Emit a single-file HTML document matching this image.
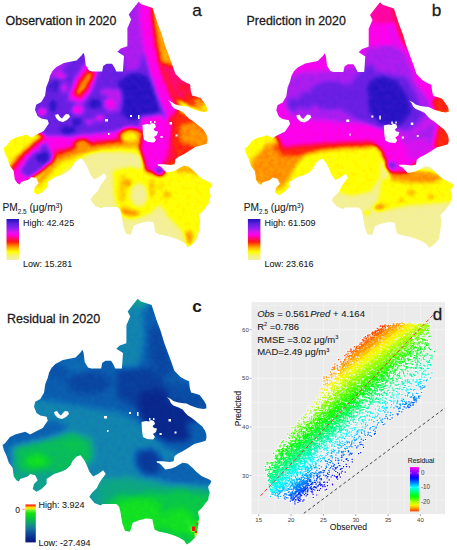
<!DOCTYPE html><html><head><meta charset="utf-8"><style>
html,body{margin:0;padding:0;background:#fff;width:457px;height:550px;overflow:hidden}
svg{display:block}
text{font-family:"Liberation Sans",sans-serif;fill:#1a1a1a;stroke:#1a1a1a;stroke-width:0.08px}
text.t{stroke-width:0.28px}
</style></head><body>
<svg width="457" height="550" viewBox="0 0 457 550">
<defs>
<clipPath id="ol"><path d="M138.7,1.8 L141.3,4.3 L152.6,8 L155.1,15.6 L157.6,23.2 L161.4,33.2 L165.2,45.8 L169,55.9 L172.7,66 L175.2,73.5 L181.5,80 L186.9,83 L190.1,84.3 L190.8,90.9 L192.1,95.5 L196.7,96.8 L200.6,98.1 L203.3,101.4 L205.9,105.3 L207.2,107.9 L207.5,111.2 L204.6,111.9 L199.3,111.2 L195.4,109.9 L191.4,108.6 L187.5,106.6 L182.3,106 L178.3,105.3 L174.4,104 L171.8,102 L168,100 L170.4,102.7 L171.8,106 L174.4,108.6 L179.6,110.6 L183.6,112.5 L186.2,115.8 L188.8,118.4 L192.1,120.4 L195.4,123 L199.3,126.3 L203.3,129.6 L205.9,133.5 L207.2,136.8 L207.5,140.4 L206.6,143.7 L201.7,145.3 L195.2,147 L190.2,150.2 L183.7,154.3 L178.7,156.8 L175.5,159.3 L174.6,164.2 L170.5,165 L164,164.2 L157.4,164.2 L158.2,165.8 L160.7,166.6 L164,169.9 L166.4,172.4 L172.2,171.6 L176.3,169.9 L180.4,167.5 L183.7,165.8 L188.6,166.6 L193.5,170.7 L197.6,174.9 L202.5,179 L205.8,180.6 L209.9,182.2 L212.4,183.9 L211.6,186.3 L209.1,189.6 L209.9,192.9 L210.8,195.4 L209.9,198.6 L209.1,203 L207.9,204.6 L202.8,211 L199,214.8 L200.2,221.1 L199,230 L197.7,237.7 L195.1,241.5 L191.3,245.3 L187.8,247.4 L185,243.5 L180,240.5 L174.5,238.2 L167.2,236 L159.5,234.5 L155.5,232.5 L153.2,222 L146.8,221.5 L139.2,223.5 L133.7,225.8 L131,234.8 L126,233.8 L123.5,227 L122.4,221 L121.4,214.8 L120.1,209.7 L117.5,207.1 L111.2,207.1 L103.5,207.1 L101.7,208.5 L95.4,206 L90.3,199.7 L92.8,195.9 L97.9,190.9 L100.4,185.8 L102.9,182.1 L106.7,177 L104.2,173.3 L99.1,177 L94.1,179.6 L90.3,174.5 L87.8,168.2 L85.3,163.2 L81.5,158.2 L77.7,159.4 L74,163.2 L71.5,168.2 L67.7,172 L62.7,174.5 L55.1,177 L47.6,182.1 L47.6,187.1 L42.5,192.1 L37.5,194.7 L33.7,192.1 L35,187.1 L38.7,183.3 L36.2,178.3 L31.2,177 L28.7,179.6 L21.1,182 L19.9,184.6 L17.4,183.3 L14.8,179.6 L13.6,170.7 L9.8,165.7 L7.3,158.2 L4.8,153.1 L3.5,148.1 L6,146.2 L11,139.9 L16.1,137.4 L26.2,134.8 L31.2,137.4 L36.2,134.8 L43.8,131 L46.3,127.3 L48.8,123.5 L47.6,119.7 L41.3,118.5 L37.5,116 L35,109.7 L36.2,104.7 L41.3,102.1 L45,95.8 L46.3,87 L48.8,80.7 L50,75.7 L52.6,70.7 L56.4,66.9 L63.9,63.1 L76.5,60.6 L81.5,55.6 L83.5,52.8 L84.6,56.1 L85.7,64.9 L89,70.4 L92.3,71.4 L102.1,71.4 L103.2,66 L106.5,63.8 L112,63.8 L114.2,67 L116.3,71.4 L122.9,71.4 L124,56.1 L117.4,51.8 L120.7,48.5 L127.3,46.3 L127.4,43.3 L127.4,28.2 L131.2,19.4 L128.7,14.4 L133.7,8Z"/></clipPath>
<filter id="cmab" x="-5%" y="-5%" width="110%" height="110%" color-interpolation-filters="sRGB">
<feGaussianBlur stdDeviation="2.2" result="bl"/>
<feTurbulence type="fractalNoise" baseFrequency="0.22" numOctaves="2" seed="3" result="nz"/>
<feColorMatrix in="nz" type="matrix" values="1 0 0 0 0  1 0 0 0 0  1 0 0 0 0  0 0 0 0 1" result="ng"/>
<feComposite in="bl" in2="ng" operator="arithmetic" k1="0" k2="1" k3="0.05" k4="-0.025" result="sum"/>
<feComposite in="sum" in2="bl" operator="in"/>
<feComponentTransfer><feFuncR type="table" tableValues="0.953 0.956 0.959 0.962 0.965 0.974 0.982 0.991 1.000 1.000 1.000 1.000 1.000 1.000 1.000 1.000 1.000 1.000 1.000 1.000 1.000 1.000 1.000 1.000 1.000 0.987 0.919 0.852 0.784 0.716 0.647 0.578 0.527 0.480 0.433 0.386 0.335 0.282 0.230 0.178 0.125"/><feFuncG type="table" tableValues="0.937 0.940 0.943 0.946 0.949 0.962 0.975 0.987 1.000 0.923 0.845 0.768 0.690 0.592 0.494 0.393 0.281 0.169 0.094 0.075 0.055 0.037 0.027 0.018 0.008 0.006 0.035 0.065 0.094 0.104 0.114 0.124 0.125 0.125 0.125 0.125 0.115 0.102 0.089 0.076 0.063"/><feFuncB type="table" tableValues="0.651 0.608 0.565 0.522 0.478 0.359 0.239 0.120 0.000 0.000 0.000 0.000 0.000 0.000 0.000 0.004 0.027 0.049 0.110 0.227 0.345 0.464 0.590 0.715 0.841 0.941 0.941 0.941 0.941 0.941 0.941 0.941 0.929 0.913 0.897 0.882 0.858 0.831 0.805 0.779 0.753"/><feFuncA type="linear" slope="1" intercept="0"/></feComponentTransfer>
</filter>
<filter id="cmc" x="-5%" y="-5%" width="110%" height="110%" color-interpolation-filters="sRGB">
<feGaussianBlur stdDeviation="3.2" result="bl"/>
<feTurbulence type="fractalNoise" baseFrequency="0.22" numOctaves="2" seed="3" result="nz"/>
<feColorMatrix in="nz" type="matrix" values="1 0 0 0 0  1 0 0 0 0  1 0 0 0 0  0 0 0 0 1" result="ng"/>
<feComposite in="bl" in2="ng" operator="arithmetic" k1="0" k2="1" k3="0.05" k4="-0.025" result="sum"/>
<feComposite in="sum" in2="bl" operator="in"/>
<feComponentTransfer><feFuncR type="table" tableValues="0.031 0.034 0.036 0.039 0.039 0.039 0.039 0.039 0.039 0.039 0.040 0.043 0.045 0.049 0.056 0.063 0.071 0.068 0.066 0.063 0.057 0.050 0.042 0.038 0.035 0.033 0.035 0.045 0.055 0.075 0.138 0.201 0.264 0.350 0.533 0.716 0.876 1.000 1.000 1.000 1.000"/><feFuncG type="table" tableValues="0.102 0.122 0.141 0.161 0.182 0.204 0.226 0.251 0.278 0.305 0.333 0.363 0.392 0.422 0.454 0.486 0.518 0.547 0.576 0.606 0.631 0.656 0.680 0.708 0.737 0.767 0.796 0.825 0.855 0.885 0.915 0.945 0.976 1.000 1.000 1.000 1.000 0.938 0.626 0.314 0.000"/><feFuncB type="table" tableValues="0.502 0.522 0.541 0.561 0.576 0.591 0.606 0.622 0.639 0.656 0.672 0.684 0.696 0.705 0.700 0.695 0.690 0.661 0.631 0.602 0.557 0.508 0.459 0.410 0.361 0.312 0.263 0.214 0.165 0.129 0.144 0.160 0.176 0.183 0.157 0.131 0.063 0.000 0.000 0.000 0.000"/><feFuncA type="linear" slope="1" intercept="0"/></feComponentTransfer>
</filter>
</defs>
<g transform="translate(0,0)"><g clip-path="url(#ol)"><g filter="url(#cmab)">
<rect x="-10" y="-10" width="240" height="280" fill="#080808"/>
<polygon points="50,160 60,150 80,145 100,143 125,141 145,145 148,156 125,153 100,152 85,156 70,165 58,175 50,178" fill="#333333"/>
<polygon points="15,190 30,178 45,168 58,160 62,172 50,185 40,198 28,200" fill="#333333"/>
<polygon points="148,165 165,160 185,163 200,168 215,185 210,210 200,232 190,250 180,230 168,218 160,205 150,195" fill="#333333"/>
<polygon points="112,170 130,166 150,170 160,185 160,205 150,215 130,221 118,215 113,195" fill="#333333"/>
<ellipse cx="139" cy="195" rx="8" ry="11" fill="#080808"/>
<polygon points="120,176 124,174 126,190 123,204 119,200" fill="#474747"/>
<polygon points="122,207 130,210 140,212 137,216 126,215 121,212" fill="#5c5c5c"/>
<polygon points="150,179 155,182 154,195 150,199 148,190" fill="#474747"/>
<ellipse cx="167" cy="195" rx="3" ry="3" fill="#545454"/>
<ellipse cx="128" cy="183" rx="2.5" ry="2.5" fill="#6e6e6e"/>
<ellipse cx="161" cy="186" rx="2" ry="2" fill="#545454"/>
<ellipse cx="189" cy="238" rx="4" ry="8" fill="#545454"/>
<ellipse cx="131" cy="136" rx="11" ry="7" fill="#333333"/>
<ellipse cx="120" cy="140" rx="5" ry="3" fill="#545454"/>
<polygon points="-5,150 5,136 20,127 35,124 52,122 45,135 30,150 18,165 8,178 -5,178" fill="#333333"/>
<polygon points="6,172 16,158 30,145 45,133 56,130 45,144 30,160 18,176" fill="#6e6e6e"/>
<polygon points="8,186 12,172 24,156 38,143 53,132 72,128 68,141 54,154 42,166 32,177 20,190" fill="#9e9e9e"/>
<polygon points="26,197 36,183 50,169 64,158 85,152 82,162 64,172 52,185 40,198" fill="#333333"/>
<polygon points="30,186 40,176 52,164 62,157 58,165 48,176 38,186" fill="#545454"/>
<polygon points="20,172 28,158 42,145 56,134 78,128 80,136 70,146 56,158 42,170 30,178" fill="#dbdbdb"/>
<ellipse cx="40" cy="152" rx="3" ry="3" fill="#9e9e9e"/>
<ellipse cx="58" cy="140" rx="3" ry="2.5" fill="#9e9e9e"/>
<ellipse cx="43" cy="157" rx="7" ry="6" fill="#fafafa"/>
<ellipse cx="68" cy="136" rx="8" ry="4" fill="#fafafa"/>
<polygon points="30,68 40,55 60,50 90,48 118,50 124,30 122,-5 147,-5 150,30 155,60 165,90 175,118 165,130 150,134 120,133 95,135 75,138 55,140 28,128 25,100" fill="#dbdbdb"/>
<polygon points="50,158 75,150 100,146 125,143 140,144 140,148 120,147 100,150 80,155 60,162" fill="#545454"/>
<polygon points="50,152 75,145 100,141 125,138 138,139 138,143 120,143 95,146 75,150 56,157" fill="#6e6e6e"/>
<polygon points="45,136 80,135 100,133 120,131 138,133 138,139 120,139 95,142 75,146 58,151 48,150" fill="#9e9e9e"/>
<ellipse cx="82" cy="145" rx="8" ry="6" fill="#545454"/>
<polygon points="120,-5 145,-5 146,30 144,55 138,70 125,72 118,40" fill="#bdbdbd"/>
<polygon points="30,65 55,55 70,58 60,75 48,82 36,85" fill="#bdbdbd"/>
<polygon points="118,82 132,72 148,76 157,92 160,112 150,121 130,120 117,110" fill="#fafafa"/>
<ellipse cx="53" cy="106" rx="4" ry="6" fill="#fafafa"/>
<ellipse cx="55" cy="86" rx="8" ry="7" fill="#ededed"/>
<ellipse cx="68" cy="131" rx="8" ry="5" fill="#fafafa"/>
<ellipse cx="95" cy="104" rx="7" ry="5" fill="#fafafa"/>
<ellipse cx="77" cy="122" rx="5" ry="4" fill="#fafafa"/>
<ellipse cx="61" cy="76" rx="5" ry="3" fill="#9e9e9e"/>
<ellipse cx="78" cy="110" rx="6" ry="5" fill="#9e9e9e"/>
<ellipse cx="118" cy="100" rx="4" ry="12" fill="#adadad"/>
<ellipse cx="108" cy="92" rx="8" ry="3" fill="#adadad"/>
<ellipse cx="64" cy="88" rx="4" ry="5" fill="#adadad"/>
<ellipse cx="90" cy="122" rx="5" ry="3" fill="#b2b2b2"/>
<ellipse cx="112" cy="104" rx="9" ry="9" fill="#bdbdbd"/>
<ellipse cx="110" cy="104" rx="5" ry="5" fill="#9e9e9e"/>
<ellipse cx="100" cy="118" rx="5" ry="3" fill="#9e9e9e"/>
<ellipse cx="42" cy="112" rx="5" ry="4" fill="#9e9e9e"/>
<polygon points="86,62 100,66 92,90 82,104 68,100 74,80" fill="#a8a8a8"/>
<polygon points="86,63 99,68 91,92 81,103 68,98 75,80" fill="#9e9e9e"/>
<polygon points="87,70 95,73 88,88 80,98 73,94 79,81" fill="#6e6e6e"/>
<polygon points="89,72 93,74 86,87 79,95 76,92 81,82" fill="#545454"/>
<polygon points="148,-5 165,-5 175,30 185,55 195,75 180,80 168,72 158,55 150,25" fill="#4f4f4f"/>
<polygon points="160,62 180,68 200,85 212,100 200,108 185,104 172,95 162,80" fill="#858585"/>
<polygon points="147,-5 152,-5 154,20 158,45 163,68 173,92 183,108 175,115 165,95 156,72 150,48 147,20" fill="#6e6e6e"/>
<polygon points="139,-5 150,-5 152,20 155,44 160,68 169,92 180,116 170,124 158,100 150,75 144,50 140,25" fill="#9e9e9e"/>
<ellipse cx="184" cy="88" rx="7" ry="5" fill="#787878"/>
<polygon points="184,94 196,94 205,104 198,110 186,106" fill="#6e6e6e"/>
<polygon points="194,98 204,98 212,108 205,116 196,110" fill="#545454"/>
<ellipse cx="205" cy="108" rx="4" ry="3" fill="#333333"/>
<polygon points="165,122 178,110 195,116 212,130 212,152 190,160 170,152" fill="#6e6e6e"/>
<polygon points="180,125 196,122 212,135 210,150 190,152 180,140" fill="#545454"/>
<polygon points="158,138 180,142 200,148 188,162 168,168 156,162" fill="#6e6e6e"/>
<polygon points="160,140 172,144 175,158 165,164 158,158" fill="#808080"/>
<polygon points="176,168 186,164 198,167 206,173 196,175 186,172 177,174" fill="#4c4c4c"/>
<polygon points="140,117 160,114 172,124 170,145 165,160 160,176 145,170 140,150" fill="#9e9e9e"/>
<ellipse cx="160" cy="171" rx="5" ry="4" fill="#dbdbdb"/>
<ellipse cx="131" cy="135" rx="13" ry="8" fill="#6e6e6e"/>
<ellipse cx="131" cy="136" rx="11" ry="7" fill="#545454"/>
<ellipse cx="130" cy="137" rx="8" ry="5" fill="#333333"/>
</g></g>
<path d="M142.5,125 L147,124 L150,124.5 L152,123 L155,124 L156,127 L153.5,129 L155,131 L158,131.5 L157,135 L154,137 L156,140 L154,142.5 L148,142 L144,140 L143,134 Z" fill="#fff"/>
<path d="M55,115 L58,114 L60,117 L62,118.5 L64,116 L66,114 L69,114.5 L70,117 L67,120 L63,122 L59,121 L56,118 Z" fill="#fff"/>
<rect x="130" y="115" width="2" height="2" fill="#fff"/><rect x="138" y="115" width="1.5" height="4" fill="#fff"/>
<rect x="169.5" y="122" width="2.5" height="2.5" fill="#fff"/><rect x="175.5" y="134.5" width="2" height="2" fill="#fff"/>
<rect x="160.5" y="136" width="2.2" height="2" fill="#fff"/><rect x="150" y="121" width="1.5" height="2.5" fill="#fff"/><rect x="154" y="121" width="1.5" height="2" fill="#fff"/>
<rect x="105" y="119" width="3" height="2.5" fill="#fff"/><rect x="108" y="133" width="1.5" height="2" fill="#fff"/>
</g>
<g transform="translate(241.3,0.5)"><g clip-path="url(#ol)"><g filter="url(#cmab)">
<rect x="-10" y="-10" width="240" height="280" fill="#080808"/>
<polygon points="85,150 110,146 140,150 140,175 130,192 110,196 95,192 85,180" fill="#333333"/>
<polygon points="140,178 160,176 185,176 205,176 215,185 212,202 190,204 165,206 148,210 135,205" fill="#333333"/>
<polygon points="145,168 165,168 190,170 205,176 190,183 165,182 150,180" fill="#545454"/>
<ellipse cx="138" cy="207" rx="7" ry="4" fill="#545454"/>
<ellipse cx="126" cy="212" rx="3" ry="2.5" fill="#545454"/>
<ellipse cx="170" cy="192" rx="3" ry="3" fill="#545454"/>
<ellipse cx="190" cy="196" rx="3" ry="2" fill="#545454"/>
<ellipse cx="160" cy="200" rx="2" ry="2" fill="#545454"/>
<polygon points="-5,140 20,130 50,136 95,136 140,133 145,160 120,160 95,165 70,180 50,195 35,200 20,192 -5,175" fill="#333333"/>
<polygon points="8,152 25,143 50,140 70,140 90,138 85,146 65,152 55,165 48,178 40,188 28,190 12,180" fill="#545454"/>
<polygon points="80,140 110,136 135,134 130,143 110,146 90,148" fill="#4c4c4c"/>
<polygon points="-5,140 10,133 25,133 28,140 18,152 8,162 -5,162" fill="#333333"/>
<polygon points="32,146 60,140 100,138 140,136 148,142 125,147 100,148 80,150 60,155 42,156" fill="#6e6e6e"/>
<polygon points="28,128 55,117 90,115 130,113 165,110 200,120 212,135 200,150 180,160 165,172 148,172 140,150 130,141 100,142 70,144 42,147" fill="#9e9e9e"/>
<polygon points="190,128 202,124 215,135 212,152 195,152" fill="#6e6e6e"/>
<polygon points="186,90 200,94 215,106 205,116 190,110" fill="#6e6e6e"/>
<ellipse cx="150" cy="165" rx="6" ry="3" fill="#dbdbdb"/>
<polygon points="158,112 182,112 196,124 194,138 186,150 172,154 160,140" fill="#bdbdbd"/>
<polygon points="165,140 185,138 190,150 175,160 165,155" fill="#adadad"/>
<polygon points="20,60 60,42 100,42 120,35 124,40 150,40 165,55 175,80 190,100 196,118 180,128 165,138 150,130 130,124 100,124 70,122 30,122 20,100" fill="#a3a3a3"/>
<polygon points="42,80 60,72 95,70 118,64 124,52 150,48 165,60 175,82 188,100 192,116 180,126 165,136 150,128 130,122 100,122 70,118 50,116 44,100" fill="#bdbdbd"/>
<ellipse cx="52" cy="104" rx="7" ry="6" fill="#dbdbdb"/>
<ellipse cx="90" cy="95" rx="22" ry="14" fill="#dbdbdb"/>
<ellipse cx="65" cy="100" rx="8" ry="8" fill="#dbdbdb"/>
<polygon points="110,82 125,66 145,60 162,72 175,95 182,115 168,128 140,128 118,120 102,110 98,95" fill="#dbdbdb"/>
<polygon points="126,84 140,75 155,80 166,95 170,112 160,124 140,124 128,112" fill="#fafafa"/>
<ellipse cx="135" cy="84" rx="7" ry="6" fill="#fafafa"/>
<polygon points="120,-5 170,-5 172,30 176,55 160,60 140,58 122,50 118,30" fill="#9e9e9e"/>
<polygon points="140,-5 165,-5 170,35 172,55 160,55 148,35" fill="#a8a8a8"/>
<polygon points="122,48 150,44 168,56 178,75 160,76 135,72" fill="#bdbdbd"/>
<polygon points="125,-5 165,-5 162,18 148,24 132,22 124,12" fill="#8f8f8f"/>
<polygon points="150,6 165,2 172,30 176,50 166,52 157,35" fill="#7a7a7a"/>
<polygon points="170,40 185,70 200,95 190,100 175,80 165,55" fill="#9e9e9e"/>
</g></g>
<path d="M142.5,125 L147,124 L150,124.5 L152,123 L155,124 L156,127 L153.5,129 L155,131 L158,131.5 L157,135 L154,137 L156,140 L154,142.5 L148,142 L144,140 L143,134 Z" fill="#fff"/>
<path d="M55,115 L58,114 L60,117 L62,118.5 L64,116 L66,114 L69,114.5 L70,117 L67,120 L63,122 L59,121 L56,118 Z" fill="#fff"/>
<rect x="130" y="115" width="2" height="2" fill="#fff"/><rect x="138" y="115" width="1.5" height="4" fill="#fff"/>
<rect x="169.5" y="122" width="2.5" height="2.5" fill="#fff"/><rect x="175.5" y="134.5" width="2" height="2" fill="#fff"/>
<rect x="160.5" y="136" width="2.2" height="2" fill="#fff"/><rect x="150" y="121" width="1.5" height="2.5" fill="#fff"/><rect x="154" y="121" width="1.5" height="2" fill="#fff"/>
<rect x="105" y="119" width="3" height="2.5" fill="#fff"/><rect x="108" y="133" width="1.5" height="2" fill="#fff"/>
</g>
<g transform="translate(-1,297)"><g clip-path="url(#ol)"><g filter="url(#cmc)">
<rect x="-10" y="-10" width="240" height="280" fill="#666666"/>
<polygon points="30,55 60,48 118,48 122,20 125,-5 170,-5 175,60 195,85 215,100 215,160 190,160 165,150 140,125 120,115 90,110 60,105 30,100" fill="#474747"/>
<polygon points="115,-5 143,5 146,40 140,72 118,72" fill="#666666"/>
<ellipse cx="75" cy="68" rx="18" ry="8" fill="#525252"/>
<ellipse cx="142" cy="3" rx="9" ry="8" fill="#808080"/>
<polygon points="150,30 162,30 175,75 160,82 150,60" fill="#333333"/>
<ellipse cx="90" cy="86" rx="22" ry="11" fill="#333333"/>
<ellipse cx="60" cy="75" rx="10" ry="8" fill="#3d3d3d"/>
<polygon points="118,72 150,70 170,90 170,113 140,113 118,100" fill="#2b2b2b"/>
<polygon points="140,95 165,92 190,110 205,125 200,143 170,145 150,135 140,115" fill="#121212"/>
<polygon points="165,85 190,88 215,100 210,112 190,110 170,105" fill="#383838"/>
<polygon points="188,124 205,124 215,140 210,155 192,152" fill="#474747"/>
<polygon points="-5,128 15,126 18,140 14,170 -5,170" fill="#545454"/>
<polygon points="5,130 30,125 60,124 70,132 50,140 30,146 10,150" fill="#4a4a4a"/>
<polygon points="14,150 30,146 50,142 72,135 92,142 95,160 80,175 50,178 30,180 15,172" fill="#999999"/>
<ellipse cx="38" cy="164" rx="12" ry="7" fill="#b8b8b8"/>
<ellipse cx="17" cy="181" rx="5" ry="4" fill="#a8a8a8"/>
<polygon points="30,176 50,174 60,180 55,196 40,198 30,190" fill="#808080"/>
<ellipse cx="75" cy="150" rx="10" ry="8" fill="#9e9e9e"/>
<polygon points="137,154 155,152 165,165 160,178 145,178 137,168" fill="#262626"/>
<polygon points="159,165 185,163 215,180 215,190 185,188 162,185" fill="#4c4c4c"/>
<polygon points="85,184 118,184 118,212 100,212 85,200" fill="#7a7a7a"/>
<polygon points="100,182 130,180 160,186 190,188 215,190 215,202 180,202 150,204 120,208 100,208" fill="#858585"/>
<polygon points="108,204 122,196 138,198 150,194 168,196 180,192 195,196 215,198 215,255 108,255" fill="#a3a3a3"/>
<polygon points="118,206 140,200 160,205 165,225 157,236 120,236" fill="#b8b8b8"/>
<ellipse cx="180" cy="224" rx="16" ry="13" fill="#b8b8b8"/>
<ellipse cx="194" cy="232" rx="4" ry="7" fill="#cccccc"/>
</g><g transform="translate(1,-297)">
<rect x="191.5" y="529" width="3" height="3" fill="#d8f020" opacity="0.8"/>
<rect x="194.6" y="533" width="2.6" height="3.7" fill="#f0f020"/>
<rect x="197.6" y="520.6" width="2" height="1.4" fill="#f0f020"/>
<rect x="192" y="526.5" width="3.3" height="4.5" fill="#ff1010"/>
<rect x="195.3" y="531" width="2" height="2" fill="#ff1010"/>
<rect x="196.5" y="523.4" width="1.6" height="1.6" fill="#ff3010"/>
<rect x="194" y="538.6" width="1.3" height="1.4" fill="#ff9020"/>
</g></g>
<path d="M142.5,125 L147,124 L150,124.5 L152,123 L155,124 L156,127 L153.5,129 L155,131 L158,131.5 L157,135 L154,137 L156,140 L154,142.5 L148,142 L144,140 L143,134 Z" fill="#fff"/>
<path d="M55,115 L58,114 L60,117 L62,118.5 L64,116 L66,114 L69,114.5 L70,117 L67,120 L63,122 L59,121 L56,118 Z" fill="#fff"/>
<rect x="130" y="115" width="2" height="2" fill="#fff"/><rect x="138" y="115" width="1.5" height="4" fill="#fff"/>
<rect x="169.5" y="122" width="2.5" height="2.5" fill="#fff"/><rect x="175.5" y="134.5" width="2" height="2" fill="#fff"/>
<rect x="160.5" y="136" width="2.2" height="2" fill="#fff"/><rect x="150" y="121" width="1.5" height="2.5" fill="#fff"/><rect x="154" y="121" width="1.5" height="2" fill="#fff"/>
<rect x="105" y="119" width="3" height="2.5" fill="#fff"/><rect x="108" y="133" width="1.5" height="2" fill="#fff"/>
</g>
<g transform="translate(0,0)">
<linearGradient id="lg0" x1="0" y1="1" x2="0" y2="0"><stop offset="0.0" stop-color="#f3efa6"/><stop offset="0.1" stop-color="#f6f27a"/><stop offset="0.2" stop-color="#ffff00"/><stop offset="0.3" stop-color="#ffb000"/><stop offset="0.37" stop-color="#ff6a00"/><stop offset="0.44" stop-color="#ff1a10"/><stop offset="0.52" stop-color="#ff0a70"/><stop offset="0.62" stop-color="#ff00f0"/><stop offset="0.7" stop-color="#c818f0"/><stop offset="0.78" stop-color="#9020f0"/><stop offset="0.88" stop-color="#6020e0"/><stop offset="1.0" stop-color="#2010c0"/></linearGradient>
<rect x="6.5" y="219" width="12.5" height="41" fill="url(#lg0)"/>
<text x="2.4" y="211.4" font-size="10.2">PM<tspan font-size="6.4" dy="2.2">2.5</tspan><tspan dy="-2.2"> (μg/m</tspan><tspan font-size="6.4" dy="-3.5">3</tspan><tspan dy="3.5">)</tspan></text>
<text x="23.1" y="226" font-size="9">High: 42.425</text>
<text x="23.1" y="266.6" font-size="9">Low: 15.281</text>
</g>
<g transform="translate(241.4,0)">
<linearGradient id="lg241" x1="0" y1="1" x2="0" y2="0"><stop offset="0.0" stop-color="#f3efa6"/><stop offset="0.1" stop-color="#f6f27a"/><stop offset="0.2" stop-color="#ffff00"/><stop offset="0.3" stop-color="#ffb000"/><stop offset="0.37" stop-color="#ff6a00"/><stop offset="0.44" stop-color="#ff1a10"/><stop offset="0.52" stop-color="#ff0a70"/><stop offset="0.62" stop-color="#ff00f0"/><stop offset="0.7" stop-color="#c818f0"/><stop offset="0.78" stop-color="#9020f0"/><stop offset="0.88" stop-color="#6020e0"/><stop offset="1.0" stop-color="#2010c0"/></linearGradient>
<rect x="6.5" y="219" width="12.5" height="41" fill="url(#lg241)"/>
<text x="2.4" y="211.4" font-size="10.2">PM<tspan font-size="6.4" dy="2.2">2.5</tspan><tspan dy="-2.2"> (μg/m</tspan><tspan font-size="6.4" dy="-3.5">3</tspan><tspan dy="3.5">)</tspan></text>
<text x="23.1" y="226" font-size="9">High: 61.509</text>
<text x="23.1" y="266.6" font-size="9">Low: 23.616</text>
</g>
<linearGradient id="lgc" x1="0" y1="1" x2="0" y2="0"><stop offset="0" stop-color="#0a1478"/><stop offset="0.12" stop-color="#0c2e90"/><stop offset="0.25" stop-color="#104e9c"/><stop offset="0.38" stop-color="#147898"/><stop offset="0.5" stop-color="#109c78"/><stop offset="0.62" stop-color="#08c040"/><stop offset="0.76" stop-color="#10e010"/><stop offset="0.84" stop-color="#60f030"/><stop offset="0.88" stop-color="#d0f020"/><stop offset="0.92" stop-color="#ffe000"/><stop offset="0.95" stop-color="#ff8000"/><stop offset="1" stop-color="#ff0000"/></linearGradient>
<rect x="25.4" y="504.5" width="10.4" height="37.9" fill="url(#lgc)"/>
<line x1="22.2" y1="509.3" x2="24.8" y2="509.3" stroke="#ff5050" stroke-width="0.7"/>
<text x="15.2" y="512.6" font-size="8.6">0</text>
<text x="38.5" y="507.6" font-size="9">High: 3.924</text>
<text x="38.5" y="545.8" font-size="9">Low: -27.494</text>
<text x="5.5" y="25.4" font-size="12.4" class="t">Observation in 2020</text>
<text x="192.2" y="16.3" font-size="17.2" class="t">a</text>
<text x="246.6" y="25.0" font-size="12.4" class="t">Prediction in 2020</text>
<text x="431.8" y="16" font-size="17.2" class="t">b</text>
<text x="7.0" y="322.6" font-size="12.5" class="t">Residual in 2020</text>
<text x="192.3" y="312" font-size="17.2" font-weight="bold">c</text>
<rect x="251.5" y="302.2" width="193.5" height="211.9" fill="#ebebeb"/>
<line x1="258.7" y1="302.2" x2="258.7" y2="514.1" stroke="#fff" stroke-width="0.8" opacity="0.55"/>
<line x1="274.9" y1="302.2" x2="274.9" y2="514.1" stroke="#fff" stroke-width="0.5" opacity="0.55"/>
<line x1="291.1" y1="302.2" x2="291.1" y2="514.1" stroke="#fff" stroke-width="0.8" opacity="0.55"/>
<line x1="307.2" y1="302.2" x2="307.2" y2="514.1" stroke="#fff" stroke-width="0.5" opacity="0.55"/>
<line x1="323.4" y1="302.2" x2="323.4" y2="514.1" stroke="#fff" stroke-width="0.8" opacity="0.55"/>
<line x1="339.6" y1="302.2" x2="339.6" y2="514.1" stroke="#fff" stroke-width="0.5" opacity="0.55"/>
<line x1="355.8" y1="302.2" x2="355.8" y2="514.1" stroke="#fff" stroke-width="0.8" opacity="0.55"/>
<line x1="371.9" y1="302.2" x2="371.9" y2="514.1" stroke="#fff" stroke-width="0.5" opacity="0.55"/>
<line x1="388.1" y1="302.2" x2="388.1" y2="514.1" stroke="#fff" stroke-width="0.8" opacity="0.55"/>
<line x1="404.3" y1="302.2" x2="404.3" y2="514.1" stroke="#fff" stroke-width="0.5" opacity="0.55"/>
<line x1="420.4" y1="302.2" x2="420.4" y2="514.1" stroke="#fff" stroke-width="0.8" opacity="0.55"/>
<line x1="436.6" y1="302.2" x2="436.6" y2="514.1" stroke="#fff" stroke-width="0.5" opacity="0.55"/>
<line x1="251.5" y1="499.8" x2="445" y2="499.8" stroke="#fff" stroke-width="0.5" opacity="0.55"/>
<line x1="251.5" y1="475.5" x2="445" y2="475.5" stroke="#fff" stroke-width="0.8" opacity="0.55"/>
<line x1="251.5" y1="451.2" x2="445" y2="451.2" stroke="#fff" stroke-width="0.5" opacity="0.55"/>
<line x1="251.5" y1="426.9" x2="445" y2="426.9" stroke="#fff" stroke-width="0.8" opacity="0.55"/>
<line x1="251.5" y1="402.6" x2="445" y2="402.6" stroke="#fff" stroke-width="0.5" opacity="0.55"/>
<line x1="251.5" y1="378.3" x2="445" y2="378.3" stroke="#fff" stroke-width="0.8" opacity="0.55"/>
<line x1="251.5" y1="354.0" x2="445" y2="354.0" stroke="#fff" stroke-width="0.5" opacity="0.55"/>
<line x1="251.5" y1="329.7" x2="445" y2="329.7" stroke="#fff" stroke-width="0.8" opacity="0.55"/>
<line x1="251.5" y1="305.4" x2="445" y2="305.4" stroke="#fff" stroke-width="0.5" opacity="0.55"/>
<filter id="halo" x="0" y="0" width="100%" height="100%" color-interpolation-filters="sRGB"><feMorphology in="SourceAlpha" operator="dilate" radius="0.9" result="d"/><feFlood flood-color="#ffffff" flood-opacity="0.55"/><feComposite in2="d" operator="in" result="w"/><feMerge><feMergeNode in="w"/><feMergeNode in="SourceGraphic"/></feMerge></filter>
<g filter="url(#halo)"><path d="M328.4 435.6h1.2v1.2h-1.2zM392.2 389.4h1.2v1.2h-1.2zM325.8 441.0h1.2v1.2h-1.2zM348.6 421.8h1.2v1.2h-1.2zM376.3 401.2h1.2v1.2h-1.2zM297.7 461.3h1.2v1.2h-1.2zM317.0 447.6h1.2v1.2h-1.2zM306.8 455.1h1.2v1.2h-1.2zM313.4 449.5h1.2v1.2h-1.2zM339.7 430.4h1.2v1.2h-1.2zM315.3 447.7h1.2v1.2h-1.2zM322.5 440.8h1.2v1.2h-1.2zM397.0 388.3h1.2v1.2h-1.2zM291.2 465.8h1.2v1.2h-1.2zM407.3 380.7h1.2v1.2h-1.2zM305.2 454.3h1.2v1.2h-1.2zM292.0 466.9h1.2v1.2h-1.2zM365.8 407.8h1.2v1.2h-1.2zM385.8 393.0h1.2v1.2h-1.2zM404.5 379.5h1.2v1.2h-1.2zM292.7 462.3h1.2v1.2h-1.2zM365.1 410.3h1.2v1.2h-1.2zM308.5 454.0h1.2v1.2h-1.2zM279.3 474.0h1.2v1.2h-1.2zM302.7 458.9h1.2v1.2h-1.2zM275.9 478.6h1.2v1.2h-1.2zM297.1 458.9h1.2v1.2h-1.2zM269.6 481.7h1.2v1.2h-1.2zM398.0 383.7h1.2v1.2h-1.2zM386.5 394.0h1.2v1.2h-1.2zM413.0 373.6h1.2v1.2h-1.2zM281.6 474.3h1.2v1.2h-1.2zM339.3 428.9h1.2v1.2h-1.2zM316.5 445.0h1.2v1.2h-1.2zM305.6 454.5h1.2v1.2h-1.2zM283.0 472.3h1.2v1.2h-1.2zM377.4 400.9h1.2v1.2h-1.2zM328.7 437.8h1.2v1.2h-1.2zM335.5 431.4h1.2v1.2h-1.2zM309.5 451.1h1.2v1.2h-1.2zM341.1 426.3h1.2v1.2h-1.2zM270.2 481.5h1.2v1.2h-1.2zM319.0 442.4h1.2v1.2h-1.2zM328.5 435.4h1.2v1.2h-1.2zM306.3 452.7h1.2v1.2h-1.2zM300.1 460.6h1.2v1.2h-1.2zM414.7 371.0h1.2v1.2h-1.2zM291.6 464.7h1.2v1.2h-1.2zM315.4 445.6h1.2v1.2h-1.2zM300.0 459.5h1.2v1.2h-1.2zM274.4 476.8h1.2v1.2h-1.2zM426.9 365.4h1.2v1.2h-1.2zM292.5 462.2h1.2v1.2h-1.2zM343.3 426.4h1.2v1.2h-1.2zM296.4 463.9h1.2v1.2h-1.2zM281.5 470.6h1.2v1.2h-1.2zM417.3 372.2h1.2v1.2h-1.2zM279.3 475.8h1.2v1.2h-1.2zM339.6 429.7h1.2v1.2h-1.2zM419.7 366.9h1.2v1.2h-1.2zM393.3 389.3h1.2v1.2h-1.2zM427.8 361.8h1.2v1.2h-1.2zM272.4 482.1h1.2v1.2h-1.2zM273.5 477.0h1.2v1.2h-1.2zM278.8 473.8h1.2v1.2h-1.2zM305.9 452.7h1.2v1.2h-1.2zM405.1 380.8h1.2v1.2h-1.2zM290.4 467.4h1.2v1.2h-1.2zM335.7 433.4h1.2v1.2h-1.2zM279.3 476.1h1.2v1.2h-1.2zM297.7 460.4h1.2v1.2h-1.2zM278.9 474.8h1.2v1.2h-1.2zM290.5 465.3h1.2v1.2h-1.2zM311.0 448.5h1.2v1.2h-1.2zM340.1 428.2h1.2v1.2h-1.2zM399.4 386.4h1.2v1.2h-1.2zM272.1 482.1h1.2v1.2h-1.2zM423.2 364.6h1.2v1.2h-1.2zM279.7 473.1h1.2v1.2h-1.2zM318.8 443.0h1.2v1.2h-1.2zM287.8 469.0h1.2v1.2h-1.2zM306.1 453.2h1.2v1.2h-1.2zM300.4 461.0h1.2v1.2h-1.2zM279.3 475.0h1.2v1.2h-1.2zM289.7 466.0h1.2v1.2h-1.2zM426.9 362.0h1.2v1.2h-1.2zM283.1 472.1h1.2v1.2h-1.2zM328.0 435.8h1.2v1.2h-1.2zM296.3 460.4h1.2v1.2h-1.2zM291.5 467.7h1.2v1.2h-1.2zM272.8 477.4h1.2v1.2h-1.2zM337.1 431.9h1.2v1.2h-1.2zM274.2 478.7h1.2v1.2h-1.2zM352.8 420.2h1.2v1.2h-1.2zM326.2 438.6h1.2v1.2h-1.2zM313.7 446.8h1.2v1.2h-1.2zM315.0 447.7h1.2v1.2h-1.2zM281.6 475.0h1.2v1.2h-1.2zM424.3 365.3h1.2v1.2h-1.2zM279.2 476.5h1.2v1.2h-1.2zM421.0 367.3h1.2v1.2h-1.2zM302.4 455.6h1.2v1.2h-1.2zM286.5 467.4h1.2v1.2h-1.2zM273.5 480.9h1.2v1.2h-1.2zM307.6 455.0h1.2v1.2h-1.2zM283.0 473.9h1.2v1.2h-1.2zM282.6 471.2h1.2v1.2h-1.2zM411.5 375.6h1.2v1.2h-1.2zM273.1 477.4h1.2v1.2h-1.2zM276.7 474.7h1.2v1.2h-1.2zM275.0 476.5h1.2v1.2h-1.2zM302.5 455.7h1.2v1.2h-1.2zM427.6 360.8h1.2v1.2h-1.2zM308.4 450.7h1.2v1.2h-1.2zM274.6 479.8h1.2v1.2h-1.2zM279.3 476.5h1.2v1.2h-1.2zM285.3 470.7h1.2v1.2h-1.2zM372.4 403.6h1.2v1.2h-1.2zM313.9 447.6h1.2v1.2h-1.2zM427.6 361.6h1.2v1.2h-1.2zM328.0 437.7h1.2v1.2h-1.2zM285.2 469.1h1.2v1.2h-1.2zM299.5 461.7h1.2v1.2h-1.2zM420.1 367.8h1.2v1.2h-1.2zM305.1 457.0h1.2v1.2h-1.2zM399.4 386.4h1.2v1.2h-1.2zM359.3 412.9h1.2v1.2h-1.2zM287.5 470.4h1.2v1.2h-1.2zM341.2 427.7h1.2v1.2h-1.2zM276.9 477.4h1.2v1.2h-1.2zM318.9 446.5h1.2v1.2h-1.2zM332.9 434.5h1.2v1.2h-1.2zM391.7 392.3h1.2v1.2h-1.2zM275.2 479.8h1.2v1.2h-1.2zM348.7 422.7h1.2v1.2h-1.2zM427.8 364.0h1.2v1.2h-1.2zM293.8 463.7h1.2v1.2h-1.2zM303.5 457.9h1.2v1.2h-1.2zM316.6 444.2h1.2v1.2h-1.2zM283.3 470.3h1.2v1.2h-1.2zM397.0 384.5h1.2v1.2h-1.2zM343.2 424.3h1.2v1.2h-1.2zM309.6 451.6h1.2v1.2h-1.2zM294.3 461.7h1.2v1.2h-1.2zM332.2 435.6h1.2v1.2h-1.2zM326.1 440.8h1.2v1.2h-1.2zM314.8 446.7h1.2v1.2h-1.2zM330.7 435.5h1.2v1.2h-1.2zM294.1 464.3h1.2v1.2h-1.2zM367.6 407.2h1.2v1.2h-1.2zM307.5 455.3h1.2v1.2h-1.2zM299.3 460.9h1.2v1.2h-1.2zM279.6 476.7h1.2v1.2h-1.2zM296.7 459.5h1.2v1.2h-1.2zM368.0 406.2h1.2v1.2h-1.2zM281.5 472.7h1.2v1.2h-1.2zM352.4 418.5h1.2v1.2h-1.2zM288.6 467.4h1.2v1.2h-1.2zM276.2 475.1h1.2v1.2h-1.2zM324.1 440.3h1.2v1.2h-1.2zM373.8 401.6h1.2v1.2h-1.2zM291.5 465.5h1.2v1.2h-1.2zM386.5 392.8h1.2v1.2h-1.2zM280.2 471.7h1.2v1.2h-1.2zM299.1 461.7h1.2v1.2h-1.2zM389.1 392.0h1.2v1.2h-1.2zM421.3 368.6h1.2v1.2h-1.2zM294.3 461.7h1.2v1.2h-1.2zM284.5 469.3h1.2v1.2h-1.2zM402.1 381.4h1.2v1.2h-1.2zM285.1 471.4h1.2v1.2h-1.2zM271.0 479.8h1.2v1.2h-1.2zM382.0 396.7h1.2v1.2h-1.2zM428.9 361.8h1.2v1.2h-1.2zM276.7 477.6h1.2v1.2h-1.2zM289.2 464.8h1.2v1.2h-1.2zM285.1 468.9h1.2v1.2h-1.2zM326.9 438.1h1.2v1.2h-1.2zM280.6 474.2h1.2v1.2h-1.2zM291.0 466.0h1.2v1.2h-1.2zM297.3 463.0h1.2v1.2h-1.2zM275.8 475.1h1.2v1.2h-1.2zM301.8 458.0h1.2v1.2h-1.2zM290.4 465.3h1.2v1.2h-1.2zM287.4 466.7h1.2v1.2h-1.2zM292.7 463.6h1.2v1.2h-1.2zM270.3 481.7h1.2v1.2h-1.2zM313.6 447.5h1.2v1.2h-1.2zM282.0 471.0h1.2v1.2h-1.2zM304.7 457.9h1.2v1.2h-1.2zM315.9 446.5h1.2v1.2h-1.2zM298.7 458.1h1.2v1.2h-1.2zM422.9 368.0h1.2v1.2h-1.2zM283.2 469.4h1.2v1.2h-1.2zM270.5 481.6h1.2v1.2h-1.2zM332.3 432.8h1.2v1.2h-1.2zM338.0 431.0h1.2v1.2h-1.2zM306.9 452.4h1.2v1.2h-1.2zM293.4 465.2h1.2v1.2h-1.2zM314.4 449.5h1.2v1.2h-1.2zM412.9 373.8h1.2v1.2h-1.2zM308.6 452.7h1.2v1.2h-1.2zM316.2 447.5h1.2v1.2h-1.2zM410.8 374.2h1.2v1.2h-1.2zM326.8 437.3h1.2v1.2h-1.2zM343.9 426.2h1.2v1.2h-1.2zM292.9 465.0h1.2v1.2h-1.2zM290.8 467.6h1.2v1.2h-1.2zM278.6 477.2h1.2v1.2h-1.2zM360.0 416.2h1.2v1.2h-1.2zM365.4 410.7h1.2v1.2h-1.2zM270.9 480.8h1.2v1.2h-1.2zM279.0 474.6h1.2v1.2h-1.2zM291.0 463.4h1.2v1.2h-1.2zM279.4 473.6h1.2v1.2h-1.2zM402.7 383.0h1.2v1.2h-1.2zM309.9 453.7h1.2v1.2h-1.2zM314.5 449.7h1.2v1.2h-1.2zM291.8 465.1h1.2v1.2h-1.2zM301.6 457.2h1.2v1.2h-1.2zM297.4 460.7h1.2v1.2h-1.2zM301.9 457.0h1.2v1.2h-1.2zM270.4 482.3h1.2v1.2h-1.2zM269.4 481.6h1.2v1.2h-1.2zM430.1 363.7h1.2v1.2h-1.2zM338.2 431.4h1.2v1.2h-1.2zM410.9 375.8h1.2v1.2h-1.2zM326.7 439.4h1.2v1.2h-1.2zM301.3 457.7h1.2v1.2h-1.2zM308.8 452.1h1.2v1.2h-1.2zM293.3 466.1h1.2v1.2h-1.2zM345.2 423.4h1.2v1.2h-1.2zM282.4 474.7h1.2v1.2h-1.2zM299.6 461.1h1.2v1.2h-1.2zM279.8 476.3h1.2v1.2h-1.2zM377.9 398.7h1.2v1.2h-1.2zM285.3 468.6h1.2v1.2h-1.2zM326.7 436.6h1.2v1.2h-1.2zM321.1 443.1h1.2v1.2h-1.2zM289.2 466.6h1.2v1.2h-1.2zM385.5 392.9h1.2v1.2h-1.2zM311.9 448.2h1.2v1.2h-1.2zM321.8 443.2h1.2v1.2h-1.2zM275.2 479.6h1.2v1.2h-1.2zM282.2 471.6h1.2v1.2h-1.2zM353.5 418.6h1.2v1.2h-1.2zM273.5 480.3h1.2v1.2h-1.2zM318.1 446.5h1.2v1.2h-1.2zM413.8 374.5h1.2v1.2h-1.2zM298.8 459.1h1.2v1.2h-1.2zM307.8 454.4h1.2v1.2h-1.2zM293.6 465.6h1.2v1.2h-1.2zM347.2 425.4h1.2v1.2h-1.2zM293.4 463.4h1.2v1.2h-1.2zM414.4 374.7h1.2v1.2h-1.2zM286.1 468.6h1.2v1.2h-1.2zM338.6 429.0h1.2v1.2h-1.2zM276.4 477.1h1.2v1.2h-1.2zM307.4 455.3h1.2v1.2h-1.2zM343.1 427.6h1.2v1.2h-1.2zM410.4 374.9h1.2v1.2h-1.2zM277.2 475.0h1.2v1.2h-1.2zM310.5 452.1h1.2v1.2h-1.2zM328.2 438.1h1.2v1.2h-1.2zM406.8 379.6h1.2v1.2h-1.2zM313.8 448.2h1.2v1.2h-1.2zM352.2 420.3h1.2v1.2h-1.2zM285.3 470.6h1.2v1.2h-1.2zM415.6 371.0h1.2v1.2h-1.2zM299.0 459.4h1.2v1.2h-1.2zM348.1 420.8h1.2v1.2h-1.2zM271.9 480.7h1.2v1.2h-1.2zM323.8 441.7h1.2v1.2h-1.2zM327.2 437.5h1.2v1.2h-1.2zM361.7 412.2h1.2v1.2h-1.2zM331.8 434.4h1.2v1.2h-1.2zM322.2 440.8h1.2v1.2h-1.2zM431.4 358.4h1.2v1.2h-1.2zM273.8 478.7h1.2v1.2h-1.2zM330.5 435.6h1.2v1.2h-1.2zM402.2 384.1h1.2v1.2h-1.2zM276.7 476.9h1.2v1.2h-1.2zM288.4 469.1h1.2v1.2h-1.2zM350.0 419.4h1.2v1.2h-1.2zM419.3 369.9h1.2v1.2h-1.2zM325.4 437.9h1.2v1.2h-1.2zM287.7 470.1h1.2v1.2h-1.2zM401.3 382.5h1.2v1.2h-1.2zM311.5 448.7h1.2v1.2h-1.2zM289.5 465.9h1.2v1.2h-1.2zM310.8 449.7h1.2v1.2h-1.2zM331.6 434.8h1.2v1.2h-1.2zM331.4 433.7h1.2v1.2h-1.2zM274.0 478.3h1.2v1.2h-1.2zM304.3 453.5h1.2v1.2h-1.2zM285.8 469.4h1.2v1.2h-1.2zM332.9 432.2h1.2v1.2h-1.2zM308.2 452.3h1.2v1.2h-1.2zM272.6 479.3h1.2v1.2h-1.2zM293.8 464.1h1.2v1.2h-1.2zM339.6 428.7h1.2v1.2h-1.2zM301.2 459.9h1.2v1.2h-1.2zM309.8 452.4h1.2v1.2h-1.2zM340.7 430.2h1.2v1.2h-1.2zM381.7 399.6h1.2v1.2h-1.2zM286.5 468.4h1.2v1.2h-1.2zM273.1 479.8h1.2v1.2h-1.2zM358.9 413.3h1.2v1.2h-1.2zM270.1 480.1h1.2v1.2h-1.2zM287.5 470.4h1.2v1.2h-1.2zM393.1 390.3h1.2v1.2h-1.2zM309.5 454.1h1.2v1.2h-1.2zM323.4 439.4h1.2v1.2h-1.2zM377.7 402.2h1.2v1.2h-1.2zM285.4 467.7h1.2v1.2h-1.2zM345.3 423.9h1.2v1.2h-1.2zM334.7 430.6h1.2v1.2h-1.2zM320.0 445.5h1.2v1.2h-1.2zM296.0 463.1h1.2v1.2h-1.2zM334.6 434.2h1.2v1.2h-1.2zM320.7 441.3h1.2v1.2h-1.2zM366.1 407.4h1.2v1.2h-1.2zM306.9 454.9h1.2v1.2h-1.2zM271.6 478.4h1.2v1.2h-1.2zM293.5 463.2h1.2v1.2h-1.2zM310.0 449.2h1.2v1.2h-1.2zM403.6 382.6h1.2v1.2h-1.2zM307.3 451.6h1.2v1.2h-1.2zM344.1 427.1h1.2v1.2h-1.2zM423.5 365.4h1.2v1.2h-1.2zM420.7 368.0h1.2v1.2h-1.2zM304.7 456.3h1.2v1.2h-1.2zM310.1 450.6h1.2v1.2h-1.2zM310.2 452.8h1.2v1.2h-1.2zM289.8 469.0h1.2v1.2h-1.2zM275.7 476.9h1.2v1.2h-1.2zM279.8 474.6h1.2v1.2h-1.2zM271.8 478.7h1.2v1.2h-1.2zM277.7 476.6h1.2v1.2h-1.2zM275.2 479.8h1.2v1.2h-1.2zM338.6 427.7h1.2v1.2h-1.2zM329.1 439.5h1.2v1.2h-1.2zM317.5 445.3h1.2v1.2h-1.2zM380.3 398.4h1.2v1.2h-1.2zM303.3 454.2h1.2v1.2h-1.2zM279.9 474.8h1.2v1.2h-1.2zM316.4 448.9h1.2v1.2h-1.2zM379.9 398.2h1.2v1.2h-1.2zM407.3 378.9h1.2v1.2h-1.2zM327.8 437.1h1.2v1.2h-1.2zM276.0 476.6h1.2v1.2h-1.2zM274.1 479.8h1.2v1.2h-1.2zM374.5 401.2h1.2v1.2h-1.2zM334.4 433.5h1.2v1.2h-1.2zM282.4 473.1h1.2v1.2h-1.2zM346.5 424.9h1.2v1.2h-1.2zM273.7 481.0h1.2v1.2h-1.2zM288.3 467.3h1.2v1.2h-1.2zM314.4 447.7h1.2v1.2h-1.2zM303.1 455.3h1.2v1.2h-1.2zM379.2 401.6h1.2v1.2h-1.2zM271.3 480.8h1.2v1.2h-1.2zM341.9 429.5h1.2v1.2h-1.2zM315.3 446.9h1.2v1.2h-1.2zM350.5 419.6h1.2v1.2h-1.2zM322.4 442.1h1.2v1.2h-1.2zM324.6 440.2h1.2v1.2h-1.2zM379.2 400.2h1.2v1.2h-1.2zM345.8 425.3h1.2v1.2h-1.2zM386.0 394.8h1.2v1.2h-1.2zM327.1 438.9h1.2v1.2h-1.2zM287.1 468.7h1.2v1.2h-1.2zM291.9 464.7h1.2v1.2h-1.2zM273.1 478.8h1.2v1.2h-1.2zM306.9 453.4h1.2v1.2h-1.2zM290.2 465.0h1.2v1.2h-1.2zM318.5 443.0h1.2v1.2h-1.2zM328.2 438.6h1.2v1.2h-1.2zM367.2 408.1h1.2v1.2h-1.2zM274.0 480.6h1.2v1.2h-1.2zM320.7 443.5h1.2v1.2h-1.2zM283.4 471.7h1.2v1.2h-1.2zM353.8 418.8h1.2v1.2h-1.2zM278.8 473.4h1.2v1.2h-1.2zM341.4 429.0h1.2v1.2h-1.2zM283.3 470.0h1.2v1.2h-1.2zM268.5 484.3h1.2v1.2h-1.2zM300.4 457.9h1.2v1.2h-1.2zM297.1 459.8h1.2v1.2h-1.2zM306.3 454.6h1.2v1.2h-1.2zM307.9 453.3h1.2v1.2h-1.2zM298.8 458.7h1.2v1.2h-1.2zM327.1 438.1h1.2v1.2h-1.2zM327.4 439.4h1.2v1.2h-1.2zM300.3 459.5h1.2v1.2h-1.2zM339.0 429.9h1.2v1.2h-1.2zM297.7 458.7h1.2v1.2h-1.2zM274.6 480.4h1.2v1.2h-1.2zM304.2 455.1h1.2v1.2h-1.2zM413.7 374.8h1.2v1.2h-1.2zM274.3 477.2h1.2v1.2h-1.2zM299.0 457.5h1.2v1.2h-1.2zM297.7 460.9h1.2v1.2h-1.2zM273.3 477.4h1.2v1.2h-1.2zM275.3 475.6h1.2v1.2h-1.2zM270.2 481.7h1.2v1.2h-1.2zM325.3 438.5h1.2v1.2h-1.2zM356.0 415.0h1.2v1.2h-1.2zM362.3 412.3h1.2v1.2h-1.2zM275.9 477.0h1.2v1.2h-1.2zM311.2 448.3h1.2v1.2h-1.2zM401.2 381.0h1.2v1.2h-1.2zM291.3 465.7h1.2v1.2h-1.2zM285.1 471.2h1.2v1.2h-1.2zM289.3 467.5h1.2v1.2h-1.2zM295.6 460.7h1.2v1.2h-1.2zM289.2 466.3h1.2v1.2h-1.2zM300.3 458.1h1.2v1.2h-1.2zM283.9 468.9h1.2v1.2h-1.2zM333.1 432.8h1.2v1.2h-1.2zM297.2 459.6h1.2v1.2h-1.2zM273.2 476.9h1.2v1.2h-1.2zM384.7 397.4h1.2v1.2h-1.2zM304.8 456.1h1.2v1.2h-1.2zM273.8 476.7h1.2v1.2h-1.2zM286.5 468.0h1.2v1.2h-1.2zM293.3 463.2h1.2v1.2h-1.2zM367.2 406.4h1.2v1.2h-1.2zM298.4 458.4h1.2v1.2h-1.2zM272.0 480.0h1.2v1.2h-1.2zM287.3 469.9h1.2v1.2h-1.2zM304.4 457.4h1.2v1.2h-1.2zM318.8 443.5h1.2v1.2h-1.2zM280.0 471.9h1.2v1.2h-1.2zM395.2 387.9h1.2v1.2h-1.2zM296.0 461.0h1.2v1.2h-1.2zM295.8 464.0h1.2v1.2h-1.2zM294.8 462.4h1.2v1.2h-1.2zM298.5 458.2h1.2v1.2h-1.2zM320.9 445.2h1.2v1.2h-1.2zM276.8 477.2h1.2v1.2h-1.2zM268.5 483.7h1.2v1.2h-1.2zM355.2 416.2h1.2v1.2h-1.2zM311.5 448.3h1.2v1.2h-1.2zM318.4 444.2h1.2v1.2h-1.2zM330.3 438.1h1.2v1.2h-1.2zM354.2 416.4h1.2v1.2h-1.2zM280.7 472.4h1.2v1.2h-1.2zM317.9 446.1h1.2v1.2h-1.2zM378.9 401.5h1.2v1.2h-1.2zM273.3 477.7h1.2v1.2h-1.2zM291.2 464.8h1.2v1.2h-1.2zM289.5 466.2h1.2v1.2h-1.2zM318.8 442.5h1.2v1.2h-1.2zM273.2 477.0h1.2v1.2h-1.2zM323.1 443.6h1.2v1.2h-1.2zM271.3 482.8h1.2v1.2h-1.2zM411.1 375.9h1.2v1.2h-1.2zM292.1 466.6h1.2v1.2h-1.2zM347.5 425.2h1.2v1.2h-1.2zM290.9 466.8h1.2v1.2h-1.2zM281.7 473.9h1.2v1.2h-1.2zM313.7 449.5h1.2v1.2h-1.2zM396.6 387.9h1.2v1.2h-1.2z" fill="#00ffb2"/>
<path d="M316.3 412.4h1.2v1.2h-1.2zM371.8 370.1h1.2v1.2h-1.2zM361.2 379.9h1.2v1.2h-1.2zM358.8 380.1h1.2v1.2h-1.2zM422.6 331.3h1.2v1.2h-1.2zM407.5 342.6h1.2v1.2h-1.2zM353.2 386.3h1.2v1.2h-1.2zM376.5 368.8h1.2v1.2h-1.2zM360.2 378.4h1.2v1.2h-1.2zM360.2 378.2h1.2v1.2h-1.2zM379.1 363.4h1.2v1.2h-1.2zM412.5 340.9h1.2v1.2h-1.2zM395.9 353.6h1.2v1.2h-1.2zM397.1 353.2h1.2v1.2h-1.2zM354.2 383.3h1.2v1.2h-1.2zM400.8 349.3h1.2v1.2h-1.2zM365.1 375.9h1.2v1.2h-1.2zM371.1 373.2h1.2v1.2h-1.2zM334.9 398.2h1.2v1.2h-1.2zM393.0 354.0h1.2v1.2h-1.2zM393.7 354.4h1.2v1.2h-1.2zM335.6 399.6h1.2v1.2h-1.2zM351.9 387.1h1.2v1.2h-1.2zM381.2 362.4h1.2v1.2h-1.2zM347.0 387.4h1.2v1.2h-1.2zM379.9 365.0h1.2v1.2h-1.2zM371.6 370.9h1.2v1.2h-1.2zM377.1 364.7h1.2v1.2h-1.2zM379.1 367.8h1.2v1.2h-1.2zM365.9 376.5h1.2v1.2h-1.2zM350.0 387.9h1.2v1.2h-1.2zM290.8 433.4h1.2v1.2h-1.2zM345.3 389.6h1.2v1.2h-1.2zM362.1 376.2h1.2v1.2h-1.2zM342.6 391.8h1.2v1.2h-1.2zM303.5 421.2h1.2v1.2h-1.2zM404.3 345.0h1.2v1.2h-1.2zM352.6 387.6h1.2v1.2h-1.2zM329.8 403.3h1.2v1.2h-1.2zM352.2 388.2h1.2v1.2h-1.2zM374.7 367.9h1.2v1.2h-1.2zM404.4 345.2h1.2v1.2h-1.2zM404.5 347.9h1.2v1.2h-1.2zM338.3 397.9h1.2v1.2h-1.2zM416.7 336.4h1.2v1.2h-1.2zM316.3 415.1h1.2v1.2h-1.2zM374.2 371.0h1.2v1.2h-1.2zM370.4 371.7h1.2v1.2h-1.2zM384.7 363.2h1.2v1.2h-1.2zM297.4 427.1h1.2v1.2h-1.2zM294.1 429.8h1.2v1.2h-1.2zM386.1 358.2h1.2v1.2h-1.2zM362.0 380.1h1.2v1.2h-1.2zM385.6 360.0h1.2v1.2h-1.2zM339.5 397.1h1.2v1.2h-1.2zM398.8 352.6h1.2v1.2h-1.2zM370.2 373.0h1.2v1.2h-1.2zM367.5 373.0h1.2v1.2h-1.2zM292.6 432.9h1.2v1.2h-1.2zM361.1 380.7h1.2v1.2h-1.2zM398.0 349.7h1.2v1.2h-1.2zM346.9 391.0h1.2v1.2h-1.2zM353.0 385.8h1.2v1.2h-1.2zM347.0 391.3h1.2v1.2h-1.2zM379.6 365.6h1.2v1.2h-1.2zM373.4 368.9h1.2v1.2h-1.2zM402.8 347.2h1.2v1.2h-1.2zM374.0 368.5h1.2v1.2h-1.2zM376.2 368.6h1.2v1.2h-1.2zM409.9 340.6h1.2v1.2h-1.2zM344.1 393.5h1.2v1.2h-1.2zM348.6 390.7h1.2v1.2h-1.2zM394.7 356.1h1.2v1.2h-1.2zM375.0 369.8h1.2v1.2h-1.2zM325.4 405.2h1.2v1.2h-1.2zM348.3 386.6h1.2v1.2h-1.2zM380.3 363.1h1.2v1.2h-1.2zM416.4 337.7h1.2v1.2h-1.2zM396.7 352.8h1.2v1.2h-1.2zM365.6 376.3h1.2v1.2h-1.2zM333.0 401.1h1.2v1.2h-1.2zM410.0 343.0h1.2v1.2h-1.2zM378.2 365.1h1.2v1.2h-1.2zM405.6 347.6h1.2v1.2h-1.2zM391.4 356.8h1.2v1.2h-1.2zM282.7 439.9h1.2v1.2h-1.2zM402.1 348.3h1.2v1.2h-1.2zM403.7 348.4h1.2v1.2h-1.2zM377.3 366.8h1.2v1.2h-1.2zM366.6 373.3h1.2v1.2h-1.2zM300.9 423.5h1.2v1.2h-1.2zM349.0 387.7h1.2v1.2h-1.2zM422.0 332.1h1.2v1.2h-1.2zM320.6 410.4h1.2v1.2h-1.2zM394.2 356.0h1.2v1.2h-1.2zM383.3 360.4h1.2v1.2h-1.2zM346.1 391.5h1.2v1.2h-1.2zM394.6 355.3h1.2v1.2h-1.2zM426.9 329.1h1.2v1.2h-1.2zM340.6 395.7h1.2v1.2h-1.2zM391.6 355.1h1.2v1.2h-1.2zM329.7 405.0h1.2v1.2h-1.2zM376.9 365.9h1.2v1.2h-1.2zM428.0 330.1h1.2v1.2h-1.2zM287.1 433.3h1.2v1.2h-1.2zM405.7 346.1h1.2v1.2h-1.2zM354.7 384.5h1.2v1.2h-1.2zM368.8 371.1h1.2v1.2h-1.2zM416.6 339.7h1.2v1.2h-1.2zM363.8 376.5h1.2v1.2h-1.2zM356.6 382.7h1.2v1.2h-1.2zM377.6 365.2h1.2v1.2h-1.2zM375.8 366.7h1.2v1.2h-1.2zM388.7 359.7h1.2v1.2h-1.2zM365.3 374.6h1.2v1.2h-1.2zM397.2 353.5h1.2v1.2h-1.2zM313.1 414.5h1.2v1.2h-1.2zM297.3 426.6h1.2v1.2h-1.2zM372.2 369.9h1.2v1.2h-1.2zM400.9 351.0h1.2v1.2h-1.2zM317.8 412.5h1.2v1.2h-1.2zM393.3 354.9h1.2v1.2h-1.2zM398.3 350.8h1.2v1.2h-1.2zM366.4 375.7h1.2v1.2h-1.2zM325.1 406.6h1.2v1.2h-1.2zM326.4 403.8h1.2v1.2h-1.2zM375.0 368.2h1.2v1.2h-1.2zM409.7 341.5h1.2v1.2h-1.2zM361.1 381.3h1.2v1.2h-1.2zM298.3 425.7h1.2v1.2h-1.2zM397.7 352.8h1.2v1.2h-1.2zM400.2 350.0h1.2v1.2h-1.2zM371.4 372.6h1.2v1.2h-1.2zM343.5 390.7h1.2v1.2h-1.2zM405.5 345.8h1.2v1.2h-1.2zM360.6 381.3h1.2v1.2h-1.2zM361.0 381.6h1.2v1.2h-1.2zM352.8 385.0h1.2v1.2h-1.2zM358.8 382.4h1.2v1.2h-1.2zM315.2 412.2h1.2v1.2h-1.2zM321.9 406.3h1.2v1.2h-1.2zM297.3 424.7h1.2v1.2h-1.2zM303.6 422.1h1.2v1.2h-1.2zM391.2 358.0h1.2v1.2h-1.2zM373.1 368.1h1.2v1.2h-1.2zM342.4 391.9h1.2v1.2h-1.2zM361.0 377.5h1.2v1.2h-1.2zM349.7 386.3h1.2v1.2h-1.2zM383.9 361.6h1.2v1.2h-1.2zM319.7 410.1h1.2v1.2h-1.2zM417.2 339.3h1.2v1.2h-1.2zM412.9 338.9h1.2v1.2h-1.2zM316.4 411.7h1.2v1.2h-1.2zM418.6 336.4h1.2v1.2h-1.2zM332.0 402.1h1.2v1.2h-1.2zM363.7 375.1h1.2v1.2h-1.2zM365.5 377.6h1.2v1.2h-1.2zM365.7 375.4h1.2v1.2h-1.2zM357.7 380.3h1.2v1.2h-1.2zM378.7 364.9h1.2v1.2h-1.2zM390.0 359.8h1.2v1.2h-1.2zM324.9 404.5h1.2v1.2h-1.2zM329.3 402.4h1.2v1.2h-1.2zM303.5 421.3h1.2v1.2h-1.2zM345.1 393.0h1.2v1.2h-1.2zM341.5 392.7h1.2v1.2h-1.2zM394.8 353.8h1.2v1.2h-1.2zM360.1 378.1h1.2v1.2h-1.2zM336.8 395.4h1.2v1.2h-1.2zM371.5 372.2h1.2v1.2h-1.2zM383.4 363.6h1.2v1.2h-1.2zM374.6 371.4h1.2v1.2h-1.2zM365.9 376.9h1.2v1.2h-1.2zM380.0 366.2h1.2v1.2h-1.2zM369.0 371.4h1.2v1.2h-1.2zM368.5 373.1h1.2v1.2h-1.2zM368.7 373.0h1.2v1.2h-1.2zM311.0 417.5h1.2v1.2h-1.2zM290.9 433.1h1.2v1.2h-1.2zM353.2 384.7h1.2v1.2h-1.2zM392.2 354.7h1.2v1.2h-1.2zM355.3 384.0h1.2v1.2h-1.2zM361.8 381.0h1.2v1.2h-1.2zM355.0 382.6h1.2v1.2h-1.2zM350.7 386.6h1.2v1.2h-1.2zM389.8 357.2h1.2v1.2h-1.2zM381.5 365.8h1.2v1.2h-1.2zM391.3 358.4h1.2v1.2h-1.2zM353.2 384.4h1.2v1.2h-1.2zM371.8 372.9h1.2v1.2h-1.2zM328.3 405.0h1.2v1.2h-1.2zM348.1 388.1h1.2v1.2h-1.2zM299.4 424.4h1.2v1.2h-1.2zM408.0 342.1h1.2v1.2h-1.2zM311.1 416.1h1.2v1.2h-1.2zM363.8 378.8h1.2v1.2h-1.2zM362.6 375.8h1.2v1.2h-1.2zM404.1 344.7h1.2v1.2h-1.2zM319.2 412.3h1.2v1.2h-1.2zM335.7 396.7h1.2v1.2h-1.2zM327.5 402.5h1.2v1.2h-1.2zM417.8 336.9h1.2v1.2h-1.2zM329.2 404.9h1.2v1.2h-1.2zM308.1 421.1h1.2v1.2h-1.2zM386.1 361.5h1.2v1.2h-1.2zM346.2 389.9h1.2v1.2h-1.2zM374.3 371.5h1.2v1.2h-1.2zM293.9 431.5h1.2v1.2h-1.2zM376.6 369.5h1.2v1.2h-1.2zM365.5 376.5h1.2v1.2h-1.2zM423.7 329.9h1.2v1.2h-1.2zM351.9 384.4h1.2v1.2h-1.2zM392.0 355.6h1.2v1.2h-1.2zM374.0 370.8h1.2v1.2h-1.2zM324.5 408.5h1.2v1.2h-1.2zM320.4 408.0h1.2v1.2h-1.2zM403.8 349.2h1.2v1.2h-1.2zM389.8 356.3h1.2v1.2h-1.2zM349.0 388.2h1.2v1.2h-1.2zM331.9 402.5h1.2v1.2h-1.2zM291.6 431.7h1.2v1.2h-1.2zM406.5 344.8h1.2v1.2h-1.2zM366.5 375.9h1.2v1.2h-1.2zM337.3 397.4h1.2v1.2h-1.2zM411.5 339.8h1.2v1.2h-1.2zM332.6 399.2h1.2v1.2h-1.2zM349.0 390.1h1.2v1.2h-1.2zM358.0 380.5h1.2v1.2h-1.2zM397.1 351.2h1.2v1.2h-1.2zM385.5 362.4h1.2v1.2h-1.2zM380.2 364.8h1.2v1.2h-1.2zM334.2 397.9h1.2v1.2h-1.2zM337.0 395.3h1.2v1.2h-1.2zM354.7 382.3h1.2v1.2h-1.2zM398.0 353.3h1.2v1.2h-1.2zM392.6 354.6h1.2v1.2h-1.2zM408.5 345.8h1.2v1.2h-1.2zM402.8 345.5h1.2v1.2h-1.2zM405.9 345.3h1.2v1.2h-1.2zM353.7 385.7h1.2v1.2h-1.2zM380.6 363.3h1.2v1.2h-1.2zM339.3 394.2h1.2v1.2h-1.2zM361.1 379.8h1.2v1.2h-1.2zM322.5 407.7h1.2v1.2h-1.2zM351.7 387.6h1.2v1.2h-1.2zM350.2 388.3h1.2v1.2h-1.2zM377.9 366.1h1.2v1.2h-1.2zM347.3 391.8h1.2v1.2h-1.2zM399.4 352.6h1.2v1.2h-1.2zM339.1 393.4h1.2v1.2h-1.2zM324.6 405.4h1.2v1.2h-1.2zM383.0 360.5h1.2v1.2h-1.2zM359.3 378.5h1.2v1.2h-1.2zM406.8 342.9h1.2v1.2h-1.2zM422.5 333.1h1.2v1.2h-1.2zM354.5 385.9h1.2v1.2h-1.2zM417.7 338.2h1.2v1.2h-1.2zM371.1 372.7h1.2v1.2h-1.2zM318.6 412.1h1.2v1.2h-1.2zM343.2 390.3h1.2v1.2h-1.2zM402.6 345.6h1.2v1.2h-1.2zM347.4 387.2h1.2v1.2h-1.2zM342.4 393.8h1.2v1.2h-1.2zM369.2 372.8h1.2v1.2h-1.2zM383.0 362.9h1.2v1.2h-1.2zM321.4 410.0h1.2v1.2h-1.2zM406.1 344.9h1.2v1.2h-1.2zM299.3 425.5h1.2v1.2h-1.2zM369.8 374.8h1.2v1.2h-1.2zM405.5 346.2h1.2v1.2h-1.2zM357.9 381.7h1.2v1.2h-1.2zM360.6 381.6h1.2v1.2h-1.2zM369.5 371.3h1.2v1.2h-1.2zM411.6 342.8h1.2v1.2h-1.2zM320.4 412.0h1.2v1.2h-1.2zM362.9 376.9h1.2v1.2h-1.2zM330.0 402.8h1.2v1.2h-1.2zM358.7 379.2h1.2v1.2h-1.2zM341.0 395.9h1.2v1.2h-1.2zM376.2 369.9h1.2v1.2h-1.2zM372.3 371.8h1.2v1.2h-1.2zM404.3 347.7h1.2v1.2h-1.2zM426.7 329.9h1.2v1.2h-1.2zM365.3 375.0h1.2v1.2h-1.2zM306.8 420.8h1.2v1.2h-1.2zM349.4 385.8h1.2v1.2h-1.2zM377.6 368.4h1.2v1.2h-1.2zM395.0 353.4h1.2v1.2h-1.2zM395.6 354.2h1.2v1.2h-1.2zM345.5 390.6h1.2v1.2h-1.2zM378.8 367.5h1.2v1.2h-1.2zM400.1 348.6h1.2v1.2h-1.2zM343.4 391.5h1.2v1.2h-1.2zM392.8 355.7h1.2v1.2h-1.2zM412.1 342.4h1.2v1.2h-1.2zM344.1 393.2h1.2v1.2h-1.2zM399.2 350.0h1.2v1.2h-1.2zM378.5 368.0h1.2v1.2h-1.2zM330.6 403.4h1.2v1.2h-1.2zM381.9 365.9h1.2v1.2h-1.2zM361.2 378.0h1.2v1.2h-1.2zM352.7 383.1h1.2v1.2h-1.2zM389.3 358.0h1.2v1.2h-1.2zM341.3 394.4h1.2v1.2h-1.2zM371.4 370.4h1.2v1.2h-1.2zM388.9 360.4h1.2v1.2h-1.2zM391.9 353.6h1.2v1.2h-1.2zM359.8 379.2h1.2v1.2h-1.2zM331.7 401.4h1.2v1.2h-1.2zM365.9 375.8h1.2v1.2h-1.2zM399.1 350.6h1.2v1.2h-1.2zM304.4 423.5h1.2v1.2h-1.2zM389.7 359.4h1.2v1.2h-1.2zM395.6 354.7h1.2v1.2h-1.2zM378.1 365.8h1.2v1.2h-1.2zM380.9 362.2h1.2v1.2h-1.2zM313.1 417.4h1.2v1.2h-1.2zM409.7 341.6h1.2v1.2h-1.2zM367.6 373.9h1.2v1.2h-1.2zM400.5 348.3h1.2v1.2h-1.2zM375.6 368.5h1.2v1.2h-1.2zM419.0 336.4h1.2v1.2h-1.2zM376.8 366.5h1.2v1.2h-1.2zM413.6 342.1h1.2v1.2h-1.2zM348.2 388.4h1.2v1.2h-1.2zM377.5 367.7h1.2v1.2h-1.2zM294.9 428.8h1.2v1.2h-1.2zM354.0 382.5h1.2v1.2h-1.2zM396.9 354.1h1.2v1.2h-1.2zM405.0 345.8h1.2v1.2h-1.2zM354.5 386.5h1.2v1.2h-1.2zM387.5 361.2h1.2v1.2h-1.2zM388.4 357.7h1.2v1.2h-1.2zM382.2 363.7h1.2v1.2h-1.2zM389.6 359.0h1.2v1.2h-1.2zM381.6 362.1h1.2v1.2h-1.2zM351.3 384.5h1.2v1.2h-1.2zM361.1 376.9h1.2v1.2h-1.2zM321.7 406.4h1.2v1.2h-1.2zM377.4 368.5h1.2v1.2h-1.2zM398.5 349.7h1.2v1.2h-1.2zM405.0 348.3h1.2v1.2h-1.2zM395.2 355.8h1.2v1.2h-1.2zM416.0 337.5h1.2v1.2h-1.2zM420.8 333.7h1.2v1.2h-1.2zM379.6 365.4h1.2v1.2h-1.2zM381.2 365.0h1.2v1.2h-1.2zM383.4 361.0h1.2v1.2h-1.2zM396.0 354.9h1.2v1.2h-1.2zM395.3 355.7h1.2v1.2h-1.2zM309.1 417.6h1.2v1.2h-1.2zM391.5 356.8h1.2v1.2h-1.2zM315.3 415.6h1.2v1.2h-1.2zM300.5 426.6h1.2v1.2h-1.2zM395.8 354.1h1.2v1.2h-1.2zM386.5 359.0h1.2v1.2h-1.2zM341.4 395.7h1.2v1.2h-1.2zM364.1 378.1h1.2v1.2h-1.2zM350.9 386.9h1.2v1.2h-1.2zM382.5 362.0h1.2v1.2h-1.2zM374.7 367.4h1.2v1.2h-1.2zM315.6 412.3h1.2v1.2h-1.2zM334.3 399.5h1.2v1.2h-1.2zM303.1 420.8h1.2v1.2h-1.2zM371.2 370.7h1.2v1.2h-1.2zM347.8 388.7h1.2v1.2h-1.2zM351.2 387.3h1.2v1.2h-1.2zM406.9 343.8h1.2v1.2h-1.2zM410.5 344.4h1.2v1.2h-1.2zM324.9 405.5h1.2v1.2h-1.2zM392.8 353.0h1.2v1.2h-1.2zM376.2 369.5h1.2v1.2h-1.2zM414.8 338.1h1.2v1.2h-1.2zM415.4 338.9h1.2v1.2h-1.2zM393.8 353.5h1.2v1.2h-1.2zM383.8 362.7h1.2v1.2h-1.2zM321.8 409.8h1.2v1.2h-1.2zM348.3 389.9h1.2v1.2h-1.2zM359.9 379.0h1.2v1.2h-1.2zM387.2 359.7h1.2v1.2h-1.2zM314.9 414.1h1.2v1.2h-1.2zM375.8 370.1h1.2v1.2h-1.2zM388.1 359.7h1.2v1.2h-1.2zM403.5 348.0h1.2v1.2h-1.2zM398.3 350.6h1.2v1.2h-1.2zM347.5 387.8h1.2v1.2h-1.2zM326.4 404.1h1.2v1.2h-1.2zM366.4 377.6h1.2v1.2h-1.2zM379.8 365.9h1.2v1.2h-1.2zM398.7 349.5h1.2v1.2h-1.2zM364.7 375.7h1.2v1.2h-1.2zM400.5 347.3h1.2v1.2h-1.2zM374.8 369.9h1.2v1.2h-1.2zM392.0 353.9h1.2v1.2h-1.2zM396.2 352.1h1.2v1.2h-1.2zM388.6 358.4h1.2v1.2h-1.2zM351.1 386.3h1.2v1.2h-1.2zM395.9 354.7h1.2v1.2h-1.2zM352.9 385.0h1.2v1.2h-1.2zM365.4 377.0h1.2v1.2h-1.2zM352.4 383.6h1.2v1.2h-1.2zM341.6 394.9h1.2v1.2h-1.2zM392.3 356.0h1.2v1.2h-1.2zM336.5 399.0h1.2v1.2h-1.2zM351.4 384.5h1.2v1.2h-1.2zM379.7 363.4h1.2v1.2h-1.2zM380.2 364.7h1.2v1.2h-1.2zM353.5 383.1h1.2v1.2h-1.2zM358.0 379.9h1.2v1.2h-1.2zM382.5 365.2h1.2v1.2h-1.2zM340.8 393.0h1.2v1.2h-1.2zM358.0 380.6h1.2v1.2h-1.2zM378.5 365.2h1.2v1.2h-1.2zM348.3 388.3h1.2v1.2h-1.2zM316.0 413.2h1.2v1.2h-1.2zM373.3 371.0h1.2v1.2h-1.2zM397.3 351.8h1.2v1.2h-1.2zM388.9 356.5h1.2v1.2h-1.2zM325.1 405.4h1.2v1.2h-1.2zM421.7 331.7h1.2v1.2h-1.2zM364.8 374.7h1.2v1.2h-1.2zM374.4 367.7h1.2v1.2h-1.2zM382.9 363.2h1.2v1.2h-1.2zM345.7 392.0h1.2v1.2h-1.2zM350.7 387.4h1.2v1.2h-1.2zM380.9 365.2h1.2v1.2h-1.2zM362.1 376.9h1.2v1.2h-1.2zM330.4 402.1h1.2v1.2h-1.2zM377.8 367.6h1.2v1.2h-1.2zM410.8 339.6h1.2v1.2h-1.2zM409.8 340.8h1.2v1.2h-1.2zM358.8 381.1h1.2v1.2h-1.2zM295.3 430.2h1.2v1.2h-1.2zM315.9 413.4h1.2v1.2h-1.2zM341.4 394.1h1.2v1.2h-1.2zM375.7 367.1h1.2v1.2h-1.2zM358.2 380.7h1.2v1.2h-1.2zM330.1 404.4h1.2v1.2h-1.2zM383.4 361.8h1.2v1.2h-1.2zM400.0 348.5h1.2v1.2h-1.2zM386.7 359.0h1.2v1.2h-1.2zM351.7 388.0h1.2v1.2h-1.2zM398.9 349.3h1.2v1.2h-1.2zM385.3 358.5h1.2v1.2h-1.2zM368.7 373.3h1.2v1.2h-1.2zM392.7 356.2h1.2v1.2h-1.2zM373.0 372.6h1.2v1.2h-1.2zM355.1 382.1h1.2v1.2h-1.2zM378.1 367.1h1.2v1.2h-1.2zM362.7 375.7h1.2v1.2h-1.2zM382.8 364.2h1.2v1.2h-1.2zM417.8 338.4h1.2v1.2h-1.2zM383.0 363.9h1.2v1.2h-1.2zM373.4 368.4h1.2v1.2h-1.2zM340.3 395.3h1.2v1.2h-1.2zM334.6 400.2h1.2v1.2h-1.2zM361.3 380.8h1.2v1.2h-1.2zM418.3 334.4h1.2v1.2h-1.2zM335.5 397.7h1.2v1.2h-1.2zM377.1 369.5h1.2v1.2h-1.2zM331.8 403.5h1.2v1.2h-1.2zM361.3 380.0h1.2v1.2h-1.2zM413.7 341.9h1.2v1.2h-1.2zM342.3 395.2h1.2v1.2h-1.2zM351.4 388.9h1.2v1.2h-1.2zM387.3 360.0h1.2v1.2h-1.2zM364.0 374.9h1.2v1.2h-1.2zM396.7 350.5h1.2v1.2h-1.2zM423.7 333.8h1.2v1.2h-1.2zM398.6 349.9h1.2v1.2h-1.2zM379.9 367.1h1.2v1.2h-1.2zM380.1 366.6h1.2v1.2h-1.2zM326.3 405.3h1.2v1.2h-1.2zM340.3 395.2h1.2v1.2h-1.2zM406.3 344.2h1.2v1.2h-1.2zM308.9 419.4h1.2v1.2h-1.2zM313.5 414.8h1.2v1.2h-1.2zM427.0 329.5h1.2v1.2h-1.2zM396.1 352.3h1.2v1.2h-1.2zM418.1 335.2h1.2v1.2h-1.2zM417.1 338.3h1.2v1.2h-1.2zM362.1 379.9h1.2v1.2h-1.2zM403.9 348.2h1.2v1.2h-1.2zM404.9 344.7h1.2v1.2h-1.2zM381.2 361.8h1.2v1.2h-1.2zM372.7 371.6h1.2v1.2h-1.2zM394.2 355.7h1.2v1.2h-1.2zM339.4 397.5h1.2v1.2h-1.2zM339.1 394.7h1.2v1.2h-1.2zM357.7 383.1h1.2v1.2h-1.2zM394.4 355.8h1.2v1.2h-1.2zM417.3 338.2h1.2v1.2h-1.2zM385.8 362.9h1.2v1.2h-1.2zM340.4 394.1h1.2v1.2h-1.2zM404.1 345.7h1.2v1.2h-1.2zM342.0 394.2h1.2v1.2h-1.2zM345.7 392.4h1.2v1.2h-1.2zM353.9 384.2h1.2v1.2h-1.2zM415.2 337.6h1.2v1.2h-1.2zM339.6 397.5h1.2v1.2h-1.2zM377.8 368.4h1.2v1.2h-1.2zM371.7 370.0h1.2v1.2h-1.2zM410.3 340.1h1.2v1.2h-1.2zM361.6 379.9h1.2v1.2h-1.2zM386.7 360.0h1.2v1.2h-1.2zM321.1 407.4h1.2v1.2h-1.2zM353.9 384.0h1.2v1.2h-1.2zM316.9 412.6h1.2v1.2h-1.2zM314.2 413.2h1.2v1.2h-1.2zM371.7 371.5h1.2v1.2h-1.2zM346.9 389.1h1.2v1.2h-1.2zM374.9 370.2h1.2v1.2h-1.2zM338.3 395.6h1.2v1.2h-1.2zM393.3 353.0h1.2v1.2h-1.2zM360.8 380.0h1.2v1.2h-1.2zM367.3 376.0h1.2v1.2h-1.2zM428.5 327.5h1.2v1.2h-1.2zM403.6 346.0h1.2v1.2h-1.2zM322.7 407.5h1.2v1.2h-1.2zM410.0 344.7h1.2v1.2h-1.2zM352.9 384.6h1.2v1.2h-1.2zM405.8 343.9h1.2v1.2h-1.2zM357.9 380.2h1.2v1.2h-1.2zM369.3 370.5h1.2v1.2h-1.2zM398.6 348.9h1.2v1.2h-1.2zM378.4 365.4h1.2v1.2h-1.2zM381.8 364.4h1.2v1.2h-1.2zM427.2 328.5h1.2v1.2h-1.2zM426.4 332.0h1.2v1.2h-1.2zM333.8 401.7h1.2v1.2h-1.2zM313.6 416.3h1.2v1.2h-1.2zM364.8 374.2h1.2v1.2h-1.2zM322.9 408.6h1.2v1.2h-1.2zM371.7 371.8h1.2v1.2h-1.2zM368.8 373.9h1.2v1.2h-1.2zM366.5 377.5h1.2v1.2h-1.2zM345.8 392.7h1.2v1.2h-1.2zM324.3 407.0h1.2v1.2h-1.2zM336.4 397.5h1.2v1.2h-1.2zM415.8 336.9h1.2v1.2h-1.2zM315.4 412.4h1.2v1.2h-1.2zM377.3 366.1h1.2v1.2h-1.2zM416.8 336.2h1.2v1.2h-1.2zM365.6 376.9h1.2v1.2h-1.2zM320.9 409.9h1.2v1.2h-1.2zM369.1 373.9h1.2v1.2h-1.2zM400.5 348.5h1.2v1.2h-1.2zM384.8 359.6h1.2v1.2h-1.2zM357.5 381.1h1.2v1.2h-1.2zM379.4 364.5h1.2v1.2h-1.2zM375.1 366.2h1.2v1.2h-1.2zM388.5 359.7h1.2v1.2h-1.2zM324.4 406.0h1.2v1.2h-1.2zM348.0 389.2h1.2v1.2h-1.2zM361.3 376.6h1.2v1.2h-1.2zM346.1 391.5h1.2v1.2h-1.2zM412.0 339.1h1.2v1.2h-1.2zM360.8 378.3h1.2v1.2h-1.2zM324.1 405.0h1.2v1.2h-1.2zM367.8 372.9h1.2v1.2h-1.2zM385.1 359.2h1.2v1.2h-1.2zM408.6 345.6h1.2v1.2h-1.2zM310.7 419.3h1.2v1.2h-1.2zM332.2 402.9h1.2v1.2h-1.2zM339.8 396.4h1.2v1.2h-1.2zM355.6 383.8h1.2v1.2h-1.2zM424.8 329.1h1.2v1.2h-1.2zM371.1 371.9h1.2v1.2h-1.2zM425.9 330.0h1.2v1.2h-1.2zM373.6 371.3h1.2v1.2h-1.2zM388.2 358.7h1.2v1.2h-1.2zM402.2 347.4h1.2v1.2h-1.2zM344.4 389.4h1.2v1.2h-1.2zM404.7 347.3h1.2v1.2h-1.2zM360.6 378.3h1.2v1.2h-1.2zM343.8 394.5h1.2v1.2h-1.2zM367.4 373.8h1.2v1.2h-1.2zM289.2 434.8h1.2v1.2h-1.2zM352.1 387.7h1.2v1.2h-1.2zM327.6 405.6h1.2v1.2h-1.2zM379.1 363.4h1.2v1.2h-1.2zM350.4 384.8h1.2v1.2h-1.2zM344.6 392.5h1.2v1.2h-1.2zM332.5 402.9h1.2v1.2h-1.2zM294.4 427.0h1.2v1.2h-1.2zM408.1 343.5h1.2v1.2h-1.2zM404.6 344.1h1.2v1.2h-1.2zM385.6 360.7h1.2v1.2h-1.2zM418.3 334.9h1.2v1.2h-1.2zM293.0 432.4h1.2v1.2h-1.2zM333.9 401.4h1.2v1.2h-1.2zM346.9 391.8h1.2v1.2h-1.2zM402.2 347.1h1.2v1.2h-1.2zM365.7 377.4h1.2v1.2h-1.2zM389.8 358.0h1.2v1.2h-1.2zM335.2 396.3h1.2v1.2h-1.2zM370.6 372.8h1.2v1.2h-1.2zM369.7 371.5h1.2v1.2h-1.2zM300.4 426.1h1.2v1.2h-1.2zM389.6 356.0h1.2v1.2h-1.2zM388.5 357.1h1.2v1.2h-1.2zM397.5 349.8h1.2v1.2h-1.2zM377.1 369.5h1.2v1.2h-1.2zM340.7 395.2h1.2v1.2h-1.2zM348.8 388.3h1.2v1.2h-1.2zM419.7 333.8h1.2v1.2h-1.2zM418.6 334.7h1.2v1.2h-1.2zM345.7 388.7h1.2v1.2h-1.2zM300.4 426.5h1.2v1.2h-1.2zM351.7 384.2h1.2v1.2h-1.2zM354.6 385.4h1.2v1.2h-1.2zM328.9 404.7h1.2v1.2h-1.2zM370.4 371.2h1.2v1.2h-1.2zM318.7 409.7h1.2v1.2h-1.2zM324.2 407.7h1.2v1.2h-1.2zM303.2 422.4h1.2v1.2h-1.2zM353.6 387.0h1.2v1.2h-1.2zM380.3 363.8h1.2v1.2h-1.2zM350.3 386.9h1.2v1.2h-1.2zM305.6 422.3h1.2v1.2h-1.2zM376.5 369.3h1.2v1.2h-1.2z" fill="#6aff00"/>
<path d="M389.5 331.8h1.2v1.2h-1.2zM374.6 344.1h1.2v1.2h-1.2zM375.0 345.7h1.2v1.2h-1.2zM381.8 338.7h1.2v1.2h-1.2zM398.9 327.2h1.2v1.2h-1.2zM379.5 341.1h1.2v1.2h-1.2zM341.0 372.3h1.2v1.2h-1.2zM342.3 368.6h1.2v1.2h-1.2zM326.9 380.0h1.2v1.2h-1.2zM363.1 352.5h1.2v1.2h-1.2zM379.6 339.3h1.2v1.2h-1.2zM384.4 339.6h1.2v1.2h-1.2zM370.2 345.9h1.2v1.2h-1.2zM390.2 332.2h1.2v1.2h-1.2zM366.8 352.0h1.2v1.2h-1.2zM350.9 363.7h1.2v1.2h-1.2zM383.7 338.7h1.2v1.2h-1.2zM368.4 349.0h1.2v1.2h-1.2zM400.6 326.2h1.2v1.2h-1.2zM404.2 324.4h1.2v1.2h-1.2zM385.2 335.3h1.2v1.2h-1.2zM371.1 349.4h1.2v1.2h-1.2zM403.9 324.1h1.2v1.2h-1.2zM368.6 347.5h1.2v1.2h-1.2zM341.8 368.8h1.2v1.2h-1.2zM358.0 355.0h1.2v1.2h-1.2zM395.5 327.5h1.2v1.2h-1.2zM326.9 382.7h1.2v1.2h-1.2zM354.7 358.0h1.2v1.2h-1.2zM353.7 359.5h1.2v1.2h-1.2zM340.0 370.8h1.2v1.2h-1.2zM395.4 327.1h1.2v1.2h-1.2zM382.9 339.4h1.2v1.2h-1.2zM360.2 357.8h1.2v1.2h-1.2zM371.7 348.3h1.2v1.2h-1.2zM391.6 333.5h1.2v1.2h-1.2zM340.4 372.6h1.2v1.2h-1.2zM349.2 364.7h1.2v1.2h-1.2zM357.0 357.9h1.2v1.2h-1.2zM373.6 343.5h1.2v1.2h-1.2zM380.3 340.5h1.2v1.2h-1.2zM339.8 372.6h1.2v1.2h-1.2zM401.3 322.3h1.2v1.2h-1.2zM390.8 332.0h1.2v1.2h-1.2zM347.4 365.7h1.2v1.2h-1.2zM340.5 369.7h1.2v1.2h-1.2zM397.4 326.2h1.2v1.2h-1.2zM353.6 362.5h1.2v1.2h-1.2zM341.6 367.4h1.2v1.2h-1.2zM379.8 338.9h1.2v1.2h-1.2zM379.2 340.1h1.2v1.2h-1.2zM385.6 337.0h1.2v1.2h-1.2zM388.6 332.5h1.2v1.2h-1.2zM361.6 355.7h1.2v1.2h-1.2zM345.4 368.3h1.2v1.2h-1.2zM399.1 328.2h1.2v1.2h-1.2zM387.9 336.3h1.2v1.2h-1.2zM326.7 382.4h1.2v1.2h-1.2zM365.5 349.8h1.2v1.2h-1.2zM389.6 333.0h1.2v1.2h-1.2zM365.0 353.5h1.2v1.2h-1.2zM386.9 337.5h1.2v1.2h-1.2zM370.9 345.4h1.2v1.2h-1.2zM358.8 356.1h1.2v1.2h-1.2zM361.6 356.3h1.2v1.2h-1.2zM364.4 353.7h1.2v1.2h-1.2zM342.6 368.0h1.2v1.2h-1.2zM354.5 358.4h1.2v1.2h-1.2zM359.6 355.6h1.2v1.2h-1.2zM375.6 342.3h1.2v1.2h-1.2zM345.6 367.7h1.2v1.2h-1.2zM380.1 340.3h1.2v1.2h-1.2zM365.9 351.0h1.2v1.2h-1.2zM391.9 333.6h1.2v1.2h-1.2zM394.0 331.4h1.2v1.2h-1.2zM371.4 346.3h1.2v1.2h-1.2zM395.7 327.8h1.2v1.2h-1.2zM360.8 354.4h1.2v1.2h-1.2zM398.4 324.5h1.2v1.2h-1.2zM393.8 332.7h1.2v1.2h-1.2zM394.4 328.4h1.2v1.2h-1.2zM334.2 372.6h1.2v1.2h-1.2zM363.1 355.3h1.2v1.2h-1.2zM397.9 326.4h1.2v1.2h-1.2zM382.5 337.6h1.2v1.2h-1.2zM334.5 374.2h1.2v1.2h-1.2zM399.8 325.0h1.2v1.2h-1.2zM401.9 325.6h1.2v1.2h-1.2zM361.9 353.7h1.2v1.2h-1.2zM349.1 363.4h1.2v1.2h-1.2zM402.2 325.6h1.2v1.2h-1.2zM389.1 335.2h1.2v1.2h-1.2zM355.5 357.4h1.2v1.2h-1.2zM363.1 353.6h1.2v1.2h-1.2zM355.4 359.3h1.2v1.2h-1.2zM361.9 354.0h1.2v1.2h-1.2zM400.8 325.9h1.2v1.2h-1.2zM388.5 334.7h1.2v1.2h-1.2zM354.4 362.0h1.2v1.2h-1.2zM395.0 331.2h1.2v1.2h-1.2zM391.6 331.3h1.2v1.2h-1.2zM352.2 360.3h1.2v1.2h-1.2zM348.0 366.4h1.2v1.2h-1.2zM353.5 361.4h1.2v1.2h-1.2zM358.0 359.5h1.2v1.2h-1.2zM374.1 343.1h1.2v1.2h-1.2zM391.7 333.4h1.2v1.2h-1.2zM361.5 352.5h1.2v1.2h-1.2zM362.1 352.3h1.2v1.2h-1.2zM379.9 342.6h1.2v1.2h-1.2zM391.4 333.8h1.2v1.2h-1.2zM404.2 324.7h1.2v1.2h-1.2zM372.1 346.3h1.2v1.2h-1.2zM343.1 367.8h1.2v1.2h-1.2zM360.3 353.9h1.2v1.2h-1.2zM365.9 353.0h1.2v1.2h-1.2zM360.9 353.0h1.2v1.2h-1.2zM324.8 383.7h1.2v1.2h-1.2zM355.6 360.9h1.2v1.2h-1.2zM377.0 343.4h1.2v1.2h-1.2zM399.1 328.1h1.2v1.2h-1.2zM347.7 364.0h1.2v1.2h-1.2zM362.5 354.9h1.2v1.2h-1.2zM343.6 370.0h1.2v1.2h-1.2zM379.7 339.6h1.2v1.2h-1.2zM353.5 359.9h1.2v1.2h-1.2zM391.9 331.7h1.2v1.2h-1.2zM327.0 379.2h1.2v1.2h-1.2zM382.9 337.2h1.2v1.2h-1.2zM363.0 351.8h1.2v1.2h-1.2zM384.9 335.3h1.2v1.2h-1.2zM343.4 368.1h1.2v1.2h-1.2zM396.2 328.9h1.2v1.2h-1.2zM323.2 384.1h1.2v1.2h-1.2zM384.3 337.5h1.2v1.2h-1.2zM388.8 333.9h1.2v1.2h-1.2zM344.4 365.5h1.2v1.2h-1.2zM395.5 331.4h1.2v1.2h-1.2zM391.6 333.9h1.2v1.2h-1.2zM395.6 330.1h1.2v1.2h-1.2zM384.4 339.0h1.2v1.2h-1.2zM368.6 347.7h1.2v1.2h-1.2zM395.7 331.0h1.2v1.2h-1.2zM400.4 326.4h1.2v1.2h-1.2zM384.8 335.4h1.2v1.2h-1.2zM339.4 373.3h1.2v1.2h-1.2zM366.0 352.3h1.2v1.2h-1.2zM384.9 338.6h1.2v1.2h-1.2zM359.7 356.6h1.2v1.2h-1.2zM386.2 335.0h1.2v1.2h-1.2zM347.3 367.5h1.2v1.2h-1.2zM376.6 344.8h1.2v1.2h-1.2zM353.8 359.6h1.2v1.2h-1.2zM345.0 366.5h1.2v1.2h-1.2zM368.6 349.4h1.2v1.2h-1.2zM388.4 333.8h1.2v1.2h-1.2zM340.5 368.2h1.2v1.2h-1.2zM374.2 346.9h1.2v1.2h-1.2zM370.1 348.6h1.2v1.2h-1.2zM360.6 353.6h1.2v1.2h-1.2zM350.3 361.7h1.2v1.2h-1.2zM355.8 359.8h1.2v1.2h-1.2zM352.2 359.8h1.2v1.2h-1.2zM378.4 341.6h1.2v1.2h-1.2zM352.6 363.6h1.2v1.2h-1.2zM385.8 338.3h1.2v1.2h-1.2zM393.8 331.0h1.2v1.2h-1.2zM377.2 342.3h1.2v1.2h-1.2zM379.4 338.8h1.2v1.2h-1.2zM393.9 330.3h1.2v1.2h-1.2zM342.4 369.3h1.2v1.2h-1.2zM379.9 339.6h1.2v1.2h-1.2zM377.1 344.1h1.2v1.2h-1.2zM387.5 335.7h1.2v1.2h-1.2zM400.5 324.9h1.2v1.2h-1.2zM365.8 351.3h1.2v1.2h-1.2zM360.6 356.7h1.2v1.2h-1.2zM354.2 359.0h1.2v1.2h-1.2zM400.7 325.5h1.2v1.2h-1.2zM401.0 325.9h1.2v1.2h-1.2zM401.8 326.5h1.2v1.2h-1.2zM332.2 375.6h1.2v1.2h-1.2zM388.1 333.4h1.2v1.2h-1.2zM357.2 355.7h1.2v1.2h-1.2zM398.9 327.0h1.2v1.2h-1.2zM386.0 334.2h1.2v1.2h-1.2zM377.5 340.7h1.2v1.2h-1.2zM384.2 338.9h1.2v1.2h-1.2zM345.9 368.6h1.2v1.2h-1.2zM372.7 345.2h1.2v1.2h-1.2zM340.2 370.3h1.2v1.2h-1.2zM325.2 382.7h1.2v1.2h-1.2zM368.6 350.0h1.2v1.2h-1.2zM347.4 364.8h1.2v1.2h-1.2zM389.8 331.0h1.2v1.2h-1.2zM396.7 328.8h1.2v1.2h-1.2zM378.1 343.2h1.2v1.2h-1.2zM398.3 328.4h1.2v1.2h-1.2zM376.7 341.1h1.2v1.2h-1.2zM380.8 341.9h1.2v1.2h-1.2zM397.3 325.4h1.2v1.2h-1.2zM363.4 352.0h1.2v1.2h-1.2zM360.7 354.5h1.2v1.2h-1.2zM399.0 327.5h1.2v1.2h-1.2zM385.4 336.6h1.2v1.2h-1.2zM370.7 349.3h1.2v1.2h-1.2zM381.9 338.7h1.2v1.2h-1.2zM366.7 349.0h1.2v1.2h-1.2zM394.2 329.2h1.2v1.2h-1.2zM369.1 347.0h1.2v1.2h-1.2zM389.5 335.2h1.2v1.2h-1.2zM348.6 364.7h1.2v1.2h-1.2zM383.4 335.7h1.2v1.2h-1.2zM370.3 346.4h1.2v1.2h-1.2zM389.7 335.4h1.2v1.2h-1.2zM373.8 343.1h1.2v1.2h-1.2zM352.6 360.8h1.2v1.2h-1.2zM385.9 338.5h1.2v1.2h-1.2zM367.2 349.8h1.2v1.2h-1.2zM353.5 358.7h1.2v1.2h-1.2zM391.6 333.0h1.2v1.2h-1.2zM387.6 333.0h1.2v1.2h-1.2zM359.5 354.6h1.2v1.2h-1.2zM367.2 348.5h1.2v1.2h-1.2zM378.7 341.6h1.2v1.2h-1.2zM374.4 342.8h1.2v1.2h-1.2zM338.0 373.1h1.2v1.2h-1.2zM385.6 338.6h1.2v1.2h-1.2zM391.2 330.2h1.2v1.2h-1.2zM364.0 352.5h1.2v1.2h-1.2zM388.1 336.9h1.2v1.2h-1.2zM324.5 380.2h1.2v1.2h-1.2zM363.7 354.0h1.2v1.2h-1.2zM373.5 347.6h1.2v1.2h-1.2zM357.0 357.2h1.2v1.2h-1.2zM388.8 332.5h1.2v1.2h-1.2zM368.3 347.4h1.2v1.2h-1.2zM375.4 345.6h1.2v1.2h-1.2zM385.4 338.6h1.2v1.2h-1.2zM397.3 325.2h1.2v1.2h-1.2zM400.9 326.2h1.2v1.2h-1.2zM367.8 351.1h1.2v1.2h-1.2zM342.0 371.2h1.2v1.2h-1.2zM401.3 325.0h1.2v1.2h-1.2zM395.2 329.2h1.2v1.2h-1.2zM343.0 370.5h1.2v1.2h-1.2zM382.4 341.1h1.2v1.2h-1.2zM348.8 363.4h1.2v1.2h-1.2zM375.7 343.7h1.2v1.2h-1.2zM366.4 348.6h1.2v1.2h-1.2zM374.6 345.8h1.2v1.2h-1.2zM344.5 369.6h1.2v1.2h-1.2zM354.0 358.7h1.2v1.2h-1.2zM386.5 338.1h1.2v1.2h-1.2zM376.0 342.8h1.2v1.2h-1.2zM339.0 369.8h1.2v1.2h-1.2zM397.2 328.7h1.2v1.2h-1.2zM363.9 350.9h1.2v1.2h-1.2zM357.7 358.6h1.2v1.2h-1.2zM350.7 363.6h1.2v1.2h-1.2zM389.1 333.0h1.2v1.2h-1.2zM379.5 341.8h1.2v1.2h-1.2zM399.9 326.2h1.2v1.2h-1.2zM368.6 349.8h1.2v1.2h-1.2zM371.4 345.5h1.2v1.2h-1.2zM371.4 348.7h1.2v1.2h-1.2zM358.7 358.7h1.2v1.2h-1.2zM377.6 344.2h1.2v1.2h-1.2zM331.0 377.1h1.2v1.2h-1.2zM393.0 330.2h1.2v1.2h-1.2zM381.1 338.6h1.2v1.2h-1.2zM362.9 354.5h1.2v1.2h-1.2zM382.2 337.4h1.2v1.2h-1.2zM362.2 351.9h1.2v1.2h-1.2zM350.6 363.6h1.2v1.2h-1.2zM394.1 332.4h1.2v1.2h-1.2zM341.1 367.6h1.2v1.2h-1.2zM356.0 357.8h1.2v1.2h-1.2zM370.0 350.2h1.2v1.2h-1.2zM395.4 326.8h1.2v1.2h-1.2zM401.2 325.6h1.2v1.2h-1.2zM372.5 345.8h1.2v1.2h-1.2zM360.0 354.5h1.2v1.2h-1.2zM389.5 331.6h1.2v1.2h-1.2zM330.7 375.6h1.2v1.2h-1.2zM376.1 345.0h1.2v1.2h-1.2zM388.7 334.1h1.2v1.2h-1.2zM339.8 370.1h1.2v1.2h-1.2zM367.4 350.7h1.2v1.2h-1.2zM396.5 329.9h1.2v1.2h-1.2zM366.2 349.2h1.2v1.2h-1.2zM350.5 364.6h1.2v1.2h-1.2zM367.2 351.1h1.2v1.2h-1.2zM363.7 355.1h1.2v1.2h-1.2zM384.5 339.1h1.2v1.2h-1.2zM342.8 368.6h1.2v1.2h-1.2zM367.3 349.3h1.2v1.2h-1.2zM351.9 360.3h1.2v1.2h-1.2zM358.1 355.2h1.2v1.2h-1.2zM354.6 357.6h1.2v1.2h-1.2zM395.8 329.8h1.2v1.2h-1.2zM346.1 367.4h1.2v1.2h-1.2zM349.5 364.1h1.2v1.2h-1.2zM384.0 335.6h1.2v1.2h-1.2zM340.1 371.7h1.2v1.2h-1.2zM393.0 329.0h1.2v1.2h-1.2zM394.6 330.3h1.2v1.2h-1.2zM364.8 351.8h1.2v1.2h-1.2zM335.5 373.1h1.2v1.2h-1.2zM355.0 358.7h1.2v1.2h-1.2zM386.1 335.5h1.2v1.2h-1.2zM393.5 328.8h1.2v1.2h-1.2zM398.1 326.1h1.2v1.2h-1.2zM344.0 369.9h1.2v1.2h-1.2zM391.7 329.7h1.2v1.2h-1.2zM368.2 351.5h1.2v1.2h-1.2zM362.7 351.7h1.2v1.2h-1.2zM395.7 328.8h1.2v1.2h-1.2zM401.7 322.7h1.2v1.2h-1.2zM390.1 332.0h1.2v1.2h-1.2zM351.5 360.6h1.2v1.2h-1.2zM394.4 328.0h1.2v1.2h-1.2zM394.5 327.7h1.2v1.2h-1.2zM361.1 356.1h1.2v1.2h-1.2zM387.4 334.7h1.2v1.2h-1.2zM347.8 362.6h1.2v1.2h-1.2zM347.4 363.1h1.2v1.2h-1.2zM347.8 366.6h1.2v1.2h-1.2zM361.9 353.1h1.2v1.2h-1.2zM387.6 334.1h1.2v1.2h-1.2zM364.3 353.0h1.2v1.2h-1.2zM339.6 370.0h1.2v1.2h-1.2zM350.3 361.0h1.2v1.2h-1.2zM382.2 337.2h1.2v1.2h-1.2zM394.8 327.8h1.2v1.2h-1.2zM370.0 350.5h1.2v1.2h-1.2zM371.7 345.2h1.2v1.2h-1.2zM394.5 332.2h1.2v1.2h-1.2zM377.0 341.7h1.2v1.2h-1.2zM345.5 365.4h1.2v1.2h-1.2zM353.4 360.5h1.2v1.2h-1.2zM402.7 324.6h1.2v1.2h-1.2zM376.9 340.6h1.2v1.2h-1.2zM383.8 335.7h1.2v1.2h-1.2zM399.5 328.1h1.2v1.2h-1.2zM380.7 337.9h1.2v1.2h-1.2zM385.2 335.3h1.2v1.2h-1.2zM340.3 372.6h1.2v1.2h-1.2zM342.0 367.1h1.2v1.2h-1.2zM371.5 345.8h1.2v1.2h-1.2zM395.3 330.9h1.2v1.2h-1.2zM382.7 340.3h1.2v1.2h-1.2zM354.8 358.6h1.2v1.2h-1.2zM348.0 363.5h1.2v1.2h-1.2zM403.2 322.9h1.2v1.2h-1.2zM340.2 371.7h1.2v1.2h-1.2zM369.8 346.2h1.2v1.2h-1.2zM392.1 330.4h1.2v1.2h-1.2zM343.5 369.6h1.2v1.2h-1.2zM389.8 334.9h1.2v1.2h-1.2zM368.9 351.4h1.2v1.2h-1.2zM363.9 352.4h1.2v1.2h-1.2zM346.1 364.2h1.2v1.2h-1.2zM365.8 352.0h1.2v1.2h-1.2zM394.7 329.5h1.2v1.2h-1.2zM347.0 366.4h1.2v1.2h-1.2zM395.3 326.9h1.2v1.2h-1.2zM400.9 327.2h1.2v1.2h-1.2zM348.1 363.8h1.2v1.2h-1.2zM395.9 330.0h1.2v1.2h-1.2zM378.5 343.4h1.2v1.2h-1.2zM395.7 326.7h1.2v1.2h-1.2zM383.2 339.3h1.2v1.2h-1.2zM367.6 349.7h1.2v1.2h-1.2zM393.7 330.0h1.2v1.2h-1.2zM346.2 367.4h1.2v1.2h-1.2zM329.3 380.0h1.2v1.2h-1.2zM393.2 331.5h1.2v1.2h-1.2zM356.8 360.1h1.2v1.2h-1.2zM367.2 349.5h1.2v1.2h-1.2zM385.1 336.2h1.2v1.2h-1.2zM359.7 358.1h1.2v1.2h-1.2zM393.0 333.3h1.2v1.2h-1.2zM376.9 345.2h1.2v1.2h-1.2zM358.9 355.0h1.2v1.2h-1.2zM340.3 369.0h1.2v1.2h-1.2zM390.6 330.4h1.2v1.2h-1.2zM388.9 333.7h1.2v1.2h-1.2zM368.8 350.5h1.2v1.2h-1.2zM393.3 329.6h1.2v1.2h-1.2zM388.8 335.7h1.2v1.2h-1.2zM386.8 333.2h1.2v1.2h-1.2zM343.8 367.9h1.2v1.2h-1.2zM382.8 339.8h1.2v1.2h-1.2zM369.6 347.5h1.2v1.2h-1.2zM363.1 355.2h1.2v1.2h-1.2zM389.5 332.5h1.2v1.2h-1.2zM386.1 333.9h1.2v1.2h-1.2zM373.5 343.8h1.2v1.2h-1.2zM387.9 332.7h1.2v1.2h-1.2zM357.8 358.1h1.2v1.2h-1.2zM393.0 332.1h1.2v1.2h-1.2zM375.1 344.3h1.2v1.2h-1.2zM351.1 363.2h1.2v1.2h-1.2zM387.1 335.8h1.2v1.2h-1.2zM393.4 332.4h1.2v1.2h-1.2zM390.4 333.8h1.2v1.2h-1.2zM347.0 365.5h1.2v1.2h-1.2zM390.2 335.2h1.2v1.2h-1.2zM363.0 354.3h1.2v1.2h-1.2zM377.9 342.8h1.2v1.2h-1.2zM387.9 336.0h1.2v1.2h-1.2zM362.3 352.2h1.2v1.2h-1.2zM386.6 337.3h1.2v1.2h-1.2zM390.1 331.3h1.2v1.2h-1.2zM354.7 357.5h1.2v1.2h-1.2zM345.5 368.2h1.2v1.2h-1.2zM372.6 344.8h1.2v1.2h-1.2zM335.1 376.3h1.2v1.2h-1.2zM350.1 361.4h1.2v1.2h-1.2zM359.0 358.4h1.2v1.2h-1.2zM340.3 368.3h1.2v1.2h-1.2zM394.1 331.3h1.2v1.2h-1.2zM378.7 344.1h1.2v1.2h-1.2zM341.0 369.1h1.2v1.2h-1.2zM359.2 356.3h1.2v1.2h-1.2zM325.8 379.0h1.2v1.2h-1.2z" fill="#ffc300"/>
<path d="M321.6 424.6h1.2v1.2h-1.2zM323.3 419.7h1.2v1.2h-1.2zM348.4 402.4h1.2v1.2h-1.2zM361.2 393.3h1.2v1.2h-1.2zM295.1 445.4h1.2v1.2h-1.2zM402.9 364.4h1.2v1.2h-1.2zM404.4 358.8h1.2v1.2h-1.2zM359.9 394.0h1.2v1.2h-1.2zM305.7 436.4h1.2v1.2h-1.2zM323.5 419.8h1.2v1.2h-1.2zM356.8 397.1h1.2v1.2h-1.2zM320.4 422.3h1.2v1.2h-1.2zM281.0 454.1h1.2v1.2h-1.2zM366.8 389.8h1.2v1.2h-1.2zM371.3 385.5h1.2v1.2h-1.2zM320.8 423.1h1.2v1.2h-1.2zM306.1 436.8h1.2v1.2h-1.2zM371.5 383.5h1.2v1.2h-1.2zM370.4 384.4h1.2v1.2h-1.2zM323.3 420.3h1.2v1.2h-1.2zM349.0 402.7h1.2v1.2h-1.2zM304.7 434.8h1.2v1.2h-1.2zM362.2 394.3h1.2v1.2h-1.2zM290.9 445.6h1.2v1.2h-1.2zM350.0 400.5h1.2v1.2h-1.2zM297.2 443.3h1.2v1.2h-1.2zM316.7 428.0h1.2v1.2h-1.2zM349.7 401.2h1.2v1.2h-1.2zM303.5 438.1h1.2v1.2h-1.2zM351.6 401.7h1.2v1.2h-1.2zM342.9 405.7h1.2v1.2h-1.2zM426.0 344.7h1.2v1.2h-1.2zM342.8 406.1h1.2v1.2h-1.2zM285.3 449.5h1.2v1.2h-1.2zM352.8 399.6h1.2v1.2h-1.2zM365.1 390.5h1.2v1.2h-1.2zM348.4 405.3h1.2v1.2h-1.2zM420.0 348.4h1.2v1.2h-1.2zM340.7 409.5h1.2v1.2h-1.2zM352.7 401.4h1.2v1.2h-1.2zM382.0 377.4h1.2v1.2h-1.2zM271.1 462.0h1.2v1.2h-1.2zM395.5 369.7h1.2v1.2h-1.2zM321.9 421.5h1.2v1.2h-1.2zM365.5 388.3h1.2v1.2h-1.2zM333.0 415.0h1.2v1.2h-1.2zM336.2 414.1h1.2v1.2h-1.2zM342.9 405.6h1.2v1.2h-1.2zM385.9 373.3h1.2v1.2h-1.2zM330.9 415.7h1.2v1.2h-1.2zM340.9 410.4h1.2v1.2h-1.2zM336.3 414.5h1.2v1.2h-1.2zM282.0 454.6h1.2v1.2h-1.2zM353.2 398.1h1.2v1.2h-1.2zM327.3 417.7h1.2v1.2h-1.2zM407.7 360.1h1.2v1.2h-1.2zM292.0 447.6h1.2v1.2h-1.2zM357.1 396.2h1.2v1.2h-1.2zM298.6 442.1h1.2v1.2h-1.2zM291.1 447.6h1.2v1.2h-1.2zM358.8 393.6h1.2v1.2h-1.2zM279.9 452.6h1.2v1.2h-1.2zM300.8 441.3h1.2v1.2h-1.2zM383.7 376.4h1.2v1.2h-1.2zM281.6 455.3h1.2v1.2h-1.2zM344.6 407.8h1.2v1.2h-1.2zM307.3 433.4h1.2v1.2h-1.2zM289.3 448.4h1.2v1.2h-1.2zM318.4 427.2h1.2v1.2h-1.2zM420.1 347.1h1.2v1.2h-1.2zM321.8 423.4h1.2v1.2h-1.2zM362.2 393.2h1.2v1.2h-1.2zM427.6 343.2h1.2v1.2h-1.2zM338.8 410.8h1.2v1.2h-1.2zM339.7 407.5h1.2v1.2h-1.2zM382.3 379.5h1.2v1.2h-1.2zM372.0 385.3h1.2v1.2h-1.2zM386.6 375.7h1.2v1.2h-1.2zM306.7 435.3h1.2v1.2h-1.2zM364.0 392.9h1.2v1.2h-1.2zM313.4 429.4h1.2v1.2h-1.2zM337.0 413.3h1.2v1.2h-1.2zM297.4 441.1h1.2v1.2h-1.2zM327.8 418.0h1.2v1.2h-1.2zM353.2 397.9h1.2v1.2h-1.2zM380.7 379.6h1.2v1.2h-1.2zM361.0 392.7h1.2v1.2h-1.2zM329.4 415.5h1.2v1.2h-1.2zM394.6 370.2h1.2v1.2h-1.2zM348.7 402.6h1.2v1.2h-1.2zM360.1 392.6h1.2v1.2h-1.2zM343.8 405.0h1.2v1.2h-1.2zM368.5 387.9h1.2v1.2h-1.2zM345.1 407.3h1.2v1.2h-1.2zM397.4 365.5h1.2v1.2h-1.2zM356.8 397.7h1.2v1.2h-1.2zM328.0 418.4h1.2v1.2h-1.2zM330.7 419.0h1.2v1.2h-1.2zM289.2 448.3h1.2v1.2h-1.2zM415.8 354.5h1.2v1.2h-1.2zM334.3 414.4h1.2v1.2h-1.2zM358.1 398.3h1.2v1.2h-1.2zM380.4 381.5h1.2v1.2h-1.2zM352.0 401.3h1.2v1.2h-1.2zM317.7 427.4h1.2v1.2h-1.2zM403.2 361.5h1.2v1.2h-1.2zM303.7 438.4h1.2v1.2h-1.2zM407.8 359.0h1.2v1.2h-1.2zM397.5 367.3h1.2v1.2h-1.2zM375.5 384.6h1.2v1.2h-1.2zM416.5 353.6h1.2v1.2h-1.2zM420.3 348.3h1.2v1.2h-1.2zM328.5 418.8h1.2v1.2h-1.2zM298.2 442.4h1.2v1.2h-1.2zM374.8 383.2h1.2v1.2h-1.2zM317.7 426.4h1.2v1.2h-1.2zM361.3 392.0h1.2v1.2h-1.2zM335.9 411.4h1.2v1.2h-1.2zM329.9 417.4h1.2v1.2h-1.2zM318.5 424.4h1.2v1.2h-1.2zM409.7 359.1h1.2v1.2h-1.2zM288.1 447.8h1.2v1.2h-1.2zM381.0 377.9h1.2v1.2h-1.2zM363.1 392.5h1.2v1.2h-1.2zM334.7 413.0h1.2v1.2h-1.2zM376.6 384.2h1.2v1.2h-1.2zM340.3 408.3h1.2v1.2h-1.2zM333.3 413.3h1.2v1.2h-1.2zM276.4 456.3h1.2v1.2h-1.2zM426.9 344.8h1.2v1.2h-1.2zM289.1 446.6h1.2v1.2h-1.2zM299.3 442.1h1.2v1.2h-1.2zM343.2 404.9h1.2v1.2h-1.2zM354.6 400.1h1.2v1.2h-1.2zM345.1 407.1h1.2v1.2h-1.2zM282.5 452.6h1.2v1.2h-1.2zM280.1 452.4h1.2v1.2h-1.2zM306.5 434.1h1.2v1.2h-1.2zM353.8 399.9h1.2v1.2h-1.2zM357.1 396.7h1.2v1.2h-1.2zM373.6 385.6h1.2v1.2h-1.2zM325.4 421.6h1.2v1.2h-1.2zM382.3 376.0h1.2v1.2h-1.2zM351.1 402.8h1.2v1.2h-1.2zM337.7 409.0h1.2v1.2h-1.2zM285.8 449.7h1.2v1.2h-1.2zM407.0 358.3h1.2v1.2h-1.2zM274.7 457.9h1.2v1.2h-1.2zM331.1 415.8h1.2v1.2h-1.2zM365.5 389.0h1.2v1.2h-1.2zM417.6 350.1h1.2v1.2h-1.2zM349.8 402.2h1.2v1.2h-1.2zM348.7 405.0h1.2v1.2h-1.2zM342.9 406.2h1.2v1.2h-1.2zM425.9 343.8h1.2v1.2h-1.2zM362.7 394.9h1.2v1.2h-1.2zM372.6 383.7h1.2v1.2h-1.2zM322.3 423.9h1.2v1.2h-1.2zM338.1 409.5h1.2v1.2h-1.2zM377.3 379.7h1.2v1.2h-1.2zM373.4 386.2h1.2v1.2h-1.2zM340.2 408.7h1.2v1.2h-1.2zM348.4 402.5h1.2v1.2h-1.2zM383.2 376.3h1.2v1.2h-1.2zM351.4 402.7h1.2v1.2h-1.2zM378.8 379.1h1.2v1.2h-1.2zM412.1 353.4h1.2v1.2h-1.2zM303.9 436.0h1.2v1.2h-1.2zM325.2 421.3h1.2v1.2h-1.2zM366.4 391.2h1.2v1.2h-1.2zM315.1 428.4h1.2v1.2h-1.2zM303.4 437.1h1.2v1.2h-1.2zM342.7 409.4h1.2v1.2h-1.2zM305.0 433.8h1.2v1.2h-1.2zM350.7 399.7h1.2v1.2h-1.2zM376.8 380.4h1.2v1.2h-1.2zM308.5 432.8h1.2v1.2h-1.2zM361.5 394.4h1.2v1.2h-1.2zM303.0 435.8h1.2v1.2h-1.2zM308.8 434.9h1.2v1.2h-1.2zM276.1 457.5h1.2v1.2h-1.2zM367.9 387.8h1.2v1.2h-1.2zM363.4 394.1h1.2v1.2h-1.2zM293.9 445.8h1.2v1.2h-1.2zM304.9 436.3h1.2v1.2h-1.2zM382.7 378.7h1.2v1.2h-1.2zM314.8 426.8h1.2v1.2h-1.2zM427.2 344.7h1.2v1.2h-1.2zM354.4 399.6h1.2v1.2h-1.2zM334.2 415.2h1.2v1.2h-1.2zM307.0 435.7h1.2v1.2h-1.2zM350.3 402.7h1.2v1.2h-1.2zM280.2 456.4h1.2v1.2h-1.2zM277.4 455.3h1.2v1.2h-1.2zM353.2 397.8h1.2v1.2h-1.2zM399.6 362.4h1.2v1.2h-1.2zM326.7 421.0h1.2v1.2h-1.2zM269.7 462.5h1.2v1.2h-1.2zM404.3 359.3h1.2v1.2h-1.2zM267.6 462.3h1.2v1.2h-1.2zM322.3 423.0h1.2v1.2h-1.2zM330.4 416.6h1.2v1.2h-1.2zM298.7 442.3h1.2v1.2h-1.2zM305.8 437.1h1.2v1.2h-1.2zM321.4 424.9h1.2v1.2h-1.2zM305.4 434.0h1.2v1.2h-1.2zM286.0 449.3h1.2v1.2h-1.2zM349.3 400.4h1.2v1.2h-1.2zM336.2 410.2h1.2v1.2h-1.2zM409.0 358.9h1.2v1.2h-1.2zM313.0 428.0h1.2v1.2h-1.2zM352.7 400.2h1.2v1.2h-1.2zM327.0 420.2h1.2v1.2h-1.2zM317.9 426.6h1.2v1.2h-1.2zM354.3 401.1h1.2v1.2h-1.2zM337.3 409.6h1.2v1.2h-1.2zM324.1 422.0h1.2v1.2h-1.2zM328.8 418.3h1.2v1.2h-1.2zM326.8 421.6h1.2v1.2h-1.2zM305.0 435.0h1.2v1.2h-1.2zM397.6 365.5h1.2v1.2h-1.2zM331.4 416.1h1.2v1.2h-1.2zM317.0 425.6h1.2v1.2h-1.2zM300.0 442.0h1.2v1.2h-1.2zM302.8 437.5h1.2v1.2h-1.2zM383.2 375.1h1.2v1.2h-1.2zM350.9 399.2h1.2v1.2h-1.2zM324.5 419.6h1.2v1.2h-1.2zM332.5 415.8h1.2v1.2h-1.2zM333.1 416.8h1.2v1.2h-1.2zM394.7 368.7h1.2v1.2h-1.2zM320.3 425.3h1.2v1.2h-1.2zM311.7 430.1h1.2v1.2h-1.2zM327.4 421.3h1.2v1.2h-1.2zM290.7 448.8h1.2v1.2h-1.2zM352.1 402.3h1.2v1.2h-1.2zM298.9 442.0h1.2v1.2h-1.2zM294.7 441.8h1.2v1.2h-1.2zM368.6 388.4h1.2v1.2h-1.2zM334.9 413.1h1.2v1.2h-1.2zM293.1 444.3h1.2v1.2h-1.2zM319.1 423.6h1.2v1.2h-1.2zM345.3 404.3h1.2v1.2h-1.2zM345.7 405.8h1.2v1.2h-1.2zM419.7 349.1h1.2v1.2h-1.2zM386.9 374.5h1.2v1.2h-1.2zM347.4 402.6h1.2v1.2h-1.2zM317.3 425.3h1.2v1.2h-1.2zM304.5 438.2h1.2v1.2h-1.2zM353.5 400.0h1.2v1.2h-1.2zM401.9 360.9h1.2v1.2h-1.2zM330.3 417.2h1.2v1.2h-1.2zM383.9 378.2h1.2v1.2h-1.2zM310.3 433.2h1.2v1.2h-1.2zM331.8 413.7h1.2v1.2h-1.2zM311.0 433.6h1.2v1.2h-1.2zM354.7 398.6h1.2v1.2h-1.2zM407.5 357.5h1.2v1.2h-1.2zM380.8 376.7h1.2v1.2h-1.2zM337.9 409.5h1.2v1.2h-1.2zM326.5 421.6h1.2v1.2h-1.2zM368.9 386.2h1.2v1.2h-1.2zM292.9 443.0h1.2v1.2h-1.2zM332.2 414.1h1.2v1.2h-1.2zM347.0 403.0h1.2v1.2h-1.2zM352.2 402.1h1.2v1.2h-1.2zM393.3 371.2h1.2v1.2h-1.2zM275.8 458.3h1.2v1.2h-1.2zM313.4 429.8h1.2v1.2h-1.2zM279.0 453.4h1.2v1.2h-1.2zM351.6 398.6h1.2v1.2h-1.2zM377.1 379.8h1.2v1.2h-1.2zM304.3 435.3h1.2v1.2h-1.2zM321.7 421.7h1.2v1.2h-1.2zM274.9 456.2h1.2v1.2h-1.2zM343.3 406.9h1.2v1.2h-1.2zM372.8 386.2h1.2v1.2h-1.2zM368.8 387.1h1.2v1.2h-1.2zM316.5 425.6h1.2v1.2h-1.2zM388.9 374.5h1.2v1.2h-1.2zM325.3 421.2h1.2v1.2h-1.2zM365.0 390.6h1.2v1.2h-1.2zM394.6 370.3h1.2v1.2h-1.2zM315.7 429.6h1.2v1.2h-1.2zM424.5 348.3h1.2v1.2h-1.2zM358.6 395.0h1.2v1.2h-1.2zM352.3 400.7h1.2v1.2h-1.2zM322.2 420.7h1.2v1.2h-1.2zM363.7 390.3h1.2v1.2h-1.2zM279.8 453.3h1.2v1.2h-1.2zM301.5 440.4h1.2v1.2h-1.2zM291.5 447.5h1.2v1.2h-1.2zM417.3 352.8h1.2v1.2h-1.2zM342.3 406.0h1.2v1.2h-1.2zM281.7 455.1h1.2v1.2h-1.2zM280.9 456.0h1.2v1.2h-1.2zM413.9 355.1h1.2v1.2h-1.2zM345.7 404.8h1.2v1.2h-1.2zM396.9 367.2h1.2v1.2h-1.2zM306.9 433.6h1.2v1.2h-1.2zM342.5 405.7h1.2v1.2h-1.2zM365.0 389.1h1.2v1.2h-1.2zM317.0 424.8h1.2v1.2h-1.2zM340.7 407.1h1.2v1.2h-1.2zM316.8 425.2h1.2v1.2h-1.2zM292.5 443.0h1.2v1.2h-1.2zM310.7 429.5h1.2v1.2h-1.2zM390.5 372.6h1.2v1.2h-1.2zM426.7 342.4h1.2v1.2h-1.2zM378.8 379.7h1.2v1.2h-1.2zM421.7 348.5h1.2v1.2h-1.2zM356.5 396.3h1.2v1.2h-1.2zM386.9 374.8h1.2v1.2h-1.2zM325.1 419.9h1.2v1.2h-1.2zM381.8 377.6h1.2v1.2h-1.2zM333.3 414.7h1.2v1.2h-1.2zM324.6 422.6h1.2v1.2h-1.2zM289.6 445.7h1.2v1.2h-1.2zM288.4 448.5h1.2v1.2h-1.2zM340.9 407.2h1.2v1.2h-1.2zM376.1 382.0h1.2v1.2h-1.2zM281.1 452.7h1.2v1.2h-1.2zM282.1 451.0h1.2v1.2h-1.2zM361.8 392.7h1.2v1.2h-1.2zM307.9 434.5h1.2v1.2h-1.2zM310.3 432.2h1.2v1.2h-1.2zM310.0 433.1h1.2v1.2h-1.2zM307.9 434.2h1.2v1.2h-1.2zM370.7 384.2h1.2v1.2h-1.2zM371.7 385.7h1.2v1.2h-1.2zM326.2 420.9h1.2v1.2h-1.2zM393.9 371.2h1.2v1.2h-1.2zM360.7 393.7h1.2v1.2h-1.2zM416.6 350.2h1.2v1.2h-1.2zM264.7 465.9h1.2v1.2h-1.2zM355.1 399.6h1.2v1.2h-1.2zM340.9 409.5h1.2v1.2h-1.2zM363.3 390.5h1.2v1.2h-1.2zM284.9 448.7h1.2v1.2h-1.2zM344.7 407.5h1.2v1.2h-1.2zM311.0 429.6h1.2v1.2h-1.2zM362.9 391.9h1.2v1.2h-1.2zM317.3 426.5h1.2v1.2h-1.2zM375.4 385.2h1.2v1.2h-1.2zM338.1 412.3h1.2v1.2h-1.2zM357.2 395.1h1.2v1.2h-1.2zM319.1 427.1h1.2v1.2h-1.2zM286.9 447.0h1.2v1.2h-1.2zM367.2 387.1h1.2v1.2h-1.2zM302.7 437.4h1.2v1.2h-1.2zM354.6 397.9h1.2v1.2h-1.2zM339.2 409.1h1.2v1.2h-1.2zM340.5 407.5h1.2v1.2h-1.2zM307.4 434.7h1.2v1.2h-1.2zM333.7 412.4h1.2v1.2h-1.2zM376.0 380.3h1.2v1.2h-1.2zM363.1 391.3h1.2v1.2h-1.2zM315.6 427.3h1.2v1.2h-1.2zM394.5 369.2h1.2v1.2h-1.2zM293.7 442.9h1.2v1.2h-1.2zM389.5 371.6h1.2v1.2h-1.2zM284.0 450.5h1.2v1.2h-1.2zM358.8 393.8h1.2v1.2h-1.2zM364.1 393.2h1.2v1.2h-1.2zM285.3 448.5h1.2v1.2h-1.2zM345.6 406.5h1.2v1.2h-1.2zM291.6 445.1h1.2v1.2h-1.2zM400.5 365.1h1.2v1.2h-1.2zM286.9 451.7h1.2v1.2h-1.2zM417.3 349.1h1.2v1.2h-1.2zM340.8 407.3h1.2v1.2h-1.2zM338.2 410.4h1.2v1.2h-1.2zM332.5 416.7h1.2v1.2h-1.2zM395.6 368.4h1.2v1.2h-1.2zM356.8 396.6h1.2v1.2h-1.2zM335.9 410.4h1.2v1.2h-1.2zM323.1 424.4h1.2v1.2h-1.2zM276.4 455.4h1.2v1.2h-1.2zM380.9 376.7h1.2v1.2h-1.2zM398.5 365.0h1.2v1.2h-1.2zM373.1 383.7h1.2v1.2h-1.2zM416.1 352.2h1.2v1.2h-1.2zM325.1 422.8h1.2v1.2h-1.2zM332.9 413.9h1.2v1.2h-1.2zM395.5 369.0h1.2v1.2h-1.2zM352.6 400.3h1.2v1.2h-1.2zM291.6 444.7h1.2v1.2h-1.2zM293.6 446.3h1.2v1.2h-1.2zM302.1 440.2h1.2v1.2h-1.2zM319.8 423.2h1.2v1.2h-1.2zM305.7 437.0h1.2v1.2h-1.2zM311.1 430.3h1.2v1.2h-1.2zM370.1 388.8h1.2v1.2h-1.2zM370.4 385.8h1.2v1.2h-1.2zM330.4 414.9h1.2v1.2h-1.2zM357.7 398.1h1.2v1.2h-1.2zM380.7 378.6h1.2v1.2h-1.2zM344.0 405.6h1.2v1.2h-1.2zM310.8 429.9h1.2v1.2h-1.2zM282.7 450.2h1.2v1.2h-1.2zM326.7 419.1h1.2v1.2h-1.2zM389.4 372.1h1.2v1.2h-1.2zM388.4 372.6h1.2v1.2h-1.2zM276.3 457.6h1.2v1.2h-1.2zM290.9 446.6h1.2v1.2h-1.2zM319.1 427.6h1.2v1.2h-1.2zM372.0 384.0h1.2v1.2h-1.2zM390.3 370.7h1.2v1.2h-1.2zM354.9 398.3h1.2v1.2h-1.2zM286.6 450.2h1.2v1.2h-1.2zM305.7 435.2h1.2v1.2h-1.2zM375.3 383.3h1.2v1.2h-1.2zM353.7 398.6h1.2v1.2h-1.2zM281.1 453.4h1.2v1.2h-1.2zM309.2 431.1h1.2v1.2h-1.2zM305.0 436.8h1.2v1.2h-1.2zM285.6 449.6h1.2v1.2h-1.2zM330.3 415.2h1.2v1.2h-1.2zM266.6 463.5h1.2v1.2h-1.2zM323.8 420.6h1.2v1.2h-1.2zM308.2 435.3h1.2v1.2h-1.2zM353.0 400.5h1.2v1.2h-1.2zM317.5 427.2h1.2v1.2h-1.2zM377.7 381.9h1.2v1.2h-1.2zM292.5 445.3h1.2v1.2h-1.2zM340.6 410.1h1.2v1.2h-1.2zM354.6 399.6h1.2v1.2h-1.2zM369.8 388.0h1.2v1.2h-1.2zM328.3 416.6h1.2v1.2h-1.2zM353.8 396.9h1.2v1.2h-1.2zM410.3 355.3h1.2v1.2h-1.2zM378.4 378.6h1.2v1.2h-1.2zM302.6 437.7h1.2v1.2h-1.2zM296.0 444.5h1.2v1.2h-1.2zM347.2 402.4h1.2v1.2h-1.2zM297.6 443.0h1.2v1.2h-1.2zM394.2 369.5h1.2v1.2h-1.2zM349.6 402.9h1.2v1.2h-1.2zM331.2 414.5h1.2v1.2h-1.2zM382.9 377.8h1.2v1.2h-1.2zM305.1 437.8h1.2v1.2h-1.2zM425.7 343.5h1.2v1.2h-1.2zM291.8 445.2h1.2v1.2h-1.2zM362.0 392.7h1.2v1.2h-1.2zM360.4 393.5h1.2v1.2h-1.2zM297.1 442.7h1.2v1.2h-1.2zM389.7 370.9h1.2v1.2h-1.2zM332.2 415.9h1.2v1.2h-1.2zM347.1 405.4h1.2v1.2h-1.2zM345.3 403.8h1.2v1.2h-1.2zM350.2 401.6h1.2v1.2h-1.2zM357.3 395.6h1.2v1.2h-1.2zM357.7 395.6h1.2v1.2h-1.2zM338.8 411.5h1.2v1.2h-1.2zM295.6 443.2h1.2v1.2h-1.2zM295.4 443.3h1.2v1.2h-1.2zM314.9 430.7h1.2v1.2h-1.2zM324.7 418.9h1.2v1.2h-1.2zM280.3 454.8h1.2v1.2h-1.2zM324.8 422.8h1.2v1.2h-1.2zM269.7 462.5h1.2v1.2h-1.2zM321.9 421.6h1.2v1.2h-1.2zM343.3 405.7h1.2v1.2h-1.2zM299.4 440.8h1.2v1.2h-1.2zM282.2 453.5h1.2v1.2h-1.2zM331.8 414.1h1.2v1.2h-1.2zM403.9 360.6h1.2v1.2h-1.2zM323.4 420.7h1.2v1.2h-1.2zM298.0 440.2h1.2v1.2h-1.2zM323.1 420.7h1.2v1.2h-1.2zM322.5 422.2h1.2v1.2h-1.2zM333.4 415.4h1.2v1.2h-1.2zM338.2 409.2h1.2v1.2h-1.2zM316.0 427.9h1.2v1.2h-1.2zM341.0 410.2h1.2v1.2h-1.2zM281.9 453.6h1.2v1.2h-1.2zM290.0 445.6h1.2v1.2h-1.2zM291.3 448.3h1.2v1.2h-1.2zM325.6 420.7h1.2v1.2h-1.2zM284.8 452.8h1.2v1.2h-1.2zM336.1 410.1h1.2v1.2h-1.2zM419.5 348.8h1.2v1.2h-1.2zM424.0 347.3h1.2v1.2h-1.2zM330.6 418.5h1.2v1.2h-1.2zM348.4 404.0h1.2v1.2h-1.2zM386.2 374.7h1.2v1.2h-1.2zM291.3 446.6h1.2v1.2h-1.2zM321.0 426.1h1.2v1.2h-1.2zM381.2 376.7h1.2v1.2h-1.2zM330.6 419.0h1.2v1.2h-1.2zM370.4 388.4h1.2v1.2h-1.2zM294.7 442.0h1.2v1.2h-1.2zM298.5 442.8h1.2v1.2h-1.2zM344.2 405.3h1.2v1.2h-1.2zM364.2 391.2h1.2v1.2h-1.2zM311.7 431.7h1.2v1.2h-1.2zM361.1 391.8h1.2v1.2h-1.2zM274.6 460.7h1.2v1.2h-1.2zM313.3 431.3h1.2v1.2h-1.2zM401.8 361.4h1.2v1.2h-1.2zM302.3 439.4h1.2v1.2h-1.2zM271.5 462.6h1.2v1.2h-1.2zM379.8 378.8h1.2v1.2h-1.2zM368.5 389.8h1.2v1.2h-1.2zM280.1 454.8h1.2v1.2h-1.2zM304.1 435.6h1.2v1.2h-1.2zM367.4 389.0h1.2v1.2h-1.2zM347.8 401.5h1.2v1.2h-1.2zM337.0 410.7h1.2v1.2h-1.2zM367.1 390.8h1.2v1.2h-1.2zM314.0 429.4h1.2v1.2h-1.2zM372.7 386.0h1.2v1.2h-1.2zM293.1 444.3h1.2v1.2h-1.2zM322.8 421.8h1.2v1.2h-1.2zM281.0 452.2h1.2v1.2h-1.2zM332.6 414.6h1.2v1.2h-1.2zM324.1 420.6h1.2v1.2h-1.2zM295.6 443.0h1.2v1.2h-1.2zM386.7 373.3h1.2v1.2h-1.2zM387.2 375.0h1.2v1.2h-1.2zM300.5 439.6h1.2v1.2h-1.2zM282.3 453.3h1.2v1.2h-1.2zM319.1 426.2h1.2v1.2h-1.2zM276.6 459.4h1.2v1.2h-1.2zM343.5 405.1h1.2v1.2h-1.2zM328.9 415.6h1.2v1.2h-1.2zM294.7 444.8h1.2v1.2h-1.2zM363.5 390.8h1.2v1.2h-1.2zM326.1 419.5h1.2v1.2h-1.2zM420.6 350.8h1.2v1.2h-1.2zM331.6 416.6h1.2v1.2h-1.2zM286.5 448.3h1.2v1.2h-1.2zM296.8 443.8h1.2v1.2h-1.2zM380.4 380.8h1.2v1.2h-1.2zM308.5 435.4h1.2v1.2h-1.2zM288.7 446.3h1.2v1.2h-1.2zM303.8 437.4h1.2v1.2h-1.2zM333.6 412.9h1.2v1.2h-1.2zM343.1 405.8h1.2v1.2h-1.2zM324.9 421.7h1.2v1.2h-1.2zM306.9 432.8h1.2v1.2h-1.2zM321.3 425.3h1.2v1.2h-1.2zM366.6 388.4h1.2v1.2h-1.2zM373.7 382.3h1.2v1.2h-1.2zM333.6 414.5h1.2v1.2h-1.2zM308.0 434.0h1.2v1.2h-1.2zM342.6 407.0h1.2v1.2h-1.2zM364.9 390.2h1.2v1.2h-1.2zM291.9 444.2h1.2v1.2h-1.2zM405.0 362.6h1.2v1.2h-1.2zM371.4 385.1h1.2v1.2h-1.2zM313.9 428.7h1.2v1.2h-1.2zM277.4 458.1h1.2v1.2h-1.2zM384.8 377.3h1.2v1.2h-1.2zM310.9 431.5h1.2v1.2h-1.2zM313.8 431.6h1.2v1.2h-1.2zM297.8 439.4h1.2v1.2h-1.2zM316.5 427.1h1.2v1.2h-1.2zM328.4 417.4h1.2v1.2h-1.2zM336.6 412.4h1.2v1.2h-1.2zM354.0 398.6h1.2v1.2h-1.2zM287.2 451.3h1.2v1.2h-1.2zM386.8 375.6h1.2v1.2h-1.2zM348.8 404.5h1.2v1.2h-1.2zM288.2 450.5h1.2v1.2h-1.2zM280.7 454.3h1.2v1.2h-1.2zM337.1 409.8h1.2v1.2h-1.2zM272.4 462.2h1.2v1.2h-1.2zM328.5 416.0h1.2v1.2h-1.2zM313.4 431.9h1.2v1.2h-1.2zM343.8 408.6h1.2v1.2h-1.2zM334.7 412.6h1.2v1.2h-1.2zM377.5 381.8h1.2v1.2h-1.2zM315.5 428.0h1.2v1.2h-1.2zM366.0 388.2h1.2v1.2h-1.2zM317.8 428.5h1.2v1.2h-1.2zM276.5 456.8h1.2v1.2h-1.2zM375.3 383.7h1.2v1.2h-1.2zM350.2 402.7h1.2v1.2h-1.2zM301.5 439.8h1.2v1.2h-1.2zM277.0 458.3h1.2v1.2h-1.2zM344.3 404.0h1.2v1.2h-1.2zM306.9 434.0h1.2v1.2h-1.2zM319.0 423.4h1.2v1.2h-1.2zM290.4 444.6h1.2v1.2h-1.2zM317.2 428.4h1.2v1.2h-1.2zM305.5 436.3h1.2v1.2h-1.2zM327.8 417.8h1.2v1.2h-1.2zM322.5 424.5h1.2v1.2h-1.2zM299.7 439.8h1.2v1.2h-1.2zM329.1 417.2h1.2v1.2h-1.2zM308.9 434.1h1.2v1.2h-1.2zM285.8 452.1h1.2v1.2h-1.2zM293.5 443.6h1.2v1.2h-1.2zM327.3 421.1h1.2v1.2h-1.2zM302.6 436.6h1.2v1.2h-1.2zM357.5 398.2h1.2v1.2h-1.2zM392.0 370.3h1.2v1.2h-1.2zM303.6 439.2h1.2v1.2h-1.2zM318.4 426.8h1.2v1.2h-1.2zM306.1 436.5h1.2v1.2h-1.2zM305.6 436.3h1.2v1.2h-1.2zM276.9 459.0h1.2v1.2h-1.2zM308.7 430.8h1.2v1.2h-1.2zM384.5 374.3h1.2v1.2h-1.2zM356.4 397.4h1.2v1.2h-1.2zM291.6 448.3h1.2v1.2h-1.2zM290.7 445.2h1.2v1.2h-1.2zM301.8 440.3h1.2v1.2h-1.2zM311.9 432.7h1.2v1.2h-1.2zM401.5 361.9h1.2v1.2h-1.2zM325.9 418.9h1.2v1.2h-1.2zM299.1 440.3h1.2v1.2h-1.2zM284.9 450.6h1.2v1.2h-1.2zM424.5 345.8h1.2v1.2h-1.2zM409.8 355.9h1.2v1.2h-1.2zM360.6 393.7h1.2v1.2h-1.2zM293.1 444.5h1.2v1.2h-1.2zM317.5 424.7h1.2v1.2h-1.2zM386.9 372.5h1.2v1.2h-1.2zM355.3 396.7h1.2v1.2h-1.2zM400.5 363.1h1.2v1.2h-1.2zM315.6 428.9h1.2v1.2h-1.2zM295.2 441.8h1.2v1.2h-1.2zM298.7 439.2h1.2v1.2h-1.2zM377.3 380.4h1.2v1.2h-1.2zM286.9 450.1h1.2v1.2h-1.2zM316.5 426.8h1.2v1.2h-1.2zM350.6 400.4h1.2v1.2h-1.2zM345.8 407.0h1.2v1.2h-1.2zM319.4 424.9h1.2v1.2h-1.2zM369.1 389.3h1.2v1.2h-1.2zM311.5 430.8h1.2v1.2h-1.2zM340.7 409.6h1.2v1.2h-1.2zM323.5 420.2h1.2v1.2h-1.2zM356.2 396.8h1.2v1.2h-1.2zM363.4 390.9h1.2v1.2h-1.2zM352.8 401.1h1.2v1.2h-1.2zM357.1 395.6h1.2v1.2h-1.2zM313.6 430.4h1.2v1.2h-1.2zM350.7 402.2h1.2v1.2h-1.2z" fill="#00ff11"/>
<path d="M379.5 372.3h1.2v1.2h-1.2zM401.4 355.3h1.2v1.2h-1.2zM403.9 353.7h1.2v1.2h-1.2zM361.7 385.9h1.2v1.2h-1.2zM366.3 379.8h1.2v1.2h-1.2zM347.8 393.2h1.2v1.2h-1.2zM358.5 385.5h1.2v1.2h-1.2zM299.5 430.8h1.2v1.2h-1.2zM367.3 381.3h1.2v1.2h-1.2zM328.9 406.2h1.2v1.2h-1.2zM353.7 388.2h1.2v1.2h-1.2zM338.1 403.2h1.2v1.2h-1.2zM352.9 390.0h1.2v1.2h-1.2zM397.3 358.5h1.2v1.2h-1.2zM309.6 422.9h1.2v1.2h-1.2zM370.8 375.9h1.2v1.2h-1.2zM296.9 432.8h1.2v1.2h-1.2zM348.9 393.7h1.2v1.2h-1.2zM300.9 430.8h1.2v1.2h-1.2zM353.4 391.6h1.2v1.2h-1.2zM357.4 386.1h1.2v1.2h-1.2zM305.9 424.0h1.2v1.2h-1.2zM353.4 389.7h1.2v1.2h-1.2zM361.3 385.8h1.2v1.2h-1.2zM392.7 359.3h1.2v1.2h-1.2zM357.1 385.9h1.2v1.2h-1.2zM389.0 363.3h1.2v1.2h-1.2zM351.4 390.5h1.2v1.2h-1.2zM372.1 373.6h1.2v1.2h-1.2zM306.4 425.1h1.2v1.2h-1.2zM363.7 380.6h1.2v1.2h-1.2zM410.5 347.1h1.2v1.2h-1.2zM345.3 395.4h1.2v1.2h-1.2zM293.8 433.0h1.2v1.2h-1.2zM351.9 392.7h1.2v1.2h-1.2zM384.2 367.6h1.2v1.2h-1.2zM335.2 405.4h1.2v1.2h-1.2zM378.7 372.3h1.2v1.2h-1.2zM342.5 397.3h1.2v1.2h-1.2zM361.0 384.4h1.2v1.2h-1.2zM354.0 390.1h1.2v1.2h-1.2zM357.1 388.7h1.2v1.2h-1.2zM330.1 408.8h1.2v1.2h-1.2zM307.4 424.5h1.2v1.2h-1.2zM328.4 407.2h1.2v1.2h-1.2zM396.5 358.5h1.2v1.2h-1.2zM322.7 414.0h1.2v1.2h-1.2zM386.5 366.0h1.2v1.2h-1.2zM402.5 354.9h1.2v1.2h-1.2zM356.2 385.5h1.2v1.2h-1.2zM338.3 399.3h1.2v1.2h-1.2zM372.6 374.3h1.2v1.2h-1.2zM357.0 388.6h1.2v1.2h-1.2zM364.3 383.8h1.2v1.2h-1.2zM371.0 377.6h1.2v1.2h-1.2zM379.3 368.3h1.2v1.2h-1.2zM312.5 422.3h1.2v1.2h-1.2zM390.6 362.6h1.2v1.2h-1.2zM407.1 350.8h1.2v1.2h-1.2zM332.4 405.2h1.2v1.2h-1.2zM384.8 368.2h1.2v1.2h-1.2zM383.2 365.2h1.2v1.2h-1.2zM330.6 408.9h1.2v1.2h-1.2zM353.6 389.7h1.2v1.2h-1.2zM407.7 349.0h1.2v1.2h-1.2zM384.2 367.0h1.2v1.2h-1.2zM315.7 417.8h1.2v1.2h-1.2zM398.8 355.0h1.2v1.2h-1.2zM380.7 369.2h1.2v1.2h-1.2zM341.9 397.9h1.2v1.2h-1.2zM308.5 423.9h1.2v1.2h-1.2zM416.6 344.1h1.2v1.2h-1.2zM370.2 378.7h1.2v1.2h-1.2zM354.4 391.1h1.2v1.2h-1.2zM317.9 416.8h1.2v1.2h-1.2zM388.2 365.8h1.2v1.2h-1.2zM359.1 386.3h1.2v1.2h-1.2zM391.1 363.1h1.2v1.2h-1.2zM364.9 379.9h1.2v1.2h-1.2zM377.6 371.9h1.2v1.2h-1.2zM338.8 402.9h1.2v1.2h-1.2zM401.3 355.0h1.2v1.2h-1.2zM297.2 434.4h1.2v1.2h-1.2zM344.0 395.7h1.2v1.2h-1.2zM379.1 369.7h1.2v1.2h-1.2zM302.0 426.5h1.2v1.2h-1.2zM366.9 378.4h1.2v1.2h-1.2zM336.4 402.3h1.2v1.2h-1.2zM335.7 404.0h1.2v1.2h-1.2zM336.4 400.3h1.2v1.2h-1.2zM401.7 351.5h1.2v1.2h-1.2zM339.5 399.0h1.2v1.2h-1.2zM323.3 411.8h1.2v1.2h-1.2zM321.1 412.4h1.2v1.2h-1.2zM313.1 418.0h1.2v1.2h-1.2zM344.2 394.6h1.2v1.2h-1.2zM301.6 428.2h1.2v1.2h-1.2zM343.5 396.5h1.2v1.2h-1.2zM381.0 366.8h1.2v1.2h-1.2zM363.6 381.6h1.2v1.2h-1.2zM359.2 386.3h1.2v1.2h-1.2zM411.0 347.6h1.2v1.2h-1.2zM406.9 351.0h1.2v1.2h-1.2zM406.2 350.8h1.2v1.2h-1.2zM391.8 361.1h1.2v1.2h-1.2zM291.6 437.5h1.2v1.2h-1.2zM348.4 395.7h1.2v1.2h-1.2zM374.2 373.6h1.2v1.2h-1.2zM306.9 423.6h1.2v1.2h-1.2zM414.6 346.1h1.2v1.2h-1.2zM341.2 400.2h1.2v1.2h-1.2zM320.1 414.3h1.2v1.2h-1.2zM362.9 380.7h1.2v1.2h-1.2zM373.9 375.2h1.2v1.2h-1.2zM277.3 448.9h1.2v1.2h-1.2zM399.1 354.9h1.2v1.2h-1.2zM308.4 423.1h1.2v1.2h-1.2zM362.9 384.0h1.2v1.2h-1.2zM331.4 407.6h1.2v1.2h-1.2zM374.9 374.6h1.2v1.2h-1.2zM346.9 394.9h1.2v1.2h-1.2zM300.3 428.3h1.2v1.2h-1.2zM354.7 387.8h1.2v1.2h-1.2zM336.7 404.1h1.2v1.2h-1.2zM316.9 418.5h1.2v1.2h-1.2zM317.7 418.7h1.2v1.2h-1.2zM321.7 412.9h1.2v1.2h-1.2zM308.3 425.8h1.2v1.2h-1.2zM363.8 381.4h1.2v1.2h-1.2zM290.6 435.4h1.2v1.2h-1.2zM374.9 375.4h1.2v1.2h-1.2zM331.2 405.9h1.2v1.2h-1.2zM355.1 386.9h1.2v1.2h-1.2zM396.6 359.1h1.2v1.2h-1.2zM304.7 426.8h1.2v1.2h-1.2zM411.9 344.9h1.2v1.2h-1.2zM418.2 341.4h1.2v1.2h-1.2zM389.7 362.9h1.2v1.2h-1.2zM330.0 408.8h1.2v1.2h-1.2zM376.8 369.9h1.2v1.2h-1.2zM365.5 379.2h1.2v1.2h-1.2zM330.3 405.0h1.2v1.2h-1.2zM371.2 375.5h1.2v1.2h-1.2zM383.8 364.7h1.2v1.2h-1.2zM337.2 402.3h1.2v1.2h-1.2zM331.8 408.2h1.2v1.2h-1.2zM403.2 353.3h1.2v1.2h-1.2zM372.4 374.5h1.2v1.2h-1.2zM382.1 367.8h1.2v1.2h-1.2zM352.6 389.7h1.2v1.2h-1.2zM351.2 392.0h1.2v1.2h-1.2zM323.8 413.1h1.2v1.2h-1.2zM353.2 390.7h1.2v1.2h-1.2zM345.6 397.0h1.2v1.2h-1.2zM391.5 361.4h1.2v1.2h-1.2zM349.6 392.4h1.2v1.2h-1.2zM389.7 364.6h1.2v1.2h-1.2zM353.8 387.3h1.2v1.2h-1.2zM411.0 345.9h1.2v1.2h-1.2zM398.1 356.8h1.2v1.2h-1.2zM356.8 385.4h1.2v1.2h-1.2zM371.1 378.2h1.2v1.2h-1.2zM338.7 401.0h1.2v1.2h-1.2zM389.6 363.2h1.2v1.2h-1.2zM372.4 376.1h1.2v1.2h-1.2zM315.3 419.5h1.2v1.2h-1.2zM385.3 366.0h1.2v1.2h-1.2zM391.3 362.5h1.2v1.2h-1.2zM382.7 368.0h1.2v1.2h-1.2zM329.6 406.2h1.2v1.2h-1.2zM297.5 430.0h1.2v1.2h-1.2zM306.5 426.3h1.2v1.2h-1.2zM341.1 397.8h1.2v1.2h-1.2zM384.3 367.0h1.2v1.2h-1.2zM334.5 405.2h1.2v1.2h-1.2zM332.5 404.3h1.2v1.2h-1.2zM332.9 407.3h1.2v1.2h-1.2zM377.4 372.0h1.2v1.2h-1.2zM334.8 402.7h1.2v1.2h-1.2zM310.7 420.4h1.2v1.2h-1.2zM300.2 428.5h1.2v1.2h-1.2zM335.9 401.0h1.2v1.2h-1.2zM375.3 373.9h1.2v1.2h-1.2zM335.5 405.5h1.2v1.2h-1.2zM318.8 416.6h1.2v1.2h-1.2zM310.5 423.0h1.2v1.2h-1.2zM392.1 362.6h1.2v1.2h-1.2zM373.3 372.7h1.2v1.2h-1.2zM342.3 400.0h1.2v1.2h-1.2zM370.6 375.0h1.2v1.2h-1.2zM374.2 371.8h1.2v1.2h-1.2zM353.2 391.2h1.2v1.2h-1.2zM367.0 380.0h1.2v1.2h-1.2zM379.7 369.7h1.2v1.2h-1.2zM385.6 367.6h1.2v1.2h-1.2zM311.2 423.6h1.2v1.2h-1.2zM349.6 390.9h1.2v1.2h-1.2zM373.4 373.2h1.2v1.2h-1.2zM364.1 381.1h1.2v1.2h-1.2zM319.0 414.4h1.2v1.2h-1.2zM291.8 436.4h1.2v1.2h-1.2zM377.7 371.3h1.2v1.2h-1.2zM347.1 395.8h1.2v1.2h-1.2zM327.3 410.6h1.2v1.2h-1.2zM412.9 344.2h1.2v1.2h-1.2zM330.8 405.5h1.2v1.2h-1.2zM282.1 441.2h1.2v1.2h-1.2zM408.1 348.5h1.2v1.2h-1.2zM394.9 359.5h1.2v1.2h-1.2zM384.9 364.6h1.2v1.2h-1.2zM333.4 403.2h1.2v1.2h-1.2zM410.6 346.0h1.2v1.2h-1.2zM403.9 353.1h1.2v1.2h-1.2zM354.1 390.0h1.2v1.2h-1.2zM316.9 419.6h1.2v1.2h-1.2zM312.6 421.3h1.2v1.2h-1.2zM343.6 399.4h1.2v1.2h-1.2zM383.7 368.7h1.2v1.2h-1.2zM380.8 368.6h1.2v1.2h-1.2zM404.2 352.6h1.2v1.2h-1.2zM418.1 342.6h1.2v1.2h-1.2zM356.0 387.9h1.2v1.2h-1.2zM381.9 366.2h1.2v1.2h-1.2zM423.7 338.7h1.2v1.2h-1.2zM322.3 412.4h1.2v1.2h-1.2zM328.7 408.4h1.2v1.2h-1.2zM314.7 419.0h1.2v1.2h-1.2zM332.7 405.5h1.2v1.2h-1.2zM368.0 376.6h1.2v1.2h-1.2zM325.4 409.0h1.2v1.2h-1.2zM345.7 396.9h1.2v1.2h-1.2zM316.6 419.1h1.2v1.2h-1.2zM326.8 410.2h1.2v1.2h-1.2zM363.7 380.0h1.2v1.2h-1.2zM362.4 384.8h1.2v1.2h-1.2zM372.2 377.3h1.2v1.2h-1.2zM385.4 366.9h1.2v1.2h-1.2zM351.9 392.7h1.2v1.2h-1.2zM372.9 375.4h1.2v1.2h-1.2zM357.0 385.8h1.2v1.2h-1.2zM364.3 379.8h1.2v1.2h-1.2zM389.8 363.8h1.2v1.2h-1.2zM364.6 383.6h1.2v1.2h-1.2zM356.7 386.6h1.2v1.2h-1.2zM378.3 373.0h1.2v1.2h-1.2zM396.3 356.2h1.2v1.2h-1.2zM317.1 418.2h1.2v1.2h-1.2zM319.7 415.8h1.2v1.2h-1.2zM280.3 444.5h1.2v1.2h-1.2zM352.8 390.7h1.2v1.2h-1.2zM387.7 361.9h1.2v1.2h-1.2zM347.2 394.0h1.2v1.2h-1.2zM413.0 343.9h1.2v1.2h-1.2zM398.2 354.0h1.2v1.2h-1.2zM371.4 378.4h1.2v1.2h-1.2zM319.4 413.7h1.2v1.2h-1.2zM367.1 377.2h1.2v1.2h-1.2zM335.6 402.4h1.2v1.2h-1.2zM311.1 423.0h1.2v1.2h-1.2zM374.3 374.7h1.2v1.2h-1.2zM312.5 420.6h1.2v1.2h-1.2zM406.9 349.4h1.2v1.2h-1.2zM359.8 386.0h1.2v1.2h-1.2zM408.1 350.9h1.2v1.2h-1.2zM368.7 377.9h1.2v1.2h-1.2zM323.6 412.6h1.2v1.2h-1.2zM336.9 399.9h1.2v1.2h-1.2zM357.8 386.1h1.2v1.2h-1.2zM343.9 396.9h1.2v1.2h-1.2zM383.6 365.4h1.2v1.2h-1.2zM292.5 435.4h1.2v1.2h-1.2zM360.2 385.2h1.2v1.2h-1.2zM316.2 417.6h1.2v1.2h-1.2zM346.5 394.5h1.2v1.2h-1.2zM401.7 355.7h1.2v1.2h-1.2zM324.5 411.8h1.2v1.2h-1.2zM346.4 395.0h1.2v1.2h-1.2zM367.0 380.4h1.2v1.2h-1.2zM370.9 374.5h1.2v1.2h-1.2zM329.9 405.9h1.2v1.2h-1.2zM349.5 393.8h1.2v1.2h-1.2zM383.6 368.3h1.2v1.2h-1.2zM340.5 398.6h1.2v1.2h-1.2zM374.1 375.4h1.2v1.2h-1.2zM361.6 385.1h1.2v1.2h-1.2zM337.6 402.0h1.2v1.2h-1.2zM379.2 372.1h1.2v1.2h-1.2zM349.9 391.2h1.2v1.2h-1.2zM317.8 417.7h1.2v1.2h-1.2zM349.3 391.3h1.2v1.2h-1.2zM358.3 385.7h1.2v1.2h-1.2zM367.9 381.3h1.2v1.2h-1.2zM381.1 368.4h1.2v1.2h-1.2zM348.3 395.0h1.2v1.2h-1.2zM373.7 374.8h1.2v1.2h-1.2zM328.8 408.1h1.2v1.2h-1.2zM347.9 396.1h1.2v1.2h-1.2zM354.1 390.0h1.2v1.2h-1.2zM348.4 394.7h1.2v1.2h-1.2zM371.4 377.0h1.2v1.2h-1.2zM387.1 363.1h1.2v1.2h-1.2zM361.3 383.3h1.2v1.2h-1.2zM381.4 369.8h1.2v1.2h-1.2zM352.6 388.2h1.2v1.2h-1.2zM366.3 381.2h1.2v1.2h-1.2zM357.1 389.4h1.2v1.2h-1.2zM378.0 372.9h1.2v1.2h-1.2zM353.7 390.0h1.2v1.2h-1.2zM391.6 359.2h1.2v1.2h-1.2zM380.9 371.3h1.2v1.2h-1.2zM275.7 450.5h1.2v1.2h-1.2zM357.0 388.8h1.2v1.2h-1.2zM406.0 349.7h1.2v1.2h-1.2zM379.3 369.7h1.2v1.2h-1.2zM364.9 382.1h1.2v1.2h-1.2zM380.4 369.5h1.2v1.2h-1.2zM380.4 367.8h1.2v1.2h-1.2zM386.1 364.1h1.2v1.2h-1.2zM370.3 375.2h1.2v1.2h-1.2zM329.0 406.6h1.2v1.2h-1.2zM340.4 401.4h1.2v1.2h-1.2zM350.6 389.6h1.2v1.2h-1.2zM337.0 401.8h1.2v1.2h-1.2zM333.8 404.3h1.2v1.2h-1.2zM372.3 376.8h1.2v1.2h-1.2zM421.2 337.8h1.2v1.2h-1.2zM396.8 357.6h1.2v1.2h-1.2zM327.7 407.2h1.2v1.2h-1.2zM325.0 411.7h1.2v1.2h-1.2zM313.0 420.4h1.2v1.2h-1.2zM369.7 375.8h1.2v1.2h-1.2zM393.8 357.1h1.2v1.2h-1.2zM412.7 343.1h1.2v1.2h-1.2zM352.1 390.2h1.2v1.2h-1.2zM370.5 376.7h1.2v1.2h-1.2zM398.1 356.0h1.2v1.2h-1.2zM375.6 371.5h1.2v1.2h-1.2zM371.1 375.2h1.2v1.2h-1.2zM394.8 357.7h1.2v1.2h-1.2zM421.1 337.9h1.2v1.2h-1.2zM309.0 422.9h1.2v1.2h-1.2zM350.0 394.5h1.2v1.2h-1.2zM370.6 375.8h1.2v1.2h-1.2zM332.2 407.6h1.2v1.2h-1.2zM379.3 370.3h1.2v1.2h-1.2zM357.4 386.9h1.2v1.2h-1.2zM349.8 393.3h1.2v1.2h-1.2zM409.3 347.4h1.2v1.2h-1.2zM344.0 395.3h1.2v1.2h-1.2zM293.1 434.3h1.2v1.2h-1.2zM368.7 380.3h1.2v1.2h-1.2zM386.9 365.3h1.2v1.2h-1.2zM385.2 363.7h1.2v1.2h-1.2zM341.5 399.4h1.2v1.2h-1.2zM330.9 406.0h1.2v1.2h-1.2zM338.6 400.6h1.2v1.2h-1.2zM378.2 371.8h1.2v1.2h-1.2zM361.8 384.6h1.2v1.2h-1.2zM301.2 430.7h1.2v1.2h-1.2zM319.2 416.2h1.2v1.2h-1.2zM302.8 427.1h1.2v1.2h-1.2zM399.6 353.7h1.2v1.2h-1.2zM393.1 360.3h1.2v1.2h-1.2zM369.3 375.9h1.2v1.2h-1.2zM404.3 349.8h1.2v1.2h-1.2zM344.2 395.5h1.2v1.2h-1.2zM361.3 382.3h1.2v1.2h-1.2zM349.0 390.7h1.2v1.2h-1.2zM313.2 420.5h1.2v1.2h-1.2zM320.4 413.6h1.2v1.2h-1.2zM366.0 378.3h1.2v1.2h-1.2zM369.6 377.4h1.2v1.2h-1.2zM357.9 386.4h1.2v1.2h-1.2zM412.5 345.8h1.2v1.2h-1.2zM321.6 413.0h1.2v1.2h-1.2zM413.4 343.7h1.2v1.2h-1.2zM388.3 365.0h1.2v1.2h-1.2zM345.7 397.7h1.2v1.2h-1.2zM322.0 412.9h1.2v1.2h-1.2zM317.5 417.7h1.2v1.2h-1.2zM295.4 435.3h1.2v1.2h-1.2zM354.8 390.9h1.2v1.2h-1.2zM381.0 369.9h1.2v1.2h-1.2zM420.4 338.1h1.2v1.2h-1.2zM401.0 351.7h1.2v1.2h-1.2zM354.6 390.8h1.2v1.2h-1.2zM418.8 343.0h1.2v1.2h-1.2zM412.3 346.5h1.2v1.2h-1.2zM341.0 396.9h1.2v1.2h-1.2zM329.1 410.0h1.2v1.2h-1.2zM355.3 389.8h1.2v1.2h-1.2zM422.1 338.6h1.2v1.2h-1.2zM367.1 378.8h1.2v1.2h-1.2zM361.5 385.7h1.2v1.2h-1.2zM384.2 368.0h1.2v1.2h-1.2zM380.6 369.7h1.2v1.2h-1.2zM384.1 365.7h1.2v1.2h-1.2zM390.5 362.4h1.2v1.2h-1.2zM299.4 432.5h1.2v1.2h-1.2zM341.2 397.2h1.2v1.2h-1.2zM392.8 358.9h1.2v1.2h-1.2zM373.2 375.9h1.2v1.2h-1.2zM352.6 390.3h1.2v1.2h-1.2zM336.6 400.2h1.2v1.2h-1.2zM385.8 363.1h1.2v1.2h-1.2zM314.9 418.7h1.2v1.2h-1.2zM395.9 356.9h1.2v1.2h-1.2zM377.9 369.7h1.2v1.2h-1.2zM427.8 332.2h1.2v1.2h-1.2zM418.5 341.5h1.2v1.2h-1.2zM369.2 380.2h1.2v1.2h-1.2zM362.4 381.7h1.2v1.2h-1.2zM308.8 425.4h1.2v1.2h-1.2zM360.4 382.8h1.2v1.2h-1.2zM353.7 391.3h1.2v1.2h-1.2zM390.7 361.1h1.2v1.2h-1.2zM373.6 374.0h1.2v1.2h-1.2zM310.8 422.0h1.2v1.2h-1.2zM359.3 387.7h1.2v1.2h-1.2zM366.6 379.2h1.2v1.2h-1.2zM317.4 414.4h1.2v1.2h-1.2zM309.6 422.0h1.2v1.2h-1.2zM301.2 428.7h1.2v1.2h-1.2zM404.5 350.0h1.2v1.2h-1.2zM360.0 385.2h1.2v1.2h-1.2zM342.1 398.8h1.2v1.2h-1.2zM317.0 415.7h1.2v1.2h-1.2zM376.3 373.3h1.2v1.2h-1.2zM382.0 370.7h1.2v1.2h-1.2zM367.6 376.7h1.2v1.2h-1.2zM354.6 391.0h1.2v1.2h-1.2zM298.3 432.0h1.2v1.2h-1.2zM367.3 380.5h1.2v1.2h-1.2zM324.1 412.2h1.2v1.2h-1.2zM357.7 385.2h1.2v1.2h-1.2zM376.3 374.1h1.2v1.2h-1.2zM363.8 382.3h1.2v1.2h-1.2zM387.1 363.9h1.2v1.2h-1.2zM370.6 377.0h1.2v1.2h-1.2zM335.2 404.9h1.2v1.2h-1.2zM378.2 372.3h1.2v1.2h-1.2zM352.5 390.2h1.2v1.2h-1.2zM399.2 354.5h1.2v1.2h-1.2zM405.3 350.3h1.2v1.2h-1.2zM314.2 421.5h1.2v1.2h-1.2zM372.0 377.0h1.2v1.2h-1.2zM399.9 355.2h1.2v1.2h-1.2zM377.5 374.0h1.2v1.2h-1.2zM279.0 445.4h1.2v1.2h-1.2zM404.1 349.9h1.2v1.2h-1.2zM280.8 442.1h1.2v1.2h-1.2zM413.7 342.2h1.2v1.2h-1.2zM367.6 377.5h1.2v1.2h-1.2zM386.6 365.8h1.2v1.2h-1.2zM338.6 401.2h1.2v1.2h-1.2zM401.6 353.4h1.2v1.2h-1.2zM344.7 396.3h1.2v1.2h-1.2zM279.6 446.3h1.2v1.2h-1.2zM398.3 358.0h1.2v1.2h-1.2zM317.0 419.2h1.2v1.2h-1.2zM304.5 426.8h1.2v1.2h-1.2zM384.8 367.0h1.2v1.2h-1.2zM352.1 389.4h1.2v1.2h-1.2zM359.9 386.5h1.2v1.2h-1.2zM374.7 373.0h1.2v1.2h-1.2zM355.2 387.3h1.2v1.2h-1.2zM389.7 362.3h1.2v1.2h-1.2zM362.3 382.6h1.2v1.2h-1.2zM361.0 386.1h1.2v1.2h-1.2zM393.5 359.1h1.2v1.2h-1.2zM388.5 363.0h1.2v1.2h-1.2zM388.9 361.1h1.2v1.2h-1.2zM399.5 354.4h1.2v1.2h-1.2zM349.8 392.0h1.2v1.2h-1.2zM334.0 404.2h1.2v1.2h-1.2zM315.1 417.8h1.2v1.2h-1.2zM331.3 405.8h1.2v1.2h-1.2zM410.6 346.5h1.2v1.2h-1.2zM314.0 419.5h1.2v1.2h-1.2zM319.6 414.9h1.2v1.2h-1.2zM285.6 441.3h1.2v1.2h-1.2zM343.8 398.5h1.2v1.2h-1.2zM339.1 399.5h1.2v1.2h-1.2zM324.9 413.1h1.2v1.2h-1.2zM355.4 388.2h1.2v1.2h-1.2zM327.4 411.7h1.2v1.2h-1.2zM300.7 430.9h1.2v1.2h-1.2zM298.7 428.7h1.2v1.2h-1.2zM419.7 341.3h1.2v1.2h-1.2zM328.0 409.0h1.2v1.2h-1.2zM396.2 357.7h1.2v1.2h-1.2zM400.8 354.2h1.2v1.2h-1.2zM308.6 424.5h1.2v1.2h-1.2zM357.3 385.6h1.2v1.2h-1.2zM306.9 424.2h1.2v1.2h-1.2zM358.5 388.4h1.2v1.2h-1.2zM338.2 400.4h1.2v1.2h-1.2zM369.6 378.1h1.2v1.2h-1.2zM374.3 375.6h1.2v1.2h-1.2zM310.5 420.8h1.2v1.2h-1.2zM343.5 394.8h1.2v1.2h-1.2zM364.4 379.1h1.2v1.2h-1.2zM406.4 349.4h1.2v1.2h-1.2zM385.5 367.5h1.2v1.2h-1.2zM347.9 393.5h1.2v1.2h-1.2zM409.8 347.2h1.2v1.2h-1.2zM413.0 345.7h1.2v1.2h-1.2zM356.6 385.1h1.2v1.2h-1.2zM368.5 380.7h1.2v1.2h-1.2zM386.4 366.8h1.2v1.2h-1.2zM352.8 389.2h1.2v1.2h-1.2zM346.7 394.0h1.2v1.2h-1.2zM333.8 403.4h1.2v1.2h-1.2zM288.9 437.8h1.2v1.2h-1.2zM405.7 349.8h1.2v1.2h-1.2zM342.2 397.8h1.2v1.2h-1.2zM386.7 366.7h1.2v1.2h-1.2zM305.1 426.9h1.2v1.2h-1.2zM358.2 385.2h1.2v1.2h-1.2zM283.4 443.9h1.2v1.2h-1.2zM378.7 369.0h1.2v1.2h-1.2zM418.6 338.5h1.2v1.2h-1.2zM320.8 413.4h1.2v1.2h-1.2zM313.2 422.0h1.2v1.2h-1.2zM341.3 400.5h1.2v1.2h-1.2zM403.5 354.3h1.2v1.2h-1.2zM363.3 380.2h1.2v1.2h-1.2zM348.6 391.0h1.2v1.2h-1.2zM360.8 383.8h1.2v1.2h-1.2zM374.8 373.5h1.2v1.2h-1.2zM330.5 405.6h1.2v1.2h-1.2zM385.2 366.9h1.2v1.2h-1.2zM349.8 391.5h1.2v1.2h-1.2zM345.7 394.0h1.2v1.2h-1.2zM313.1 418.4h1.2v1.2h-1.2zM359.0 385.4h1.2v1.2h-1.2zM296.2 430.9h1.2v1.2h-1.2zM397.8 358.7h1.2v1.2h-1.2zM367.2 379.0h1.2v1.2h-1.2zM369.5 377.2h1.2v1.2h-1.2zM333.8 402.4h1.2v1.2h-1.2zM338.6 402.5h1.2v1.2h-1.2zM426.1 333.2h1.2v1.2h-1.2zM416.4 342.5h1.2v1.2h-1.2zM367.7 376.9h1.2v1.2h-1.2zM392.4 360.5h1.2v1.2h-1.2zM408.0 348.9h1.2v1.2h-1.2zM355.9 388.0h1.2v1.2h-1.2zM341.7 398.7h1.2v1.2h-1.2zM352.5 390.7h1.2v1.2h-1.2zM356.8 387.4h1.2v1.2h-1.2zM334.6 401.9h1.2v1.2h-1.2zM317.7 415.1h1.2v1.2h-1.2zM375.4 374.6h1.2v1.2h-1.2zM369.8 379.7h1.2v1.2h-1.2zM405.3 352.5h1.2v1.2h-1.2zM326.4 411.2h1.2v1.2h-1.2zM333.4 406.1h1.2v1.2h-1.2zM397.4 356.8h1.2v1.2h-1.2zM361.3 385.1h1.2v1.2h-1.2zM402.4 354.8h1.2v1.2h-1.2zM312.9 419.3h1.2v1.2h-1.2zM337.9 401.1h1.2v1.2h-1.2zM400.0 354.0h1.2v1.2h-1.2zM386.8 362.9h1.2v1.2h-1.2zM392.4 361.4h1.2v1.2h-1.2zM421.9 339.3h1.2v1.2h-1.2zM354.6 390.0h1.2v1.2h-1.2zM372.1 374.4h1.2v1.2h-1.2zM321.9 411.4h1.2v1.2h-1.2zM298.8 431.3h1.2v1.2h-1.2zM288.3 437.1h1.2v1.2h-1.2zM358.9 386.0h1.2v1.2h-1.2zM304.2 428.1h1.2v1.2h-1.2zM336.4 401.9h1.2v1.2h-1.2zM367.1 377.3h1.2v1.2h-1.2zM374.4 373.9h1.2v1.2h-1.2zM349.7 393.7h1.2v1.2h-1.2zM382.8 367.0h1.2v1.2h-1.2zM351.3 390.6h1.2v1.2h-1.2zM308.5 425.2h1.2v1.2h-1.2zM424.5 335.6h1.2v1.2h-1.2zM337.4 400.7h1.2v1.2h-1.2zM313.2 421.6h1.2v1.2h-1.2zM301.4 431.2h1.2v1.2h-1.2zM337.8 401.9h1.2v1.2h-1.2zM351.6 391.0h1.2v1.2h-1.2zM344.6 397.2h1.2v1.2h-1.2zM326.1 412.6h1.2v1.2h-1.2zM360.8 382.0h1.2v1.2h-1.2zM341.6 398.4h1.2v1.2h-1.2zM356.3 389.3h1.2v1.2h-1.2zM343.8 398.4h1.2v1.2h-1.2zM293.9 436.5h1.2v1.2h-1.2zM410.3 347.0h1.2v1.2h-1.2zM367.0 378.9h1.2v1.2h-1.2zM374.8 374.5h1.2v1.2h-1.2zM366.5 378.0h1.2v1.2h-1.2zM379.2 372.3h1.2v1.2h-1.2zM412.9 345.7h1.2v1.2h-1.2zM379.9 369.3h1.2v1.2h-1.2zM354.1 389.2h1.2v1.2h-1.2zM390.4 363.8h1.2v1.2h-1.2zM357.2 386.8h1.2v1.2h-1.2zM409.0 349.1h1.2v1.2h-1.2zM338.0 401.1h1.2v1.2h-1.2zM394.7 356.5h1.2v1.2h-1.2zM308.6 423.7h1.2v1.2h-1.2zM368.2 377.6h1.2v1.2h-1.2zM377.8 371.5h1.2v1.2h-1.2zM355.3 388.8h1.2v1.2h-1.2zM304.1 427.6h1.2v1.2h-1.2zM317.6 415.0h1.2v1.2h-1.2zM364.1 383.5h1.2v1.2h-1.2zM340.6 397.3h1.2v1.2h-1.2zM311.0 423.1h1.2v1.2h-1.2zM312.4 420.3h1.2v1.2h-1.2zM334.4 404.0h1.2v1.2h-1.2zM402.3 352.2h1.2v1.2h-1.2zM312.8 420.6h1.2v1.2h-1.2zM398.0 358.3h1.2v1.2h-1.2zM357.0 385.4h1.2v1.2h-1.2zM312.4 422.1h1.2v1.2h-1.2zM383.7 366.2h1.2v1.2h-1.2zM353.8 388.2h1.2v1.2h-1.2zM345.1 398.2h1.2v1.2h-1.2zM350.8 389.9h1.2v1.2h-1.2zM357.0 385.3h1.2v1.2h-1.2zM396.6 356.7h1.2v1.2h-1.2zM381.7 368.7h1.2v1.2h-1.2zM384.1 368.2h1.2v1.2h-1.2zM354.1 389.8h1.2v1.2h-1.2zM409.9 347.6h1.2v1.2h-1.2zM368.8 377.6h1.2v1.2h-1.2zM407.1 347.6h1.2v1.2h-1.2zM303.2 426.7h1.2v1.2h-1.2zM324.8 409.7h1.2v1.2h-1.2zM379.5 368.9h1.2v1.2h-1.2zM385.2 365.5h1.2v1.2h-1.2zM305.1 426.3h1.2v1.2h-1.2zM312.7 420.4h1.2v1.2h-1.2zM300.9 429.6h1.2v1.2h-1.2zM317.9 418.6h1.2v1.2h-1.2zM344.2 398.2h1.2v1.2h-1.2zM350.2 390.2h1.2v1.2h-1.2zM422.4 335.7h1.2v1.2h-1.2zM326.9 411.1h1.2v1.2h-1.2zM345.7 396.6h1.2v1.2h-1.2zM401.3 356.2h1.2v1.2h-1.2zM354.8 391.0h1.2v1.2h-1.2zM312.3 419.4h1.2v1.2h-1.2zM350.3 391.0h1.2v1.2h-1.2zM314.8 417.6h1.2v1.2h-1.2zM310.4 421.8h1.2v1.2h-1.2zM362.2 385.5h1.2v1.2h-1.2zM349.1 394.8h1.2v1.2h-1.2zM323.7 411.3h1.2v1.2h-1.2zM352.6 390.8h1.2v1.2h-1.2zM322.9 413.2h1.2v1.2h-1.2zM366.8 377.6h1.2v1.2h-1.2zM342.4 398.5h1.2v1.2h-1.2zM417.6 342.4h1.2v1.2h-1.2zM350.7 390.1h1.2v1.2h-1.2zM376.3 371.6h1.2v1.2h-1.2zM377.8 370.6h1.2v1.2h-1.2zM364.1 380.3h1.2v1.2h-1.2zM371.5 377.9h1.2v1.2h-1.2zM374.7 374.9h1.2v1.2h-1.2zM336.6 403.9h1.2v1.2h-1.2zM368.8 376.6h1.2v1.2h-1.2zM400.7 355.5h1.2v1.2h-1.2zM400.3 352.5h1.2v1.2h-1.2zM366.9 379.9h1.2v1.2h-1.2zM297.2 433.7h1.2v1.2h-1.2z" fill="#41ff00"/>
<path d="M299.7 453.4h1.2v1.2h-1.2zM295.3 457.6h1.2v1.2h-1.2zM395.7 380.4h1.2v1.2h-1.2zM292.6 461.7h1.2v1.2h-1.2zM299.8 455.7h1.2v1.2h-1.2zM331.9 430.4h1.2v1.2h-1.2zM346.5 421.3h1.2v1.2h-1.2zM296.7 456.2h1.2v1.2h-1.2zM285.9 465.0h1.2v1.2h-1.2zM341.6 421.6h1.2v1.2h-1.2zM272.2 477.2h1.2v1.2h-1.2zM310.2 444.6h1.2v1.2h-1.2zM277.4 473.1h1.2v1.2h-1.2zM307.2 447.1h1.2v1.2h-1.2zM299.0 456.2h1.2v1.2h-1.2zM272.6 475.6h1.2v1.2h-1.2zM316.9 440.0h1.2v1.2h-1.2zM298.9 454.2h1.2v1.2h-1.2zM300.2 455.1h1.2v1.2h-1.2zM301.1 451.5h1.2v1.2h-1.2zM388.5 386.8h1.2v1.2h-1.2zM381.9 394.8h1.2v1.2h-1.2zM305.5 448.8h1.2v1.2h-1.2zM327.2 432.3h1.2v1.2h-1.2zM269.0 478.2h1.2v1.2h-1.2zM335.6 426.5h1.2v1.2h-1.2zM370.0 402.6h1.2v1.2h-1.2zM305.8 450.4h1.2v1.2h-1.2zM286.1 466.9h1.2v1.2h-1.2zM268.2 479.3h1.2v1.2h-1.2zM321.6 437.2h1.2v1.2h-1.2zM431.5 356.3h1.2v1.2h-1.2zM316.2 442.4h1.2v1.2h-1.2zM316.8 442.8h1.2v1.2h-1.2zM360.4 409.4h1.2v1.2h-1.2zM273.9 471.9h1.2v1.2h-1.2zM314.9 445.0h1.2v1.2h-1.2zM300.0 455.8h1.2v1.2h-1.2zM292.3 462.3h1.2v1.2h-1.2zM326.2 435.5h1.2v1.2h-1.2zM325.2 434.5h1.2v1.2h-1.2zM404.0 375.3h1.2v1.2h-1.2zM369.0 404.6h1.2v1.2h-1.2zM330.9 431.0h1.2v1.2h-1.2zM272.3 474.5h1.2v1.2h-1.2zM272.4 477.1h1.2v1.2h-1.2zM391.8 387.6h1.2v1.2h-1.2zM335.1 426.4h1.2v1.2h-1.2zM361.7 409.3h1.2v1.2h-1.2zM303.8 452.5h1.2v1.2h-1.2zM270.5 478.1h1.2v1.2h-1.2zM370.6 401.4h1.2v1.2h-1.2zM355.5 411.7h1.2v1.2h-1.2zM322.6 435.8h1.2v1.2h-1.2zM292.7 462.1h1.2v1.2h-1.2zM380.5 393.9h1.2v1.2h-1.2zM272.4 474.5h1.2v1.2h-1.2zM319.2 438.5h1.2v1.2h-1.2zM288.5 462.4h1.2v1.2h-1.2zM268.6 479.0h1.2v1.2h-1.2zM335.7 428.2h1.2v1.2h-1.2zM425.8 360.5h1.2v1.2h-1.2zM293.3 457.7h1.2v1.2h-1.2zM290.0 460.1h1.2v1.2h-1.2zM274.6 472.5h1.2v1.2h-1.2zM321.7 438.0h1.2v1.2h-1.2zM297.1 458.6h1.2v1.2h-1.2zM297.4 456.9h1.2v1.2h-1.2zM332.0 432.5h1.2v1.2h-1.2zM292.6 457.4h1.2v1.2h-1.2zM364.2 405.3h1.2v1.2h-1.2zM282.1 467.0h1.2v1.2h-1.2zM278.7 468.4h1.2v1.2h-1.2zM334.2 428.0h1.2v1.2h-1.2zM332.7 428.3h1.2v1.2h-1.2zM318.9 440.3h1.2v1.2h-1.2zM351.2 415.8h1.2v1.2h-1.2zM284.7 467.9h1.2v1.2h-1.2zM325.1 436.5h1.2v1.2h-1.2zM359.9 407.2h1.2v1.2h-1.2zM333.0 429.5h1.2v1.2h-1.2zM277.6 470.7h1.2v1.2h-1.2zM369.2 400.6h1.2v1.2h-1.2zM380.9 393.8h1.2v1.2h-1.2zM356.5 411.3h1.2v1.2h-1.2zM338.7 426.8h1.2v1.2h-1.2zM378.7 393.5h1.2v1.2h-1.2zM317.4 438.9h1.2v1.2h-1.2zM308.8 448.1h1.2v1.2h-1.2zM295.8 459.4h1.2v1.2h-1.2zM312.6 443.4h1.2v1.2h-1.2zM347.0 417.5h1.2v1.2h-1.2zM384.0 392.6h1.2v1.2h-1.2zM429.8 357.6h1.2v1.2h-1.2zM338.0 425.8h1.2v1.2h-1.2zM308.5 445.8h1.2v1.2h-1.2zM362.2 406.5h1.2v1.2h-1.2zM419.5 364.9h1.2v1.2h-1.2zM282.8 468.1h1.2v1.2h-1.2zM292.8 461.8h1.2v1.2h-1.2zM271.9 477.2h1.2v1.2h-1.2zM293.9 458.6h1.2v1.2h-1.2zM350.9 415.2h1.2v1.2h-1.2zM296.1 455.2h1.2v1.2h-1.2zM284.1 467.2h1.2v1.2h-1.2zM309.6 446.0h1.2v1.2h-1.2zM331.1 428.7h1.2v1.2h-1.2zM346.8 419.3h1.2v1.2h-1.2zM310.9 445.6h1.2v1.2h-1.2zM319.2 438.1h1.2v1.2h-1.2zM271.7 473.5h1.2v1.2h-1.2zM336.2 428.3h1.2v1.2h-1.2zM379.1 395.1h1.2v1.2h-1.2zM342.8 419.9h1.2v1.2h-1.2zM344.1 421.4h1.2v1.2h-1.2zM273.7 475.7h1.2v1.2h-1.2zM303.7 453.1h1.2v1.2h-1.2zM275.5 474.6h1.2v1.2h-1.2zM310.9 444.6h1.2v1.2h-1.2zM350.8 417.6h1.2v1.2h-1.2zM385.2 387.9h1.2v1.2h-1.2zM275.3 472.0h1.2v1.2h-1.2zM284.9 463.9h1.2v1.2h-1.2zM289.3 461.2h1.2v1.2h-1.2zM283.3 466.6h1.2v1.2h-1.2zM290.4 460.7h1.2v1.2h-1.2zM313.9 442.3h1.2v1.2h-1.2zM322.5 435.7h1.2v1.2h-1.2zM301.7 451.4h1.2v1.2h-1.2zM416.0 367.3h1.2v1.2h-1.2zM292.7 460.5h1.2v1.2h-1.2zM386.8 390.4h1.2v1.2h-1.2zM316.3 440.7h1.2v1.2h-1.2zM295.2 458.4h1.2v1.2h-1.2zM361.5 406.8h1.2v1.2h-1.2zM372.0 401.4h1.2v1.2h-1.2zM289.1 462.4h1.2v1.2h-1.2zM348.7 415.7h1.2v1.2h-1.2zM290.5 463.6h1.2v1.2h-1.2zM356.8 411.8h1.2v1.2h-1.2zM297.5 458.2h1.2v1.2h-1.2zM299.0 455.5h1.2v1.2h-1.2zM293.3 459.1h1.2v1.2h-1.2zM299.1 453.0h1.2v1.2h-1.2zM299.9 453.2h1.2v1.2h-1.2zM310.5 445.6h1.2v1.2h-1.2zM298.7 453.8h1.2v1.2h-1.2zM277.3 471.2h1.2v1.2h-1.2zM327.2 432.9h1.2v1.2h-1.2zM269.8 474.8h1.2v1.2h-1.2zM308.3 447.1h1.2v1.2h-1.2zM293.8 461.3h1.2v1.2h-1.2zM315.5 440.6h1.2v1.2h-1.2zM305.0 450.3h1.2v1.2h-1.2zM292.1 458.1h1.2v1.2h-1.2zM297.1 456.7h1.2v1.2h-1.2zM377.3 398.5h1.2v1.2h-1.2zM363.1 408.7h1.2v1.2h-1.2zM303.0 451.0h1.2v1.2h-1.2zM299.5 453.8h1.2v1.2h-1.2zM328.9 433.7h1.2v1.2h-1.2zM344.4 420.2h1.2v1.2h-1.2zM298.4 456.0h1.2v1.2h-1.2zM284.0 465.0h1.2v1.2h-1.2zM330.0 430.1h1.2v1.2h-1.2zM371.9 399.2h1.2v1.2h-1.2zM331.8 428.0h1.2v1.2h-1.2zM415.6 365.4h1.2v1.2h-1.2zM293.9 457.8h1.2v1.2h-1.2zM307.6 447.9h1.2v1.2h-1.2zM326.2 432.8h1.2v1.2h-1.2zM279.3 470.0h1.2v1.2h-1.2zM298.1 454.2h1.2v1.2h-1.2zM273.1 476.6h1.2v1.2h-1.2zM341.2 421.8h1.2v1.2h-1.2zM308.6 449.0h1.2v1.2h-1.2zM299.1 452.6h1.2v1.2h-1.2zM333.0 428.3h1.2v1.2h-1.2zM304.3 451.7h1.2v1.2h-1.2zM314.3 443.8h1.2v1.2h-1.2zM290.5 461.2h1.2v1.2h-1.2zM270.2 475.0h1.2v1.2h-1.2zM281.6 468.8h1.2v1.2h-1.2zM414.9 367.1h1.2v1.2h-1.2zM299.0 453.8h1.2v1.2h-1.2zM289.9 462.4h1.2v1.2h-1.2zM277.4 468.8h1.2v1.2h-1.2zM297.6 457.8h1.2v1.2h-1.2zM337.3 425.6h1.2v1.2h-1.2zM312.5 443.8h1.2v1.2h-1.2zM307.5 446.6h1.2v1.2h-1.2zM296.1 457.6h1.2v1.2h-1.2zM295.1 460.0h1.2v1.2h-1.2zM374.9 398.7h1.2v1.2h-1.2zM277.2 471.4h1.2v1.2h-1.2zM303.8 451.2h1.2v1.2h-1.2zM316.9 440.1h1.2v1.2h-1.2zM298.6 456.7h1.2v1.2h-1.2zM317.5 439.7h1.2v1.2h-1.2zM308.0 449.4h1.2v1.2h-1.2zM277.7 468.5h1.2v1.2h-1.2zM338.4 423.9h1.2v1.2h-1.2zM290.3 463.6h1.2v1.2h-1.2zM270.2 475.7h1.2v1.2h-1.2zM310.1 447.4h1.2v1.2h-1.2zM414.8 367.7h1.2v1.2h-1.2zM271.3 475.2h1.2v1.2h-1.2zM334.2 429.8h1.2v1.2h-1.2zM277.9 471.6h1.2v1.2h-1.2zM303.2 454.0h1.2v1.2h-1.2zM303.9 450.6h1.2v1.2h-1.2zM320.0 438.4h1.2v1.2h-1.2zM270.4 477.6h1.2v1.2h-1.2zM286.3 464.7h1.2v1.2h-1.2zM381.2 393.4h1.2v1.2h-1.2zM276.5 474.1h1.2v1.2h-1.2zM321.6 440.0h1.2v1.2h-1.2zM280.8 469.4h1.2v1.2h-1.2zM339.2 423.5h1.2v1.2h-1.2zM273.1 473.9h1.2v1.2h-1.2zM286.4 464.5h1.2v1.2h-1.2zM351.1 415.2h1.2v1.2h-1.2zM306.5 447.2h1.2v1.2h-1.2zM340.6 422.0h1.2v1.2h-1.2zM341.5 425.0h1.2v1.2h-1.2zM319.7 440.8h1.2v1.2h-1.2zM285.0 467.1h1.2v1.2h-1.2zM308.1 450.2h1.2v1.2h-1.2zM329.4 434.2h1.2v1.2h-1.2zM313.9 445.1h1.2v1.2h-1.2zM287.5 465.0h1.2v1.2h-1.2zM274.2 473.9h1.2v1.2h-1.2zM275.4 474.6h1.2v1.2h-1.2zM282.8 468.9h1.2v1.2h-1.2zM326.2 435.0h1.2v1.2h-1.2zM361.7 408.9h1.2v1.2h-1.2zM321.5 437.7h1.2v1.2h-1.2zM295.0 458.9h1.2v1.2h-1.2zM283.3 466.9h1.2v1.2h-1.2zM362.8 406.6h1.2v1.2h-1.2zM297.2 457.8h1.2v1.2h-1.2zM328.6 431.1h1.2v1.2h-1.2zM303.6 449.4h1.2v1.2h-1.2zM293.8 456.7h1.2v1.2h-1.2zM333.6 427.6h1.2v1.2h-1.2zM323.9 435.7h1.2v1.2h-1.2zM284.5 465.5h1.2v1.2h-1.2zM307.1 449.9h1.2v1.2h-1.2zM332.6 431.3h1.2v1.2h-1.2zM320.1 437.1h1.2v1.2h-1.2zM420.0 363.1h1.2v1.2h-1.2zM301.8 452.1h1.2v1.2h-1.2zM285.0 464.2h1.2v1.2h-1.2zM339.9 426.2h1.2v1.2h-1.2zM359.7 409.4h1.2v1.2h-1.2zM275.0 473.3h1.2v1.2h-1.2zM368.7 400.4h1.2v1.2h-1.2zM300.6 453.6h1.2v1.2h-1.2zM313.1 442.6h1.2v1.2h-1.2zM300.5 452.0h1.2v1.2h-1.2zM288.5 462.5h1.2v1.2h-1.2zM315.1 443.9h1.2v1.2h-1.2zM284.9 467.8h1.2v1.2h-1.2zM326.2 435.8h1.2v1.2h-1.2zM271.7 475.9h1.2v1.2h-1.2zM311.3 444.4h1.2v1.2h-1.2zM300.0 456.0h1.2v1.2h-1.2zM296.6 456.7h1.2v1.2h-1.2zM284.0 465.4h1.2v1.2h-1.2zM302.8 450.2h1.2v1.2h-1.2zM325.4 434.7h1.2v1.2h-1.2zM320.5 436.9h1.2v1.2h-1.2zM302.8 454.3h1.2v1.2h-1.2zM313.0 444.0h1.2v1.2h-1.2zM288.4 462.6h1.2v1.2h-1.2zM294.8 456.4h1.2v1.2h-1.2zM399.9 377.6h1.2v1.2h-1.2zM302.8 453.8h1.2v1.2h-1.2zM270.6 478.4h1.2v1.2h-1.2zM288.3 461.0h1.2v1.2h-1.2zM309.9 444.7h1.2v1.2h-1.2zM350.4 415.9h1.2v1.2h-1.2zM351.1 414.5h1.2v1.2h-1.2zM297.3 458.3h1.2v1.2h-1.2zM375.3 398.2h1.2v1.2h-1.2zM300.3 453.7h1.2v1.2h-1.2zM323.9 436.9h1.2v1.2h-1.2zM285.5 462.9h1.2v1.2h-1.2zM353.8 411.4h1.2v1.2h-1.2zM276.2 474.5h1.2v1.2h-1.2zM329.3 430.6h1.2v1.2h-1.2zM279.3 470.3h1.2v1.2h-1.2zM298.7 453.7h1.2v1.2h-1.2zM323.3 434.9h1.2v1.2h-1.2zM383.8 391.6h1.2v1.2h-1.2zM299.2 452.5h1.2v1.2h-1.2zM334.7 430.1h1.2v1.2h-1.2zM305.5 449.0h1.2v1.2h-1.2zM376.9 394.5h1.2v1.2h-1.2zM358.8 409.2h1.2v1.2h-1.2zM285.4 465.4h1.2v1.2h-1.2zM353.0 412.5h1.2v1.2h-1.2zM296.8 455.6h1.2v1.2h-1.2zM276.3 470.7h1.2v1.2h-1.2zM415.2 367.8h1.2v1.2h-1.2zM277.6 470.4h1.2v1.2h-1.2zM297.3 457.3h1.2v1.2h-1.2zM300.3 453.3h1.2v1.2h-1.2zM318.1 438.9h1.2v1.2h-1.2zM315.6 443.0h1.2v1.2h-1.2zM286.6 464.4h1.2v1.2h-1.2zM306.6 448.1h1.2v1.2h-1.2zM280.5 470.6h1.2v1.2h-1.2zM303.5 451.6h1.2v1.2h-1.2zM375.8 397.3h1.2v1.2h-1.2zM393.1 382.3h1.2v1.2h-1.2zM368.1 403.8h1.2v1.2h-1.2zM406.9 373.2h1.2v1.2h-1.2zM375.8 398.2h1.2v1.2h-1.2zM302.5 451.1h1.2v1.2h-1.2zM306.2 451.9h1.2v1.2h-1.2zM282.5 469.2h1.2v1.2h-1.2zM298.8 454.3h1.2v1.2h-1.2zM289.8 461.2h1.2v1.2h-1.2zM303.3 450.9h1.2v1.2h-1.2zM339.3 425.0h1.2v1.2h-1.2zM327.3 434.7h1.2v1.2h-1.2zM334.2 426.5h1.2v1.2h-1.2zM285.5 464.3h1.2v1.2h-1.2zM331.0 433.2h1.2v1.2h-1.2zM416.7 365.4h1.2v1.2h-1.2zM289.5 462.5h1.2v1.2h-1.2zM382.9 392.2h1.2v1.2h-1.2zM277.0 473.7h1.2v1.2h-1.2zM344.2 421.4h1.2v1.2h-1.2zM357.3 411.6h1.2v1.2h-1.2zM328.1 434.4h1.2v1.2h-1.2zM349.3 415.7h1.2v1.2h-1.2zM279.2 470.6h1.2v1.2h-1.2zM314.0 444.1h1.2v1.2h-1.2zM290.8 462.4h1.2v1.2h-1.2zM409.7 373.2h1.2v1.2h-1.2zM378.8 394.8h1.2v1.2h-1.2zM276.9 472.3h1.2v1.2h-1.2zM364.7 404.5h1.2v1.2h-1.2zM359.6 410.1h1.2v1.2h-1.2zM275.8 470.5h1.2v1.2h-1.2zM286.0 465.6h1.2v1.2h-1.2zM307.8 448.6h1.2v1.2h-1.2zM309.5 448.4h1.2v1.2h-1.2zM306.9 446.8h1.2v1.2h-1.2zM293.2 457.2h1.2v1.2h-1.2zM341.6 421.9h1.2v1.2h-1.2zM429.5 354.8h1.2v1.2h-1.2zM296.4 456.6h1.2v1.2h-1.2zM285.8 464.8h1.2v1.2h-1.2zM290.8 461.9h1.2v1.2h-1.2zM271.8 473.9h1.2v1.2h-1.2zM326.5 432.6h1.2v1.2h-1.2zM279.8 468.6h1.2v1.2h-1.2zM296.4 458.7h1.2v1.2h-1.2zM282.5 467.2h1.2v1.2h-1.2zM329.3 433.0h1.2v1.2h-1.2zM281.9 466.9h1.2v1.2h-1.2zM363.8 406.7h1.2v1.2h-1.2zM268.9 476.8h1.2v1.2h-1.2zM352.6 412.6h1.2v1.2h-1.2zM395.7 384.5h1.2v1.2h-1.2zM278.2 470.8h1.2v1.2h-1.2zM361.1 406.5h1.2v1.2h-1.2zM306.1 447.7h1.2v1.2h-1.2zM332.6 431.4h1.2v1.2h-1.2zM280.9 468.8h1.2v1.2h-1.2zM328.4 433.3h1.2v1.2h-1.2zM370.4 403.4h1.2v1.2h-1.2zM431.3 354.7h1.2v1.2h-1.2zM285.9 462.8h1.2v1.2h-1.2zM369.2 401.6h1.2v1.2h-1.2zM301.6 451.2h1.2v1.2h-1.2zM320.4 440.7h1.2v1.2h-1.2zM296.4 454.8h1.2v1.2h-1.2zM285.7 463.1h1.2v1.2h-1.2zM285.8 464.1h1.2v1.2h-1.2zM288.3 463.6h1.2v1.2h-1.2zM300.3 456.2h1.2v1.2h-1.2zM319.3 437.6h1.2v1.2h-1.2zM321.6 439.6h1.2v1.2h-1.2zM321.3 439.4h1.2v1.2h-1.2zM277.2 470.3h1.2v1.2h-1.2zM286.0 465.0h1.2v1.2h-1.2zM270.9 477.8h1.2v1.2h-1.2zM327.8 431.3h1.2v1.2h-1.2zM269.4 476.6h1.2v1.2h-1.2zM333.3 428.2h1.2v1.2h-1.2zM335.2 429.4h1.2v1.2h-1.2zM301.6 453.3h1.2v1.2h-1.2zM278.3 469.1h1.2v1.2h-1.2zM274.8 475.5h1.2v1.2h-1.2zM317.5 439.7h1.2v1.2h-1.2zM326.4 433.3h1.2v1.2h-1.2zM418.6 367.2h1.2v1.2h-1.2zM292.0 458.3h1.2v1.2h-1.2zM357.1 413.4h1.2v1.2h-1.2zM292.2 458.0h1.2v1.2h-1.2zM353.1 416.1h1.2v1.2h-1.2zM300.2 454.2h1.2v1.2h-1.2zM277.5 468.7h1.2v1.2h-1.2zM308.0 449.5h1.2v1.2h-1.2zM351.5 416.2h1.2v1.2h-1.2zM310.1 446.6h1.2v1.2h-1.2zM344.9 419.8h1.2v1.2h-1.2zM310.9 447.3h1.2v1.2h-1.2zM298.4 453.2h1.2v1.2h-1.2zM301.2 453.9h1.2v1.2h-1.2zM345.1 419.5h1.2v1.2h-1.2zM282.9 468.8h1.2v1.2h-1.2zM343.5 422.7h1.2v1.2h-1.2zM269.5 475.0h1.2v1.2h-1.2zM334.3 429.3h1.2v1.2h-1.2zM334.2 430.4h1.2v1.2h-1.2zM372.7 397.7h1.2v1.2h-1.2zM314.3 442.7h1.2v1.2h-1.2zM332.2 431.2h1.2v1.2h-1.2zM335.3 428.5h1.2v1.2h-1.2zM293.1 458.2h1.2v1.2h-1.2zM304.8 450.3h1.2v1.2h-1.2zM274.8 472.2h1.2v1.2h-1.2zM339.8 425.6h1.2v1.2h-1.2zM330.3 432.6h1.2v1.2h-1.2zM290.6 462.9h1.2v1.2h-1.2zM276.4 471.4h1.2v1.2h-1.2zM309.6 445.9h1.2v1.2h-1.2zM283.4 466.7h1.2v1.2h-1.2zM281.5 467.7h1.2v1.2h-1.2zM352.8 414.5h1.2v1.2h-1.2zM319.2 438.1h1.2v1.2h-1.2zM318.0 438.3h1.2v1.2h-1.2zM371.5 400.3h1.2v1.2h-1.2zM281.9 469.2h1.2v1.2h-1.2zM297.0 455.3h1.2v1.2h-1.2zM286.3 463.0h1.2v1.2h-1.2zM352.5 416.9h1.2v1.2h-1.2zM308.6 448.7h1.2v1.2h-1.2zM396.6 380.5h1.2v1.2h-1.2zM321.0 438.1h1.2v1.2h-1.2zM387.6 389.7h1.2v1.2h-1.2zM315.2 442.7h1.2v1.2h-1.2zM309.3 449.0h1.2v1.2h-1.2zM373.3 399.5h1.2v1.2h-1.2zM300.7 453.9h1.2v1.2h-1.2zM268.0 480.0h1.2v1.2h-1.2zM349.1 417.0h1.2v1.2h-1.2zM308.0 449.3h1.2v1.2h-1.2zM275.6 474.7h1.2v1.2h-1.2zM336.4 426.1h1.2v1.2h-1.2zM353.3 415.9h1.2v1.2h-1.2zM347.4 420.8h1.2v1.2h-1.2zM409.3 374.3h1.2v1.2h-1.2zM272.6 475.8h1.2v1.2h-1.2zM333.0 430.8h1.2v1.2h-1.2zM275.2 474.9h1.2v1.2h-1.2zM346.3 420.7h1.2v1.2h-1.2zM350.3 414.1h1.2v1.2h-1.2zM312.2 444.3h1.2v1.2h-1.2zM279.6 468.2h1.2v1.2h-1.2zM276.0 472.6h1.2v1.2h-1.2zM369.5 400.9h1.2v1.2h-1.2zM335.9 425.2h1.2v1.2h-1.2zM320.9 436.8h1.2v1.2h-1.2zM274.8 473.6h1.2v1.2h-1.2zM270.0 476.0h1.2v1.2h-1.2zM321.0 440.1h1.2v1.2h-1.2zM394.6 384.2h1.2v1.2h-1.2zM307.4 447.9h1.2v1.2h-1.2zM268.7 478.5h1.2v1.2h-1.2zM342.0 423.4h1.2v1.2h-1.2zM273.6 473.9h1.2v1.2h-1.2zM334.5 426.8h1.2v1.2h-1.2zM298.4 455.4h1.2v1.2h-1.2zM281.5 466.5h1.2v1.2h-1.2zM275.5 474.6h1.2v1.2h-1.2zM334.2 427.5h1.2v1.2h-1.2zM282.1 468.5h1.2v1.2h-1.2zM334.5 429.2h1.2v1.2h-1.2zM298.5 453.2h1.2v1.2h-1.2zM294.3 460.6h1.2v1.2h-1.2zM285.4 467.2h1.2v1.2h-1.2zM312.9 445.7h1.2v1.2h-1.2zM328.8 431.2h1.2v1.2h-1.2zM306.6 450.6h1.2v1.2h-1.2zM276.0 469.9h1.2v1.2h-1.2zM353.5 415.1h1.2v1.2h-1.2zM283.3 466.3h1.2v1.2h-1.2zM287.6 461.1h1.2v1.2h-1.2zM292.3 459.7h1.2v1.2h-1.2zM320.3 438.6h1.2v1.2h-1.2zM341.9 420.3h1.2v1.2h-1.2zM331.3 430.2h1.2v1.2h-1.2zM293.5 460.4h1.2v1.2h-1.2zM389.9 385.3h1.2v1.2h-1.2zM359.3 411.3h1.2v1.2h-1.2zM292.4 458.1h1.2v1.2h-1.2zM282.1 467.3h1.2v1.2h-1.2zM309.2 448.0h1.2v1.2h-1.2zM301.0 452.6h1.2v1.2h-1.2zM429.0 359.7h1.2v1.2h-1.2zM323.1 435.8h1.2v1.2h-1.2zM308.6 448.8h1.2v1.2h-1.2zM413.1 367.6h1.2v1.2h-1.2zM322.6 437.5h1.2v1.2h-1.2zM267.6 480.2h1.2v1.2h-1.2zM369.4 401.5h1.2v1.2h-1.2zM327.2 434.8h1.2v1.2h-1.2zM297.5 457.5h1.2v1.2h-1.2z" fill="#00ff8a"/>
<path d="M340.6 413.4h1.2v1.2h-1.2zM312.3 434.5h1.2v1.2h-1.2zM340.3 416.2h1.2v1.2h-1.2zM332.0 422.9h1.2v1.2h-1.2zM329.6 419.9h1.2v1.2h-1.2zM364.2 396.3h1.2v1.2h-1.2zM302.2 445.2h1.2v1.2h-1.2zM343.6 412.0h1.2v1.2h-1.2zM337.8 417.6h1.2v1.2h-1.2zM294.0 451.1h1.2v1.2h-1.2zM303.5 442.2h1.2v1.2h-1.2zM291.2 453.3h1.2v1.2h-1.2zM295.4 450.3h1.2v1.2h-1.2zM352.8 402.8h1.2v1.2h-1.2zM321.7 429.8h1.2v1.2h-1.2zM418.4 354.2h1.2v1.2h-1.2zM322.1 425.5h1.2v1.2h-1.2zM325.2 423.4h1.2v1.2h-1.2zM350.6 404.1h1.2v1.2h-1.2zM345.7 409.5h1.2v1.2h-1.2zM290.5 452.9h1.2v1.2h-1.2zM283.3 457.5h1.2v1.2h-1.2zM319.3 431.5h1.2v1.2h-1.2zM331.1 420.7h1.2v1.2h-1.2zM360.8 400.5h1.2v1.2h-1.2zM335.9 417.5h1.2v1.2h-1.2zM337.6 415.7h1.2v1.2h-1.2zM316.5 433.9h1.2v1.2h-1.2zM359.2 399.9h1.2v1.2h-1.2zM321.5 426.6h1.2v1.2h-1.2zM306.3 437.6h1.2v1.2h-1.2zM313.5 435.1h1.2v1.2h-1.2zM292.8 450.5h1.2v1.2h-1.2zM314.0 434.2h1.2v1.2h-1.2zM370.1 393.2h1.2v1.2h-1.2zM385.3 381.6h1.2v1.2h-1.2zM356.6 402.5h1.2v1.2h-1.2zM296.5 447.4h1.2v1.2h-1.2zM309.8 434.7h1.2v1.2h-1.2zM314.6 435.4h1.2v1.2h-1.2zM314.2 431.8h1.2v1.2h-1.2zM356.5 400.4h1.2v1.2h-1.2zM387.7 376.3h1.2v1.2h-1.2zM291.0 452.0h1.2v1.2h-1.2zM319.2 428.1h1.2v1.2h-1.2zM307.6 439.6h1.2v1.2h-1.2zM320.8 428.1h1.2v1.2h-1.2zM308.4 437.2h1.2v1.2h-1.2zM350.1 407.4h1.2v1.2h-1.2zM338.7 414.3h1.2v1.2h-1.2zM279.5 458.4h1.2v1.2h-1.2zM313.2 433.6h1.2v1.2h-1.2zM294.9 449.1h1.2v1.2h-1.2zM327.0 426.3h1.2v1.2h-1.2zM327.6 422.9h1.2v1.2h-1.2zM357.7 402.8h1.2v1.2h-1.2zM361.8 399.7h1.2v1.2h-1.2zM295.4 446.5h1.2v1.2h-1.2zM372.3 389.9h1.2v1.2h-1.2zM324.9 423.8h1.2v1.2h-1.2zM359.6 400.7h1.2v1.2h-1.2zM297.8 447.9h1.2v1.2h-1.2zM323.9 427.9h1.2v1.2h-1.2zM293.3 451.8h1.2v1.2h-1.2zM340.5 412.5h1.2v1.2h-1.2zM304.7 440.1h1.2v1.2h-1.2zM377.3 384.7h1.2v1.2h-1.2zM322.8 425.1h1.2v1.2h-1.2zM308.6 437.1h1.2v1.2h-1.2zM299.4 442.8h1.2v1.2h-1.2zM328.4 421.0h1.2v1.2h-1.2zM346.1 412.2h1.2v1.2h-1.2zM308.5 439.9h1.2v1.2h-1.2zM322.6 425.2h1.2v1.2h-1.2zM355.1 404.0h1.2v1.2h-1.2zM416.5 358.4h1.2v1.2h-1.2zM354.1 401.5h1.2v1.2h-1.2zM290.6 453.9h1.2v1.2h-1.2zM332.1 419.8h1.2v1.2h-1.2zM277.6 461.3h1.2v1.2h-1.2zM317.5 432.1h1.2v1.2h-1.2zM299.9 444.9h1.2v1.2h-1.2zM305.6 441.9h1.2v1.2h-1.2zM335.1 418.0h1.2v1.2h-1.2zM341.5 413.9h1.2v1.2h-1.2zM277.1 460.4h1.2v1.2h-1.2zM276.7 464.2h1.2v1.2h-1.2zM393.0 375.2h1.2v1.2h-1.2zM292.8 451.3h1.2v1.2h-1.2zM354.6 402.2h1.2v1.2h-1.2zM366.8 393.6h1.2v1.2h-1.2zM334.4 421.0h1.2v1.2h-1.2zM421.6 354.6h1.2v1.2h-1.2zM298.8 443.7h1.2v1.2h-1.2zM275.4 463.7h1.2v1.2h-1.2zM287.5 454.8h1.2v1.2h-1.2zM286.1 454.5h1.2v1.2h-1.2zM339.1 416.9h1.2v1.2h-1.2zM282.4 455.9h1.2v1.2h-1.2zM305.8 441.2h1.2v1.2h-1.2zM315.5 431.1h1.2v1.2h-1.2zM312.3 433.4h1.2v1.2h-1.2zM392.1 377.2h1.2v1.2h-1.2zM413.1 357.1h1.2v1.2h-1.2zM331.5 422.9h1.2v1.2h-1.2zM407.3 363.1h1.2v1.2h-1.2zM362.5 395.7h1.2v1.2h-1.2zM328.6 423.5h1.2v1.2h-1.2zM278.4 459.9h1.2v1.2h-1.2zM269.5 466.8h1.2v1.2h-1.2zM349.0 409.0h1.2v1.2h-1.2zM423.2 350.5h1.2v1.2h-1.2zM387.7 379.4h1.2v1.2h-1.2zM291.1 449.2h1.2v1.2h-1.2zM310.6 435.3h1.2v1.2h-1.2zM352.7 404.5h1.2v1.2h-1.2zM271.5 464.9h1.2v1.2h-1.2zM282.6 459.3h1.2v1.2h-1.2zM297.8 444.5h1.2v1.2h-1.2zM296.3 447.0h1.2v1.2h-1.2zM378.4 384.7h1.2v1.2h-1.2zM355.5 402.0h1.2v1.2h-1.2zM323.2 429.4h1.2v1.2h-1.2zM288.8 450.6h1.2v1.2h-1.2zM378.7 384.7h1.2v1.2h-1.2zM311.2 434.3h1.2v1.2h-1.2zM285.2 453.6h1.2v1.2h-1.2zM301.6 444.5h1.2v1.2h-1.2zM371.5 391.8h1.2v1.2h-1.2zM370.9 389.2h1.2v1.2h-1.2zM315.6 430.4h1.2v1.2h-1.2zM349.8 406.2h1.2v1.2h-1.2zM362.0 396.2h1.2v1.2h-1.2zM346.4 410.7h1.2v1.2h-1.2zM347.9 406.7h1.2v1.2h-1.2zM332.3 420.4h1.2v1.2h-1.2zM344.2 413.7h1.2v1.2h-1.2zM343.8 413.5h1.2v1.2h-1.2zM278.3 461.5h1.2v1.2h-1.2zM320.4 428.9h1.2v1.2h-1.2zM370.6 392.7h1.2v1.2h-1.2zM319.9 431.1h1.2v1.2h-1.2zM377.6 385.3h1.2v1.2h-1.2zM344.0 413.0h1.2v1.2h-1.2zM368.7 391.8h1.2v1.2h-1.2zM377.0 386.4h1.2v1.2h-1.2zM292.4 451.4h1.2v1.2h-1.2zM303.0 442.6h1.2v1.2h-1.2zM300.9 443.2h1.2v1.2h-1.2zM317.1 429.7h1.2v1.2h-1.2zM291.6 453.1h1.2v1.2h-1.2zM339.0 417.0h1.2v1.2h-1.2zM312.9 435.4h1.2v1.2h-1.2zM415.3 358.0h1.2v1.2h-1.2zM386.2 380.2h1.2v1.2h-1.2zM303.6 443.2h1.2v1.2h-1.2zM349.4 407.8h1.2v1.2h-1.2zM385.4 379.1h1.2v1.2h-1.2zM334.4 420.4h1.2v1.2h-1.2zM346.0 408.1h1.2v1.2h-1.2zM280.0 458.5h1.2v1.2h-1.2zM387.7 376.3h1.2v1.2h-1.2zM283.6 457.1h1.2v1.2h-1.2zM349.1 409.8h1.2v1.2h-1.2zM277.4 461.1h1.2v1.2h-1.2zM318.2 429.6h1.2v1.2h-1.2zM400.2 368.8h1.2v1.2h-1.2zM268.8 466.7h1.2v1.2h-1.2zM350.2 407.0h1.2v1.2h-1.2zM329.6 422.6h1.2v1.2h-1.2zM281.8 457.8h1.2v1.2h-1.2zM319.6 430.5h1.2v1.2h-1.2zM269.5 468.3h1.2v1.2h-1.2zM342.1 410.5h1.2v1.2h-1.2zM290.1 454.1h1.2v1.2h-1.2zM272.3 464.2h1.2v1.2h-1.2zM298.1 447.1h1.2v1.2h-1.2zM307.1 440.3h1.2v1.2h-1.2zM377.7 386.7h1.2v1.2h-1.2zM318.7 430.1h1.2v1.2h-1.2zM351.0 406.9h1.2v1.2h-1.2zM319.1 428.2h1.2v1.2h-1.2zM311.1 436.9h1.2v1.2h-1.2zM322.4 426.4h1.2v1.2h-1.2zM386.1 379.9h1.2v1.2h-1.2zM290.6 450.3h1.2v1.2h-1.2zM405.9 365.9h1.2v1.2h-1.2zM309.8 439.3h1.2v1.2h-1.2zM334.4 416.8h1.2v1.2h-1.2zM357.2 401.3h1.2v1.2h-1.2zM298.5 445.3h1.2v1.2h-1.2zM381.7 383.2h1.2v1.2h-1.2zM292.9 449.7h1.2v1.2h-1.2zM342.1 413.7h1.2v1.2h-1.2zM359.5 399.1h1.2v1.2h-1.2zM284.9 458.0h1.2v1.2h-1.2zM419.8 352.5h1.2v1.2h-1.2zM385.3 378.3h1.2v1.2h-1.2zM367.0 394.3h1.2v1.2h-1.2zM295.5 449.8h1.2v1.2h-1.2zM265.5 468.4h1.2v1.2h-1.2zM332.9 420.4h1.2v1.2h-1.2zM374.0 387.5h1.2v1.2h-1.2zM307.4 438.2h1.2v1.2h-1.2zM285.1 456.7h1.2v1.2h-1.2zM352.9 402.9h1.2v1.2h-1.2zM333.8 418.5h1.2v1.2h-1.2zM388.1 377.5h1.2v1.2h-1.2zM302.7 442.5h1.2v1.2h-1.2zM287.7 452.4h1.2v1.2h-1.2zM350.3 405.2h1.2v1.2h-1.2zM284.3 458.6h1.2v1.2h-1.2zM299.4 447.3h1.2v1.2h-1.2zM288.1 454.2h1.2v1.2h-1.2zM321.3 427.1h1.2v1.2h-1.2zM341.5 413.1h1.2v1.2h-1.2zM319.0 429.2h1.2v1.2h-1.2zM313.7 435.8h1.2v1.2h-1.2zM386.0 379.7h1.2v1.2h-1.2zM390.0 378.6h1.2v1.2h-1.2zM324.6 425.7h1.2v1.2h-1.2zM353.6 402.0h1.2v1.2h-1.2zM339.1 414.9h1.2v1.2h-1.2zM301.9 442.0h1.2v1.2h-1.2zM282.8 459.6h1.2v1.2h-1.2zM334.0 417.8h1.2v1.2h-1.2zM336.5 417.1h1.2v1.2h-1.2zM273.8 465.3h1.2v1.2h-1.2zM340.3 411.9h1.2v1.2h-1.2zM279.2 458.2h1.2v1.2h-1.2zM327.4 422.1h1.2v1.2h-1.2zM277.8 463.0h1.2v1.2h-1.2zM356.5 402.7h1.2v1.2h-1.2zM335.6 418.7h1.2v1.2h-1.2zM316.2 432.3h1.2v1.2h-1.2zM269.9 468.4h1.2v1.2h-1.2zM347.9 407.6h1.2v1.2h-1.2zM278.5 461.1h1.2v1.2h-1.2zM326.8 424.6h1.2v1.2h-1.2zM328.4 423.9h1.2v1.2h-1.2zM329.9 420.2h1.2v1.2h-1.2zM348.8 408.6h1.2v1.2h-1.2zM329.0 423.9h1.2v1.2h-1.2zM337.8 414.4h1.2v1.2h-1.2zM286.9 454.5h1.2v1.2h-1.2zM296.0 448.5h1.2v1.2h-1.2zM365.2 396.2h1.2v1.2h-1.2zM352.7 407.2h1.2v1.2h-1.2zM340.8 414.9h1.2v1.2h-1.2zM322.1 426.6h1.2v1.2h-1.2zM388.5 377.7h1.2v1.2h-1.2zM384.8 382.9h1.2v1.2h-1.2zM339.6 414.8h1.2v1.2h-1.2zM368.4 394.2h1.2v1.2h-1.2zM325.9 422.9h1.2v1.2h-1.2zM325.8 426.8h1.2v1.2h-1.2zM387.2 380.7h1.2v1.2h-1.2zM329.3 420.5h1.2v1.2h-1.2zM326.9 425.6h1.2v1.2h-1.2zM347.7 410.8h1.2v1.2h-1.2zM328.2 425.6h1.2v1.2h-1.2zM274.6 462.2h1.2v1.2h-1.2zM358.1 402.0h1.2v1.2h-1.2zM286.3 456.8h1.2v1.2h-1.2zM282.6 457.2h1.2v1.2h-1.2zM364.2 397.1h1.2v1.2h-1.2zM286.3 456.4h1.2v1.2h-1.2zM355.9 403.0h1.2v1.2h-1.2zM326.5 423.6h1.2v1.2h-1.2zM265.1 469.7h1.2v1.2h-1.2zM323.6 428.6h1.2v1.2h-1.2zM373.0 390.0h1.2v1.2h-1.2zM349.3 409.8h1.2v1.2h-1.2zM302.4 444.0h1.2v1.2h-1.2zM414.4 359.6h1.2v1.2h-1.2zM282.9 456.6h1.2v1.2h-1.2zM285.1 453.6h1.2v1.2h-1.2zM344.8 409.4h1.2v1.2h-1.2zM364.6 393.8h1.2v1.2h-1.2zM347.7 411.0h1.2v1.2h-1.2zM372.1 391.0h1.2v1.2h-1.2zM361.5 399.2h1.2v1.2h-1.2zM310.4 436.5h1.2v1.2h-1.2zM296.1 447.5h1.2v1.2h-1.2zM309.1 437.2h1.2v1.2h-1.2zM333.4 417.5h1.2v1.2h-1.2zM318.8 430.6h1.2v1.2h-1.2zM401.3 370.4h1.2v1.2h-1.2zM305.8 440.1h1.2v1.2h-1.2zM388.3 375.9h1.2v1.2h-1.2zM280.3 458.1h1.2v1.2h-1.2zM336.2 419.1h1.2v1.2h-1.2zM321.8 428.9h1.2v1.2h-1.2zM339.9 415.5h1.2v1.2h-1.2zM304.5 442.2h1.2v1.2h-1.2zM405.2 363.9h1.2v1.2h-1.2zM270.0 469.0h1.2v1.2h-1.2zM429.0 348.1h1.2v1.2h-1.2zM307.0 441.3h1.2v1.2h-1.2zM363.4 394.5h1.2v1.2h-1.2zM394.8 373.6h1.2v1.2h-1.2zM318.4 429.7h1.2v1.2h-1.2zM322.7 428.5h1.2v1.2h-1.2zM378.5 384.0h1.2v1.2h-1.2zM410.2 362.5h1.2v1.2h-1.2zM368.4 392.4h1.2v1.2h-1.2zM380.1 384.2h1.2v1.2h-1.2zM307.7 437.8h1.2v1.2h-1.2zM316.3 432.2h1.2v1.2h-1.2zM291.6 449.7h1.2v1.2h-1.2zM340.6 414.2h1.2v1.2h-1.2zM343.0 412.1h1.2v1.2h-1.2zM344.2 410.3h1.2v1.2h-1.2zM291.9 448.4h1.2v1.2h-1.2zM296.2 448.4h1.2v1.2h-1.2zM349.1 405.5h1.2v1.2h-1.2zM307.9 438.9h1.2v1.2h-1.2zM380.5 384.3h1.2v1.2h-1.2zM368.3 394.7h1.2v1.2h-1.2zM280.7 456.7h1.2v1.2h-1.2zM378.2 384.4h1.2v1.2h-1.2zM289.4 450.3h1.2v1.2h-1.2zM394.4 373.7h1.2v1.2h-1.2zM367.8 391.9h1.2v1.2h-1.2zM278.8 462.1h1.2v1.2h-1.2zM296.1 448.3h1.2v1.2h-1.2zM328.4 424.4h1.2v1.2h-1.2zM331.1 419.0h1.2v1.2h-1.2zM359.2 400.9h1.2v1.2h-1.2zM285.5 453.1h1.2v1.2h-1.2zM419.4 352.5h1.2v1.2h-1.2zM364.6 393.6h1.2v1.2h-1.2zM415.8 356.5h1.2v1.2h-1.2zM339.1 416.2h1.2v1.2h-1.2zM326.5 426.5h1.2v1.2h-1.2zM378.9 385.0h1.2v1.2h-1.2zM352.8 406.9h1.2v1.2h-1.2zM345.3 411.2h1.2v1.2h-1.2zM369.2 392.9h1.2v1.2h-1.2zM344.1 410.2h1.2v1.2h-1.2zM312.9 433.2h1.2v1.2h-1.2zM341.8 413.9h1.2v1.2h-1.2zM333.4 418.0h1.2v1.2h-1.2zM304.0 441.1h1.2v1.2h-1.2zM275.4 462.3h1.2v1.2h-1.2zM335.6 419.9h1.2v1.2h-1.2zM294.6 450.1h1.2v1.2h-1.2zM308.3 437.0h1.2v1.2h-1.2zM367.2 394.2h1.2v1.2h-1.2zM339.9 412.9h1.2v1.2h-1.2zM271.2 464.3h1.2v1.2h-1.2zM399.1 371.5h1.2v1.2h-1.2zM286.2 453.6h1.2v1.2h-1.2zM336.2 415.3h1.2v1.2h-1.2zM328.5 423.3h1.2v1.2h-1.2zM294.6 446.3h1.2v1.2h-1.2zM384.8 382.2h1.2v1.2h-1.2zM352.3 406.7h1.2v1.2h-1.2zM331.2 419.0h1.2v1.2h-1.2zM351.7 405.5h1.2v1.2h-1.2zM307.0 437.4h1.2v1.2h-1.2zM324.6 428.2h1.2v1.2h-1.2zM429.8 349.1h1.2v1.2h-1.2zM322.3 428.5h1.2v1.2h-1.2zM285.9 452.7h1.2v1.2h-1.2zM333.1 420.5h1.2v1.2h-1.2zM354.6 401.5h1.2v1.2h-1.2zM310.9 435.2h1.2v1.2h-1.2zM336.7 416.0h1.2v1.2h-1.2zM330.8 422.6h1.2v1.2h-1.2zM321.6 425.9h1.2v1.2h-1.2zM302.9 443.6h1.2v1.2h-1.2zM374.7 390.0h1.2v1.2h-1.2zM334.2 417.0h1.2v1.2h-1.2zM314.0 436.0h1.2v1.2h-1.2zM280.6 461.0h1.2v1.2h-1.2zM338.4 415.9h1.2v1.2h-1.2zM383.9 379.7h1.2v1.2h-1.2zM336.7 417.5h1.2v1.2h-1.2zM318.5 431.0h1.2v1.2h-1.2zM374.4 386.7h1.2v1.2h-1.2zM287.8 453.0h1.2v1.2h-1.2zM386.1 381.5h1.2v1.2h-1.2zM333.0 418.8h1.2v1.2h-1.2zM346.9 406.9h1.2v1.2h-1.2zM299.4 446.0h1.2v1.2h-1.2zM342.4 412.5h1.2v1.2h-1.2zM296.0 445.3h1.2v1.2h-1.2zM279.3 461.6h1.2v1.2h-1.2zM380.3 384.7h1.2v1.2h-1.2zM297.1 445.8h1.2v1.2h-1.2zM337.0 415.6h1.2v1.2h-1.2zM290.0 452.9h1.2v1.2h-1.2zM316.2 433.2h1.2v1.2h-1.2zM326.9 424.4h1.2v1.2h-1.2zM289.3 454.5h1.2v1.2h-1.2zM428.3 346.7h1.2v1.2h-1.2zM392.7 372.7h1.2v1.2h-1.2zM329.9 422.2h1.2v1.2h-1.2zM337.1 414.4h1.2v1.2h-1.2zM358.4 402.9h1.2v1.2h-1.2zM289.9 452.7h1.2v1.2h-1.2zM325.8 425.3h1.2v1.2h-1.2zM376.4 388.5h1.2v1.2h-1.2zM295.5 446.7h1.2v1.2h-1.2zM362.3 395.6h1.2v1.2h-1.2zM311.7 433.9h1.2v1.2h-1.2zM388.9 375.3h1.2v1.2h-1.2zM290.7 451.4h1.2v1.2h-1.2zM376.6 385.8h1.2v1.2h-1.2zM299.3 445.1h1.2v1.2h-1.2zM299.9 446.6h1.2v1.2h-1.2zM316.0 430.7h1.2v1.2h-1.2zM322.1 429.7h1.2v1.2h-1.2zM326.7 426.4h1.2v1.2h-1.2zM282.6 457.6h1.2v1.2h-1.2zM287.5 455.0h1.2v1.2h-1.2zM339.7 416.9h1.2v1.2h-1.2zM341.5 411.8h1.2v1.2h-1.2zM339.2 416.4h1.2v1.2h-1.2zM278.4 459.6h1.2v1.2h-1.2zM310.4 438.4h1.2v1.2h-1.2zM340.9 414.2h1.2v1.2h-1.2zM311.4 434.1h1.2v1.2h-1.2zM296.7 449.3h1.2v1.2h-1.2zM413.2 357.6h1.2v1.2h-1.2zM324.3 428.2h1.2v1.2h-1.2zM374.1 389.8h1.2v1.2h-1.2zM315.8 432.9h1.2v1.2h-1.2zM347.5 408.7h1.2v1.2h-1.2zM317.9 430.9h1.2v1.2h-1.2zM308.5 436.0h1.2v1.2h-1.2zM296.6 446.4h1.2v1.2h-1.2zM311.2 436.2h1.2v1.2h-1.2zM335.9 416.3h1.2v1.2h-1.2zM375.4 387.9h1.2v1.2h-1.2zM300.4 443.5h1.2v1.2h-1.2zM319.9 427.9h1.2v1.2h-1.2zM382.3 380.5h1.2v1.2h-1.2zM376.0 387.5h1.2v1.2h-1.2zM317.2 429.9h1.2v1.2h-1.2zM424.4 348.8h1.2v1.2h-1.2zM390.8 378.1h1.2v1.2h-1.2zM307.3 440.9h1.2v1.2h-1.2zM310.6 435.5h1.2v1.2h-1.2zM298.6 446.9h1.2v1.2h-1.2zM348.6 409.3h1.2v1.2h-1.2zM269.4 468.6h1.2v1.2h-1.2zM279.5 459.2h1.2v1.2h-1.2zM382.8 383.6h1.2v1.2h-1.2zM346.1 409.9h1.2v1.2h-1.2zM308.6 440.3h1.2v1.2h-1.2zM290.4 453.4h1.2v1.2h-1.2zM271.8 467.1h1.2v1.2h-1.2zM393.5 372.0h1.2v1.2h-1.2zM331.5 419.7h1.2v1.2h-1.2zM315.3 433.6h1.2v1.2h-1.2zM379.2 385.1h1.2v1.2h-1.2zM405.9 363.1h1.2v1.2h-1.2zM283.0 459.1h1.2v1.2h-1.2zM299.8 442.2h1.2v1.2h-1.2zM339.8 414.7h1.2v1.2h-1.2zM364.3 396.4h1.2v1.2h-1.2zM317.4 429.6h1.2v1.2h-1.2zM353.8 405.7h1.2v1.2h-1.2zM330.0 421.5h1.2v1.2h-1.2zM342.9 414.6h1.2v1.2h-1.2zM315.0 434.2h1.2v1.2h-1.2zM363.6 399.0h1.2v1.2h-1.2zM405.7 363.1h1.2v1.2h-1.2zM288.1 453.7h1.2v1.2h-1.2zM306.4 437.9h1.2v1.2h-1.2zM352.5 405.5h1.2v1.2h-1.2zM280.4 457.5h1.2v1.2h-1.2zM335.6 415.6h1.2v1.2h-1.2zM286.3 452.9h1.2v1.2h-1.2zM323.4 428.6h1.2v1.2h-1.2zM277.8 460.8h1.2v1.2h-1.2zM346.2 408.5h1.2v1.2h-1.2zM366.0 392.9h1.2v1.2h-1.2zM346.8 408.0h1.2v1.2h-1.2zM297.6 444.2h1.2v1.2h-1.2zM338.3 416.5h1.2v1.2h-1.2zM279.1 460.2h1.2v1.2h-1.2zM303.1 441.0h1.2v1.2h-1.2zM401.6 369.2h1.2v1.2h-1.2zM406.8 363.3h1.2v1.2h-1.2zM306.2 438.1h1.2v1.2h-1.2zM316.5 433.8h1.2v1.2h-1.2zM341.4 413.9h1.2v1.2h-1.2zM314.3 434.4h1.2v1.2h-1.2zM327.6 421.6h1.2v1.2h-1.2zM353.0 403.5h1.2v1.2h-1.2zM291.1 450.5h1.2v1.2h-1.2zM306.8 440.4h1.2v1.2h-1.2zM359.1 401.0h1.2v1.2h-1.2zM302.4 444.6h1.2v1.2h-1.2zM348.9 406.0h1.2v1.2h-1.2zM355.0 404.2h1.2v1.2h-1.2zM374.2 389.3h1.2v1.2h-1.2zM358.8 400.1h1.2v1.2h-1.2zM330.3 423.1h1.2v1.2h-1.2zM369.7 390.3h1.2v1.2h-1.2zM327.8 422.6h1.2v1.2h-1.2zM411.6 360.7h1.2v1.2h-1.2zM291.0 452.9h1.2v1.2h-1.2zM322.0 430.0h1.2v1.2h-1.2zM367.0 393.5h1.2v1.2h-1.2zM413.9 357.1h1.2v1.2h-1.2zM316.2 430.2h1.2v1.2h-1.2zM337.8 414.5h1.2v1.2h-1.2zM416.5 356.1h1.2v1.2h-1.2zM366.1 393.0h1.2v1.2h-1.2zM366.0 397.0h1.2v1.2h-1.2zM324.4 426.7h1.2v1.2h-1.2zM369.3 390.0h1.2v1.2h-1.2zM326.1 425.1h1.2v1.2h-1.2zM285.2 457.2h1.2v1.2h-1.2zM355.9 404.6h1.2v1.2h-1.2zM335.9 419.0h1.2v1.2h-1.2zM318.9 431.9h1.2v1.2h-1.2zM381.7 380.8h1.2v1.2h-1.2zM347.9 410.1h1.2v1.2h-1.2zM280.7 457.2h1.2v1.2h-1.2zM420.2 352.1h1.2v1.2h-1.2zM356.3 401.4h1.2v1.2h-1.2zM323.2 425.4h1.2v1.2h-1.2zM368.7 392.2h1.2v1.2h-1.2zM288.7 452.1h1.2v1.2h-1.2zM275.8 461.8h1.2v1.2h-1.2zM403.7 365.6h1.2v1.2h-1.2zM310.9 436.8h1.2v1.2h-1.2zM315.5 430.5h1.2v1.2h-1.2zM345.7 408.3h1.2v1.2h-1.2zM329.9 421.0h1.2v1.2h-1.2zM363.4 394.6h1.2v1.2h-1.2zM349.7 407.2h1.2v1.2h-1.2zM326.7 422.4h1.2v1.2h-1.2zM324.4 428.5h1.2v1.2h-1.2zM266.7 469.4h1.2v1.2h-1.2zM267.7 469.1h1.2v1.2h-1.2zM320.8 428.8h1.2v1.2h-1.2zM280.9 458.9h1.2v1.2h-1.2zM330.9 421.4h1.2v1.2h-1.2zM302.2 444.7h1.2v1.2h-1.2zM274.0 465.0h1.2v1.2h-1.2zM326.8 423.9h1.2v1.2h-1.2zM345.3 408.9h1.2v1.2h-1.2zM315.1 431.3h1.2v1.2h-1.2zM305.2 439.3h1.2v1.2h-1.2zM371.1 392.9h1.2v1.2h-1.2zM315.4 432.8h1.2v1.2h-1.2zM337.1 415.7h1.2v1.2h-1.2zM303.1 443.7h1.2v1.2h-1.2zM274.6 464.3h1.2v1.2h-1.2zM321.8 429.4h1.2v1.2h-1.2zM322.0 427.3h1.2v1.2h-1.2zM299.9 443.7h1.2v1.2h-1.2zM307.0 441.3h1.2v1.2h-1.2zM335.3 417.7h1.2v1.2h-1.2zM309.6 438.7h1.2v1.2h-1.2zM326.8 426.1h1.2v1.2h-1.2zM406.2 366.1h1.2v1.2h-1.2zM382.8 380.6h1.2v1.2h-1.2zM428.6 347.9h1.2v1.2h-1.2zM331.6 422.9h1.2v1.2h-1.2zM303.2 441.1h1.2v1.2h-1.2zM305.4 442.6h1.2v1.2h-1.2zM322.6 427.1h1.2v1.2h-1.2zM405.7 366.8h1.2v1.2h-1.2zM285.6 453.7h1.2v1.2h-1.2zM315.1 431.5h1.2v1.2h-1.2zM336.4 418.3h1.2v1.2h-1.2zM269.0 465.9h1.2v1.2h-1.2zM317.5 432.1h1.2v1.2h-1.2zM298.3 446.0h1.2v1.2h-1.2zM288.1 455.5h1.2v1.2h-1.2zM300.0 446.7h1.2v1.2h-1.2zM362.6 395.7h1.2v1.2h-1.2zM310.8 437.5h1.2v1.2h-1.2zM305.1 441.4h1.2v1.2h-1.2zM332.9 421.2h1.2v1.2h-1.2zM381.3 383.4h1.2v1.2h-1.2zM349.4 405.5h1.2v1.2h-1.2zM307.8 440.4h1.2v1.2h-1.2zM419.5 355.3h1.2v1.2h-1.2zM293.5 449.1h1.2v1.2h-1.2zM328.0 425.4h1.2v1.2h-1.2z" fill="#00ff39"/>
<path d="M369.1 352.4h1.2v1.2h-1.2zM382.6 345.1h1.2v1.2h-1.2zM383.8 341.0h1.2v1.2h-1.2zM329.2 383.4h1.2v1.2h-1.2zM361.5 358.5h1.2v1.2h-1.2zM355.3 362.1h1.2v1.2h-1.2zM350.9 365.2h1.2v1.2h-1.2zM394.0 333.1h1.2v1.2h-1.2zM399.9 328.3h1.2v1.2h-1.2zM367.8 355.5h1.2v1.2h-1.2zM396.0 332.0h1.2v1.2h-1.2zM340.1 376.7h1.2v1.2h-1.2zM373.2 353.0h1.2v1.2h-1.2zM362.8 357.4h1.2v1.2h-1.2zM403.8 329.1h1.2v1.2h-1.2zM386.5 341.4h1.2v1.2h-1.2zM347.6 368.0h1.2v1.2h-1.2zM350.7 369.9h1.2v1.2h-1.2zM356.4 365.1h1.2v1.2h-1.2zM355.8 364.4h1.2v1.2h-1.2zM399.2 332.7h1.2v1.2h-1.2zM384.4 340.9h1.2v1.2h-1.2zM347.8 367.4h1.2v1.2h-1.2zM358.7 362.4h1.2v1.2h-1.2zM403.9 327.1h1.2v1.2h-1.2zM401.4 330.2h1.2v1.2h-1.2zM378.1 346.8h1.2v1.2h-1.2zM353.5 364.5h1.2v1.2h-1.2zM401.0 329.3h1.2v1.2h-1.2zM381.8 344.2h1.2v1.2h-1.2zM339.9 375.3h1.2v1.2h-1.2zM320.4 388.6h1.2v1.2h-1.2zM381.2 343.3h1.2v1.2h-1.2zM364.0 357.7h1.2v1.2h-1.2zM354.0 363.3h1.2v1.2h-1.2zM393.7 337.2h1.2v1.2h-1.2zM403.9 325.3h1.2v1.2h-1.2zM377.3 349.4h1.2v1.2h-1.2zM339.5 374.5h1.2v1.2h-1.2zM388.3 341.5h1.2v1.2h-1.2zM368.0 352.5h1.2v1.2h-1.2zM404.9 328.4h1.2v1.2h-1.2zM388.3 340.9h1.2v1.2h-1.2zM400.4 330.3h1.2v1.2h-1.2zM366.8 354.2h1.2v1.2h-1.2zM391.4 334.8h1.2v1.2h-1.2zM350.5 369.6h1.2v1.2h-1.2zM376.0 347.7h1.2v1.2h-1.2zM383.6 341.8h1.2v1.2h-1.2zM353.1 364.4h1.2v1.2h-1.2zM375.9 347.0h1.2v1.2h-1.2zM349.7 367.8h1.2v1.2h-1.2zM329.8 382.5h1.2v1.2h-1.2zM383.7 340.9h1.2v1.2h-1.2zM355.0 362.0h1.2v1.2h-1.2zM385.2 341.3h1.2v1.2h-1.2zM335.6 378.8h1.2v1.2h-1.2zM384.8 344.1h1.2v1.2h-1.2zM355.6 363.5h1.2v1.2h-1.2zM405.0 325.2h1.2v1.2h-1.2zM368.3 353.1h1.2v1.2h-1.2zM366.9 357.4h1.2v1.2h-1.2zM320.6 392.4h1.2v1.2h-1.2zM374.5 350.2h1.2v1.2h-1.2zM408.3 324.6h1.2v1.2h-1.2zM369.5 351.1h1.2v1.2h-1.2zM389.6 338.8h1.2v1.2h-1.2zM336.4 378.0h1.2v1.2h-1.2zM408.8 322.3h1.2v1.2h-1.2zM359.3 361.3h1.2v1.2h-1.2zM391.0 336.5h1.2v1.2h-1.2zM401.1 327.6h1.2v1.2h-1.2zM338.4 377.4h1.2v1.2h-1.2zM369.9 353.2h1.2v1.2h-1.2zM351.4 365.9h1.2v1.2h-1.2zM410.0 323.2h1.2v1.2h-1.2zM407.4 325.5h1.2v1.2h-1.2zM365.6 357.5h1.2v1.2h-1.2zM352.1 366.7h1.2v1.2h-1.2zM392.8 338.2h1.2v1.2h-1.2zM410.7 324.7h1.2v1.2h-1.2zM404.4 327.8h1.2v1.2h-1.2zM365.0 357.5h1.2v1.2h-1.2zM349.5 366.0h1.2v1.2h-1.2zM371.4 353.6h1.2v1.2h-1.2zM389.5 337.1h1.2v1.2h-1.2zM387.6 340.8h1.2v1.2h-1.2zM362.4 360.7h1.2v1.2h-1.2zM347.5 368.6h1.2v1.2h-1.2zM386.5 339.0h1.2v1.2h-1.2zM338.3 377.9h1.2v1.2h-1.2zM403.5 325.5h1.2v1.2h-1.2zM411.2 324.4h1.2v1.2h-1.2zM386.1 339.5h1.2v1.2h-1.2zM403.9 329.9h1.2v1.2h-1.2zM327.3 384.1h1.2v1.2h-1.2zM342.3 374.7h1.2v1.2h-1.2zM337.9 375.4h1.2v1.2h-1.2zM354.5 365.0h1.2v1.2h-1.2zM326.0 385.0h1.2v1.2h-1.2zM356.0 364.2h1.2v1.2h-1.2zM389.8 339.1h1.2v1.2h-1.2zM394.7 333.1h1.2v1.2h-1.2zM321.5 387.8h1.2v1.2h-1.2zM374.4 348.9h1.2v1.2h-1.2zM388.4 338.8h1.2v1.2h-1.2zM399.4 329.4h1.2v1.2h-1.2zM356.8 362.5h1.2v1.2h-1.2zM386.8 340.6h1.2v1.2h-1.2zM397.0 334.6h1.2v1.2h-1.2zM375.5 350.4h1.2v1.2h-1.2zM365.9 357.9h1.2v1.2h-1.2zM376.9 346.9h1.2v1.2h-1.2zM379.0 346.2h1.2v1.2h-1.2zM398.8 330.7h1.2v1.2h-1.2zM372.4 350.4h1.2v1.2h-1.2zM399.9 329.9h1.2v1.2h-1.2zM346.6 368.8h1.2v1.2h-1.2zM334.0 382.0h1.2v1.2h-1.2zM409.7 323.4h1.2v1.2h-1.2zM380.6 346.9h1.2v1.2h-1.2zM399.8 329.9h1.2v1.2h-1.2zM387.0 342.4h1.2v1.2h-1.2zM360.6 358.9h1.2v1.2h-1.2zM351.8 364.4h1.2v1.2h-1.2zM330.3 382.8h1.2v1.2h-1.2zM407.6 323.6h1.2v1.2h-1.2zM356.9 363.6h1.2v1.2h-1.2zM381.6 343.9h1.2v1.2h-1.2zM385.4 342.6h1.2v1.2h-1.2zM393.4 334.4h1.2v1.2h-1.2zM388.1 337.2h1.2v1.2h-1.2zM400.0 331.6h1.2v1.2h-1.2zM357.3 364.9h1.2v1.2h-1.2zM400.6 328.3h1.2v1.2h-1.2zM404.6 324.6h1.2v1.2h-1.2zM401.6 331.1h1.2v1.2h-1.2zM368.3 354.7h1.2v1.2h-1.2zM397.5 331.6h1.2v1.2h-1.2zM408.1 326.7h1.2v1.2h-1.2zM376.0 349.6h1.2v1.2h-1.2zM396.4 335.6h1.2v1.2h-1.2zM385.7 341.2h1.2v1.2h-1.2zM358.6 360.5h1.2v1.2h-1.2zM354.5 364.0h1.2v1.2h-1.2zM350.1 366.5h1.2v1.2h-1.2zM376.2 346.3h1.2v1.2h-1.2zM340.1 375.3h1.2v1.2h-1.2zM389.4 339.8h1.2v1.2h-1.2zM390.0 336.6h1.2v1.2h-1.2zM407.8 324.8h1.2v1.2h-1.2zM362.9 358.9h1.2v1.2h-1.2zM398.7 333.5h1.2v1.2h-1.2zM384.9 343.2h1.2v1.2h-1.2zM362.6 360.0h1.2v1.2h-1.2zM352.0 366.1h1.2v1.2h-1.2zM369.9 353.5h1.2v1.2h-1.2zM409.7 325.3h1.2v1.2h-1.2zM388.8 338.9h1.2v1.2h-1.2zM402.9 330.5h1.2v1.2h-1.2zM366.9 356.5h1.2v1.2h-1.2zM393.0 336.8h1.2v1.2h-1.2zM393.0 333.4h1.2v1.2h-1.2zM391.6 334.6h1.2v1.2h-1.2zM323.6 389.9h1.2v1.2h-1.2zM348.7 368.8h1.2v1.2h-1.2zM369.4 353.5h1.2v1.2h-1.2zM387.8 340.6h1.2v1.2h-1.2zM372.0 351.4h1.2v1.2h-1.2zM388.6 340.7h1.2v1.2h-1.2zM383.0 343.0h1.2v1.2h-1.2zM393.5 337.0h1.2v1.2h-1.2zM400.9 331.5h1.2v1.2h-1.2zM365.8 354.7h1.2v1.2h-1.2zM372.8 352.4h1.2v1.2h-1.2zM391.2 337.2h1.2v1.2h-1.2zM359.1 361.7h1.2v1.2h-1.2zM382.3 344.5h1.2v1.2h-1.2zM384.6 341.7h1.2v1.2h-1.2zM383.5 344.6h1.2v1.2h-1.2zM402.7 326.8h1.2v1.2h-1.2zM357.4 363.8h1.2v1.2h-1.2zM356.0 363.2h1.2v1.2h-1.2zM399.1 329.1h1.2v1.2h-1.2zM326.9 387.4h1.2v1.2h-1.2zM354.2 365.5h1.2v1.2h-1.2zM375.5 350.6h1.2v1.2h-1.2zM366.5 355.6h1.2v1.2h-1.2zM383.3 342.9h1.2v1.2h-1.2zM387.3 337.6h1.2v1.2h-1.2zM398.0 331.0h1.2v1.2h-1.2zM376.9 346.7h1.2v1.2h-1.2zM375.0 349.9h1.2v1.2h-1.2zM377.9 346.3h1.2v1.2h-1.2zM341.1 374.1h1.2v1.2h-1.2zM394.6 336.5h1.2v1.2h-1.2zM373.3 349.7h1.2v1.2h-1.2zM333.0 382.4h1.2v1.2h-1.2zM369.0 355.5h1.2v1.2h-1.2zM347.1 369.4h1.2v1.2h-1.2zM377.3 347.5h1.2v1.2h-1.2zM376.8 350.0h1.2v1.2h-1.2zM375.5 349.5h1.2v1.2h-1.2zM359.2 360.4h1.2v1.2h-1.2zM396.5 332.5h1.2v1.2h-1.2zM330.9 380.8h1.2v1.2h-1.2zM361.2 357.5h1.2v1.2h-1.2zM364.3 358.7h1.2v1.2h-1.2zM377.8 345.2h1.2v1.2h-1.2zM346.3 370.9h1.2v1.2h-1.2zM338.0 379.4h1.2v1.2h-1.2zM364.2 359.5h1.2v1.2h-1.2zM357.0 362.4h1.2v1.2h-1.2zM342.4 373.2h1.2v1.2h-1.2zM341.6 375.3h1.2v1.2h-1.2zM340.3 375.5h1.2v1.2h-1.2zM404.9 327.1h1.2v1.2h-1.2zM337.9 375.0h1.2v1.2h-1.2zM372.6 350.6h1.2v1.2h-1.2zM378.4 349.1h1.2v1.2h-1.2zM390.8 337.8h1.2v1.2h-1.2zM380.7 344.7h1.2v1.2h-1.2zM408.3 324.7h1.2v1.2h-1.2zM385.2 342.0h1.2v1.2h-1.2zM378.5 344.4h1.2v1.2h-1.2zM374.8 348.3h1.2v1.2h-1.2zM362.4 361.1h1.2v1.2h-1.2zM375.1 347.9h1.2v1.2h-1.2zM353.1 366.0h1.2v1.2h-1.2zM383.6 341.4h1.2v1.2h-1.2zM402.2 326.5h1.2v1.2h-1.2zM376.7 348.8h1.2v1.2h-1.2zM391.8 336.3h1.2v1.2h-1.2zM366.8 356.8h1.2v1.2h-1.2zM374.2 350.3h1.2v1.2h-1.2zM393.9 333.0h1.2v1.2h-1.2zM390.4 336.2h1.2v1.2h-1.2zM386.6 342.0h1.2v1.2h-1.2zM394.4 333.3h1.2v1.2h-1.2zM351.4 366.8h1.2v1.2h-1.2zM353.3 365.0h1.2v1.2h-1.2zM356.9 362.9h1.2v1.2h-1.2zM390.9 338.0h1.2v1.2h-1.2zM399.8 331.8h1.2v1.2h-1.2zM372.3 349.0h1.2v1.2h-1.2zM403.3 328.0h1.2v1.2h-1.2zM338.7 375.4h1.2v1.2h-1.2zM346.2 372.6h1.2v1.2h-1.2zM385.1 342.8h1.2v1.2h-1.2zM367.0 355.1h1.2v1.2h-1.2zM371.4 352.6h1.2v1.2h-1.2zM388.9 338.4h1.2v1.2h-1.2zM391.2 336.2h1.2v1.2h-1.2zM373.2 350.8h1.2v1.2h-1.2zM374.8 347.8h1.2v1.2h-1.2zM392.5 336.5h1.2v1.2h-1.2zM407.5 324.3h1.2v1.2h-1.2zM362.8 358.5h1.2v1.2h-1.2zM375.8 350.8h1.2v1.2h-1.2zM394.1 335.1h1.2v1.2h-1.2zM375.2 348.0h1.2v1.2h-1.2zM369.3 352.8h1.2v1.2h-1.2zM347.0 370.2h1.2v1.2h-1.2zM375.9 350.1h1.2v1.2h-1.2zM377.4 345.7h1.2v1.2h-1.2zM374.6 349.7h1.2v1.2h-1.2zM377.0 346.5h1.2v1.2h-1.2zM381.7 341.9h1.2v1.2h-1.2zM406.2 323.4h1.2v1.2h-1.2zM409.5 325.1h1.2v1.2h-1.2zM407.8 324.7h1.2v1.2h-1.2zM369.3 353.8h1.2v1.2h-1.2zM367.9 354.8h1.2v1.2h-1.2zM383.0 344.9h1.2v1.2h-1.2zM407.5 324.7h1.2v1.2h-1.2zM385.1 339.6h1.2v1.2h-1.2zM365.1 355.6h1.2v1.2h-1.2zM401.1 330.9h1.2v1.2h-1.2zM404.6 328.7h1.2v1.2h-1.2zM405.0 328.9h1.2v1.2h-1.2zM338.9 374.4h1.2v1.2h-1.2zM360.8 357.7h1.2v1.2h-1.2zM350.6 366.3h1.2v1.2h-1.2zM343.1 374.1h1.2v1.2h-1.2zM395.4 335.1h1.2v1.2h-1.2zM399.1 330.1h1.2v1.2h-1.2zM384.1 341.2h1.2v1.2h-1.2zM371.9 349.3h1.2v1.2h-1.2zM325.7 385.2h1.2v1.2h-1.2zM364.0 359.4h1.2v1.2h-1.2zM387.0 341.7h1.2v1.2h-1.2zM397.0 331.2h1.2v1.2h-1.2zM347.8 370.1h1.2v1.2h-1.2zM386.6 339.8h1.2v1.2h-1.2zM375.8 350.8h1.2v1.2h-1.2zM404.0 327.8h1.2v1.2h-1.2zM408.7 325.4h1.2v1.2h-1.2zM395.2 336.0h1.2v1.2h-1.2zM352.6 365.9h1.2v1.2h-1.2zM370.4 353.8h1.2v1.2h-1.2zM341.9 373.9h1.2v1.2h-1.2zM338.4 374.9h1.2v1.2h-1.2zM358.6 359.2h1.2v1.2h-1.2zM403.3 327.1h1.2v1.2h-1.2zM401.5 331.2h1.2v1.2h-1.2zM391.8 338.3h1.2v1.2h-1.2zM398.4 334.0h1.2v1.2h-1.2zM336.5 376.7h1.2v1.2h-1.2zM396.1 335.5h1.2v1.2h-1.2zM373.5 351.4h1.2v1.2h-1.2zM383.3 342.4h1.2v1.2h-1.2zM353.9 365.4h1.2v1.2h-1.2zM375.3 349.4h1.2v1.2h-1.2zM362.2 359.3h1.2v1.2h-1.2zM369.1 352.1h1.2v1.2h-1.2zM386.5 340.9h1.2v1.2h-1.2zM394.5 334.3h1.2v1.2h-1.2zM370.7 350.8h1.2v1.2h-1.2zM368.0 356.4h1.2v1.2h-1.2zM349.8 366.4h1.2v1.2h-1.2zM392.3 334.0h1.2v1.2h-1.2zM337.4 378.7h1.2v1.2h-1.2zM343.3 371.8h1.2v1.2h-1.2zM389.3 338.1h1.2v1.2h-1.2zM341.4 376.2h1.2v1.2h-1.2zM389.4 337.0h1.2v1.2h-1.2zM333.7 378.4h1.2v1.2h-1.2zM345.2 373.9h1.2v1.2h-1.2zM336.4 380.2h1.2v1.2h-1.2zM370.2 353.4h1.2v1.2h-1.2zM403.5 327.4h1.2v1.2h-1.2zM362.1 356.9h1.2v1.2h-1.2zM350.7 369.9h1.2v1.2h-1.2zM405.4 327.7h1.2v1.2h-1.2zM398.8 329.7h1.2v1.2h-1.2zM331.3 381.7h1.2v1.2h-1.2zM371.6 352.1h1.2v1.2h-1.2zM384.3 344.2h1.2v1.2h-1.2zM357.5 364.4h1.2v1.2h-1.2zM399.7 332.7h1.2v1.2h-1.2zM343.6 372.3h1.2v1.2h-1.2zM373.6 348.0h1.2v1.2h-1.2zM366.9 353.2h1.2v1.2h-1.2zM361.2 359.2h1.2v1.2h-1.2zM382.3 346.1h1.2v1.2h-1.2zM395.4 332.3h1.2v1.2h-1.2zM407.3 325.9h1.2v1.2h-1.2zM393.7 335.5h1.2v1.2h-1.2zM396.7 331.9h1.2v1.2h-1.2zM395.5 332.3h1.2v1.2h-1.2zM359.5 358.8h1.2v1.2h-1.2zM345.6 370.2h1.2v1.2h-1.2zM377.0 348.2h1.2v1.2h-1.2zM351.6 367.5h1.2v1.2h-1.2zM406.8 325.4h1.2v1.2h-1.2zM404.9 328.4h1.2v1.2h-1.2zM385.3 343.1h1.2v1.2h-1.2zM388.6 339.7h1.2v1.2h-1.2zM356.1 363.3h1.2v1.2h-1.2zM356.7 364.4h1.2v1.2h-1.2zM359.3 361.3h1.2v1.2h-1.2zM324.0 388.7h1.2v1.2h-1.2zM406.7 323.5h1.2v1.2h-1.2zM378.7 346.8h1.2v1.2h-1.2zM376.3 349.5h1.2v1.2h-1.2zM394.4 333.1h1.2v1.2h-1.2zM387.9 338.3h1.2v1.2h-1.2zM346.2 371.5h1.2v1.2h-1.2zM368.2 355.7h1.2v1.2h-1.2zM402.8 330.0h1.2v1.2h-1.2zM373.1 348.6h1.2v1.2h-1.2zM404.6 324.9h1.2v1.2h-1.2zM365.1 356.5h1.2v1.2h-1.2zM345.2 370.7h1.2v1.2h-1.2zM339.8 374.2h1.2v1.2h-1.2zM370.1 354.7h1.2v1.2h-1.2zM366.1 354.0h1.2v1.2h-1.2zM382.9 341.7h1.2v1.2h-1.2zM365.4 358.9h1.2v1.2h-1.2zM391.8 334.3h1.2v1.2h-1.2zM373.7 348.4h1.2v1.2h-1.2zM370.7 353.5h1.2v1.2h-1.2zM402.1 330.2h1.2v1.2h-1.2zM359.0 360.6h1.2v1.2h-1.2zM369.1 355.7h1.2v1.2h-1.2zM406.8 327.8h1.2v1.2h-1.2zM364.5 357.4h1.2v1.2h-1.2zM397.6 332.6h1.2v1.2h-1.2zM360.7 361.6h1.2v1.2h-1.2zM406.2 327.1h1.2v1.2h-1.2zM386.6 338.6h1.2v1.2h-1.2zM410.6 323.6h1.2v1.2h-1.2zM383.9 341.9h1.2v1.2h-1.2zM359.7 361.8h1.2v1.2h-1.2zM369.8 353.2h1.2v1.2h-1.2zM392.3 338.0h1.2v1.2h-1.2zM384.7 340.5h1.2v1.2h-1.2zM374.8 349.9h1.2v1.2h-1.2zM349.9 367.5h1.2v1.2h-1.2zM340.9 373.8h1.2v1.2h-1.2zM364.4 356.1h1.2v1.2h-1.2zM388.2 339.0h1.2v1.2h-1.2zM373.7 351.2h1.2v1.2h-1.2zM405.6 325.1h1.2v1.2h-1.2zM377.5 346.6h1.2v1.2h-1.2zM385.3 343.0h1.2v1.2h-1.2zM370.5 353.6h1.2v1.2h-1.2zM376.3 349.7h1.2v1.2h-1.2zM403.9 325.5h1.2v1.2h-1.2zM384.5 342.1h1.2v1.2h-1.2zM385.5 341.7h1.2v1.2h-1.2zM390.9 338.8h1.2v1.2h-1.2zM364.3 355.3h1.2v1.2h-1.2zM389.9 339.0h1.2v1.2h-1.2zM403.5 326.8h1.2v1.2h-1.2zM348.5 367.8h1.2v1.2h-1.2zM392.9 336.0h1.2v1.2h-1.2zM353.7 367.3h1.2v1.2h-1.2zM341.8 376.6h1.2v1.2h-1.2zM369.2 352.0h1.2v1.2h-1.2zM383.7 341.6h1.2v1.2h-1.2zM375.0 348.7h1.2v1.2h-1.2zM403.4 329.3h1.2v1.2h-1.2zM364.0 355.7h1.2v1.2h-1.2zM375.9 348.0h1.2v1.2h-1.2zM361.9 359.0h1.2v1.2h-1.2zM366.8 356.5h1.2v1.2h-1.2zM395.2 332.1h1.2v1.2h-1.2zM372.9 351.8h1.2v1.2h-1.2zM389.9 338.7h1.2v1.2h-1.2zM381.5 344.8h1.2v1.2h-1.2zM390.3 339.5h1.2v1.2h-1.2zM381.7 345.3h1.2v1.2h-1.2zM406.6 327.0h1.2v1.2h-1.2zM371.7 352.4h1.2v1.2h-1.2zM337.5 377.5h1.2v1.2h-1.2zM404.8 324.9h1.2v1.2h-1.2zM367.3 356.2h1.2v1.2h-1.2zM390.7 337.3h1.2v1.2h-1.2zM376.5 346.3h1.2v1.2h-1.2zM384.4 340.7h1.2v1.2h-1.2zM363.2 356.6h1.2v1.2h-1.2zM349.0 366.9h1.2v1.2h-1.2zM331.7 383.3h1.2v1.2h-1.2zM395.2 334.3h1.2v1.2h-1.2zM383.6 340.7h1.2v1.2h-1.2zM358.4 361.1h1.2v1.2h-1.2zM331.2 381.1h1.2v1.2h-1.2zM351.3 367.4h1.2v1.2h-1.2zM366.6 357.4h1.2v1.2h-1.2zM376.0 346.2h1.2v1.2h-1.2zM407.3 324.9h1.2v1.2h-1.2zM372.6 351.8h1.2v1.2h-1.2zM386.2 341.5h1.2v1.2h-1.2zM379.6 347.5h1.2v1.2h-1.2zM399.5 331.8h1.2v1.2h-1.2zM376.4 348.9h1.2v1.2h-1.2zM374.2 348.7h1.2v1.2h-1.2zM364.4 357.4h1.2v1.2h-1.2zM406.4 325.6h1.2v1.2h-1.2zM378.7 348.5h1.2v1.2h-1.2zM347.0 369.4h1.2v1.2h-1.2zM363.9 357.0h1.2v1.2h-1.2zM360.5 360.1h1.2v1.2h-1.2zM401.9 329.6h1.2v1.2h-1.2zM393.2 333.3h1.2v1.2h-1.2zM390.9 337.9h1.2v1.2h-1.2zM378.9 346.8h1.2v1.2h-1.2zM373.4 348.3h1.2v1.2h-1.2zM395.5 331.5h1.2v1.2h-1.2zM391.6 338.6h1.2v1.2h-1.2zM369.5 352.5h1.2v1.2h-1.2zM394.6 334.6h1.2v1.2h-1.2zM406.7 323.9h1.2v1.2h-1.2zM388.4 337.9h1.2v1.2h-1.2zM347.9 367.7h1.2v1.2h-1.2zM346.7 368.5h1.2v1.2h-1.2zM388.9 337.1h1.2v1.2h-1.2zM343.8 374.3h1.2v1.2h-1.2zM356.7 364.1h1.2v1.2h-1.2zM327.9 384.0h1.2v1.2h-1.2zM354.3 363.7h1.2v1.2h-1.2zM372.1 349.7h1.2v1.2h-1.2zM381.4 345.1h1.2v1.2h-1.2zM405.2 327.5h1.2v1.2h-1.2zM362.5 357.9h1.2v1.2h-1.2zM377.3 348.9h1.2v1.2h-1.2zM334.9 378.0h1.2v1.2h-1.2zM395.4 333.3h1.2v1.2h-1.2zM397.6 333.5h1.2v1.2h-1.2zM373.4 352.6h1.2v1.2h-1.2zM386.4 338.4h1.2v1.2h-1.2zM327.2 385.4h1.2v1.2h-1.2zM380.2 344.8h1.2v1.2h-1.2zM341.8 375.8h1.2v1.2h-1.2zM397.6 330.5h1.2v1.2h-1.2zM396.8 331.7h1.2v1.2h-1.2zM397.1 333.1h1.2v1.2h-1.2zM329.1 384.0h1.2v1.2h-1.2zM405.0 326.8h1.2v1.2h-1.2zM344.8 370.5h1.2v1.2h-1.2zM401.9 331.1h1.2v1.2h-1.2zM384.6 341.2h1.2v1.2h-1.2zM399.3 331.3h1.2v1.2h-1.2zM372.3 349.8h1.2v1.2h-1.2zM389.5 339.4h1.2v1.2h-1.2zM362.3 357.9h1.2v1.2h-1.2zM402.0 331.3h1.2v1.2h-1.2zM347.0 372.4h1.2v1.2h-1.2zM374.3 350.0h1.2v1.2h-1.2zM400.0 331.7h1.2v1.2h-1.2zM379.0 346.1h1.2v1.2h-1.2zM386.6 338.5h1.2v1.2h-1.2zM363.2 359.7h1.2v1.2h-1.2zM404.1 326.5h1.2v1.2h-1.2zM383.7 342.9h1.2v1.2h-1.2zM408.8 325.6h1.2v1.2h-1.2zM357.6 363.7h1.2v1.2h-1.2zM379.8 343.7h1.2v1.2h-1.2zM351.4 367.3h1.2v1.2h-1.2zM372.6 350.9h1.2v1.2h-1.2zM373.9 350.6h1.2v1.2h-1.2zM392.1 337.5h1.2v1.2h-1.2zM335.4 378.2h1.2v1.2h-1.2zM377.2 346.0h1.2v1.2h-1.2zM375.7 349.5h1.2v1.2h-1.2zM392.3 336.5h1.2v1.2h-1.2zM389.4 340.1h1.2v1.2h-1.2zM401.2 331.8h1.2v1.2h-1.2zM341.5 372.5h1.2v1.2h-1.2zM353.7 365.6h1.2v1.2h-1.2zM365.9 355.8h1.2v1.2h-1.2zM374.5 348.0h1.2v1.2h-1.2zM379.2 347.5h1.2v1.2h-1.2zM369.6 351.8h1.2v1.2h-1.2zM394.2 334.7h1.2v1.2h-1.2zM369.9 352.5h1.2v1.2h-1.2zM329.5 384.2h1.2v1.2h-1.2zM350.1 367.6h1.2v1.2h-1.2zM353.2 364.9h1.2v1.2h-1.2zM379.7 343.9h1.2v1.2h-1.2zM371.1 350.4h1.2v1.2h-1.2zM358.0 359.9h1.2v1.2h-1.2z" fill="#ffed00"/>
<path d="M303.8 483.2h1.2v1.2h-1.2zM299.3 491.1h1.2v1.2h-1.2zM391.5 417.3h1.2v1.2h-1.2zM307.2 481.2h1.2v1.2h-1.2zM373.9 433.1h1.2v1.2h-1.2zM301.5 484.7h1.2v1.2h-1.2zM295.7 491.0h1.2v1.2h-1.2zM299.5 488.9h1.2v1.2h-1.2zM297.3 488.8h1.2v1.2h-1.2zM302.5 486.0h1.2v1.2h-1.2zM304.5 487.1h1.2v1.2h-1.2zM405.5 407.4h1.2v1.2h-1.2zM300.2 489.5h1.2v1.2h-1.2zM359.6 444.0h1.2v1.2h-1.2zM340.8 456.9h1.2v1.2h-1.2zM297.3 489.0h1.2v1.2h-1.2zM356.1 447.3h1.2v1.2h-1.2zM412.3 404.6h1.2v1.2h-1.2zM356.3 446.5h1.2v1.2h-1.2zM291.9 492.6h1.2v1.2h-1.2zM322.5 469.8h1.2v1.2h-1.2zM303.6 486.8h1.2v1.2h-1.2zM369.3 434.9h1.2v1.2h-1.2zM411.5 402.0h1.2v1.2h-1.2zM291.9 496.5h1.2v1.2h-1.2zM416.0 399.5h1.2v1.2h-1.2zM409.1 406.6h1.2v1.2h-1.2zM354.6 444.9h1.2v1.2h-1.2zM294.3 492.8h1.2v1.2h-1.2zM320.6 472.0h1.2v1.2h-1.2zM302.9 488.3h1.2v1.2h-1.2zM309.8 479.2h1.2v1.2h-1.2zM300.5 490.0h1.2v1.2h-1.2zM299.8 488.4h1.2v1.2h-1.2zM370.7 435.8h1.2v1.2h-1.2zM343.0 454.6h1.2v1.2h-1.2zM294.6 491.1h1.2v1.2h-1.2zM289.1 494.2h1.2v1.2h-1.2zM396.5 413.3h1.2v1.2h-1.2zM296.3 491.0h1.2v1.2h-1.2zM360.2 441.4h1.2v1.2h-1.2zM313.8 479.7h1.2v1.2h-1.2zM304.9 483.0h1.2v1.2h-1.2zM308.9 480.8h1.2v1.2h-1.2zM306.3 482.1h1.2v1.2h-1.2zM348.0 451.0h1.2v1.2h-1.2zM341.1 459.6h1.2v1.2h-1.2zM408.3 406.9h1.2v1.2h-1.2zM341.4 456.7h1.2v1.2h-1.2zM291.2 494.1h1.2v1.2h-1.2zM338.1 460.0h1.2v1.2h-1.2zM310.4 481.3h1.2v1.2h-1.2zM294.7 492.6h1.2v1.2h-1.2zM409.2 403.8h1.2v1.2h-1.2zM295.0 491.4h1.2v1.2h-1.2zM290.1 497.5h1.2v1.2h-1.2zM382.6 424.1h1.2v1.2h-1.2zM415.8 401.4h1.2v1.2h-1.2zM307.0 480.9h1.2v1.2h-1.2zM401.2 411.3h1.2v1.2h-1.2zM307.4 484.4h1.2v1.2h-1.2zM338.2 459.6h1.2v1.2h-1.2zM306.9 483.2h1.2v1.2h-1.2zM299.0 490.3h1.2v1.2h-1.2zM323.8 470.1h1.2v1.2h-1.2zM305.4 482.1h1.2v1.2h-1.2zM317.0 476.2h1.2v1.2h-1.2zM374.6 430.7h1.2v1.2h-1.2zM302.0 487.9h1.2v1.2h-1.2zM302.2 485.8h1.2v1.2h-1.2zM407.4 405.1h1.2v1.2h-1.2zM333.1 465.5h1.2v1.2h-1.2zM297.9 489.8h1.2v1.2h-1.2zM347.7 451.4h1.2v1.2h-1.2zM296.2 489.0h1.2v1.2h-1.2zM341.2 455.3h1.2v1.2h-1.2zM298.6 489.2h1.2v1.2h-1.2zM299.7 486.5h1.2v1.2h-1.2zM295.2 490.4h1.2v1.2h-1.2zM290.2 494.6h1.2v1.2h-1.2zM405.6 407.4h1.2v1.2h-1.2zM384.1 423.4h1.2v1.2h-1.2zM347.9 450.1h1.2v1.2h-1.2zM330.0 466.9h1.2v1.2h-1.2zM316.3 475.4h1.2v1.2h-1.2zM309.9 479.0h1.2v1.2h-1.2zM293.2 492.7h1.2v1.2h-1.2zM306.2 481.6h1.2v1.2h-1.2zM305.2 482.4h1.2v1.2h-1.2zM301.2 489.1h1.2v1.2h-1.2zM308.8 480.1h1.2v1.2h-1.2zM360.7 443.7h1.2v1.2h-1.2zM289.6 494.0h1.2v1.2h-1.2zM287.3 497.4h1.2v1.2h-1.2zM294.4 491.5h1.2v1.2h-1.2zM299.8 490.4h1.2v1.2h-1.2zM302.9 486.9h1.2v1.2h-1.2zM408.4 406.5h1.2v1.2h-1.2zM310.3 480.6h1.2v1.2h-1.2zM319.1 475.9h1.2v1.2h-1.2zM414.5 400.2h1.2v1.2h-1.2zM296.3 489.8h1.2v1.2h-1.2zM317.6 473.6h1.2v1.2h-1.2zM337.5 459.8h1.2v1.2h-1.2zM359.1 442.1h1.2v1.2h-1.2zM297.0 491.0h1.2v1.2h-1.2zM307.2 484.2h1.2v1.2h-1.2zM299.6 486.7h1.2v1.2h-1.2zM333.3 464.7h1.2v1.2h-1.2zM299.7 487.9h1.2v1.2h-1.2zM305.2 484.8h1.2v1.2h-1.2zM294.1 494.2h1.2v1.2h-1.2zM302.7 483.9h1.2v1.2h-1.2zM409.7 404.7h1.2v1.2h-1.2zM298.4 489.2h1.2v1.2h-1.2zM315.7 474.5h1.2v1.2h-1.2zM309.8 481.3h1.2v1.2h-1.2zM295.6 491.7h1.2v1.2h-1.2zM324.9 468.0h1.2v1.2h-1.2zM286.0 497.0h1.2v1.2h-1.2zM299.9 489.8h1.2v1.2h-1.2zM310.2 481.4h1.2v1.2h-1.2zM319.5 474.7h1.2v1.2h-1.2zM300.9 488.5h1.2v1.2h-1.2zM318.7 476.3h1.2v1.2h-1.2zM362.7 439.7h1.2v1.2h-1.2zM304.4 482.8h1.2v1.2h-1.2zM349.5 453.3h1.2v1.2h-1.2zM303.2 484.2h1.2v1.2h-1.2zM316.8 477.3h1.2v1.2h-1.2zM397.1 414.2h1.2v1.2h-1.2zM298.1 491.9h1.2v1.2h-1.2zM295.3 493.3h1.2v1.2h-1.2zM304.2 482.9h1.2v1.2h-1.2zM340.8 455.3h1.2v1.2h-1.2zM290.8 494.8h1.2v1.2h-1.2zM293.3 494.2h1.2v1.2h-1.2zM290.7 493.5h1.2v1.2h-1.2zM316.9 475.0h1.2v1.2h-1.2zM292.7 496.1h1.2v1.2h-1.2zM290.6 496.1h1.2v1.2h-1.2zM373.8 433.7h1.2v1.2h-1.2zM412.6 404.5h1.2v1.2h-1.2zM300.6 487.2h1.2v1.2h-1.2zM302.9 486.7h1.2v1.2h-1.2zM303.1 487.4h1.2v1.2h-1.2zM290.0 495.2h1.2v1.2h-1.2zM305.9 483.4h1.2v1.2h-1.2zM307.9 483.1h1.2v1.2h-1.2zM412.6 401.9h1.2v1.2h-1.2zM410.1 405.1h1.2v1.2h-1.2zM326.0 466.7h1.2v1.2h-1.2zM308.9 480.6h1.2v1.2h-1.2zM413.5 401.9h1.2v1.2h-1.2zM332.3 462.8h1.2v1.2h-1.2zM313.1 477.4h1.2v1.2h-1.2zM298.8 487.1h1.2v1.2h-1.2zM302.9 487.0h1.2v1.2h-1.2zM407.0 406.3h1.2v1.2h-1.2zM408.0 407.1h1.2v1.2h-1.2zM335.0 459.6h1.2v1.2h-1.2zM343.5 453.9h1.2v1.2h-1.2zM298.1 488.9h1.2v1.2h-1.2zM332.6 465.7h1.2v1.2h-1.2zM303.2 484.3h1.2v1.2h-1.2zM298.1 490.3h1.2v1.2h-1.2zM301.6 488.6h1.2v1.2h-1.2zM317.0 473.2h1.2v1.2h-1.2zM413.4 402.0h1.2v1.2h-1.2zM319.1 472.5h1.2v1.2h-1.2zM305.5 482.4h1.2v1.2h-1.2zM316.3 478.1h1.2v1.2h-1.2zM322.4 472.0h1.2v1.2h-1.2zM374.8 432.8h1.2v1.2h-1.2zM309.4 480.7h1.2v1.2h-1.2zM323.3 471.5h1.2v1.2h-1.2zM297.5 489.0h1.2v1.2h-1.2zM297.8 490.6h1.2v1.2h-1.2zM364.9 438.9h1.2v1.2h-1.2zM292.3 493.3h1.2v1.2h-1.2zM305.2 486.2h1.2v1.2h-1.2zM292.3 494.9h1.2v1.2h-1.2zM357.5 445.3h1.2v1.2h-1.2zM304.9 482.2h1.2v1.2h-1.2zM296.7 489.0h1.2v1.2h-1.2zM319.2 471.5h1.2v1.2h-1.2zM292.0 491.9h1.2v1.2h-1.2zM418.5 397.6h1.2v1.2h-1.2zM284.5 498.6h1.2v1.2h-1.2zM296.9 490.4h1.2v1.2h-1.2zM330.9 465.6h1.2v1.2h-1.2zM306.9 483.9h1.2v1.2h-1.2zM349.8 452.5h1.2v1.2h-1.2zM397.8 413.4h1.2v1.2h-1.2zM333.9 464.1h1.2v1.2h-1.2zM304.5 486.0h1.2v1.2h-1.2zM306.7 485.1h1.2v1.2h-1.2zM329.4 467.9h1.2v1.2h-1.2zM290.8 496.8h1.2v1.2h-1.2zM318.1 476.6h1.2v1.2h-1.2zM305.3 485.9h1.2v1.2h-1.2zM341.2 455.2h1.2v1.2h-1.2zM389.5 418.9h1.2v1.2h-1.2zM288.7 494.7h1.2v1.2h-1.2zM306.4 484.9h1.2v1.2h-1.2zM412.6 403.6h1.2v1.2h-1.2zM320.4 471.1h1.2v1.2h-1.2z" fill="#0062ff"/>
<path d="M372.6 394.8h1.2v1.2h-1.2zM311.0 440.9h1.2v1.2h-1.2zM282.8 462.9h1.2v1.2h-1.2zM316.1 435.3h1.2v1.2h-1.2zM427.2 353.5h1.2v1.2h-1.2zM272.7 470.2h1.2v1.2h-1.2zM327.5 427.7h1.2v1.2h-1.2zM314.6 436.8h1.2v1.2h-1.2zM319.7 434.3h1.2v1.2h-1.2zM290.0 454.5h1.2v1.2h-1.2zM322.7 429.9h1.2v1.2h-1.2zM326.6 430.0h1.2v1.2h-1.2zM407.2 370.5h1.2v1.2h-1.2zM433.8 351.1h1.2v1.2h-1.2zM285.5 459.3h1.2v1.2h-1.2zM274.9 470.0h1.2v1.2h-1.2zM300.9 450.0h1.2v1.2h-1.2zM274.4 467.8h1.2v1.2h-1.2zM374.5 393.7h1.2v1.2h-1.2zM306.1 444.4h1.2v1.2h-1.2zM298.5 448.8h1.2v1.2h-1.2zM417.3 360.8h1.2v1.2h-1.2zM289.3 455.3h1.2v1.2h-1.2zM272.9 470.5h1.2v1.2h-1.2zM330.4 424.3h1.2v1.2h-1.2zM309.2 443.6h1.2v1.2h-1.2zM275.2 468.1h1.2v1.2h-1.2zM288.6 458.3h1.2v1.2h-1.2zM368.0 397.0h1.2v1.2h-1.2zM269.2 474.0h1.2v1.2h-1.2zM319.0 437.2h1.2v1.2h-1.2zM312.5 437.6h1.2v1.2h-1.2zM343.3 419.1h1.2v1.2h-1.2zM298.4 451.6h1.2v1.2h-1.2zM316.5 437.7h1.2v1.2h-1.2zM340.3 420.4h1.2v1.2h-1.2zM316.4 435.5h1.2v1.2h-1.2zM346.4 413.5h1.2v1.2h-1.2zM267.4 475.1h1.2v1.2h-1.2zM341.0 420.1h1.2v1.2h-1.2zM288.6 455.8h1.2v1.2h-1.2zM287.2 459.0h1.2v1.2h-1.2zM347.6 412.2h1.2v1.2h-1.2zM346.3 412.2h1.2v1.2h-1.2zM306.7 442.5h1.2v1.2h-1.2zM274.1 470.7h1.2v1.2h-1.2zM343.1 416.0h1.2v1.2h-1.2zM331.8 423.1h1.2v1.2h-1.2zM426.0 354.4h1.2v1.2h-1.2zM407.2 366.5h1.2v1.2h-1.2zM346.2 412.7h1.2v1.2h-1.2zM274.1 466.5h1.2v1.2h-1.2zM276.6 466.3h1.2v1.2h-1.2zM368.8 397.3h1.2v1.2h-1.2zM267.0 473.9h1.2v1.2h-1.2zM355.6 407.7h1.2v1.2h-1.2zM323.3 429.6h1.2v1.2h-1.2zM370.1 398.9h1.2v1.2h-1.2zM302.6 448.4h1.2v1.2h-1.2zM309.8 440.1h1.2v1.2h-1.2zM392.0 380.4h1.2v1.2h-1.2zM342.9 416.2h1.2v1.2h-1.2zM297.8 448.8h1.2v1.2h-1.2zM291.7 455.2h1.2v1.2h-1.2zM352.2 411.4h1.2v1.2h-1.2zM371.4 397.2h1.2v1.2h-1.2zM318.0 433.8h1.2v1.2h-1.2zM390.5 383.0h1.2v1.2h-1.2zM282.0 464.3h1.2v1.2h-1.2zM300.0 447.1h1.2v1.2h-1.2zM397.9 377.4h1.2v1.2h-1.2zM326.4 430.2h1.2v1.2h-1.2zM346.2 413.9h1.2v1.2h-1.2zM291.3 454.7h1.2v1.2h-1.2zM320.7 433.0h1.2v1.2h-1.2zM337.6 420.0h1.2v1.2h-1.2zM284.9 460.2h1.2v1.2h-1.2zM353.5 408.2h1.2v1.2h-1.2zM276.7 468.9h1.2v1.2h-1.2zM308.1 442.1h1.2v1.2h-1.2zM290.5 458.1h1.2v1.2h-1.2zM353.4 406.9h1.2v1.2h-1.2zM280.3 462.2h1.2v1.2h-1.2zM311.4 440.7h1.2v1.2h-1.2zM276.1 465.3h1.2v1.2h-1.2zM381.0 386.5h1.2v1.2h-1.2zM309.5 444.0h1.2v1.2h-1.2zM284.7 461.9h1.2v1.2h-1.2zM337.4 423.1h1.2v1.2h-1.2zM317.9 434.3h1.2v1.2h-1.2zM305.0 444.4h1.2v1.2h-1.2zM398.5 375.0h1.2v1.2h-1.2zM271.7 471.7h1.2v1.2h-1.2zM326.3 431.0h1.2v1.2h-1.2zM346.9 414.5h1.2v1.2h-1.2zM309.3 441.5h1.2v1.2h-1.2zM267.3 475.7h1.2v1.2h-1.2zM296.3 453.4h1.2v1.2h-1.2zM366.4 401.1h1.2v1.2h-1.2zM274.2 466.7h1.2v1.2h-1.2zM323.0 430.0h1.2v1.2h-1.2zM296.1 451.4h1.2v1.2h-1.2zM285.0 460.1h1.2v1.2h-1.2zM343.4 418.2h1.2v1.2h-1.2zM293.9 454.9h1.2v1.2h-1.2zM280.9 462.5h1.2v1.2h-1.2zM417.0 363.4h1.2v1.2h-1.2zM345.3 416.6h1.2v1.2h-1.2zM399.0 376.0h1.2v1.2h-1.2zM296.1 451.9h1.2v1.2h-1.2zM411.5 367.0h1.2v1.2h-1.2zM284.6 462.5h1.2v1.2h-1.2zM299.5 450.0h1.2v1.2h-1.2zM368.1 397.7h1.2v1.2h-1.2zM361.6 401.6h1.2v1.2h-1.2zM357.9 407.3h1.2v1.2h-1.2zM317.6 438.5h1.2v1.2h-1.2zM272.7 470.0h1.2v1.2h-1.2zM294.8 454.5h1.2v1.2h-1.2zM291.5 454.6h1.2v1.2h-1.2zM416.7 361.6h1.2v1.2h-1.2zM302.3 446.7h1.2v1.2h-1.2zM418.7 358.0h1.2v1.2h-1.2zM296.0 450.0h1.2v1.2h-1.2zM373.5 392.2h1.2v1.2h-1.2zM293.3 456.8h1.2v1.2h-1.2zM423.7 355.5h1.2v1.2h-1.2zM274.5 466.2h1.2v1.2h-1.2zM383.5 387.6h1.2v1.2h-1.2zM298.6 452.7h1.2v1.2h-1.2zM345.2 413.3h1.2v1.2h-1.2zM342.8 415.6h1.2v1.2h-1.2zM286.4 461.6h1.2v1.2h-1.2zM326.7 427.7h1.2v1.2h-1.2zM281.1 463.0h1.2v1.2h-1.2zM380.6 386.5h1.2v1.2h-1.2zM280.0 464.5h1.2v1.2h-1.2zM334.3 421.3h1.2v1.2h-1.2zM306.6 445.1h1.2v1.2h-1.2zM307.6 441.8h1.2v1.2h-1.2zM325.5 431.0h1.2v1.2h-1.2zM409.8 367.4h1.2v1.2h-1.2zM291.9 455.9h1.2v1.2h-1.2zM298.2 450.5h1.2v1.2h-1.2zM327.7 429.4h1.2v1.2h-1.2zM311.5 439.1h1.2v1.2h-1.2zM283.1 463.6h1.2v1.2h-1.2zM386.5 384.7h1.2v1.2h-1.2zM271.5 468.5h1.2v1.2h-1.2zM311.2 438.6h1.2v1.2h-1.2zM320.8 432.5h1.2v1.2h-1.2zM395.4 378.1h1.2v1.2h-1.2zM287.0 458.5h1.2v1.2h-1.2zM284.4 458.7h1.2v1.2h-1.2zM287.5 461.0h1.2v1.2h-1.2zM361.8 402.1h1.2v1.2h-1.2zM329.0 425.5h1.2v1.2h-1.2zM331.7 424.3h1.2v1.2h-1.2zM292.1 456.6h1.2v1.2h-1.2zM396.3 375.4h1.2v1.2h-1.2zM305.4 445.1h1.2v1.2h-1.2zM336.3 423.0h1.2v1.2h-1.2zM359.8 402.4h1.2v1.2h-1.2zM286.2 460.5h1.2v1.2h-1.2zM316.4 435.2h1.2v1.2h-1.2zM299.5 450.7h1.2v1.2h-1.2zM293.7 454.8h1.2v1.2h-1.2zM308.2 443.9h1.2v1.2h-1.2zM422.9 358.4h1.2v1.2h-1.2zM358.4 403.9h1.2v1.2h-1.2zM371.2 395.5h1.2v1.2h-1.2zM310.7 439.2h1.2v1.2h-1.2zM326.7 428.0h1.2v1.2h-1.2zM304.0 447.9h1.2v1.2h-1.2zM286.4 461.4h1.2v1.2h-1.2zM342.6 416.8h1.2v1.2h-1.2zM356.5 408.5h1.2v1.2h-1.2zM424.7 354.6h1.2v1.2h-1.2zM301.5 446.3h1.2v1.2h-1.2zM328.0 428.5h1.2v1.2h-1.2zM396.8 374.3h1.2v1.2h-1.2zM320.5 434.5h1.2v1.2h-1.2zM393.0 379.7h1.2v1.2h-1.2zM277.3 468.1h1.2v1.2h-1.2zM350.6 412.7h1.2v1.2h-1.2zM335.5 424.8h1.2v1.2h-1.2zM417.1 359.6h1.2v1.2h-1.2zM397.4 375.1h1.2v1.2h-1.2zM320.1 436.3h1.2v1.2h-1.2zM306.6 445.6h1.2v1.2h-1.2zM323.9 432.9h1.2v1.2h-1.2zM293.0 453.2h1.2v1.2h-1.2zM345.1 414.8h1.2v1.2h-1.2zM403.1 373.4h1.2v1.2h-1.2zM334.1 423.9h1.2v1.2h-1.2zM398.6 373.6h1.2v1.2h-1.2zM296.5 452.3h1.2v1.2h-1.2zM307.4 445.4h1.2v1.2h-1.2zM284.9 462.8h1.2v1.2h-1.2zM269.3 473.0h1.2v1.2h-1.2zM374.6 392.7h1.2v1.2h-1.2zM374.7 391.8h1.2v1.2h-1.2zM319.4 434.3h1.2v1.2h-1.2zM356.3 405.2h1.2v1.2h-1.2zM416.4 364.3h1.2v1.2h-1.2zM361.1 402.4h1.2v1.2h-1.2zM330.9 427.0h1.2v1.2h-1.2zM351.0 410.6h1.2v1.2h-1.2zM374.1 392.8h1.2v1.2h-1.2zM296.9 449.3h1.2v1.2h-1.2zM344.3 414.1h1.2v1.2h-1.2zM415.0 361.8h1.2v1.2h-1.2zM369.3 395.4h1.2v1.2h-1.2zM324.9 431.3h1.2v1.2h-1.2zM359.4 405.9h1.2v1.2h-1.2zM290.9 454.9h1.2v1.2h-1.2zM278.6 467.4h1.2v1.2h-1.2zM314.9 437.3h1.2v1.2h-1.2zM396.5 378.9h1.2v1.2h-1.2zM285.3 459.7h1.2v1.2h-1.2zM339.1 419.7h1.2v1.2h-1.2zM336.1 422.6h1.2v1.2h-1.2zM406.3 367.5h1.2v1.2h-1.2zM338.0 419.4h1.2v1.2h-1.2zM322.6 434.2h1.2v1.2h-1.2zM398.5 373.0h1.2v1.2h-1.2zM345.3 417.5h1.2v1.2h-1.2zM313.2 438.5h1.2v1.2h-1.2zM295.4 452.6h1.2v1.2h-1.2zM291.6 457.0h1.2v1.2h-1.2zM348.3 414.8h1.2v1.2h-1.2zM277.9 466.5h1.2v1.2h-1.2zM381.4 389.7h1.2v1.2h-1.2zM352.0 409.6h1.2v1.2h-1.2zM340.9 418.9h1.2v1.2h-1.2zM407.4 367.1h1.2v1.2h-1.2zM376.2 390.3h1.2v1.2h-1.2zM321.1 433.8h1.2v1.2h-1.2zM303.3 448.1h1.2v1.2h-1.2zM321.1 433.5h1.2v1.2h-1.2zM273.5 469.5h1.2v1.2h-1.2zM317.1 438.6h1.2v1.2h-1.2zM278.8 467.2h1.2v1.2h-1.2zM347.0 412.0h1.2v1.2h-1.2zM297.5 449.0h1.2v1.2h-1.2zM327.4 427.7h1.2v1.2h-1.2zM351.3 408.6h1.2v1.2h-1.2zM272.8 471.4h1.2v1.2h-1.2zM350.1 411.9h1.2v1.2h-1.2zM325.1 429.5h1.2v1.2h-1.2zM282.9 463.8h1.2v1.2h-1.2zM309.1 443.3h1.2v1.2h-1.2zM301.2 450.8h1.2v1.2h-1.2zM281.2 461.2h1.2v1.2h-1.2zM343.2 417.0h1.2v1.2h-1.2zM298.6 448.5h1.2v1.2h-1.2zM267.9 475.0h1.2v1.2h-1.2zM303.3 445.9h1.2v1.2h-1.2zM289.1 456.3h1.2v1.2h-1.2zM328.1 429.6h1.2v1.2h-1.2zM310.8 441.5h1.2v1.2h-1.2zM344.6 417.6h1.2v1.2h-1.2zM322.8 430.6h1.2v1.2h-1.2zM360.1 404.9h1.2v1.2h-1.2zM304.7 444.8h1.2v1.2h-1.2zM310.9 440.4h1.2v1.2h-1.2zM311.1 439.3h1.2v1.2h-1.2zM283.9 461.7h1.2v1.2h-1.2zM359.6 405.8h1.2v1.2h-1.2zM332.0 426.7h1.2v1.2h-1.2zM379.2 389.2h1.2v1.2h-1.2zM326.6 428.9h1.2v1.2h-1.2zM322.7 432.7h1.2v1.2h-1.2zM280.9 464.1h1.2v1.2h-1.2zM286.8 459.0h1.2v1.2h-1.2zM354.4 406.6h1.2v1.2h-1.2zM411.5 363.6h1.2v1.2h-1.2zM313.8 438.9h1.2v1.2h-1.2zM317.5 437.6h1.2v1.2h-1.2zM326.9 429.0h1.2v1.2h-1.2zM291.8 454.7h1.2v1.2h-1.2zM319.7 434.0h1.2v1.2h-1.2zM327.3 431.0h1.2v1.2h-1.2zM345.7 415.1h1.2v1.2h-1.2zM290.9 454.2h1.2v1.2h-1.2zM275.6 469.9h1.2v1.2h-1.2zM310.0 442.6h1.2v1.2h-1.2zM336.5 420.0h1.2v1.2h-1.2zM341.0 420.1h1.2v1.2h-1.2zM309.8 441.1h1.2v1.2h-1.2zM277.7 466.8h1.2v1.2h-1.2zM410.2 367.2h1.2v1.2h-1.2zM379.4 388.3h1.2v1.2h-1.2zM284.8 461.4h1.2v1.2h-1.2zM334.9 422.1h1.2v1.2h-1.2zM325.8 430.3h1.2v1.2h-1.2zM311.1 439.7h1.2v1.2h-1.2zM363.4 399.8h1.2v1.2h-1.2zM332.2 425.5h1.2v1.2h-1.2zM398.6 375.0h1.2v1.2h-1.2zM330.8 427.4h1.2v1.2h-1.2zM335.5 422.8h1.2v1.2h-1.2zM316.5 434.6h1.2v1.2h-1.2zM317.3 435.8h1.2v1.2h-1.2zM302.6 445.8h1.2v1.2h-1.2zM274.1 469.8h1.2v1.2h-1.2zM306.5 445.5h1.2v1.2h-1.2zM293.1 456.8h1.2v1.2h-1.2zM384.5 384.6h1.2v1.2h-1.2zM342.6 419.8h1.2v1.2h-1.2zM389.6 382.5h1.2v1.2h-1.2zM277.5 467.1h1.2v1.2h-1.2zM301.2 447.8h1.2v1.2h-1.2zM330.7 428.1h1.2v1.2h-1.2zM370.7 397.6h1.2v1.2h-1.2zM307.7 443.7h1.2v1.2h-1.2zM293.6 455.8h1.2v1.2h-1.2zM357.8 405.0h1.2v1.2h-1.2zM403.0 372.8h1.2v1.2h-1.2zM385.1 385.5h1.2v1.2h-1.2zM313.7 439.1h1.2v1.2h-1.2zM390.4 381.6h1.2v1.2h-1.2zM294.4 455.7h1.2v1.2h-1.2zM284.1 461.9h1.2v1.2h-1.2zM420.7 359.4h1.2v1.2h-1.2zM312.5 442.2h1.2v1.2h-1.2zM268.2 472.7h1.2v1.2h-1.2zM329.4 428.8h1.2v1.2h-1.2zM316.7 436.9h1.2v1.2h-1.2zM410.8 367.1h1.2v1.2h-1.2zM331.2 426.6h1.2v1.2h-1.2zM324.6 429.7h1.2v1.2h-1.2zM303.7 446.2h1.2v1.2h-1.2zM282.7 461.9h1.2v1.2h-1.2zM321.8 433.1h1.2v1.2h-1.2zM353.5 406.7h1.2v1.2h-1.2zM426.5 352.9h1.2v1.2h-1.2zM338.0 419.2h1.2v1.2h-1.2zM356.9 405.2h1.2v1.2h-1.2zM355.0 408.6h1.2v1.2h-1.2zM268.7 470.7h1.2v1.2h-1.2zM348.5 415.4h1.2v1.2h-1.2zM379.9 389.3h1.2v1.2h-1.2zM338.4 421.1h1.2v1.2h-1.2zM337.2 420.6h1.2v1.2h-1.2zM305.7 445.3h1.2v1.2h-1.2zM329.7 426.1h1.2v1.2h-1.2zM361.9 402.8h1.2v1.2h-1.2zM339.2 418.5h1.2v1.2h-1.2zM325.0 430.8h1.2v1.2h-1.2zM286.2 461.3h1.2v1.2h-1.2zM313.0 438.2h1.2v1.2h-1.2zM289.3 458.2h1.2v1.2h-1.2zM326.5 429.7h1.2v1.2h-1.2zM342.5 416.7h1.2v1.2h-1.2zM354.8 410.6h1.2v1.2h-1.2zM303.6 444.6h1.2v1.2h-1.2zM311.6 442.5h1.2v1.2h-1.2zM382.1 388.7h1.2v1.2h-1.2zM342.5 415.2h1.2v1.2h-1.2zM332.1 424.8h1.2v1.2h-1.2zM312.3 442.2h1.2v1.2h-1.2zM371.1 393.9h1.2v1.2h-1.2zM305.3 443.6h1.2v1.2h-1.2zM312.0 438.7h1.2v1.2h-1.2zM302.0 449.0h1.2v1.2h-1.2zM327.0 426.9h1.2v1.2h-1.2zM322.7 434.2h1.2v1.2h-1.2zM297.1 452.2h1.2v1.2h-1.2zM402.8 371.5h1.2v1.2h-1.2zM277.3 467.5h1.2v1.2h-1.2zM309.3 440.2h1.2v1.2h-1.2zM311.1 443.2h1.2v1.2h-1.2zM300.3 451.5h1.2v1.2h-1.2zM285.0 462.2h1.2v1.2h-1.2zM300.3 447.5h1.2v1.2h-1.2zM285.6 461.9h1.2v1.2h-1.2zM308.2 444.5h1.2v1.2h-1.2zM292.8 453.3h1.2v1.2h-1.2zM418.5 361.6h1.2v1.2h-1.2zM295.8 453.4h1.2v1.2h-1.2zM316.0 435.9h1.2v1.2h-1.2zM302.5 449.6h1.2v1.2h-1.2zM329.9 425.8h1.2v1.2h-1.2zM296.6 449.5h1.2v1.2h-1.2zM330.0 427.2h1.2v1.2h-1.2zM342.8 417.3h1.2v1.2h-1.2zM277.1 465.2h1.2v1.2h-1.2zM293.4 454.4h1.2v1.2h-1.2zM319.8 432.1h1.2v1.2h-1.2zM305.8 447.0h1.2v1.2h-1.2zM358.4 404.1h1.2v1.2h-1.2zM279.2 465.2h1.2v1.2h-1.2zM304.8 444.7h1.2v1.2h-1.2zM336.0 422.4h1.2v1.2h-1.2zM349.0 413.1h1.2v1.2h-1.2zM307.7 442.2h1.2v1.2h-1.2zM347.4 415.2h1.2v1.2h-1.2zM341.1 418.8h1.2v1.2h-1.2zM308.5 442.6h1.2v1.2h-1.2zM273.9 467.0h1.2v1.2h-1.2zM276.0 466.3h1.2v1.2h-1.2zM282.2 464.3h1.2v1.2h-1.2zM297.3 453.6h1.2v1.2h-1.2zM321.9 434.2h1.2v1.2h-1.2zM278.4 466.1h1.2v1.2h-1.2zM315.6 439.9h1.2v1.2h-1.2zM293.3 453.4h1.2v1.2h-1.2zM376.9 389.3h1.2v1.2h-1.2zM293.1 454.6h1.2v1.2h-1.2zM296.2 451.2h1.2v1.2h-1.2zM289.9 458.8h1.2v1.2h-1.2zM280.5 463.7h1.2v1.2h-1.2zM422.7 357.1h1.2v1.2h-1.2zM357.6 405.7h1.2v1.2h-1.2zM356.5 406.2h1.2v1.2h-1.2zM355.6 406.5h1.2v1.2h-1.2zM283.0 463.7h1.2v1.2h-1.2zM374.7 391.2h1.2v1.2h-1.2zM311.5 442.7h1.2v1.2h-1.2zM287.3 460.5h1.2v1.2h-1.2zM283.9 460.5h1.2v1.2h-1.2zM334.0 421.7h1.2v1.2h-1.2zM309.5 440.6h1.2v1.2h-1.2zM301.4 447.3h1.2v1.2h-1.2zM309.2 441.7h1.2v1.2h-1.2zM301.1 449.9h1.2v1.2h-1.2zM333.3 422.8h1.2v1.2h-1.2zM322.4 432.5h1.2v1.2h-1.2zM323.0 433.4h1.2v1.2h-1.2zM302.3 445.5h1.2v1.2h-1.2zM383.9 385.9h1.2v1.2h-1.2zM320.8 435.6h1.2v1.2h-1.2zM288.2 459.3h1.2v1.2h-1.2zM348.0 412.5h1.2v1.2h-1.2zM411.9 363.8h1.2v1.2h-1.2zM282.7 462.7h1.2v1.2h-1.2zM301.5 445.9h1.2v1.2h-1.2zM377.9 392.9h1.2v1.2h-1.2zM346.7 412.6h1.2v1.2h-1.2zM286.0 461.1h1.2v1.2h-1.2zM268.6 472.6h1.2v1.2h-1.2zM325.7 429.2h1.2v1.2h-1.2zM304.1 446.0h1.2v1.2h-1.2zM383.3 385.7h1.2v1.2h-1.2zM307.0 445.4h1.2v1.2h-1.2zM337.8 421.0h1.2v1.2h-1.2zM288.0 457.0h1.2v1.2h-1.2zM291.3 456.0h1.2v1.2h-1.2zM322.4 432.6h1.2v1.2h-1.2zM366.2 399.6h1.2v1.2h-1.2zM357.0 408.5h1.2v1.2h-1.2zM392.0 377.9h1.2v1.2h-1.2zM352.9 409.9h1.2v1.2h-1.2zM326.9 427.2h1.2v1.2h-1.2zM276.4 467.2h1.2v1.2h-1.2zM338.1 422.7h1.2v1.2h-1.2zM293.4 454.0h1.2v1.2h-1.2zM276.5 469.2h1.2v1.2h-1.2zM296.0 450.1h1.2v1.2h-1.2zM342.1 415.5h1.2v1.2h-1.2zM336.0 422.2h1.2v1.2h-1.2zM284.0 463.6h1.2v1.2h-1.2zM346.1 414.0h1.2v1.2h-1.2zM293.9 452.8h1.2v1.2h-1.2zM358.1 403.5h1.2v1.2h-1.2zM313.7 436.6h1.2v1.2h-1.2zM278.3 465.4h1.2v1.2h-1.2zM294.8 452.3h1.2v1.2h-1.2zM319.2 434.9h1.2v1.2h-1.2zM324.1 429.7h1.2v1.2h-1.2zM293.2 452.7h1.2v1.2h-1.2zM293.1 454.3h1.2v1.2h-1.2zM325.1 431.4h1.2v1.2h-1.2zM314.4 440.2h1.2v1.2h-1.2zM296.9 453.0h1.2v1.2h-1.2zM369.3 398.2h1.2v1.2h-1.2zM289.2 458.0h1.2v1.2h-1.2zM304.6 447.4h1.2v1.2h-1.2zM359.1 404.4h1.2v1.2h-1.2zM292.6 455.1h1.2v1.2h-1.2zM376.1 393.3h1.2v1.2h-1.2zM358.2 403.2h1.2v1.2h-1.2zM296.7 454.1h1.2v1.2h-1.2zM315.4 435.5h1.2v1.2h-1.2zM271.1 473.0h1.2v1.2h-1.2zM328.2 426.6h1.2v1.2h-1.2zM373.2 396.4h1.2v1.2h-1.2zM357.4 404.6h1.2v1.2h-1.2zM320.3 432.7h1.2v1.2h-1.2zM291.0 454.6h1.2v1.2h-1.2zM390.5 383.4h1.2v1.2h-1.2zM356.8 406.4h1.2v1.2h-1.2zM288.8 459.3h1.2v1.2h-1.2zM350.1 412.7h1.2v1.2h-1.2zM423.5 358.9h1.2v1.2h-1.2zM374.2 393.1h1.2v1.2h-1.2zM323.8 431.2h1.2v1.2h-1.2zM285.1 462.5h1.2v1.2h-1.2zM380.4 386.7h1.2v1.2h-1.2zM357.7 408.1h1.2v1.2h-1.2zM314.7 437.4h1.2v1.2h-1.2zM314.6 438.2h1.2v1.2h-1.2zM309.3 440.0h1.2v1.2h-1.2zM319.1 433.2h1.2v1.2h-1.2zM305.6 445.1h1.2v1.2h-1.2zM392.2 379.2h1.2v1.2h-1.2zM363.3 401.4h1.2v1.2h-1.2zM289.6 457.4h1.2v1.2h-1.2zM334.6 423.0h1.2v1.2h-1.2zM331.7 426.6h1.2v1.2h-1.2zM380.7 390.6h1.2v1.2h-1.2zM284.1 462.1h1.2v1.2h-1.2zM304.5 444.8h1.2v1.2h-1.2zM353.0 409.2h1.2v1.2h-1.2zM343.0 414.7h1.2v1.2h-1.2zM299.5 447.6h1.2v1.2h-1.2zM344.9 415.2h1.2v1.2h-1.2zM273.9 470.8h1.2v1.2h-1.2zM376.9 390.5h1.2v1.2h-1.2zM306.9 446.0h1.2v1.2h-1.2zM327.5 426.7h1.2v1.2h-1.2zM314.4 438.4h1.2v1.2h-1.2zM310.9 441.4h1.2v1.2h-1.2zM382.3 385.5h1.2v1.2h-1.2zM267.9 475.8h1.2v1.2h-1.2zM328.5 430.0h1.2v1.2h-1.2zM312.9 441.5h1.2v1.2h-1.2zM347.6 415.5h1.2v1.2h-1.2zM273.5 470.3h1.2v1.2h-1.2zM270.1 473.3h1.2v1.2h-1.2zM324.3 431.3h1.2v1.2h-1.2zM312.0 441.2h1.2v1.2h-1.2zM350.9 411.3h1.2v1.2h-1.2zM319.8 436.9h1.2v1.2h-1.2zM325.6 428.3h1.2v1.2h-1.2zM339.7 418.7h1.2v1.2h-1.2zM339.1 419.2h1.2v1.2h-1.2zM339.3 421.6h1.2v1.2h-1.2zM322.1 433.9h1.2v1.2h-1.2zM283.9 460.9h1.2v1.2h-1.2zM290.3 455.2h1.2v1.2h-1.2zM365.6 400.0h1.2v1.2h-1.2zM304.5 448.0h1.2v1.2h-1.2zM318.2 435.4h1.2v1.2h-1.2zM336.7 420.2h1.2v1.2h-1.2zM288.2 457.7h1.2v1.2h-1.2zM294.7 452.9h1.2v1.2h-1.2zM345.1 415.3h1.2v1.2h-1.2zM325.8 427.7h1.2v1.2h-1.2zM358.3 407.4h1.2v1.2h-1.2zM325.4 430.5h1.2v1.2h-1.2zM376.4 393.8h1.2v1.2h-1.2zM359.6 406.0h1.2v1.2h-1.2zM275.1 465.9h1.2v1.2h-1.2zM300.8 449.5h1.2v1.2h-1.2zM303.9 446.4h1.2v1.2h-1.2zM280.5 462.7h1.2v1.2h-1.2zM392.3 382.4h1.2v1.2h-1.2zM308.8 444.3h1.2v1.2h-1.2zM382.3 386.6h1.2v1.2h-1.2zM334.2 421.4h1.2v1.2h-1.2zM302.0 446.8h1.2v1.2h-1.2zM416.2 363.5h1.2v1.2h-1.2zM326.3 427.9h1.2v1.2h-1.2zM338.2 419.8h1.2v1.2h-1.2zM324.2 429.8h1.2v1.2h-1.2zM305.5 443.3h1.2v1.2h-1.2zM319.6 436.1h1.2v1.2h-1.2zM280.0 464.9h1.2v1.2h-1.2zM371.3 395.1h1.2v1.2h-1.2zM294.0 452.5h1.2v1.2h-1.2zM299.7 450.3h1.2v1.2h-1.2zM303.6 446.7h1.2v1.2h-1.2zM382.8 388.6h1.2v1.2h-1.2zM347.3 413.8h1.2v1.2h-1.2zM362.5 399.9h1.2v1.2h-1.2zM365.2 400.2h1.2v1.2h-1.2zM326.0 429.1h1.2v1.2h-1.2zM349.4 410.0h1.2v1.2h-1.2zM309.3 440.8h1.2v1.2h-1.2zM384.4 385.4h1.2v1.2h-1.2zM404.7 369.3h1.2v1.2h-1.2zM366.6 400.5h1.2v1.2h-1.2zM405.4 368.3h1.2v1.2h-1.2zM336.3 421.5h1.2v1.2h-1.2zM321.1 433.5h1.2v1.2h-1.2zM276.5 467.4h1.2v1.2h-1.2zM294.4 454.8h1.2v1.2h-1.2zM317.8 436.0h1.2v1.2h-1.2zM380.9 388.9h1.2v1.2h-1.2zM350.2 411.9h1.2v1.2h-1.2zM325.7 429.3h1.2v1.2h-1.2zM321.8 432.3h1.2v1.2h-1.2zM320.0 432.9h1.2v1.2h-1.2zM279.3 464.7h1.2v1.2h-1.2z" fill="#00ff62"/>
<path d="M411.1 328.8h1.2v1.2h-1.2zM404.7 332.5h1.2v1.2h-1.2zM358.4 367.3h1.2v1.2h-1.2zM362.6 365.1h1.2v1.2h-1.2zM363.8 360.9h1.2v1.2h-1.2zM399.0 334.0h1.2v1.2h-1.2zM388.6 341.8h1.2v1.2h-1.2zM419.2 323.1h1.2v1.2h-1.2zM410.4 326.0h1.2v1.2h-1.2zM382.1 347.5h1.2v1.2h-1.2zM376.6 353.5h1.2v1.2h-1.2zM325.5 389.0h1.2v1.2h-1.2zM356.0 369.9h1.2v1.2h-1.2zM398.4 334.6h1.2v1.2h-1.2zM359.2 367.7h1.2v1.2h-1.2zM400.5 335.6h1.2v1.2h-1.2zM345.8 375.9h1.2v1.2h-1.2zM393.0 342.9h1.2v1.2h-1.2zM356.6 367.2h1.2v1.2h-1.2zM342.6 377.6h1.2v1.2h-1.2zM403.9 331.1h1.2v1.2h-1.2zM412.6 323.9h1.2v1.2h-1.2zM390.3 341.2h1.2v1.2h-1.2zM370.3 358.1h1.2v1.2h-1.2zM347.1 376.9h1.2v1.2h-1.2zM384.3 347.7h1.2v1.2h-1.2zM391.3 343.1h1.2v1.2h-1.2zM385.5 348.4h1.2v1.2h-1.2zM399.4 335.6h1.2v1.2h-1.2zM373.3 356.9h1.2v1.2h-1.2zM399.7 334.2h1.2v1.2h-1.2zM379.4 352.8h1.2v1.2h-1.2zM335.5 382.7h1.2v1.2h-1.2zM387.1 345.7h1.2v1.2h-1.2zM390.7 343.4h1.2v1.2h-1.2zM332.8 383.7h1.2v1.2h-1.2zM409.3 328.3h1.2v1.2h-1.2zM397.9 338.4h1.2v1.2h-1.2zM387.7 346.7h1.2v1.2h-1.2zM364.9 360.8h1.2v1.2h-1.2zM309.2 405.8h1.2v1.2h-1.2zM405.8 329.0h1.2v1.2h-1.2zM348.5 372.3h1.2v1.2h-1.2zM399.6 335.7h1.2v1.2h-1.2zM393.8 340.2h1.2v1.2h-1.2zM330.2 387.3h1.2v1.2h-1.2zM358.0 368.7h1.2v1.2h-1.2zM370.7 356.7h1.2v1.2h-1.2zM413.3 326.3h1.2v1.2h-1.2zM360.5 366.5h1.2v1.2h-1.2zM405.1 330.3h1.2v1.2h-1.2zM411.9 324.0h1.2v1.2h-1.2zM414.6 325.5h1.2v1.2h-1.2zM393.1 339.7h1.2v1.2h-1.2zM393.4 339.4h1.2v1.2h-1.2zM399.1 335.1h1.2v1.2h-1.2zM414.3 326.7h1.2v1.2h-1.2zM357.6 366.6h1.2v1.2h-1.2zM397.4 338.7h1.2v1.2h-1.2zM397.6 335.3h1.2v1.2h-1.2zM379.5 349.4h1.2v1.2h-1.2zM366.0 360.1h1.2v1.2h-1.2zM352.1 369.8h1.2v1.2h-1.2zM373.6 356.2h1.2v1.2h-1.2zM403.9 333.4h1.2v1.2h-1.2zM398.5 335.7h1.2v1.2h-1.2zM372.3 358.2h1.2v1.2h-1.2zM378.9 351.8h1.2v1.2h-1.2zM349.0 371.7h1.2v1.2h-1.2zM359.9 367.1h1.2v1.2h-1.2zM345.0 375.2h1.2v1.2h-1.2zM365.4 360.6h1.2v1.2h-1.2zM361.5 365.7h1.2v1.2h-1.2zM331.4 389.2h1.2v1.2h-1.2zM387.1 346.7h1.2v1.2h-1.2zM373.7 353.9h1.2v1.2h-1.2zM352.3 368.8h1.2v1.2h-1.2zM389.5 342.8h1.2v1.2h-1.2zM409.0 326.7h1.2v1.2h-1.2zM362.2 362.0h1.2v1.2h-1.2zM403.1 332.2h1.2v1.2h-1.2zM377.6 351.7h1.2v1.2h-1.2zM359.0 365.7h1.2v1.2h-1.2zM348.8 374.2h1.2v1.2h-1.2zM403.1 330.9h1.2v1.2h-1.2zM371.8 356.1h1.2v1.2h-1.2zM407.6 327.5h1.2v1.2h-1.2zM399.4 334.4h1.2v1.2h-1.2zM399.4 334.3h1.2v1.2h-1.2zM404.6 333.6h1.2v1.2h-1.2zM361.0 364.7h1.2v1.2h-1.2zM366.4 358.8h1.2v1.2h-1.2zM353.5 368.9h1.2v1.2h-1.2zM374.7 355.6h1.2v1.2h-1.2zM390.7 344.4h1.2v1.2h-1.2zM389.5 343.7h1.2v1.2h-1.2zM407.6 329.2h1.2v1.2h-1.2zM375.2 354.8h1.2v1.2h-1.2zM351.7 370.1h1.2v1.2h-1.2zM412.8 325.4h1.2v1.2h-1.2zM343.2 376.5h1.2v1.2h-1.2zM368.2 358.2h1.2v1.2h-1.2zM371.9 356.9h1.2v1.2h-1.2zM413.2 326.4h1.2v1.2h-1.2zM343.1 377.6h1.2v1.2h-1.2zM347.8 375.4h1.2v1.2h-1.2zM390.9 340.7h1.2v1.2h-1.2zM396.0 337.3h1.2v1.2h-1.2zM383.7 345.2h1.2v1.2h-1.2zM331.1 387.9h1.2v1.2h-1.2zM353.6 372.1h1.2v1.2h-1.2zM406.0 328.6h1.2v1.2h-1.2zM370.4 356.8h1.2v1.2h-1.2zM323.9 394.3h1.2v1.2h-1.2zM329.6 387.9h1.2v1.2h-1.2zM390.9 340.5h1.2v1.2h-1.2zM386.1 346.4h1.2v1.2h-1.2zM335.5 381.4h1.2v1.2h-1.2zM395.0 337.3h1.2v1.2h-1.2zM406.7 330.1h1.2v1.2h-1.2zM403.8 330.4h1.2v1.2h-1.2zM353.9 370.7h1.2v1.2h-1.2zM356.1 366.5h1.2v1.2h-1.2zM354.4 369.5h1.2v1.2h-1.2zM378.8 352.5h1.2v1.2h-1.2zM366.4 358.7h1.2v1.2h-1.2zM408.9 327.5h1.2v1.2h-1.2zM376.2 353.6h1.2v1.2h-1.2zM407.2 332.1h1.2v1.2h-1.2zM395.2 339.9h1.2v1.2h-1.2zM391.9 341.8h1.2v1.2h-1.2zM396.7 339.9h1.2v1.2h-1.2zM398.5 336.3h1.2v1.2h-1.2zM351.6 369.4h1.2v1.2h-1.2zM405.4 331.4h1.2v1.2h-1.2zM349.0 372.0h1.2v1.2h-1.2zM417.9 323.9h1.2v1.2h-1.2zM339.4 381.8h1.2v1.2h-1.2zM338.8 383.0h1.2v1.2h-1.2zM359.2 366.3h1.2v1.2h-1.2zM392.1 340.5h1.2v1.2h-1.2zM387.7 345.5h1.2v1.2h-1.2zM400.1 334.1h1.2v1.2h-1.2zM325.9 389.9h1.2v1.2h-1.2zM405.6 333.3h1.2v1.2h-1.2zM405.6 329.7h1.2v1.2h-1.2zM411.3 326.1h1.2v1.2h-1.2zM366.1 362.0h1.2v1.2h-1.2zM354.1 368.1h1.2v1.2h-1.2zM376.1 355.3h1.2v1.2h-1.2zM398.7 335.7h1.2v1.2h-1.2zM346.7 373.2h1.2v1.2h-1.2zM387.2 342.9h1.2v1.2h-1.2zM388.6 344.1h1.2v1.2h-1.2zM373.8 356.2h1.2v1.2h-1.2zM363.5 362.7h1.2v1.2h-1.2zM391.7 339.4h1.2v1.2h-1.2zM343.5 379.5h1.2v1.2h-1.2zM347.4 376.6h1.2v1.2h-1.2zM372.9 354.5h1.2v1.2h-1.2zM393.7 342.2h1.2v1.2h-1.2zM363.2 362.6h1.2v1.2h-1.2zM374.5 354.7h1.2v1.2h-1.2zM386.9 342.9h1.2v1.2h-1.2zM382.0 348.4h1.2v1.2h-1.2zM392.3 343.4h1.2v1.2h-1.2zM397.1 338.7h1.2v1.2h-1.2zM349.5 371.4h1.2v1.2h-1.2zM402.0 335.6h1.2v1.2h-1.2zM364.3 359.9h1.2v1.2h-1.2zM349.0 376.1h1.2v1.2h-1.2zM353.2 369.9h1.2v1.2h-1.2zM391.0 341.2h1.2v1.2h-1.2zM399.5 334.8h1.2v1.2h-1.2zM368.1 357.7h1.2v1.2h-1.2zM375.6 355.7h1.2v1.2h-1.2zM352.2 370.1h1.2v1.2h-1.2zM393.9 337.9h1.2v1.2h-1.2zM361.2 365.4h1.2v1.2h-1.2zM362.3 365.5h1.2v1.2h-1.2zM346.3 376.9h1.2v1.2h-1.2zM360.7 366.2h1.2v1.2h-1.2zM359.2 364.3h1.2v1.2h-1.2zM392.9 342.9h1.2v1.2h-1.2zM410.8 329.1h1.2v1.2h-1.2zM377.9 351.5h1.2v1.2h-1.2zM393.2 340.3h1.2v1.2h-1.2zM375.9 352.9h1.2v1.2h-1.2zM345.1 374.8h1.2v1.2h-1.2zM408.5 330.5h1.2v1.2h-1.2zM400.9 333.8h1.2v1.2h-1.2zM360.4 363.8h1.2v1.2h-1.2zM359.8 364.3h1.2v1.2h-1.2zM385.7 346.4h1.2v1.2h-1.2zM374.0 353.5h1.2v1.2h-1.2zM335.4 382.3h1.2v1.2h-1.2zM404.1 333.3h1.2v1.2h-1.2zM388.4 346.3h1.2v1.2h-1.2zM362.0 365.1h1.2v1.2h-1.2zM376.1 353.4h1.2v1.2h-1.2zM333.8 385.0h1.2v1.2h-1.2zM390.7 341.3h1.2v1.2h-1.2zM389.5 342.1h1.2v1.2h-1.2zM364.5 364.3h1.2v1.2h-1.2zM326.2 391.7h1.2v1.2h-1.2zM416.1 324.2h1.2v1.2h-1.2zM382.4 346.5h1.2v1.2h-1.2zM387.1 342.7h1.2v1.2h-1.2zM372.5 356.8h1.2v1.2h-1.2zM363.8 364.2h1.2v1.2h-1.2zM383.0 349.9h1.2v1.2h-1.2zM382.1 351.2h1.2v1.2h-1.2zM417.6 324.2h1.2v1.2h-1.2zM378.3 352.2h1.2v1.2h-1.2zM413.0 324.9h1.2v1.2h-1.2zM412.0 325.3h1.2v1.2h-1.2zM406.1 330.8h1.2v1.2h-1.2zM404.7 333.0h1.2v1.2h-1.2zM412.9 327.5h1.2v1.2h-1.2zM376.5 353.8h1.2v1.2h-1.2zM372.8 355.8h1.2v1.2h-1.2zM341.9 380.2h1.2v1.2h-1.2zM363.6 362.0h1.2v1.2h-1.2zM409.9 329.0h1.2v1.2h-1.2zM377.7 351.7h1.2v1.2h-1.2zM332.2 384.5h1.2v1.2h-1.2zM379.4 351.5h1.2v1.2h-1.2zM393.3 342.7h1.2v1.2h-1.2zM397.6 335.6h1.2v1.2h-1.2zM359.5 367.6h1.2v1.2h-1.2zM351.2 373.2h1.2v1.2h-1.2zM401.9 335.2h1.2v1.2h-1.2zM399.0 337.0h1.2v1.2h-1.2zM406.8 330.9h1.2v1.2h-1.2zM373.3 355.7h1.2v1.2h-1.2zM374.6 355.7h1.2v1.2h-1.2zM408.4 327.1h1.2v1.2h-1.2zM331.3 388.9h1.2v1.2h-1.2zM391.5 343.1h1.2v1.2h-1.2zM384.7 344.5h1.2v1.2h-1.2zM369.8 358.6h1.2v1.2h-1.2zM343.3 378.8h1.2v1.2h-1.2zM395.0 339.4h1.2v1.2h-1.2zM337.0 382.7h1.2v1.2h-1.2zM345.3 376.7h1.2v1.2h-1.2zM355.0 367.0h1.2v1.2h-1.2zM383.9 348.9h1.2v1.2h-1.2zM407.7 327.6h1.2v1.2h-1.2zM369.8 357.7h1.2v1.2h-1.2zM357.4 365.8h1.2v1.2h-1.2zM330.6 388.5h1.2v1.2h-1.2zM374.0 355.1h1.2v1.2h-1.2zM367.4 358.1h1.2v1.2h-1.2zM383.9 345.4h1.2v1.2h-1.2zM371.7 358.9h1.2v1.2h-1.2zM382.6 348.9h1.2v1.2h-1.2zM343.5 376.1h1.2v1.2h-1.2zM334.8 384.9h1.2v1.2h-1.2zM355.0 368.6h1.2v1.2h-1.2zM387.4 344.0h1.2v1.2h-1.2zM370.1 359.0h1.2v1.2h-1.2zM358.1 364.7h1.2v1.2h-1.2zM409.3 326.5h1.2v1.2h-1.2zM367.5 358.4h1.2v1.2h-1.2zM382.4 348.4h1.2v1.2h-1.2zM347.5 376.2h1.2v1.2h-1.2zM352.2 371.5h1.2v1.2h-1.2zM333.6 386.0h1.2v1.2h-1.2zM381.2 347.4h1.2v1.2h-1.2zM367.6 360.4h1.2v1.2h-1.2zM352.8 369.8h1.2v1.2h-1.2zM356.0 369.7h1.2v1.2h-1.2zM361.1 362.4h1.2v1.2h-1.2zM412.0 324.8h1.2v1.2h-1.2zM370.7 356.7h1.2v1.2h-1.2zM385.4 347.4h1.2v1.2h-1.2zM409.0 327.6h1.2v1.2h-1.2zM400.9 333.4h1.2v1.2h-1.2zM377.6 352.4h1.2v1.2h-1.2zM391.4 341.7h1.2v1.2h-1.2zM392.8 340.1h1.2v1.2h-1.2zM354.9 369.8h1.2v1.2h-1.2zM381.5 349.7h1.2v1.2h-1.2zM381.9 349.2h1.2v1.2h-1.2zM381.6 350.3h1.2v1.2h-1.2zM365.5 359.9h1.2v1.2h-1.2zM360.9 363.6h1.2v1.2h-1.2zM400.6 333.9h1.2v1.2h-1.2zM384.7 346.5h1.2v1.2h-1.2zM337.2 383.0h1.2v1.2h-1.2zM414.8 325.3h1.2v1.2h-1.2zM381.5 350.7h1.2v1.2h-1.2zM392.2 338.8h1.2v1.2h-1.2zM375.6 355.7h1.2v1.2h-1.2zM407.5 329.0h1.2v1.2h-1.2zM412.9 324.9h1.2v1.2h-1.2zM320.5 395.1h1.2v1.2h-1.2zM340.0 382.5h1.2v1.2h-1.2zM417.6 324.1h1.2v1.2h-1.2zM356.9 369.7h1.2v1.2h-1.2zM342.4 378.9h1.2v1.2h-1.2zM400.0 336.2h1.2v1.2h-1.2zM407.4 328.0h1.2v1.2h-1.2zM351.1 373.1h1.2v1.2h-1.2zM392.1 342.3h1.2v1.2h-1.2zM367.2 358.1h1.2v1.2h-1.2zM364.0 361.7h1.2v1.2h-1.2zM347.6 373.2h1.2v1.2h-1.2zM394.3 339.7h1.2v1.2h-1.2zM344.2 377.1h1.2v1.2h-1.2zM377.7 350.0h1.2v1.2h-1.2zM413.7 327.0h1.2v1.2h-1.2zM412.6 326.5h1.2v1.2h-1.2zM354.3 369.6h1.2v1.2h-1.2zM341.9 379.6h1.2v1.2h-1.2zM405.4 330.9h1.2v1.2h-1.2zM361.3 363.4h1.2v1.2h-1.2zM403.9 332.0h1.2v1.2h-1.2zM374.3 352.8h1.2v1.2h-1.2zM404.2 331.3h1.2v1.2h-1.2zM401.6 334.6h1.2v1.2h-1.2zM397.9 335.5h1.2v1.2h-1.2zM350.3 372.1h1.2v1.2h-1.2zM380.5 352.4h1.2v1.2h-1.2zM406.0 328.4h1.2v1.2h-1.2zM384.5 348.7h1.2v1.2h-1.2zM368.9 359.3h1.2v1.2h-1.2zM362.1 366.1h1.2v1.2h-1.2zM371.1 357.0h1.2v1.2h-1.2zM394.1 339.4h1.2v1.2h-1.2zM384.7 347.1h1.2v1.2h-1.2zM387.7 343.4h1.2v1.2h-1.2zM368.7 357.2h1.2v1.2h-1.2zM356.3 366.9h1.2v1.2h-1.2zM365.5 359.3h1.2v1.2h-1.2zM368.6 360.3h1.2v1.2h-1.2zM399.4 335.0h1.2v1.2h-1.2zM409.3 329.0h1.2v1.2h-1.2zM376.8 354.6h1.2v1.2h-1.2zM345.3 375.0h1.2v1.2h-1.2zM378.9 352.3h1.2v1.2h-1.2zM387.3 346.8h1.2v1.2h-1.2zM371.5 355.4h1.2v1.2h-1.2zM359.8 366.3h1.2v1.2h-1.2zM339.8 382.7h1.2v1.2h-1.2zM414.3 323.1h1.2v1.2h-1.2zM386.0 344.9h1.2v1.2h-1.2zM387.8 342.8h1.2v1.2h-1.2zM349.2 372.7h1.2v1.2h-1.2zM408.5 330.6h1.2v1.2h-1.2zM415.1 325.7h1.2v1.2h-1.2zM366.9 359.5h1.2v1.2h-1.2zM346.8 375.9h1.2v1.2h-1.2zM344.1 379.4h1.2v1.2h-1.2zM378.4 349.7h1.2v1.2h-1.2zM369.7 358.7h1.2v1.2h-1.2zM390.9 341.3h1.2v1.2h-1.2zM358.3 367.3h1.2v1.2h-1.2zM346.5 374.0h1.2v1.2h-1.2zM379.1 349.1h1.2v1.2h-1.2zM375.3 351.5h1.2v1.2h-1.2zM354.0 369.9h1.2v1.2h-1.2zM409.5 330.5h1.2v1.2h-1.2zM401.0 335.8h1.2v1.2h-1.2zM390.9 343.9h1.2v1.2h-1.2zM410.3 330.0h1.2v1.2h-1.2zM343.5 377.6h1.2v1.2h-1.2zM382.5 350.7h1.2v1.2h-1.2zM398.2 334.5h1.2v1.2h-1.2zM398.1 335.4h1.2v1.2h-1.2zM353.5 372.0h1.2v1.2h-1.2zM351.7 372.9h1.2v1.2h-1.2zM407.6 331.7h1.2v1.2h-1.2zM316.5 395.8h1.2v1.2h-1.2zM334.2 386.5h1.2v1.2h-1.2zM331.0 386.7h1.2v1.2h-1.2zM359.3 368.1h1.2v1.2h-1.2zM370.2 357.1h1.2v1.2h-1.2zM407.0 330.2h1.2v1.2h-1.2zM402.0 332.9h1.2v1.2h-1.2zM347.4 374.3h1.2v1.2h-1.2zM342.9 377.8h1.2v1.2h-1.2zM379.2 350.7h1.2v1.2h-1.2zM387.7 342.7h1.2v1.2h-1.2zM367.9 359.1h1.2v1.2h-1.2zM368.2 359.7h1.2v1.2h-1.2zM341.6 376.9h1.2v1.2h-1.2zM353.1 372.9h1.2v1.2h-1.2zM408.8 329.8h1.2v1.2h-1.2zM396.2 336.0h1.2v1.2h-1.2zM351.9 373.3h1.2v1.2h-1.2zM402.1 334.0h1.2v1.2h-1.2zM338.6 383.7h1.2v1.2h-1.2zM388.2 341.9h1.2v1.2h-1.2zM354.4 367.9h1.2v1.2h-1.2zM392.6 342.0h1.2v1.2h-1.2zM391.8 342.5h1.2v1.2h-1.2zM414.2 324.9h1.2v1.2h-1.2zM410.3 330.0h1.2v1.2h-1.2zM350.4 372.8h1.2v1.2h-1.2zM389.5 342.0h1.2v1.2h-1.2zM386.9 345.3h1.2v1.2h-1.2zM365.4 363.6h1.2v1.2h-1.2zM350.3 373.5h1.2v1.2h-1.2zM359.8 365.5h1.2v1.2h-1.2zM321.6 392.3h1.2v1.2h-1.2zM408.7 328.2h1.2v1.2h-1.2zM364.0 364.7h1.2v1.2h-1.2zM322.6 391.8h1.2v1.2h-1.2zM389.1 342.1h1.2v1.2h-1.2zM388.2 343.3h1.2v1.2h-1.2zM342.4 380.5h1.2v1.2h-1.2zM339.8 380.4h1.2v1.2h-1.2zM414.0 326.1h1.2v1.2h-1.2zM353.3 372.0h1.2v1.2h-1.2zM367.9 358.3h1.2v1.2h-1.2zM331.8 388.9h1.2v1.2h-1.2zM386.4 347.8h1.2v1.2h-1.2zM357.6 368.7h1.2v1.2h-1.2zM409.6 328.6h1.2v1.2h-1.2zM399.5 333.5h1.2v1.2h-1.2zM394.3 337.5h1.2v1.2h-1.2zM384.0 349.7h1.2v1.2h-1.2zM405.4 329.7h1.2v1.2h-1.2zM395.7 340.8h1.2v1.2h-1.2zM355.8 366.8h1.2v1.2h-1.2zM378.7 350.9h1.2v1.2h-1.2zM346.3 373.8h1.2v1.2h-1.2zM354.6 368.2h1.2v1.2h-1.2zM346.8 374.9h1.2v1.2h-1.2zM344.6 377.1h1.2v1.2h-1.2zM340.4 379.7h1.2v1.2h-1.2zM348.1 373.5h1.2v1.2h-1.2zM326.8 389.2h1.2v1.2h-1.2zM402.5 333.7h1.2v1.2h-1.2zM385.3 348.2h1.2v1.2h-1.2zM331.6 384.7h1.2v1.2h-1.2zM383.9 346.6h1.2v1.2h-1.2zM389.0 345.7h1.2v1.2h-1.2zM386.2 344.7h1.2v1.2h-1.2zM361.4 365.5h1.2v1.2h-1.2zM409.4 328.7h1.2v1.2h-1.2zM376.5 353.3h1.2v1.2h-1.2zM406.1 328.3h1.2v1.2h-1.2zM370.7 356.2h1.2v1.2h-1.2zM407.2 328.3h1.2v1.2h-1.2zM414.4 325.1h1.2v1.2h-1.2zM374.2 354.6h1.2v1.2h-1.2zM359.4 365.2h1.2v1.2h-1.2zM355.4 370.2h1.2v1.2h-1.2zM412.2 328.4h1.2v1.2h-1.2zM334.1 382.6h1.2v1.2h-1.2zM393.0 340.3h1.2v1.2h-1.2zM413.1 327.1h1.2v1.2h-1.2zM353.5 370.2h1.2v1.2h-1.2zM372.9 357.7h1.2v1.2h-1.2zM412.8 326.3h1.2v1.2h-1.2zM339.9 379.1h1.2v1.2h-1.2zM366.5 360.3h1.2v1.2h-1.2zM335.1 384.7h1.2v1.2h-1.2zM360.4 362.8h1.2v1.2h-1.2zM368.7 356.7h1.2v1.2h-1.2zM404.9 332.9h1.2v1.2h-1.2zM358.3 368.9h1.2v1.2h-1.2zM332.3 385.8h1.2v1.2h-1.2zM365.2 359.5h1.2v1.2h-1.2zM387.4 343.5h1.2v1.2h-1.2zM376.2 353.7h1.2v1.2h-1.2zM396.4 336.3h1.2v1.2h-1.2zM415.2 325.8h1.2v1.2h-1.2zM396.9 335.5h1.2v1.2h-1.2zM389.8 343.7h1.2v1.2h-1.2zM314.1 401.2h1.2v1.2h-1.2zM370.2 355.4h1.2v1.2h-1.2zM372.3 356.8h1.2v1.2h-1.2zM400.8 335.9h1.2v1.2h-1.2zM410.9 326.9h1.2v1.2h-1.2zM317.3 399.0h1.2v1.2h-1.2zM385.1 347.7h1.2v1.2h-1.2zM375.6 351.3h1.2v1.2h-1.2zM379.2 352.5h1.2v1.2h-1.2zM357.3 367.6h1.2v1.2h-1.2zM400.5 336.5h1.2v1.2h-1.2zM399.7 333.9h1.2v1.2h-1.2zM379.0 353.2h1.2v1.2h-1.2zM353.4 368.3h1.2v1.2h-1.2zM406.4 328.8h1.2v1.2h-1.2zM381.2 348.0h1.2v1.2h-1.2zM386.9 346.9h1.2v1.2h-1.2zM409.6 328.9h1.2v1.2h-1.2zM380.7 348.1h1.2v1.2h-1.2zM365.5 362.9h1.2v1.2h-1.2zM355.0 371.4h1.2v1.2h-1.2zM384.7 344.7h1.2v1.2h-1.2zM397.7 335.6h1.2v1.2h-1.2zM360.2 364.3h1.2v1.2h-1.2zM362.2 364.6h1.2v1.2h-1.2zM381.3 348.2h1.2v1.2h-1.2zM373.0 353.5h1.2v1.2h-1.2zM366.2 359.2h1.2v1.2h-1.2zM414.7 324.9h1.2v1.2h-1.2zM331.9 387.4h1.2v1.2h-1.2zM408.6 327.7h1.2v1.2h-1.2zM401.8 332.7h1.2v1.2h-1.2zM383.4 348.5h1.2v1.2h-1.2zM397.1 338.1h1.2v1.2h-1.2zM401.4 332.6h1.2v1.2h-1.2zM373.7 353.7h1.2v1.2h-1.2zM360.6 366.9h1.2v1.2h-1.2zM358.6 368.5h1.2v1.2h-1.2zM363.2 363.4h1.2v1.2h-1.2zM343.2 380.4h1.2v1.2h-1.2zM347.1 373.7h1.2v1.2h-1.2zM354.3 367.7h1.2v1.2h-1.2zM339.2 383.4h1.2v1.2h-1.2zM365.5 363.3h1.2v1.2h-1.2zM382.8 348.2h1.2v1.2h-1.2zM341.9 380.4h1.2v1.2h-1.2zM341.2 377.4h1.2v1.2h-1.2zM376.0 351.9h1.2v1.2h-1.2zM385.9 346.1h1.2v1.2h-1.2zM347.9 376.4h1.2v1.2h-1.2zM408.2 327.8h1.2v1.2h-1.2zM380.7 350.9h1.2v1.2h-1.2zM373.1 357.8h1.2v1.2h-1.2zM377.8 353.1h1.2v1.2h-1.2zM374.6 353.2h1.2v1.2h-1.2zM406.4 328.4h1.2v1.2h-1.2zM377.8 351.3h1.2v1.2h-1.2zM334.4 384.9h1.2v1.2h-1.2zM381.1 347.2h1.2v1.2h-1.2zM386.0 347.7h1.2v1.2h-1.2zM344.9 378.5h1.2v1.2h-1.2zM409.1 329.6h1.2v1.2h-1.2zM392.7 341.7h1.2v1.2h-1.2zM385.9 345.7h1.2v1.2h-1.2zM371.2 355.2h1.2v1.2h-1.2zM322.2 392.6h1.2v1.2h-1.2zM354.6 371.5h1.2v1.2h-1.2zM353.1 369.7h1.2v1.2h-1.2zM391.9 342.7h1.2v1.2h-1.2zM388.0 345.5h1.2v1.2h-1.2zM385.2 346.5h1.2v1.2h-1.2zM351.1 371.8h1.2v1.2h-1.2zM380.2 350.6h1.2v1.2h-1.2zM383.5 350.0h1.2v1.2h-1.2zM345.6 375.7h1.2v1.2h-1.2zM351.7 370.8h1.2v1.2h-1.2zM331.9 386.7h1.2v1.2h-1.2zM414.8 326.3h1.2v1.2h-1.2zM370.4 359.8h1.2v1.2h-1.2zM411.6 328.8h1.2v1.2h-1.2zM371.7 354.8h1.2v1.2h-1.2zM406.6 329.6h1.2v1.2h-1.2zM317.1 398.0h1.2v1.2h-1.2zM336.2 382.9h1.2v1.2h-1.2zM343.5 378.5h1.2v1.2h-1.2zM356.3 370.4h1.2v1.2h-1.2z" fill="#e7ff00"/>
<path d="M337.2 405.5h1.2v1.2h-1.2zM329.5 414.8h1.2v1.2h-1.2zM286.4 446.0h1.2v1.2h-1.2zM331.5 410.3h1.2v1.2h-1.2zM307.0 428.8h1.2v1.2h-1.2zM408.8 352.9h1.2v1.2h-1.2zM359.2 391.8h1.2v1.2h-1.2zM417.3 344.4h1.2v1.2h-1.2zM351.5 396.1h1.2v1.2h-1.2zM316.7 419.9h1.2v1.2h-1.2zM316.1 421.9h1.2v1.2h-1.2zM354.3 395.6h1.2v1.2h-1.2zM391.3 368.6h1.2v1.2h-1.2zM318.9 422.7h1.2v1.2h-1.2zM375.5 376.9h1.2v1.2h-1.2zM365.1 384.2h1.2v1.2h-1.2zM367.7 384.8h1.2v1.2h-1.2zM327.5 412.3h1.2v1.2h-1.2zM314.4 425.6h1.2v1.2h-1.2zM319.3 421.6h1.2v1.2h-1.2zM395.9 363.5h1.2v1.2h-1.2zM342.2 403.4h1.2v1.2h-1.2zM339.1 404.5h1.2v1.2h-1.2zM345.9 400.7h1.2v1.2h-1.2zM416.2 347.2h1.2v1.2h-1.2zM307.3 431.0h1.2v1.2h-1.2zM375.7 376.5h1.2v1.2h-1.2zM305.0 432.8h1.2v1.2h-1.2zM343.2 402.3h1.2v1.2h-1.2zM377.1 378.8h1.2v1.2h-1.2zM391.9 368.1h1.2v1.2h-1.2zM331.2 412.4h1.2v1.2h-1.2zM344.2 403.9h1.2v1.2h-1.2zM386.0 367.9h1.2v1.2h-1.2zM389.7 364.9h1.2v1.2h-1.2zM422.3 340.5h1.2v1.2h-1.2zM279.4 450.6h1.2v1.2h-1.2zM360.7 388.5h1.2v1.2h-1.2zM368.3 385.8h1.2v1.2h-1.2zM340.5 402.5h1.2v1.2h-1.2zM314.8 425.9h1.2v1.2h-1.2zM319.4 419.4h1.2v1.2h-1.2zM330.7 410.5h1.2v1.2h-1.2zM319.3 418.9h1.2v1.2h-1.2zM387.1 367.8h1.2v1.2h-1.2zM312.2 428.0h1.2v1.2h-1.2zM400.7 358.9h1.2v1.2h-1.2zM342.9 403.1h1.2v1.2h-1.2zM336.1 407.2h1.2v1.2h-1.2zM346.0 398.5h1.2v1.2h-1.2zM356.0 395.1h1.2v1.2h-1.2zM320.2 418.2h1.2v1.2h-1.2zM351.0 394.8h1.2v1.2h-1.2zM380.8 372.2h1.2v1.2h-1.2zM367.0 386.7h1.2v1.2h-1.2zM337.8 406.7h1.2v1.2h-1.2zM390.9 365.9h1.2v1.2h-1.2zM327.6 413.4h1.2v1.2h-1.2zM283.4 448.2h1.2v1.2h-1.2zM295.7 438.1h1.2v1.2h-1.2zM404.9 355.7h1.2v1.2h-1.2zM395.6 364.4h1.2v1.2h-1.2zM365.6 387.4h1.2v1.2h-1.2zM352.1 398.0h1.2v1.2h-1.2zM327.1 416.0h1.2v1.2h-1.2zM381.4 371.3h1.2v1.2h-1.2zM365.6 384.0h1.2v1.2h-1.2zM352.4 397.7h1.2v1.2h-1.2zM336.9 404.9h1.2v1.2h-1.2zM309.2 427.7h1.2v1.2h-1.2zM341.5 404.3h1.2v1.2h-1.2zM425.1 342.1h1.2v1.2h-1.2zM324.0 418.3h1.2v1.2h-1.2zM415.1 346.3h1.2v1.2h-1.2zM303.3 431.9h1.2v1.2h-1.2zM287.2 445.5h1.2v1.2h-1.2zM371.0 379.1h1.2v1.2h-1.2zM339.5 402.9h1.2v1.2h-1.2zM378.0 374.9h1.2v1.2h-1.2zM385.5 371.3h1.2v1.2h-1.2zM287.0 445.0h1.2v1.2h-1.2zM373.8 380.5h1.2v1.2h-1.2zM319.3 421.7h1.2v1.2h-1.2zM408.8 351.8h1.2v1.2h-1.2zM318.9 421.6h1.2v1.2h-1.2zM277.6 450.6h1.2v1.2h-1.2zM317.8 422.9h1.2v1.2h-1.2zM357.3 389.5h1.2v1.2h-1.2zM396.3 363.9h1.2v1.2h-1.2zM333.5 411.5h1.2v1.2h-1.2zM348.6 396.9h1.2v1.2h-1.2zM336.4 405.6h1.2v1.2h-1.2zM322.9 415.3h1.2v1.2h-1.2zM381.2 371.7h1.2v1.2h-1.2zM381.5 375.6h1.2v1.2h-1.2zM423.3 342.4h1.2v1.2h-1.2zM344.6 400.4h1.2v1.2h-1.2zM349.0 399.6h1.2v1.2h-1.2zM314.6 424.3h1.2v1.2h-1.2zM290.2 442.6h1.2v1.2h-1.2zM398.7 358.8h1.2v1.2h-1.2zM315.9 423.1h1.2v1.2h-1.2zM320.9 419.8h1.2v1.2h-1.2zM320.8 417.3h1.2v1.2h-1.2zM331.9 411.6h1.2v1.2h-1.2zM332.3 409.2h1.2v1.2h-1.2zM323.3 419.5h1.2v1.2h-1.2zM351.0 395.0h1.2v1.2h-1.2zM334.3 409.9h1.2v1.2h-1.2zM355.2 393.7h1.2v1.2h-1.2zM374.5 379.5h1.2v1.2h-1.2zM381.3 375.5h1.2v1.2h-1.2zM319.0 420.1h1.2v1.2h-1.2zM410.0 350.6h1.2v1.2h-1.2zM387.3 368.1h1.2v1.2h-1.2zM380.3 376.6h1.2v1.2h-1.2zM331.6 411.0h1.2v1.2h-1.2zM341.5 402.3h1.2v1.2h-1.2zM290.2 440.1h1.2v1.2h-1.2zM403.4 357.5h1.2v1.2h-1.2zM368.4 382.5h1.2v1.2h-1.2zM366.5 385.3h1.2v1.2h-1.2zM409.4 351.8h1.2v1.2h-1.2zM424.9 339.5h1.2v1.2h-1.2zM347.7 400.6h1.2v1.2h-1.2zM310.5 428.8h1.2v1.2h-1.2zM329.3 413.4h1.2v1.2h-1.2zM357.2 393.1h1.2v1.2h-1.2zM309.2 427.7h1.2v1.2h-1.2zM346.6 401.0h1.2v1.2h-1.2zM337.6 407.2h1.2v1.2h-1.2zM363.0 386.3h1.2v1.2h-1.2zM415.3 346.8h1.2v1.2h-1.2zM310.3 427.2h1.2v1.2h-1.2zM373.3 380.0h1.2v1.2h-1.2zM327.6 413.7h1.2v1.2h-1.2zM406.6 352.8h1.2v1.2h-1.2zM337.8 406.6h1.2v1.2h-1.2zM332.2 412.6h1.2v1.2h-1.2zM349.7 396.5h1.2v1.2h-1.2zM337.9 407.9h1.2v1.2h-1.2zM310.4 427.0h1.2v1.2h-1.2zM330.0 413.8h1.2v1.2h-1.2zM304.8 433.2h1.2v1.2h-1.2zM366.0 386.0h1.2v1.2h-1.2zM336.9 408.5h1.2v1.2h-1.2zM338.0 407.4h1.2v1.2h-1.2zM318.4 419.2h1.2v1.2h-1.2zM363.3 388.3h1.2v1.2h-1.2zM320.6 417.5h1.2v1.2h-1.2zM302.1 434.8h1.2v1.2h-1.2zM306.4 429.2h1.2v1.2h-1.2zM383.8 371.3h1.2v1.2h-1.2zM346.7 401.0h1.2v1.2h-1.2zM299.2 437.2h1.2v1.2h-1.2zM339.5 405.2h1.2v1.2h-1.2zM333.6 409.2h1.2v1.2h-1.2zM279.2 451.4h1.2v1.2h-1.2zM328.4 415.2h1.2v1.2h-1.2zM342.7 400.4h1.2v1.2h-1.2zM350.7 396.1h1.2v1.2h-1.2zM300.8 433.5h1.2v1.2h-1.2zM338.8 404.1h1.2v1.2h-1.2zM355.6 394.0h1.2v1.2h-1.2zM343.5 404.3h1.2v1.2h-1.2zM382.4 372.9h1.2v1.2h-1.2zM418.9 345.5h1.2v1.2h-1.2zM304.3 431.2h1.2v1.2h-1.2zM346.7 398.6h1.2v1.2h-1.2zM324.0 418.2h1.2v1.2h-1.2zM356.1 393.1h1.2v1.2h-1.2zM329.9 412.0h1.2v1.2h-1.2zM347.4 398.6h1.2v1.2h-1.2zM349.8 398.7h1.2v1.2h-1.2zM336.6 406.2h1.2v1.2h-1.2zM354.2 394.9h1.2v1.2h-1.2zM330.4 412.7h1.2v1.2h-1.2zM324.7 416.4h1.2v1.2h-1.2zM278.8 449.3h1.2v1.2h-1.2zM291.6 440.9h1.2v1.2h-1.2zM380.6 376.4h1.2v1.2h-1.2zM388.2 366.6h1.2v1.2h-1.2zM310.6 428.0h1.2v1.2h-1.2zM392.1 366.5h1.2v1.2h-1.2zM353.9 392.0h1.2v1.2h-1.2zM331.9 412.6h1.2v1.2h-1.2zM294.3 436.8h1.2v1.2h-1.2zM344.8 399.5h1.2v1.2h-1.2zM372.3 378.7h1.2v1.2h-1.2zM382.1 375.4h1.2v1.2h-1.2zM343.9 402.8h1.2v1.2h-1.2zM276.5 454.3h1.2v1.2h-1.2zM305.9 428.6h1.2v1.2h-1.2zM410.0 352.9h1.2v1.2h-1.2zM374.8 376.5h1.2v1.2h-1.2zM303.1 431.2h1.2v1.2h-1.2zM340.6 404.8h1.2v1.2h-1.2zM288.0 442.2h1.2v1.2h-1.2zM420.2 346.3h1.2v1.2h-1.2zM318.8 418.6h1.2v1.2h-1.2zM380.5 375.8h1.2v1.2h-1.2zM292.0 440.2h1.2v1.2h-1.2zM392.6 363.9h1.2v1.2h-1.2zM315.1 424.0h1.2v1.2h-1.2zM348.8 400.4h1.2v1.2h-1.2zM310.6 426.9h1.2v1.2h-1.2zM380.5 373.9h1.2v1.2h-1.2zM360.0 390.5h1.2v1.2h-1.2zM337.1 407.4h1.2v1.2h-1.2zM372.4 382.4h1.2v1.2h-1.2zM365.7 387.5h1.2v1.2h-1.2zM299.0 437.9h1.2v1.2h-1.2zM342.5 402.3h1.2v1.2h-1.2zM353.4 395.7h1.2v1.2h-1.2zM388.3 366.8h1.2v1.2h-1.2zM298.5 434.4h1.2v1.2h-1.2zM335.6 406.3h1.2v1.2h-1.2zM344.0 403.8h1.2v1.2h-1.2zM356.5 393.0h1.2v1.2h-1.2zM333.5 407.2h1.2v1.2h-1.2zM355.4 392.2h1.2v1.2h-1.2zM318.5 422.5h1.2v1.2h-1.2zM361.8 390.1h1.2v1.2h-1.2zM305.7 429.9h1.2v1.2h-1.2zM334.8 411.0h1.2v1.2h-1.2zM403.3 355.4h1.2v1.2h-1.2zM380.0 374.6h1.2v1.2h-1.2zM330.4 410.5h1.2v1.2h-1.2zM361.4 387.7h1.2v1.2h-1.2zM344.3 400.8h1.2v1.2h-1.2zM310.7 427.6h1.2v1.2h-1.2zM345.3 400.6h1.2v1.2h-1.2zM407.5 354.5h1.2v1.2h-1.2zM344.4 403.6h1.2v1.2h-1.2zM358.8 391.1h1.2v1.2h-1.2zM398.6 362.7h1.2v1.2h-1.2zM386.7 371.6h1.2v1.2h-1.2zM330.1 410.0h1.2v1.2h-1.2zM364.2 385.0h1.2v1.2h-1.2zM308.5 428.4h1.2v1.2h-1.2zM355.4 394.2h1.2v1.2h-1.2zM329.9 410.1h1.2v1.2h-1.2zM383.3 370.8h1.2v1.2h-1.2zM305.8 428.0h1.2v1.2h-1.2zM347.1 397.3h1.2v1.2h-1.2zM319.5 421.7h1.2v1.2h-1.2zM352.4 394.0h1.2v1.2h-1.2zM428.3 336.0h1.2v1.2h-1.2zM281.3 449.0h1.2v1.2h-1.2zM281.9 447.9h1.2v1.2h-1.2zM388.6 368.7h1.2v1.2h-1.2zM341.8 403.9h1.2v1.2h-1.2zM314.0 423.6h1.2v1.2h-1.2zM363.7 387.3h1.2v1.2h-1.2zM381.0 376.0h1.2v1.2h-1.2zM379.8 374.1h1.2v1.2h-1.2zM395.1 365.7h1.2v1.2h-1.2zM413.9 347.1h1.2v1.2h-1.2zM331.8 412.4h1.2v1.2h-1.2zM359.4 390.5h1.2v1.2h-1.2zM375.7 379.6h1.2v1.2h-1.2zM329.2 413.4h1.2v1.2h-1.2zM295.4 440.5h1.2v1.2h-1.2zM352.7 394.5h1.2v1.2h-1.2zM307.4 431.1h1.2v1.2h-1.2zM281.7 449.5h1.2v1.2h-1.2zM352.2 394.1h1.2v1.2h-1.2zM375.7 378.2h1.2v1.2h-1.2zM335.6 408.0h1.2v1.2h-1.2zM389.8 366.5h1.2v1.2h-1.2zM379.9 376.5h1.2v1.2h-1.2zM328.7 414.5h1.2v1.2h-1.2zM275.1 454.7h1.2v1.2h-1.2zM302.9 434.0h1.2v1.2h-1.2zM340.6 406.5h1.2v1.2h-1.2zM325.5 416.3h1.2v1.2h-1.2zM341.4 403.0h1.2v1.2h-1.2zM315.4 425.1h1.2v1.2h-1.2zM346.2 400.9h1.2v1.2h-1.2zM330.9 411.5h1.2v1.2h-1.2zM371.6 380.3h1.2v1.2h-1.2zM366.8 382.3h1.2v1.2h-1.2zM383.5 371.7h1.2v1.2h-1.2zM374.5 376.9h1.2v1.2h-1.2zM352.2 396.5h1.2v1.2h-1.2zM362.3 389.5h1.2v1.2h-1.2zM321.9 418.5h1.2v1.2h-1.2zM303.3 434.1h1.2v1.2h-1.2zM360.4 387.2h1.2v1.2h-1.2zM344.6 400.2h1.2v1.2h-1.2zM353.3 394.0h1.2v1.2h-1.2zM312.1 427.0h1.2v1.2h-1.2zM402.0 356.6h1.2v1.2h-1.2zM351.1 397.9h1.2v1.2h-1.2zM332.4 410.0h1.2v1.2h-1.2zM302.8 435.1h1.2v1.2h-1.2zM400.4 360.9h1.2v1.2h-1.2zM322.5 416.1h1.2v1.2h-1.2zM311.0 427.5h1.2v1.2h-1.2zM294.4 440.8h1.2v1.2h-1.2zM354.1 392.1h1.2v1.2h-1.2zM323.6 417.1h1.2v1.2h-1.2zM305.9 427.9h1.2v1.2h-1.2zM377.1 375.9h1.2v1.2h-1.2zM403.7 355.2h1.2v1.2h-1.2zM357.4 391.8h1.2v1.2h-1.2zM396.0 360.5h1.2v1.2h-1.2zM369.6 381.4h1.2v1.2h-1.2zM309.4 428.6h1.2v1.2h-1.2zM365.9 383.8h1.2v1.2h-1.2zM393.9 364.4h1.2v1.2h-1.2zM373.7 377.2h1.2v1.2h-1.2zM359.1 391.3h1.2v1.2h-1.2zM335.0 407.2h1.2v1.2h-1.2zM418.0 347.5h1.2v1.2h-1.2zM283.5 445.0h1.2v1.2h-1.2zM316.9 421.2h1.2v1.2h-1.2zM366.6 386.5h1.2v1.2h-1.2zM343.0 403.6h1.2v1.2h-1.2zM283.2 445.6h1.2v1.2h-1.2zM311.9 424.7h1.2v1.2h-1.2zM369.0 380.8h1.2v1.2h-1.2zM282.9 447.4h1.2v1.2h-1.2zM347.0 400.0h1.2v1.2h-1.2zM321.9 418.0h1.2v1.2h-1.2zM295.6 439.3h1.2v1.2h-1.2zM382.4 371.6h1.2v1.2h-1.2zM320.7 419.2h1.2v1.2h-1.2zM316.3 422.1h1.2v1.2h-1.2zM324.8 414.5h1.2v1.2h-1.2zM360.6 388.1h1.2v1.2h-1.2zM364.8 386.3h1.2v1.2h-1.2zM303.1 433.5h1.2v1.2h-1.2zM364.8 387.9h1.2v1.2h-1.2zM370.4 383.8h1.2v1.2h-1.2zM381.2 371.6h1.2v1.2h-1.2zM413.3 348.1h1.2v1.2h-1.2zM298.8 437.3h1.2v1.2h-1.2zM350.1 397.4h1.2v1.2h-1.2zM354.7 393.0h1.2v1.2h-1.2zM385.2 371.7h1.2v1.2h-1.2zM332.6 408.4h1.2v1.2h-1.2zM390.4 367.1h1.2v1.2h-1.2zM386.0 369.3h1.2v1.2h-1.2zM351.4 395.2h1.2v1.2h-1.2zM348.2 400.3h1.2v1.2h-1.2zM339.8 406.5h1.2v1.2h-1.2zM300.3 436.9h1.2v1.2h-1.2zM309.4 429.7h1.2v1.2h-1.2zM305.5 432.4h1.2v1.2h-1.2zM375.3 378.4h1.2v1.2h-1.2zM399.7 360.6h1.2v1.2h-1.2zM343.0 400.2h1.2v1.2h-1.2zM348.3 398.1h1.2v1.2h-1.2zM376.0 378.1h1.2v1.2h-1.2zM328.6 411.1h1.2v1.2h-1.2zM354.0 394.6h1.2v1.2h-1.2zM359.9 391.5h1.2v1.2h-1.2zM302.8 431.0h1.2v1.2h-1.2zM414.5 350.4h1.2v1.2h-1.2zM295.9 439.1h1.2v1.2h-1.2zM291.3 443.6h1.2v1.2h-1.2zM353.0 393.3h1.2v1.2h-1.2zM398.4 358.9h1.2v1.2h-1.2zM361.0 389.3h1.2v1.2h-1.2zM412.8 351.2h1.2v1.2h-1.2zM357.2 389.7h1.2v1.2h-1.2zM282.1 450.3h1.2v1.2h-1.2zM337.4 408.8h1.2v1.2h-1.2zM347.6 400.6h1.2v1.2h-1.2zM295.1 438.2h1.2v1.2h-1.2zM353.3 397.1h1.2v1.2h-1.2zM341.6 402.1h1.2v1.2h-1.2zM385.5 372.6h1.2v1.2h-1.2zM404.8 354.9h1.2v1.2h-1.2zM374.5 377.2h1.2v1.2h-1.2zM362.9 389.8h1.2v1.2h-1.2zM341.5 404.3h1.2v1.2h-1.2zM383.6 371.3h1.2v1.2h-1.2zM336.0 405.6h1.2v1.2h-1.2zM278.2 450.2h1.2v1.2h-1.2zM355.5 392.9h1.2v1.2h-1.2zM349.0 396.2h1.2v1.2h-1.2zM317.1 422.2h1.2v1.2h-1.2zM314.3 423.0h1.2v1.2h-1.2zM360.8 388.0h1.2v1.2h-1.2zM365.8 384.6h1.2v1.2h-1.2zM380.4 374.1h1.2v1.2h-1.2zM348.8 400.1h1.2v1.2h-1.2zM395.5 361.3h1.2v1.2h-1.2zM374.3 376.9h1.2v1.2h-1.2zM289.4 443.4h1.2v1.2h-1.2zM355.9 391.7h1.2v1.2h-1.2zM423.5 339.6h1.2v1.2h-1.2zM295.0 439.8h1.2v1.2h-1.2zM381.7 375.2h1.2v1.2h-1.2zM401.5 359.4h1.2v1.2h-1.2zM352.0 396.8h1.2v1.2h-1.2zM317.7 419.8h1.2v1.2h-1.2zM351.1 398.7h1.2v1.2h-1.2zM301.5 435.5h1.2v1.2h-1.2zM327.0 412.4h1.2v1.2h-1.2zM375.9 379.1h1.2v1.2h-1.2zM411.1 349.2h1.2v1.2h-1.2zM294.8 439.7h1.2v1.2h-1.2zM378.7 375.5h1.2v1.2h-1.2zM360.2 389.7h1.2v1.2h-1.2zM363.9 385.3h1.2v1.2h-1.2zM385.3 370.0h1.2v1.2h-1.2zM314.9 425.3h1.2v1.2h-1.2zM352.0 397.7h1.2v1.2h-1.2zM372.6 377.9h1.2v1.2h-1.2zM290.1 444.2h1.2v1.2h-1.2zM327.3 413.4h1.2v1.2h-1.2zM404.6 354.9h1.2v1.2h-1.2zM311.3 427.2h1.2v1.2h-1.2zM366.0 384.6h1.2v1.2h-1.2zM415.5 350.2h1.2v1.2h-1.2zM309.8 429.3h1.2v1.2h-1.2zM320.0 419.1h1.2v1.2h-1.2zM350.1 399.4h1.2v1.2h-1.2zM315.9 423.7h1.2v1.2h-1.2zM360.5 387.1h1.2v1.2h-1.2zM334.2 407.7h1.2v1.2h-1.2zM367.3 383.5h1.2v1.2h-1.2zM394.8 361.5h1.2v1.2h-1.2zM412.4 348.7h1.2v1.2h-1.2zM349.0 398.5h1.2v1.2h-1.2zM297.0 435.0h1.2v1.2h-1.2zM303.1 430.9h1.2v1.2h-1.2zM355.9 391.9h1.2v1.2h-1.2zM344.9 402.8h1.2v1.2h-1.2zM339.8 406.4h1.2v1.2h-1.2zM330.9 413.0h1.2v1.2h-1.2zM305.9 429.2h1.2v1.2h-1.2zM325.4 414.9h1.2v1.2h-1.2zM342.5 402.3h1.2v1.2h-1.2zM393.8 363.2h1.2v1.2h-1.2zM375.7 376.4h1.2v1.2h-1.2zM309.1 428.0h1.2v1.2h-1.2zM372.5 380.9h1.2v1.2h-1.2zM397.5 361.6h1.2v1.2h-1.2zM302.9 432.7h1.2v1.2h-1.2zM365.7 385.7h1.2v1.2h-1.2zM355.7 391.7h1.2v1.2h-1.2zM324.5 414.6h1.2v1.2h-1.2zM278.6 452.7h1.2v1.2h-1.2zM372.4 378.5h1.2v1.2h-1.2zM364.8 387.1h1.2v1.2h-1.2zM337.9 403.9h1.2v1.2h-1.2zM338.5 407.9h1.2v1.2h-1.2zM366.0 384.5h1.2v1.2h-1.2zM334.8 408.5h1.2v1.2h-1.2zM318.7 421.9h1.2v1.2h-1.2zM357.3 391.0h1.2v1.2h-1.2zM429.6 335.6h1.2v1.2h-1.2zM308.0 431.1h1.2v1.2h-1.2zM324.1 418.1h1.2v1.2h-1.2zM363.7 384.6h1.2v1.2h-1.2zM351.3 396.1h1.2v1.2h-1.2zM371.5 381.8h1.2v1.2h-1.2zM299.8 436.6h1.2v1.2h-1.2zM412.1 351.4h1.2v1.2h-1.2zM290.6 444.2h1.2v1.2h-1.2zM349.5 395.5h1.2v1.2h-1.2zM339.7 404.2h1.2v1.2h-1.2zM387.1 367.4h1.2v1.2h-1.2zM354.6 391.8h1.2v1.2h-1.2zM335.0 410.3h1.2v1.2h-1.2zM346.7 397.4h1.2v1.2h-1.2zM424.1 339.4h1.2v1.2h-1.2zM413.4 348.0h1.2v1.2h-1.2zM405.7 355.4h1.2v1.2h-1.2zM301.5 432.5h1.2v1.2h-1.2zM342.3 402.9h1.2v1.2h-1.2zM349.8 395.4h1.2v1.2h-1.2zM337.7 405.9h1.2v1.2h-1.2zM319.4 421.1h1.2v1.2h-1.2zM298.0 435.5h1.2v1.2h-1.2zM346.4 399.4h1.2v1.2h-1.2zM409.8 352.3h1.2v1.2h-1.2zM341.2 406.2h1.2v1.2h-1.2zM399.6 361.4h1.2v1.2h-1.2zM381.1 374.1h1.2v1.2h-1.2zM329.1 413.8h1.2v1.2h-1.2zM398.1 359.1h1.2v1.2h-1.2zM378.9 377.2h1.2v1.2h-1.2zM356.6 393.7h1.2v1.2h-1.2zM319.5 417.7h1.2v1.2h-1.2zM296.9 434.7h1.2v1.2h-1.2zM403.0 356.7h1.2v1.2h-1.2zM421.5 342.3h1.2v1.2h-1.2zM367.7 383.6h1.2v1.2h-1.2zM341.1 406.0h1.2v1.2h-1.2zM368.6 382.6h1.2v1.2h-1.2zM318.9 418.9h1.2v1.2h-1.2zM350.3 396.4h1.2v1.2h-1.2zM301.5 432.6h1.2v1.2h-1.2zM360.6 389.7h1.2v1.2h-1.2zM367.2 385.9h1.2v1.2h-1.2zM321.2 418.1h1.2v1.2h-1.2zM346.9 400.6h1.2v1.2h-1.2zM356.6 391.9h1.2v1.2h-1.2zM339.8 404.4h1.2v1.2h-1.2zM353.4 395.4h1.2v1.2h-1.2zM309.3 426.7h1.2v1.2h-1.2zM383.8 370.3h1.2v1.2h-1.2zM368.2 383.5h1.2v1.2h-1.2zM409.9 354.3h1.2v1.2h-1.2zM328.6 413.7h1.2v1.2h-1.2zM312.5 427.6h1.2v1.2h-1.2zM273.0 452.7h1.2v1.2h-1.2zM375.6 376.2h1.2v1.2h-1.2zM308.8 428.2h1.2v1.2h-1.2zM355.4 395.3h1.2v1.2h-1.2zM373.5 378.5h1.2v1.2h-1.2zM371.6 379.7h1.2v1.2h-1.2zM380.7 375.1h1.2v1.2h-1.2zM395.3 362.1h1.2v1.2h-1.2zM328.8 411.8h1.2v1.2h-1.2zM392.9 364.9h1.2v1.2h-1.2zM322.3 419.9h1.2v1.2h-1.2zM401.9 356.4h1.2v1.2h-1.2zM323.6 416.6h1.2v1.2h-1.2zM329.4 412.9h1.2v1.2h-1.2zM424.4 343.5h1.2v1.2h-1.2zM288.8 442.9h1.2v1.2h-1.2zM343.8 403.3h1.2v1.2h-1.2zM373.5 379.3h1.2v1.2h-1.2zM417.0 349.0h1.2v1.2h-1.2zM389.4 366.4h1.2v1.2h-1.2zM382.2 374.9h1.2v1.2h-1.2zM384.7 371.4h1.2v1.2h-1.2zM393.4 363.2h1.2v1.2h-1.2zM380.5 375.4h1.2v1.2h-1.2zM426.6 339.7h1.2v1.2h-1.2zM346.2 399.8h1.2v1.2h-1.2zM278.2 453.4h1.2v1.2h-1.2zM411.0 349.2h1.2v1.2h-1.2zM324.0 414.8h1.2v1.2h-1.2zM405.6 354.1h1.2v1.2h-1.2zM361.1 389.2h1.2v1.2h-1.2zM381.9 371.5h1.2v1.2h-1.2zM340.6 403.3h1.2v1.2h-1.2zM325.6 413.8h1.2v1.2h-1.2zM387.7 369.8h1.2v1.2h-1.2zM386.8 369.0h1.2v1.2h-1.2zM360.9 386.7h1.2v1.2h-1.2zM358.7 389.2h1.2v1.2h-1.2zM356.0 392.0h1.2v1.2h-1.2zM340.0 403.0h1.2v1.2h-1.2zM280.5 448.9h1.2v1.2h-1.2zM312.9 427.1h1.2v1.2h-1.2zM314.5 422.7h1.2v1.2h-1.2zM352.0 395.6h1.2v1.2h-1.2zM381.6 374.0h1.2v1.2h-1.2zM343.9 403.0h1.2v1.2h-1.2zM376.7 375.7h1.2v1.2h-1.2zM401.0 357.8h1.2v1.2h-1.2zM340.1 403.2h1.2v1.2h-1.2zM365.9 383.0h1.2v1.2h-1.2zM280.9 451.1h1.2v1.2h-1.2zM407.7 353.8h1.2v1.2h-1.2zM403.2 358.6h1.2v1.2h-1.2zM329.7 411.0h1.2v1.2h-1.2zM393.0 366.6h1.2v1.2h-1.2zM384.1 372.9h1.2v1.2h-1.2zM407.6 353.4h1.2v1.2h-1.2zM328.2 413.4h1.2v1.2h-1.2zM316.5 422.3h1.2v1.2h-1.2zM377.5 378.6h1.2v1.2h-1.2zM296.2 437.5h1.2v1.2h-1.2zM332.8 410.0h1.2v1.2h-1.2zM334.0 407.0h1.2v1.2h-1.2zM386.2 369.8h1.2v1.2h-1.2zM350.7 397.8h1.2v1.2h-1.2zM355.5 391.9h1.2v1.2h-1.2zM277.6 450.1h1.2v1.2h-1.2zM326.6 415.7h1.2v1.2h-1.2zM334.6 408.6h1.2v1.2h-1.2zM334.7 409.7h1.2v1.2h-1.2zM350.1 397.8h1.2v1.2h-1.2zM304.6 431.6h1.2v1.2h-1.2zM396.2 364.1h1.2v1.2h-1.2zM312.7 425.6h1.2v1.2h-1.2zM327.9 414.0h1.2v1.2h-1.2zM346.3 400.9h1.2v1.2h-1.2zM321.4 418.3h1.2v1.2h-1.2zM298.5 435.5h1.2v1.2h-1.2zM346.5 398.9h1.2v1.2h-1.2zM322.0 418.4h1.2v1.2h-1.2zM354.0 395.4h1.2v1.2h-1.2zM373.4 377.3h1.2v1.2h-1.2zM381.2 374.7h1.2v1.2h-1.2zM389.1 366.3h1.2v1.2h-1.2zM324.3 414.9h1.2v1.2h-1.2zM365.1 385.2h1.2v1.2h-1.2zM359.7 392.2h1.2v1.2h-1.2zM336.9 405.5h1.2v1.2h-1.2zM368.7 383.5h1.2v1.2h-1.2zM294.1 440.3h1.2v1.2h-1.2zM307.4 430.4h1.2v1.2h-1.2zM398.7 361.1h1.2v1.2h-1.2zM344.1 403.7h1.2v1.2h-1.2zM345.6 399.1h1.2v1.2h-1.2zM369.9 382.6h1.2v1.2h-1.2zM388.9 365.6h1.2v1.2h-1.2zM383.8 372.0h1.2v1.2h-1.2zM297.6 436.3h1.2v1.2h-1.2zM334.0 410.4h1.2v1.2h-1.2zM355.1 392.5h1.2v1.2h-1.2zM357.4 393.1h1.2v1.2h-1.2zM421.6 343.1h1.2v1.2h-1.2zM290.3 441.7h1.2v1.2h-1.2zM377.8 374.0h1.2v1.2h-1.2zM281.9 448.4h1.2v1.2h-1.2zM343.9 399.7h1.2v1.2h-1.2zM352.7 395.1h1.2v1.2h-1.2zM356.6 392.2h1.2v1.2h-1.2zM311.0 425.9h1.2v1.2h-1.2zM345.6 398.6h1.2v1.2h-1.2zM347.5 397.4h1.2v1.2h-1.2zM383.5 370.3h1.2v1.2h-1.2zM328.1 414.5h1.2v1.2h-1.2zM383.1 372.1h1.2v1.2h-1.2zM335.2 406.9h1.2v1.2h-1.2zM349.5 396.1h1.2v1.2h-1.2zM357.7 393.0h1.2v1.2h-1.2zM318.0 419.5h1.2v1.2h-1.2zM391.1 366.0h1.2v1.2h-1.2zM349.8 398.5h1.2v1.2h-1.2zM339.8 403.6h1.2v1.2h-1.2zM266.5 461.7h1.2v1.2h-1.2zM339.7 405.0h1.2v1.2h-1.2zM389.6 366.3h1.2v1.2h-1.2zM352.0 397.2h1.2v1.2h-1.2zM375.1 376.3h1.2v1.2h-1.2zM284.4 444.1h1.2v1.2h-1.2zM390.2 364.9h1.2v1.2h-1.2zM329.2 412.7h1.2v1.2h-1.2zM336.5 407.8h1.2v1.2h-1.2zM286.0 446.1h1.2v1.2h-1.2zM329.3 412.4h1.2v1.2h-1.2zM325.7 417.4h1.2v1.2h-1.2zM318.7 420.4h1.2v1.2h-1.2zM395.3 363.2h1.2v1.2h-1.2zM392.2 365.9h1.2v1.2h-1.2zM327.7 415.6h1.2v1.2h-1.2zM371.6 382.1h1.2v1.2h-1.2zM408.0 353.9h1.2v1.2h-1.2zM345.5 398.6h1.2v1.2h-1.2zM338.6 406.2h1.2v1.2h-1.2zM379.7 373.8h1.2v1.2h-1.2zM407.4 351.7h1.2v1.2h-1.2zM374.6 378.4h1.2v1.2h-1.2zM329.7 413.3h1.2v1.2h-1.2zM356.1 393.9h1.2v1.2h-1.2zM376.2 376.6h1.2v1.2h-1.2zM349.8 396.3h1.2v1.2h-1.2zM327.5 412.4h1.2v1.2h-1.2zM308.0 426.7h1.2v1.2h-1.2z" fill="#18ff00"/>
<path d="M367.9 338.2h1.2v1.2h-1.2zM381.7 329.3h1.2v1.2h-1.2zM345.5 357.1h1.2v1.2h-1.2zM380.7 330.4h1.2v1.2h-1.2zM355.7 350.5h1.2v1.2h-1.2zM362.1 346.1h1.2v1.2h-1.2zM363.5 343.3h1.2v1.2h-1.2zM356.0 350.2h1.2v1.2h-1.2zM369.6 338.4h1.2v1.2h-1.2zM349.1 354.8h1.2v1.2h-1.2zM352.9 349.9h1.2v1.2h-1.2zM342.9 361.1h1.2v1.2h-1.2zM373.5 336.2h1.2v1.2h-1.2zM380.5 330.4h1.2v1.2h-1.2zM378.4 333.5h1.2v1.2h-1.2zM374.7 335.1h1.2v1.2h-1.2zM352.6 351.1h1.2v1.2h-1.2zM361.6 347.1h1.2v1.2h-1.2zM376.1 335.0h1.2v1.2h-1.2zM351.9 352.4h1.2v1.2h-1.2zM358.8 346.0h1.2v1.2h-1.2zM353.0 351.9h1.2v1.2h-1.2zM375.6 333.2h1.2v1.2h-1.2zM382.8 329.3h1.2v1.2h-1.2zM377.7 333.2h1.2v1.2h-1.2zM361.8 344.7h1.2v1.2h-1.2zM380.7 331.5h1.2v1.2h-1.2zM379.8 333.0h1.2v1.2h-1.2zM386.3 325.2h1.2v1.2h-1.2zM381.9 329.4h1.2v1.2h-1.2zM351.0 354.9h1.2v1.2h-1.2zM366.6 343.4h1.2v1.2h-1.2zM369.8 336.2h1.2v1.2h-1.2zM357.4 348.0h1.2v1.2h-1.2zM384.4 325.8h1.2v1.2h-1.2zM365.9 342.5h1.2v1.2h-1.2zM357.4 348.1h1.2v1.2h-1.2zM362.8 344.8h1.2v1.2h-1.2zM371.0 338.5h1.2v1.2h-1.2zM340.1 361.2h1.2v1.2h-1.2zM373.4 335.8h1.2v1.2h-1.2zM373.0 337.4h1.2v1.2h-1.2zM393.2 323.2h1.2v1.2h-1.2zM378.0 334.5h1.2v1.2h-1.2zM367.1 341.0h1.2v1.2h-1.2zM369.1 340.7h1.2v1.2h-1.2zM366.8 341.9h1.2v1.2h-1.2zM357.8 345.2h1.2v1.2h-1.2zM379.8 332.8h1.2v1.2h-1.2zM374.0 333.2h1.2v1.2h-1.2zM388.8 326.2h1.2v1.2h-1.2zM370.6 340.3h1.2v1.2h-1.2zM372.0 337.3h1.2v1.2h-1.2zM375.6 334.8h1.2v1.2h-1.2zM357.6 347.5h1.2v1.2h-1.2zM372.4 337.0h1.2v1.2h-1.2zM366.4 343.0h1.2v1.2h-1.2zM363.4 345.8h1.2v1.2h-1.2zM361.7 344.1h1.2v1.2h-1.2zM384.2 330.2h1.2v1.2h-1.2zM333.4 368.3h1.2v1.2h-1.2zM359.1 348.7h1.2v1.2h-1.2zM376.6 334.1h1.2v1.2h-1.2zM364.5 341.8h1.2v1.2h-1.2zM376.7 334.5h1.2v1.2h-1.2zM374.0 336.9h1.2v1.2h-1.2zM380.9 328.1h1.2v1.2h-1.2zM371.9 337.6h1.2v1.2h-1.2zM378.0 332.8h1.2v1.2h-1.2zM360.7 343.9h1.2v1.2h-1.2zM380.4 330.9h1.2v1.2h-1.2zM350.5 352.4h1.2v1.2h-1.2zM356.0 350.2h1.2v1.2h-1.2zM372.0 337.5h1.2v1.2h-1.2zM357.3 347.6h1.2v1.2h-1.2zM377.1 332.0h1.2v1.2h-1.2zM375.3 334.2h1.2v1.2h-1.2zM376.2 332.9h1.2v1.2h-1.2zM378.4 332.2h1.2v1.2h-1.2zM345.7 356.6h1.2v1.2h-1.2zM364.8 341.0h1.2v1.2h-1.2zM372.9 337.0h1.2v1.2h-1.2zM357.2 350.1h1.2v1.2h-1.2zM384.7 326.5h1.2v1.2h-1.2zM365.2 343.5h1.2v1.2h-1.2zM378.9 332.0h1.2v1.2h-1.2zM376.2 335.1h1.2v1.2h-1.2zM358.7 347.3h1.2v1.2h-1.2zM371.9 336.6h1.2v1.2h-1.2zM383.3 330.4h1.2v1.2h-1.2zM366.5 341.0h1.2v1.2h-1.2zM382.8 330.7h1.2v1.2h-1.2zM384.3 329.6h1.2v1.2h-1.2zM380.9 329.2h1.2v1.2h-1.2zM380.9 331.6h1.2v1.2h-1.2zM381.4 330.7h1.2v1.2h-1.2zM361.4 345.2h1.2v1.2h-1.2zM378.2 332.6h1.2v1.2h-1.2zM384.0 326.4h1.2v1.2h-1.2zM376.5 335.3h1.2v1.2h-1.2zM351.5 350.9h1.2v1.2h-1.2zM336.8 365.3h1.2v1.2h-1.2zM373.3 336.5h1.2v1.2h-1.2zM334.2 363.6h1.2v1.2h-1.2zM384.6 329.3h1.2v1.2h-1.2zM353.1 349.5h1.2v1.2h-1.2zM359.2 345.9h1.2v1.2h-1.2zM388.3 326.3h1.2v1.2h-1.2zM359.8 348.4h1.2v1.2h-1.2zM361.1 343.4h1.2v1.2h-1.2zM366.3 340.0h1.2v1.2h-1.2zM368.1 341.4h1.2v1.2h-1.2zM358.8 347.7h1.2v1.2h-1.2zM356.3 350.9h1.2v1.2h-1.2zM370.5 339.0h1.2v1.2h-1.2zM369.8 340.5h1.2v1.2h-1.2zM350.3 355.0h1.2v1.2h-1.2zM384.9 328.8h1.2v1.2h-1.2zM371.4 337.8h1.2v1.2h-1.2zM366.6 341.0h1.2v1.2h-1.2zM377.1 332.2h1.2v1.2h-1.2zM369.4 340.9h1.2v1.2h-1.2zM382.1 328.8h1.2v1.2h-1.2zM389.6 324.9h1.2v1.2h-1.2zM356.5 348.1h1.2v1.2h-1.2zM355.6 349.9h1.2v1.2h-1.2zM355.7 348.0h1.2v1.2h-1.2zM360.9 344.9h1.2v1.2h-1.2zM361.3 343.8h1.2v1.2h-1.2zM379.9 332.6h1.2v1.2h-1.2zM378.2 334.6h1.2v1.2h-1.2zM344.7 358.6h1.2v1.2h-1.2zM367.4 339.3h1.2v1.2h-1.2zM380.4 332.9h1.2v1.2h-1.2zM353.5 349.7h1.2v1.2h-1.2zM371.9 339.4h1.2v1.2h-1.2zM378.9 331.4h1.2v1.2h-1.2zM382.5 330.7h1.2v1.2h-1.2zM378.1 333.2h1.2v1.2h-1.2zM379.8 332.2h1.2v1.2h-1.2zM381.3 328.2h1.2v1.2h-1.2zM370.7 339.3h1.2v1.2h-1.2zM367.8 339.1h1.2v1.2h-1.2zM360.2 346.3h1.2v1.2h-1.2zM371.6 338.2h1.2v1.2h-1.2zM371.9 338.4h1.2v1.2h-1.2zM379.6 332.8h1.2v1.2h-1.2zM375.1 333.7h1.2v1.2h-1.2zM378.9 330.8h1.2v1.2h-1.2zM369.1 341.4h1.2v1.2h-1.2zM360.7 347.1h1.2v1.2h-1.2zM366.6 341.0h1.2v1.2h-1.2zM386.9 325.8h1.2v1.2h-1.2zM360.8 344.9h1.2v1.2h-1.2zM376.6 334.1h1.2v1.2h-1.2zM374.2 333.6h1.2v1.2h-1.2zM358.9 347.8h1.2v1.2h-1.2zM381.5 331.8h1.2v1.2h-1.2zM365.0 341.7h1.2v1.2h-1.2zM376.2 334.2h1.2v1.2h-1.2zM388.2 326.9h1.2v1.2h-1.2zM372.4 334.4h1.2v1.2h-1.2zM373.5 335.1h1.2v1.2h-1.2zM371.2 336.8h1.2v1.2h-1.2zM380.6 328.9h1.2v1.2h-1.2zM367.2 339.4h1.2v1.2h-1.2zM367.8 341.2h1.2v1.2h-1.2zM381.7 330.8h1.2v1.2h-1.2zM379.5 329.0h1.2v1.2h-1.2zM381.6 328.6h1.2v1.2h-1.2zM371.5 339.7h1.2v1.2h-1.2zM362.0 344.4h1.2v1.2h-1.2zM371.7 339.3h1.2v1.2h-1.2zM374.9 333.5h1.2v1.2h-1.2zM344.1 360.0h1.2v1.2h-1.2zM347.6 353.0h1.2v1.2h-1.2zM383.3 327.9h1.2v1.2h-1.2zM369.2 338.5h1.2v1.2h-1.2zM363.2 341.3h1.2v1.2h-1.2zM350.8 354.8h1.2v1.2h-1.2zM359.4 347.2h1.2v1.2h-1.2zM336.6 364.7h1.2v1.2h-1.2zM363.9 343.7h1.2v1.2h-1.2zM370.4 338.2h1.2v1.2h-1.2zM380.7 331.1h1.2v1.2h-1.2zM370.9 340.2h1.2v1.2h-1.2zM379.9 331.5h1.2v1.2h-1.2zM392.7 323.5h1.2v1.2h-1.2zM377.5 334.7h1.2v1.2h-1.2zM370.0 337.1h1.2v1.2h-1.2zM375.7 333.3h1.2v1.2h-1.2zM364.5 344.7h1.2v1.2h-1.2zM373.4 336.1h1.2v1.2h-1.2zM376.3 332.9h1.2v1.2h-1.2zM352.5 352.8h1.2v1.2h-1.2zM355.3 350.7h1.2v1.2h-1.2zM376.8 333.6h1.2v1.2h-1.2zM346.9 355.3h1.2v1.2h-1.2zM355.3 349.7h1.2v1.2h-1.2zM361.0 345.2h1.2v1.2h-1.2zM333.5 367.6h1.2v1.2h-1.2zM332.3 366.7h1.2v1.2h-1.2zM366.0 342.0h1.2v1.2h-1.2zM364.4 344.3h1.2v1.2h-1.2zM377.4 334.2h1.2v1.2h-1.2zM366.2 342.3h1.2v1.2h-1.2zM348.3 356.4h1.2v1.2h-1.2zM355.8 351.3h1.2v1.2h-1.2zM376.6 334.4h1.2v1.2h-1.2zM348.2 355.5h1.2v1.2h-1.2zM362.6 344.9h1.2v1.2h-1.2zM367.9 340.5h1.2v1.2h-1.2zM355.7 348.1h1.2v1.2h-1.2zM365.1 344.1h1.2v1.2h-1.2zM351.0 351.8h1.2v1.2h-1.2zM343.9 359.0h1.2v1.2h-1.2zM376.3 334.3h1.2v1.2h-1.2zM340.7 361.4h1.2v1.2h-1.2zM372.1 339.2h1.2v1.2h-1.2zM383.7 326.1h1.2v1.2h-1.2zM372.6 338.0h1.2v1.2h-1.2zM364.0 342.8h1.2v1.2h-1.2zM367.3 341.7h1.2v1.2h-1.2zM367.1 339.2h1.2v1.2h-1.2zM373.3 336.7h1.2v1.2h-1.2zM380.0 331.7h1.2v1.2h-1.2zM349.1 356.4h1.2v1.2h-1.2zM384.7 329.5h1.2v1.2h-1.2zM377.2 335.1h1.2v1.2h-1.2zM366.0 342.9h1.2v1.2h-1.2zM376.7 334.7h1.2v1.2h-1.2zM384.8 327.1h1.2v1.2h-1.2zM365.5 340.5h1.2v1.2h-1.2zM379.8 330.4h1.2v1.2h-1.2zM361.0 345.5h1.2v1.2h-1.2zM331.4 368.7h1.2v1.2h-1.2zM362.6 344.2h1.2v1.2h-1.2zM378.6 330.3h1.2v1.2h-1.2zM380.2 331.1h1.2v1.2h-1.2zM370.6 337.2h1.2v1.2h-1.2zM355.8 348.2h1.2v1.2h-1.2zM334.1 366.2h1.2v1.2h-1.2zM352.1 353.9h1.2v1.2h-1.2zM355.2 351.3h1.2v1.2h-1.2zM367.3 341.2h1.2v1.2h-1.2zM373.2 338.2h1.2v1.2h-1.2zM355.0 348.5h1.2v1.2h-1.2zM367.6 340.5h1.2v1.2h-1.2zM366.9 340.4h1.2v1.2h-1.2zM364.6 344.2h1.2v1.2h-1.2zM354.3 350.7h1.2v1.2h-1.2zM361.6 343.8h1.2v1.2h-1.2zM344.3 359.9h1.2v1.2h-1.2zM387.9 324.8h1.2v1.2h-1.2zM380.9 332.4h1.2v1.2h-1.2zM347.8 355.8h1.2v1.2h-1.2zM373.9 337.1h1.2v1.2h-1.2zM367.0 341.1h1.2v1.2h-1.2zM356.6 350.4h1.2v1.2h-1.2zM361.4 345.0h1.2v1.2h-1.2z" fill="#ff6e00"/>
<path d="M396.4 341.1h1.2v1.2h-1.2zM385.5 351.7h1.2v1.2h-1.2zM332.6 390.6h1.2v1.2h-1.2zM359.2 372.3h1.2v1.2h-1.2zM331.6 393.0h1.2v1.2h-1.2zM402.7 339.4h1.2v1.2h-1.2zM391.3 345.8h1.2v1.2h-1.2zM370.9 361.1h1.2v1.2h-1.2zM397.5 343.5h1.2v1.2h-1.2zM382.0 354.9h1.2v1.2h-1.2zM393.8 345.9h1.2v1.2h-1.2zM386.7 352.4h1.2v1.2h-1.2zM355.1 373.8h1.2v1.2h-1.2zM352.5 376.4h1.2v1.2h-1.2zM412.6 328.9h1.2v1.2h-1.2zM419.3 328.0h1.2v1.2h-1.2zM386.1 352.5h1.2v1.2h-1.2zM356.2 370.7h1.2v1.2h-1.2zM356.0 375.0h1.2v1.2h-1.2zM415.9 328.3h1.2v1.2h-1.2zM381.8 353.1h1.2v1.2h-1.2zM324.2 396.4h1.2v1.2h-1.2zM410.0 331.0h1.2v1.2h-1.2zM353.4 376.8h1.2v1.2h-1.2zM375.3 360.2h1.2v1.2h-1.2zM421.4 323.7h1.2v1.2h-1.2zM413.0 330.7h1.2v1.2h-1.2zM423.1 323.6h1.2v1.2h-1.2zM360.9 369.7h1.2v1.2h-1.2zM375.0 361.1h1.2v1.2h-1.2zM399.5 341.4h1.2v1.2h-1.2zM382.6 353.5h1.2v1.2h-1.2zM374.5 357.8h1.2v1.2h-1.2zM379.4 356.3h1.2v1.2h-1.2zM390.0 348.7h1.2v1.2h-1.2zM398.4 339.8h1.2v1.2h-1.2zM406.8 333.4h1.2v1.2h-1.2zM328.4 392.3h1.2v1.2h-1.2zM404.2 339.4h1.2v1.2h-1.2zM356.8 374.0h1.2v1.2h-1.2zM338.2 387.2h1.2v1.2h-1.2zM368.0 363.4h1.2v1.2h-1.2zM384.2 350.9h1.2v1.2h-1.2zM367.7 364.2h1.2v1.2h-1.2zM361.5 367.3h1.2v1.2h-1.2zM412.7 331.0h1.2v1.2h-1.2zM383.0 352.9h1.2v1.2h-1.2zM378.8 355.3h1.2v1.2h-1.2zM395.5 342.4h1.2v1.2h-1.2zM402.0 339.2h1.2v1.2h-1.2zM319.6 398.9h1.2v1.2h-1.2zM404.6 337.4h1.2v1.2h-1.2zM422.1 325.0h1.2v1.2h-1.2zM416.9 329.2h1.2v1.2h-1.2zM395.4 346.1h1.2v1.2h-1.2zM326.1 397.1h1.2v1.2h-1.2zM338.8 387.9h1.2v1.2h-1.2zM374.4 359.5h1.2v1.2h-1.2zM400.2 342.3h1.2v1.2h-1.2zM393.2 346.0h1.2v1.2h-1.2zM391.4 348.1h1.2v1.2h-1.2zM371.1 360.5h1.2v1.2h-1.2zM372.8 361.4h1.2v1.2h-1.2zM344.7 380.1h1.2v1.2h-1.2zM384.0 351.6h1.2v1.2h-1.2zM414.8 329.0h1.2v1.2h-1.2zM408.7 332.6h1.2v1.2h-1.2zM410.2 331.8h1.2v1.2h-1.2zM380.2 353.0h1.2v1.2h-1.2zM392.3 345.7h1.2v1.2h-1.2zM348.6 376.8h1.2v1.2h-1.2zM352.7 376.5h1.2v1.2h-1.2zM349.9 379.8h1.2v1.2h-1.2zM392.6 344.5h1.2v1.2h-1.2zM371.0 364.3h1.2v1.2h-1.2zM362.5 368.8h1.2v1.2h-1.2zM349.5 379.6h1.2v1.2h-1.2zM399.5 340.5h1.2v1.2h-1.2zM347.2 379.7h1.2v1.2h-1.2zM355.6 372.5h1.2v1.2h-1.2zM342.2 382.1h1.2v1.2h-1.2zM399.7 338.9h1.2v1.2h-1.2zM387.6 347.3h1.2v1.2h-1.2zM363.9 367.6h1.2v1.2h-1.2zM367.6 363.5h1.2v1.2h-1.2zM411.5 331.2h1.2v1.2h-1.2zM405.9 334.0h1.2v1.2h-1.2zM349.9 376.8h1.2v1.2h-1.2zM365.6 367.3h1.2v1.2h-1.2zM373.0 358.7h1.2v1.2h-1.2zM346.6 381.5h1.2v1.2h-1.2zM377.7 355.1h1.2v1.2h-1.2zM403.8 336.5h1.2v1.2h-1.2zM396.0 341.5h1.2v1.2h-1.2zM392.6 346.3h1.2v1.2h-1.2zM403.2 336.2h1.2v1.2h-1.2zM329.2 395.6h1.2v1.2h-1.2zM405.2 335.1h1.2v1.2h-1.2zM342.5 384.4h1.2v1.2h-1.2zM392.7 347.5h1.2v1.2h-1.2zM354.5 376.1h1.2v1.2h-1.2zM405.6 334.7h1.2v1.2h-1.2zM343.5 380.7h1.2v1.2h-1.2zM390.0 347.7h1.2v1.2h-1.2zM329.3 395.7h1.2v1.2h-1.2zM347.5 382.1h1.2v1.2h-1.2zM368.1 362.4h1.2v1.2h-1.2zM371.2 364.1h1.2v1.2h-1.2zM389.9 349.4h1.2v1.2h-1.2zM350.9 376.5h1.2v1.2h-1.2zM420.6 325.4h1.2v1.2h-1.2zM371.5 362.1h1.2v1.2h-1.2zM395.6 345.6h1.2v1.2h-1.2zM382.3 352.9h1.2v1.2h-1.2zM323.7 396.5h1.2v1.2h-1.2zM398.7 341.3h1.2v1.2h-1.2zM391.0 344.6h1.2v1.2h-1.2zM362.6 370.0h1.2v1.2h-1.2zM373.5 360.7h1.2v1.2h-1.2zM330.8 390.3h1.2v1.2h-1.2zM352.7 377.1h1.2v1.2h-1.2zM345.4 383.5h1.2v1.2h-1.2zM358.4 370.8h1.2v1.2h-1.2zM365.3 367.0h1.2v1.2h-1.2zM379.9 355.3h1.2v1.2h-1.2zM408.7 332.3h1.2v1.2h-1.2zM394.1 346.6h1.2v1.2h-1.2zM417.3 325.6h1.2v1.2h-1.2zM363.2 366.9h1.2v1.2h-1.2zM388.8 350.4h1.2v1.2h-1.2zM349.6 376.2h1.2v1.2h-1.2zM409.7 331.4h1.2v1.2h-1.2zM371.1 361.8h1.2v1.2h-1.2zM385.1 353.3h1.2v1.2h-1.2zM356.5 371.3h1.2v1.2h-1.2zM345.1 379.6h1.2v1.2h-1.2zM412.9 328.6h1.2v1.2h-1.2zM398.8 342.7h1.2v1.2h-1.2zM409.2 333.5h1.2v1.2h-1.2zM359.1 370.4h1.2v1.2h-1.2zM361.5 370.7h1.2v1.2h-1.2zM375.5 358.1h1.2v1.2h-1.2zM352.4 377.0h1.2v1.2h-1.2zM370.3 360.2h1.2v1.2h-1.2zM384.7 353.2h1.2v1.2h-1.2zM368.0 362.3h1.2v1.2h-1.2zM384.6 353.5h1.2v1.2h-1.2zM357.5 371.0h1.2v1.2h-1.2zM420.3 325.8h1.2v1.2h-1.2zM421.9 325.1h1.2v1.2h-1.2zM418.2 328.5h1.2v1.2h-1.2zM381.7 354.6h1.2v1.2h-1.2zM386.7 351.7h1.2v1.2h-1.2zM394.6 345.1h1.2v1.2h-1.2zM401.2 339.5h1.2v1.2h-1.2zM376.7 355.4h1.2v1.2h-1.2zM363.9 365.0h1.2v1.2h-1.2zM358.9 372.8h1.2v1.2h-1.2zM424.0 324.4h1.2v1.2h-1.2zM377.9 354.8h1.2v1.2h-1.2zM410.9 332.8h1.2v1.2h-1.2zM396.4 345.2h1.2v1.2h-1.2zM408.0 334.2h1.2v1.2h-1.2zM367.5 364.9h1.2v1.2h-1.2zM380.0 356.5h1.2v1.2h-1.2zM392.8 343.7h1.2v1.2h-1.2zM383.7 350.7h1.2v1.2h-1.2zM350.1 380.1h1.2v1.2h-1.2zM378.0 355.0h1.2v1.2h-1.2zM355.7 373.7h1.2v1.2h-1.2zM365.7 366.9h1.2v1.2h-1.2zM412.2 331.2h1.2v1.2h-1.2zM382.9 354.9h1.2v1.2h-1.2zM389.9 346.6h1.2v1.2h-1.2zM316.0 403.6h1.2v1.2h-1.2zM353.0 375.4h1.2v1.2h-1.2zM383.2 352.0h1.2v1.2h-1.2zM369.2 363.7h1.2v1.2h-1.2zM381.7 355.9h1.2v1.2h-1.2zM406.5 337.2h1.2v1.2h-1.2zM404.1 337.4h1.2v1.2h-1.2zM418.1 328.1h1.2v1.2h-1.2zM402.0 338.6h1.2v1.2h-1.2zM382.8 353.6h1.2v1.2h-1.2zM374.7 357.8h1.2v1.2h-1.2zM389.1 346.2h1.2v1.2h-1.2zM399.3 342.8h1.2v1.2h-1.2zM387.1 349.8h1.2v1.2h-1.2zM398.6 340.5h1.2v1.2h-1.2zM413.3 328.4h1.2v1.2h-1.2zM371.5 360.1h1.2v1.2h-1.2zM408.4 336.0h1.2v1.2h-1.2zM364.2 365.3h1.2v1.2h-1.2zM400.8 337.9h1.2v1.2h-1.2zM344.2 379.8h1.2v1.2h-1.2zM347.5 381.7h1.2v1.2h-1.2zM358.7 371.9h1.2v1.2h-1.2zM406.9 334.7h1.2v1.2h-1.2zM403.5 336.0h1.2v1.2h-1.2zM370.8 364.5h1.2v1.2h-1.2zM358.1 371.1h1.2v1.2h-1.2zM416.4 329.5h1.2v1.2h-1.2zM363.4 365.7h1.2v1.2h-1.2zM345.3 380.0h1.2v1.2h-1.2zM414.3 329.3h1.2v1.2h-1.2zM343.3 382.9h1.2v1.2h-1.2zM334.7 390.0h1.2v1.2h-1.2zM372.5 359.5h1.2v1.2h-1.2zM385.1 351.6h1.2v1.2h-1.2zM368.0 362.6h1.2v1.2h-1.2zM345.1 382.1h1.2v1.2h-1.2zM405.3 336.2h1.2v1.2h-1.2zM345.9 379.7h1.2v1.2h-1.2zM327.2 394.8h1.2v1.2h-1.2zM368.8 365.4h1.2v1.2h-1.2zM390.4 348.0h1.2v1.2h-1.2zM421.0 326.2h1.2v1.2h-1.2zM410.0 334.8h1.2v1.2h-1.2zM343.7 384.8h1.2v1.2h-1.2zM381.8 355.8h1.2v1.2h-1.2zM337.6 385.6h1.2v1.2h-1.2zM328.2 395.0h1.2v1.2h-1.2zM370.0 365.1h1.2v1.2h-1.2zM415.6 328.0h1.2v1.2h-1.2zM395.5 344.1h1.2v1.2h-1.2zM375.3 357.3h1.2v1.2h-1.2zM333.1 390.7h1.2v1.2h-1.2zM364.6 368.0h1.2v1.2h-1.2zM404.0 338.0h1.2v1.2h-1.2zM382.3 353.0h1.2v1.2h-1.2zM387.0 350.4h1.2v1.2h-1.2zM357.0 370.7h1.2v1.2h-1.2zM405.3 337.6h1.2v1.2h-1.2zM332.6 389.9h1.2v1.2h-1.2zM413.3 330.7h1.2v1.2h-1.2zM358.2 373.9h1.2v1.2h-1.2zM359.8 371.5h1.2v1.2h-1.2zM386.8 351.5h1.2v1.2h-1.2zM363.1 368.4h1.2v1.2h-1.2zM350.8 376.4h1.2v1.2h-1.2zM338.9 387.8h1.2v1.2h-1.2zM333.0 392.1h1.2v1.2h-1.2zM404.6 335.9h1.2v1.2h-1.2zM372.7 362.2h1.2v1.2h-1.2zM407.5 333.4h1.2v1.2h-1.2zM401.2 337.8h1.2v1.2h-1.2zM344.9 383.2h1.2v1.2h-1.2zM367.9 366.6h1.2v1.2h-1.2zM406.4 334.6h1.2v1.2h-1.2zM350.8 374.9h1.2v1.2h-1.2zM362.0 371.1h1.2v1.2h-1.2zM344.7 382.2h1.2v1.2h-1.2zM414.2 330.4h1.2v1.2h-1.2zM358.3 369.9h1.2v1.2h-1.2zM407.6 334.5h1.2v1.2h-1.2zM397.8 342.3h1.2v1.2h-1.2zM403.6 337.5h1.2v1.2h-1.2zM363.7 367.3h1.2v1.2h-1.2zM404.6 336.4h1.2v1.2h-1.2zM391.0 348.9h1.2v1.2h-1.2zM389.7 345.8h1.2v1.2h-1.2zM341.7 383.7h1.2v1.2h-1.2zM415.5 326.1h1.2v1.2h-1.2zM398.9 339.0h1.2v1.2h-1.2zM405.2 334.2h1.2v1.2h-1.2zM412.7 330.4h1.2v1.2h-1.2zM400.7 339.3h1.2v1.2h-1.2zM389.2 347.2h1.2v1.2h-1.2zM400.9 337.2h1.2v1.2h-1.2zM405.2 336.4h1.2v1.2h-1.2zM398.4 339.5h1.2v1.2h-1.2zM342.0 385.2h1.2v1.2h-1.2zM386.0 349.5h1.2v1.2h-1.2zM358.8 369.7h1.2v1.2h-1.2zM410.8 332.0h1.2v1.2h-1.2zM409.6 335.2h1.2v1.2h-1.2zM343.5 384.1h1.2v1.2h-1.2zM386.2 352.3h1.2v1.2h-1.2zM373.4 360.2h1.2v1.2h-1.2zM344.5 381.7h1.2v1.2h-1.2zM376.8 355.7h1.2v1.2h-1.2zM405.0 335.2h1.2v1.2h-1.2zM389.1 346.9h1.2v1.2h-1.2zM365.9 368.0h1.2v1.2h-1.2zM396.8 344.1h1.2v1.2h-1.2zM379.4 354.9h1.2v1.2h-1.2zM350.8 378.7h1.2v1.2h-1.2zM399.6 338.4h1.2v1.2h-1.2zM393.1 346.2h1.2v1.2h-1.2zM372.8 360.2h1.2v1.2h-1.2zM390.3 348.0h1.2v1.2h-1.2zM358.0 369.5h1.2v1.2h-1.2zM415.0 330.3h1.2v1.2h-1.2zM333.9 391.4h1.2v1.2h-1.2zM415.5 328.3h1.2v1.2h-1.2zM311.7 406.3h1.2v1.2h-1.2zM409.9 333.4h1.2v1.2h-1.2zM382.3 354.9h1.2v1.2h-1.2zM366.7 365.9h1.2v1.2h-1.2zM354.5 376.5h1.2v1.2h-1.2zM342.0 384.3h1.2v1.2h-1.2zM412.5 328.4h1.2v1.2h-1.2zM379.2 358.2h1.2v1.2h-1.2zM387.6 349.6h1.2v1.2h-1.2zM371.6 363.6h1.2v1.2h-1.2zM374.3 361.3h1.2v1.2h-1.2zM341.7 382.1h1.2v1.2h-1.2zM374.6 357.0h1.2v1.2h-1.2zM359.6 370.8h1.2v1.2h-1.2zM396.1 341.5h1.2v1.2h-1.2zM340.2 382.9h1.2v1.2h-1.2zM397.7 342.8h1.2v1.2h-1.2zM321.0 401.9h1.2v1.2h-1.2zM373.2 360.3h1.2v1.2h-1.2zM389.8 346.7h1.2v1.2h-1.2zM396.1 342.7h1.2v1.2h-1.2zM405.5 338.4h1.2v1.2h-1.2zM409.1 332.0h1.2v1.2h-1.2zM345.9 379.3h1.2v1.2h-1.2zM322.2 399.9h1.2v1.2h-1.2zM395.4 345.6h1.2v1.2h-1.2zM346.3 380.7h1.2v1.2h-1.2zM364.6 364.9h1.2v1.2h-1.2zM359.8 368.9h1.2v1.2h-1.2zM391.6 347.1h1.2v1.2h-1.2zM381.4 351.9h1.2v1.2h-1.2zM377.3 357.5h1.2v1.2h-1.2zM387.7 350.4h1.2v1.2h-1.2zM395.0 341.9h1.2v1.2h-1.2zM394.2 346.8h1.2v1.2h-1.2zM399.0 341.4h1.2v1.2h-1.2zM413.7 328.2h1.2v1.2h-1.2zM348.6 380.8h1.2v1.2h-1.2zM385.9 349.9h1.2v1.2h-1.2zM379.0 357.7h1.2v1.2h-1.2zM350.3 377.7h1.2v1.2h-1.2zM398.2 339.2h1.2v1.2h-1.2zM405.9 334.3h1.2v1.2h-1.2zM348.8 376.4h1.2v1.2h-1.2zM398.8 339.2h1.2v1.2h-1.2zM424.9 323.1h1.2v1.2h-1.2zM377.8 357.9h1.2v1.2h-1.2zM381.5 355.3h1.2v1.2h-1.2zM328.0 393.1h1.2v1.2h-1.2zM375.4 358.6h1.2v1.2h-1.2zM351.6 374.8h1.2v1.2h-1.2zM410.8 332.5h1.2v1.2h-1.2zM380.4 352.9h1.2v1.2h-1.2zM388.9 348.5h1.2v1.2h-1.2zM399.3 339.7h1.2v1.2h-1.2zM341.2 383.4h1.2v1.2h-1.2zM419.1 327.6h1.2v1.2h-1.2zM349.2 380.7h1.2v1.2h-1.2zM416.1 326.8h1.2v1.2h-1.2zM423.1 324.3h1.2v1.2h-1.2zM385.1 351.0h1.2v1.2h-1.2zM329.2 392.6h1.2v1.2h-1.2zM351.6 376.3h1.2v1.2h-1.2zM397.1 343.1h1.2v1.2h-1.2zM367.3 365.4h1.2v1.2h-1.2zM361.6 369.9h1.2v1.2h-1.2zM418.1 327.5h1.2v1.2h-1.2zM375.4 356.5h1.2v1.2h-1.2zM366.7 364.6h1.2v1.2h-1.2zM402.1 338.1h1.2v1.2h-1.2zM307.0 410.4h1.2v1.2h-1.2zM385.0 352.9h1.2v1.2h-1.2zM395.4 341.7h1.2v1.2h-1.2zM327.4 394.4h1.2v1.2h-1.2zM415.5 326.1h1.2v1.2h-1.2zM344.3 383.0h1.2v1.2h-1.2zM409.3 331.9h1.2v1.2h-1.2zM326.1 396.7h1.2v1.2h-1.2zM394.5 346.0h1.2v1.2h-1.2zM366.1 365.3h1.2v1.2h-1.2zM415.7 327.2h1.2v1.2h-1.2zM357.5 371.3h1.2v1.2h-1.2zM367.7 365.0h1.2v1.2h-1.2zM381.4 355.6h1.2v1.2h-1.2zM342.9 381.6h1.2v1.2h-1.2zM369.5 360.7h1.2v1.2h-1.2zM399.9 338.2h1.2v1.2h-1.2zM324.6 395.3h1.2v1.2h-1.2zM394.3 344.5h1.2v1.2h-1.2zM360.2 371.5h1.2v1.2h-1.2zM421.4 326.1h1.2v1.2h-1.2zM391.9 347.0h1.2v1.2h-1.2zM414.1 331.3h1.2v1.2h-1.2zM356.1 370.8h1.2v1.2h-1.2zM403.0 337.9h1.2v1.2h-1.2zM323.1 397.6h1.2v1.2h-1.2zM394.1 343.4h1.2v1.2h-1.2zM357.7 372.4h1.2v1.2h-1.2zM400.6 337.7h1.2v1.2h-1.2zM375.8 357.8h1.2v1.2h-1.2zM397.4 339.9h1.2v1.2h-1.2zM383.9 353.8h1.2v1.2h-1.2zM397.1 343.0h1.2v1.2h-1.2zM324.9 397.5h1.2v1.2h-1.2zM316.3 401.7h1.2v1.2h-1.2zM361.4 367.4h1.2v1.2h-1.2zM355.2 373.7h1.2v1.2h-1.2zM399.2 341.0h1.2v1.2h-1.2zM377.2 357.8h1.2v1.2h-1.2zM343.7 382.9h1.2v1.2h-1.2zM413.6 328.9h1.2v1.2h-1.2zM374.6 361.1h1.2v1.2h-1.2zM420.0 324.2h1.2v1.2h-1.2zM393.4 345.7h1.2v1.2h-1.2zM370.0 365.0h1.2v1.2h-1.2zM396.9 342.0h1.2v1.2h-1.2zM358.4 372.1h1.2v1.2h-1.2zM392.9 347.0h1.2v1.2h-1.2zM351.3 374.5h1.2v1.2h-1.2zM389.8 350.1h1.2v1.2h-1.2zM413.2 328.6h1.2v1.2h-1.2zM365.0 364.1h1.2v1.2h-1.2zM389.0 347.8h1.2v1.2h-1.2zM381.7 352.2h1.2v1.2h-1.2zM349.9 376.3h1.2v1.2h-1.2zM351.0 376.8h1.2v1.2h-1.2zM336.1 387.9h1.2v1.2h-1.2zM362.0 369.5h1.2v1.2h-1.2zM403.9 335.9h1.2v1.2h-1.2zM354.5 372.6h1.2v1.2h-1.2zM381.9 354.2h1.2v1.2h-1.2zM335.9 387.5h1.2v1.2h-1.2zM399.8 341.0h1.2v1.2h-1.2zM378.2 356.4h1.2v1.2h-1.2zM386.3 351.2h1.2v1.2h-1.2zM400.3 338.2h1.2v1.2h-1.2zM406.5 335.5h1.2v1.2h-1.2zM372.3 360.7h1.2v1.2h-1.2zM378.0 358.5h1.2v1.2h-1.2zM400.5 339.3h1.2v1.2h-1.2zM380.6 354.4h1.2v1.2h-1.2zM356.0 375.2h1.2v1.2h-1.2zM397.8 341.7h1.2v1.2h-1.2zM396.8 344.2h1.2v1.2h-1.2zM340.2 386.1h1.2v1.2h-1.2zM347.5 381.6h1.2v1.2h-1.2zM393.2 347.3h1.2v1.2h-1.2zM406.4 333.1h1.2v1.2h-1.2zM353.0 377.6h1.2v1.2h-1.2zM347.0 380.1h1.2v1.2h-1.2zM343.1 383.8h1.2v1.2h-1.2zM364.9 367.0h1.2v1.2h-1.2zM381.6 355.2h1.2v1.2h-1.2zM387.9 351.2h1.2v1.2h-1.2zM404.3 339.3h1.2v1.2h-1.2zM365.7 367.5h1.2v1.2h-1.2zM402.5 337.1h1.2v1.2h-1.2zM399.8 339.8h1.2v1.2h-1.2zM322.0 396.7h1.2v1.2h-1.2zM417.9 328.6h1.2v1.2h-1.2zM333.7 388.7h1.2v1.2h-1.2zM408.7 333.5h1.2v1.2h-1.2zM345.7 380.4h1.2v1.2h-1.2zM381.2 353.1h1.2v1.2h-1.2zM412.7 332.6h1.2v1.2h-1.2zM351.7 377.8h1.2v1.2h-1.2zM416.4 326.6h1.2v1.2h-1.2zM378.3 354.8h1.2v1.2h-1.2zM371.0 362.7h1.2v1.2h-1.2zM398.1 344.0h1.2v1.2h-1.2zM396.8 342.5h1.2v1.2h-1.2zM405.8 334.2h1.2v1.2h-1.2zM305.7 413.2h1.2v1.2h-1.2zM366.6 363.8h1.2v1.2h-1.2zM409.7 335.1h1.2v1.2h-1.2zM393.3 345.1h1.2v1.2h-1.2zM396.6 343.3h1.2v1.2h-1.2zM367.2 364.7h1.2v1.2h-1.2zM405.5 334.0h1.2v1.2h-1.2zM340.2 386.8h1.2v1.2h-1.2zM351.0 375.9h1.2v1.2h-1.2zM370.9 360.4h1.2v1.2h-1.2zM370.1 361.4h1.2v1.2h-1.2zM403.0 336.8h1.2v1.2h-1.2zM357.2 370.9h1.2v1.2h-1.2zM366.2 366.6h1.2v1.2h-1.2zM400.0 340.9h1.2v1.2h-1.2zM360.3 372.2h1.2v1.2h-1.2zM371.2 360.4h1.2v1.2h-1.2zM336.7 387.0h1.2v1.2h-1.2zM365.8 367.2h1.2v1.2h-1.2zM376.6 360.1h1.2v1.2h-1.2zM337.3 389.1h1.2v1.2h-1.2zM423.2 323.4h1.2v1.2h-1.2zM412.4 328.7h1.2v1.2h-1.2zM384.1 349.7h1.2v1.2h-1.2zM356.6 372.9h1.2v1.2h-1.2zM361.6 369.4h1.2v1.2h-1.2zM402.6 339.7h1.2v1.2h-1.2zM416.6 327.4h1.2v1.2h-1.2zM406.6 335.7h1.2v1.2h-1.2zM401.7 340.6h1.2v1.2h-1.2zM358.3 369.8h1.2v1.2h-1.2zM358.2 369.8h1.2v1.2h-1.2zM386.8 349.7h1.2v1.2h-1.2zM342.6 384.6h1.2v1.2h-1.2zM322.2 396.9h1.2v1.2h-1.2zM387.9 351.3h1.2v1.2h-1.2zM350.2 376.2h1.2v1.2h-1.2zM397.1 343.1h1.2v1.2h-1.2zM420.8 323.5h1.2v1.2h-1.2zM417.9 324.7h1.2v1.2h-1.2zM382.6 351.1h1.2v1.2h-1.2zM336.2 385.9h1.2v1.2h-1.2zM344.7 381.8h1.2v1.2h-1.2zM396.7 342.8h1.2v1.2h-1.2zM355.1 375.5h1.2v1.2h-1.2zM335.9 389.8h1.2v1.2h-1.2zM397.6 340.3h1.2v1.2h-1.2zM369.8 361.3h1.2v1.2h-1.2zM369.7 361.7h1.2v1.2h-1.2zM390.8 345.0h1.2v1.2h-1.2zM414.7 328.5h1.2v1.2h-1.2zM355.1 375.2h1.2v1.2h-1.2zM347.7 378.2h1.2v1.2h-1.2zM359.3 368.8h1.2v1.2h-1.2zM342.9 381.2h1.2v1.2h-1.2zM414.4 329.5h1.2v1.2h-1.2zM317.7 403.6h1.2v1.2h-1.2zM404.2 336.4h1.2v1.2h-1.2zM344.4 384.3h1.2v1.2h-1.2zM336.0 387.9h1.2v1.2h-1.2zM393.9 342.9h1.2v1.2h-1.2zM390.2 348.1h1.2v1.2h-1.2zM385.0 350.1h1.2v1.2h-1.2zM363.2 369.6h1.2v1.2h-1.2zM371.3 361.1h1.2v1.2h-1.2zM319.0 401.3h1.2v1.2h-1.2zM367.7 364.4h1.2v1.2h-1.2zM415.1 330.2h1.2v1.2h-1.2zM395.2 341.7h1.2v1.2h-1.2zM390.5 345.4h1.2v1.2h-1.2zM338.1 387.7h1.2v1.2h-1.2zM397.6 342.3h1.2v1.2h-1.2zM384.7 352.6h1.2v1.2h-1.2zM365.9 364.5h1.2v1.2h-1.2zM374.0 357.4h1.2v1.2h-1.2zM412.1 328.9h1.2v1.2h-1.2zM377.5 354.8h1.2v1.2h-1.2zM366.4 363.3h1.2v1.2h-1.2zM307.6 409.4h1.2v1.2h-1.2zM333.7 388.3h1.2v1.2h-1.2zM382.1 351.6h1.2v1.2h-1.2zM412.6 331.1h1.2v1.2h-1.2zM406.1 334.7h1.2v1.2h-1.2zM395.9 343.0h1.2v1.2h-1.2zM357.6 372.4h1.2v1.2h-1.2zM411.8 329.2h1.2v1.2h-1.2zM343.8 384.1h1.2v1.2h-1.2zM405.2 335.2h1.2v1.2h-1.2zM376.8 356.8h1.2v1.2h-1.2zM345.5 380.0h1.2v1.2h-1.2zM364.3 364.9h1.2v1.2h-1.2zM419.1 326.1h1.2v1.2h-1.2zM350.0 377.9h1.2v1.2h-1.2zM341.3 382.7h1.2v1.2h-1.2zM365.5 367.3h1.2v1.2h-1.2zM397.2 341.7h1.2v1.2h-1.2zM375.1 359.0h1.2v1.2h-1.2zM421.3 324.1h1.2v1.2h-1.2zM363.4 366.9h1.2v1.2h-1.2zM417.2 327.8h1.2v1.2h-1.2zM413.5 329.2h1.2v1.2h-1.2zM352.1 377.0h1.2v1.2h-1.2zM373.2 362.6h1.2v1.2h-1.2zM415.0 327.0h1.2v1.2h-1.2zM336.6 389.2h1.2v1.2h-1.2zM383.7 352.1h1.2v1.2h-1.2zM393.7 345.2h1.2v1.2h-1.2zM344.7 383.0h1.2v1.2h-1.2zM368.2 363.8h1.2v1.2h-1.2zM354.1 375.6h1.2v1.2h-1.2zM409.9 331.2h1.2v1.2h-1.2zM333.3 390.6h1.2v1.2h-1.2zM381.4 351.9h1.2v1.2h-1.2zM401.5 337.9h1.2v1.2h-1.2zM354.9 374.2h1.2v1.2h-1.2zM340.8 385.5h1.2v1.2h-1.2z" fill="#bdff00"/>
<path d="M351.6 429.8h1.2v1.2h-1.2zM282.0 484.5h1.2v1.2h-1.2zM381.5 406.7h1.2v1.2h-1.2zM369.2 415.7h1.2v1.2h-1.2zM277.4 485.4h1.2v1.2h-1.2zM377.5 409.3h1.2v1.2h-1.2zM288.3 476.2h1.2v1.2h-1.2zM312.6 458.8h1.2v1.2h-1.2zM283.8 482.9h1.2v1.2h-1.2zM419.3 379.3h1.2v1.2h-1.2zM288.9 479.3h1.2v1.2h-1.2zM282.6 479.8h1.2v1.2h-1.2zM271.2 492.6h1.2v1.2h-1.2zM277.1 486.8h1.2v1.2h-1.2zM293.3 475.6h1.2v1.2h-1.2zM280.9 484.2h1.2v1.2h-1.2zM276.3 487.2h1.2v1.2h-1.2zM286.3 478.7h1.2v1.2h-1.2zM281.0 483.6h1.2v1.2h-1.2zM327.2 449.9h1.2v1.2h-1.2zM382.5 405.5h1.2v1.2h-1.2zM312.0 461.5h1.2v1.2h-1.2zM275.1 488.3h1.2v1.2h-1.2zM278.7 483.0h1.2v1.2h-1.2zM282.0 483.8h1.2v1.2h-1.2zM284.6 481.4h1.2v1.2h-1.2zM320.6 451.1h1.2v1.2h-1.2zM310.1 460.1h1.2v1.2h-1.2zM396.2 396.2h1.2v1.2h-1.2zM368.9 414.7h1.2v1.2h-1.2zM289.1 475.7h1.2v1.2h-1.2zM297.8 468.3h1.2v1.2h-1.2zM285.1 481.6h1.2v1.2h-1.2zM286.3 479.1h1.2v1.2h-1.2zM278.7 482.9h1.2v1.2h-1.2zM364.4 419.6h1.2v1.2h-1.2zM393.3 397.9h1.2v1.2h-1.2zM273.0 490.5h1.2v1.2h-1.2zM289.5 474.4h1.2v1.2h-1.2zM409.8 388.5h1.2v1.2h-1.2zM300.9 466.3h1.2v1.2h-1.2zM425.0 374.3h1.2v1.2h-1.2zM307.1 462.6h1.2v1.2h-1.2zM378.1 409.9h1.2v1.2h-1.2zM348.3 432.6h1.2v1.2h-1.2zM272.0 490.8h1.2v1.2h-1.2zM337.7 438.4h1.2v1.2h-1.2zM386.4 402.9h1.2v1.2h-1.2zM428.2 373.5h1.2v1.2h-1.2zM388.8 399.8h1.2v1.2h-1.2zM276.7 485.6h1.2v1.2h-1.2zM311.3 459.8h1.2v1.2h-1.2zM286.4 476.7h1.2v1.2h-1.2zM279.6 484.6h1.2v1.2h-1.2zM334.6 440.9h1.2v1.2h-1.2zM280.3 485.6h1.2v1.2h-1.2zM279.5 482.3h1.2v1.2h-1.2zM294.0 472.4h1.2v1.2h-1.2zM308.1 463.4h1.2v1.2h-1.2zM335.4 441.2h1.2v1.2h-1.2zM346.4 434.0h1.2v1.2h-1.2zM291.1 476.0h1.2v1.2h-1.2zM368.9 419.1h1.2v1.2h-1.2zM331.2 444.9h1.2v1.2h-1.2zM336.9 441.2h1.2v1.2h-1.2zM274.8 487.7h1.2v1.2h-1.2zM420.2 378.7h1.2v1.2h-1.2zM301.0 470.2h1.2v1.2h-1.2zM275.7 487.5h1.2v1.2h-1.2zM296.7 471.3h1.2v1.2h-1.2zM353.6 427.0h1.2v1.2h-1.2zM415.4 381.8h1.2v1.2h-1.2zM340.9 437.2h1.2v1.2h-1.2zM298.9 469.0h1.2v1.2h-1.2zM353.5 427.2h1.2v1.2h-1.2zM296.4 471.0h1.2v1.2h-1.2zM294.9 470.6h1.2v1.2h-1.2zM313.6 460.7h1.2v1.2h-1.2zM354.0 428.7h1.2v1.2h-1.2zM362.4 420.5h1.2v1.2h-1.2zM345.8 435.3h1.2v1.2h-1.2zM286.0 479.6h1.2v1.2h-1.2zM271.6 489.3h1.2v1.2h-1.2zM284.6 478.3h1.2v1.2h-1.2zM312.4 457.5h1.2v1.2h-1.2zM290.8 476.2h1.2v1.2h-1.2zM362.0 420.9h1.2v1.2h-1.2zM293.1 471.9h1.2v1.2h-1.2zM294.8 471.2h1.2v1.2h-1.2zM331.5 444.1h1.2v1.2h-1.2zM297.1 472.1h1.2v1.2h-1.2zM304.2 466.9h1.2v1.2h-1.2zM287.9 480.0h1.2v1.2h-1.2zM293.1 473.9h1.2v1.2h-1.2zM296.3 470.0h1.2v1.2h-1.2zM291.6 474.2h1.2v1.2h-1.2zM426.9 373.4h1.2v1.2h-1.2zM307.0 465.2h1.2v1.2h-1.2zM348.8 431.2h1.2v1.2h-1.2zM285.2 480.0h1.2v1.2h-1.2zM273.9 490.7h1.2v1.2h-1.2zM288.9 477.7h1.2v1.2h-1.2zM303.6 464.1h1.2v1.2h-1.2zM278.1 486.9h1.2v1.2h-1.2zM383.4 407.8h1.2v1.2h-1.2zM360.6 422.5h1.2v1.2h-1.2zM425.4 374.5h1.2v1.2h-1.2zM271.0 489.5h1.2v1.2h-1.2zM376.7 412.4h1.2v1.2h-1.2zM285.1 481.4h1.2v1.2h-1.2zM299.6 468.7h1.2v1.2h-1.2zM274.9 485.8h1.2v1.2h-1.2zM285.6 481.5h1.2v1.2h-1.2zM298.0 468.5h1.2v1.2h-1.2zM389.7 399.7h1.2v1.2h-1.2zM310.6 461.4h1.2v1.2h-1.2zM309.1 463.9h1.2v1.2h-1.2zM290.5 475.0h1.2v1.2h-1.2zM371.4 412.8h1.2v1.2h-1.2zM310.2 461.3h1.2v1.2h-1.2zM401.3 393.9h1.2v1.2h-1.2zM296.1 471.9h1.2v1.2h-1.2zM315.6 454.8h1.2v1.2h-1.2zM302.3 464.8h1.2v1.2h-1.2zM275.9 489.0h1.2v1.2h-1.2zM381.7 406.0h1.2v1.2h-1.2zM272.2 490.4h1.2v1.2h-1.2zM277.2 486.1h1.2v1.2h-1.2zM298.4 471.4h1.2v1.2h-1.2zM276.4 485.0h1.2v1.2h-1.2zM350.6 431.5h1.2v1.2h-1.2zM319.7 454.7h1.2v1.2h-1.2zM276.0 487.1h1.2v1.2h-1.2zM396.4 394.3h1.2v1.2h-1.2zM418.6 378.8h1.2v1.2h-1.2zM280.5 482.4h1.2v1.2h-1.2zM324.3 448.1h1.2v1.2h-1.2zM312.5 458.8h1.2v1.2h-1.2zM289.2 478.4h1.2v1.2h-1.2zM272.8 488.4h1.2v1.2h-1.2zM282.0 483.5h1.2v1.2h-1.2zM287.2 477.0h1.2v1.2h-1.2zM347.8 432.4h1.2v1.2h-1.2zM271.1 491.0h1.2v1.2h-1.2zM287.2 479.9h1.2v1.2h-1.2zM296.2 472.6h1.2v1.2h-1.2zM279.1 486.8h1.2v1.2h-1.2zM313.4 458.5h1.2v1.2h-1.2zM390.8 400.9h1.2v1.2h-1.2zM301.9 468.2h1.2v1.2h-1.2zM292.2 472.7h1.2v1.2h-1.2zM290.8 475.8h1.2v1.2h-1.2zM331.1 445.9h1.2v1.2h-1.2zM379.7 410.8h1.2v1.2h-1.2zM408.3 385.9h1.2v1.2h-1.2zM276.7 485.3h1.2v1.2h-1.2zM416.2 379.2h1.2v1.2h-1.2zM301.0 468.7h1.2v1.2h-1.2zM297.6 472.3h1.2v1.2h-1.2zM392.7 400.6h1.2v1.2h-1.2zM312.2 457.3h1.2v1.2h-1.2zM339.6 436.6h1.2v1.2h-1.2zM275.9 488.2h1.2v1.2h-1.2zM385.0 404.6h1.2v1.2h-1.2zM343.9 437.9h1.2v1.2h-1.2zM374.6 414.4h1.2v1.2h-1.2zM302.6 466.5h1.2v1.2h-1.2zM423.4 373.9h1.2v1.2h-1.2zM372.5 412.4h1.2v1.2h-1.2zM390.6 401.1h1.2v1.2h-1.2zM334.2 443.1h1.2v1.2h-1.2zM335.4 441.8h1.2v1.2h-1.2zM345.6 433.5h1.2v1.2h-1.2zM288.9 479.0h1.2v1.2h-1.2zM286.8 477.6h1.2v1.2h-1.2zM276.6 485.9h1.2v1.2h-1.2zM398.2 394.1h1.2v1.2h-1.2zM293.1 472.3h1.2v1.2h-1.2zM270.6 489.1h1.2v1.2h-1.2zM273.6 486.8h1.2v1.2h-1.2zM275.6 485.2h1.2v1.2h-1.2zM418.1 381.9h1.2v1.2h-1.2zM342.1 437.4h1.2v1.2h-1.2zM288.5 476.7h1.2v1.2h-1.2zM283.1 483.8h1.2v1.2h-1.2zM323.7 449.4h1.2v1.2h-1.2zM431.3 372.2h1.2v1.2h-1.2zM326.5 446.8h1.2v1.2h-1.2zM284.2 481.9h1.2v1.2h-1.2zM293.3 475.3h1.2v1.2h-1.2zM281.5 481.5h1.2v1.2h-1.2zM279.3 486.1h1.2v1.2h-1.2zM393.0 400.4h1.2v1.2h-1.2zM270.5 489.5h1.2v1.2h-1.2zM325.0 448.0h1.2v1.2h-1.2zM271.9 488.8h1.2v1.2h-1.2zM273.7 488.3h1.2v1.2h-1.2zM318.9 456.3h1.2v1.2h-1.2zM301.7 466.3h1.2v1.2h-1.2zM278.5 486.0h1.2v1.2h-1.2zM424.2 376.6h1.2v1.2h-1.2zM345.9 432.7h1.2v1.2h-1.2zM311.0 459.7h1.2v1.2h-1.2zM417.6 382.7h1.2v1.2h-1.2zM276.7 483.9h1.2v1.2h-1.2zM405.8 390.4h1.2v1.2h-1.2zM276.9 486.6h1.2v1.2h-1.2zM301.4 467.9h1.2v1.2h-1.2zM312.6 460.6h1.2v1.2h-1.2zM342.3 436.0h1.2v1.2h-1.2zM304.6 463.0h1.2v1.2h-1.2zM295.8 469.6h1.2v1.2h-1.2zM283.4 478.9h1.2v1.2h-1.2zM368.3 419.5h1.2v1.2h-1.2zM279.8 482.0h1.2v1.2h-1.2zM325.8 448.3h1.2v1.2h-1.2zM304.9 467.4h1.2v1.2h-1.2zM272.0 491.9h1.2v1.2h-1.2zM351.5 427.8h1.2v1.2h-1.2zM309.5 460.1h1.2v1.2h-1.2zM285.6 477.3h1.2v1.2h-1.2zM304.1 465.8h1.2v1.2h-1.2zM384.3 406.7h1.2v1.2h-1.2zM278.2 485.9h1.2v1.2h-1.2zM326.8 446.8h1.2v1.2h-1.2zM290.4 478.4h1.2v1.2h-1.2zM302.2 465.9h1.2v1.2h-1.2zM421.1 376.6h1.2v1.2h-1.2zM280.7 485.7h1.2v1.2h-1.2zM304.3 466.6h1.2v1.2h-1.2zM317.3 456.4h1.2v1.2h-1.2zM338.9 440.3h1.2v1.2h-1.2zM306.4 465.8h1.2v1.2h-1.2zM419.7 381.2h1.2v1.2h-1.2zM363.1 422.1h1.2v1.2h-1.2zM361.0 423.3h1.2v1.2h-1.2zM405.4 390.0h1.2v1.2h-1.2zM277.4 485.2h1.2v1.2h-1.2zM355.1 427.3h1.2v1.2h-1.2zM291.2 473.5h1.2v1.2h-1.2zM285.9 479.5h1.2v1.2h-1.2zM339.1 441.2h1.2v1.2h-1.2zM289.0 475.9h1.2v1.2h-1.2zM381.4 407.4h1.2v1.2h-1.2zM398.7 392.8h1.2v1.2h-1.2zM386.7 401.8h1.2v1.2h-1.2zM289.7 478.4h1.2v1.2h-1.2zM284.3 481.4h1.2v1.2h-1.2zM270.0 490.3h1.2v1.2h-1.2zM302.7 465.6h1.2v1.2h-1.2zM287.8 477.5h1.2v1.2h-1.2zM345.1 436.1h1.2v1.2h-1.2zM411.0 383.2h1.2v1.2h-1.2zM406.3 388.0h1.2v1.2h-1.2zM407.4 389.1h1.2v1.2h-1.2zM378.6 407.9h1.2v1.2h-1.2zM313.9 456.7h1.2v1.2h-1.2zM414.6 381.3h1.2v1.2h-1.2zM418.5 381.5h1.2v1.2h-1.2zM279.9 483.5h1.2v1.2h-1.2zM274.7 489.8h1.2v1.2h-1.2zM303.2 466.6h1.2v1.2h-1.2zM316.6 456.8h1.2v1.2h-1.2zM326.3 449.8h1.2v1.2h-1.2zM282.3 482.2h1.2v1.2h-1.2zM281.6 481.9h1.2v1.2h-1.2zM278.5 484.5h1.2v1.2h-1.2zM291.1 474.9h1.2v1.2h-1.2zM344.1 433.3h1.2v1.2h-1.2zM398.1 397.4h1.2v1.2h-1.2zM310.5 459.0h1.2v1.2h-1.2zM296.6 471.5h1.2v1.2h-1.2zM296.0 473.6h1.2v1.2h-1.2zM282.5 483.7h1.2v1.2h-1.2zM293.6 471.7h1.2v1.2h-1.2zM384.9 403.3h1.2v1.2h-1.2zM405.5 389.5h1.2v1.2h-1.2zM328.3 447.4h1.2v1.2h-1.2zM416.3 380.5h1.2v1.2h-1.2zM298.5 468.1h1.2v1.2h-1.2zM304.4 463.1h1.2v1.2h-1.2zM277.5 485.0h1.2v1.2h-1.2zM274.3 485.7h1.2v1.2h-1.2zM371.8 416.7h1.2v1.2h-1.2zM303.9 464.6h1.2v1.2h-1.2z" fill="#00fdff"/>
<path d="M386.8 332.5h1.2v1.2h-1.2zM363.9 348.7h1.2v1.2h-1.2zM363.3 347.9h1.2v1.2h-1.2zM361.2 351.6h1.2v1.2h-1.2zM387.9 330.7h1.2v1.2h-1.2zM379.0 334.7h1.2v1.2h-1.2zM345.7 363.2h1.2v1.2h-1.2zM371.1 342.4h1.2v1.2h-1.2zM373.4 338.9h1.2v1.2h-1.2zM375.7 340.9h1.2v1.2h-1.2zM348.2 361.9h1.2v1.2h-1.2zM391.6 326.7h1.2v1.2h-1.2zM342.7 364.6h1.2v1.2h-1.2zM372.8 338.8h1.2v1.2h-1.2zM368.7 346.0h1.2v1.2h-1.2zM369.2 341.6h1.2v1.2h-1.2zM361.8 349.8h1.2v1.2h-1.2zM357.4 353.7h1.2v1.2h-1.2zM363.2 350.8h1.2v1.2h-1.2zM375.9 338.1h1.2v1.2h-1.2zM383.3 335.0h1.2v1.2h-1.2zM354.0 354.0h1.2v1.2h-1.2zM372.1 343.8h1.2v1.2h-1.2zM375.5 339.2h1.2v1.2h-1.2zM374.4 339.6h1.2v1.2h-1.2zM330.9 373.3h1.2v1.2h-1.2zM368.0 343.0h1.2v1.2h-1.2zM346.8 361.1h1.2v1.2h-1.2zM356.0 354.2h1.2v1.2h-1.2zM357.7 353.6h1.2v1.2h-1.2zM394.2 325.0h1.2v1.2h-1.2zM388.7 328.6h1.2v1.2h-1.2zM358.4 353.5h1.2v1.2h-1.2zM389.9 329.4h1.2v1.2h-1.2zM395.9 324.7h1.2v1.2h-1.2zM336.9 368.2h1.2v1.2h-1.2zM336.9 367.2h1.2v1.2h-1.2zM382.0 334.9h1.2v1.2h-1.2zM391.6 329.2h1.2v1.2h-1.2zM354.1 356.6h1.2v1.2h-1.2zM352.4 355.3h1.2v1.2h-1.2zM376.3 336.5h1.2v1.2h-1.2zM375.7 340.9h1.2v1.2h-1.2zM365.7 347.4h1.2v1.2h-1.2zM356.3 353.9h1.2v1.2h-1.2zM382.1 331.8h1.2v1.2h-1.2zM362.1 350.4h1.2v1.2h-1.2zM363.7 346.2h1.2v1.2h-1.2zM384.2 332.8h1.2v1.2h-1.2zM376.1 339.5h1.2v1.2h-1.2zM363.7 348.9h1.2v1.2h-1.2zM350.8 358.2h1.2v1.2h-1.2zM362.0 349.8h1.2v1.2h-1.2zM376.3 339.2h1.2v1.2h-1.2zM374.5 339.2h1.2v1.2h-1.2zM365.2 347.5h1.2v1.2h-1.2zM352.0 354.4h1.2v1.2h-1.2zM373.4 340.3h1.2v1.2h-1.2zM382.6 333.4h1.2v1.2h-1.2zM351.3 356.4h1.2v1.2h-1.2zM386.6 330.2h1.2v1.2h-1.2zM379.0 335.5h1.2v1.2h-1.2zM371.9 342.5h1.2v1.2h-1.2zM375.9 336.9h1.2v1.2h-1.2zM348.4 357.5h1.2v1.2h-1.2zM366.3 345.0h1.2v1.2h-1.2zM371.6 342.2h1.2v1.2h-1.2zM371.8 339.7h1.2v1.2h-1.2zM367.3 347.6h1.2v1.2h-1.2zM356.9 355.4h1.2v1.2h-1.2zM369.6 344.3h1.2v1.2h-1.2zM376.7 338.6h1.2v1.2h-1.2zM367.1 345.0h1.2v1.2h-1.2zM359.9 351.4h1.2v1.2h-1.2zM332.4 369.3h1.2v1.2h-1.2zM323.4 380.4h1.2v1.2h-1.2zM387.9 327.8h1.2v1.2h-1.2zM370.3 343.6h1.2v1.2h-1.2zM375.6 340.2h1.2v1.2h-1.2zM383.8 331.6h1.2v1.2h-1.2zM392.7 324.7h1.2v1.2h-1.2zM388.9 328.7h1.2v1.2h-1.2zM392.0 327.0h1.2v1.2h-1.2zM357.3 354.9h1.2v1.2h-1.2zM362.3 349.5h1.2v1.2h-1.2zM382.2 332.1h1.2v1.2h-1.2zM350.4 359.2h1.2v1.2h-1.2zM352.0 358.2h1.2v1.2h-1.2zM356.1 352.0h1.2v1.2h-1.2zM364.2 345.4h1.2v1.2h-1.2zM356.8 352.6h1.2v1.2h-1.2zM375.1 337.4h1.2v1.2h-1.2zM373.5 339.0h1.2v1.2h-1.2zM378.6 334.8h1.2v1.2h-1.2zM373.3 342.9h1.2v1.2h-1.2zM369.6 346.0h1.2v1.2h-1.2zM348.5 358.4h1.2v1.2h-1.2zM379.0 337.9h1.2v1.2h-1.2zM346.4 359.3h1.2v1.2h-1.2zM372.7 339.7h1.2v1.2h-1.2zM396.1 323.2h1.2v1.2h-1.2zM369.2 345.8h1.2v1.2h-1.2zM381.3 334.8h1.2v1.2h-1.2zM357.6 353.7h1.2v1.2h-1.2zM323.6 377.7h1.2v1.2h-1.2zM367.2 343.8h1.2v1.2h-1.2zM376.2 337.5h1.2v1.2h-1.2zM353.5 356.4h1.2v1.2h-1.2zM340.5 363.8h1.2v1.2h-1.2zM364.2 347.6h1.2v1.2h-1.2zM393.5 325.0h1.2v1.2h-1.2zM361.8 347.7h1.2v1.2h-1.2zM361.0 348.2h1.2v1.2h-1.2zM384.5 332.9h1.2v1.2h-1.2zM374.2 341.8h1.2v1.2h-1.2zM380.0 337.9h1.2v1.2h-1.2zM354.1 354.8h1.2v1.2h-1.2zM387.2 331.4h1.2v1.2h-1.2zM365.7 346.4h1.2v1.2h-1.2zM387.2 329.3h1.2v1.2h-1.2zM363.7 346.6h1.2v1.2h-1.2zM394.5 325.4h1.2v1.2h-1.2zM392.6 326.7h1.2v1.2h-1.2zM370.2 345.5h1.2v1.2h-1.2zM329.8 371.6h1.2v1.2h-1.2zM372.3 343.7h1.2v1.2h-1.2zM374.1 338.9h1.2v1.2h-1.2zM383.4 333.9h1.2v1.2h-1.2zM373.0 339.1h1.2v1.2h-1.2zM358.8 352.6h1.2v1.2h-1.2zM357.6 350.4h1.2v1.2h-1.2zM364.1 346.5h1.2v1.2h-1.2zM351.1 357.8h1.2v1.2h-1.2zM358.5 351.1h1.2v1.2h-1.2zM337.8 369.7h1.2v1.2h-1.2zM353.8 353.6h1.2v1.2h-1.2zM368.0 347.1h1.2v1.2h-1.2zM341.4 364.4h1.2v1.2h-1.2zM398.4 323.4h1.2v1.2h-1.2zM367.7 343.7h1.2v1.2h-1.2zM385.6 329.6h1.2v1.2h-1.2zM358.1 353.6h1.2v1.2h-1.2zM358.9 352.3h1.2v1.2h-1.2zM365.5 347.2h1.2v1.2h-1.2zM391.7 325.5h1.2v1.2h-1.2zM385.5 332.6h1.2v1.2h-1.2zM372.2 343.9h1.2v1.2h-1.2zM388.3 328.7h1.2v1.2h-1.2zM378.5 338.3h1.2v1.2h-1.2zM392.4 326.1h1.2v1.2h-1.2zM357.4 352.5h1.2v1.2h-1.2zM341.3 363.1h1.2v1.2h-1.2zM360.8 349.8h1.2v1.2h-1.2zM365.6 348.4h1.2v1.2h-1.2zM371.8 344.1h1.2v1.2h-1.2zM376.2 336.3h1.2v1.2h-1.2zM392.8 326.4h1.2v1.2h-1.2zM367.9 342.8h1.2v1.2h-1.2zM384.3 332.7h1.2v1.2h-1.2zM380.7 333.2h1.2v1.2h-1.2zM344.6 361.8h1.2v1.2h-1.2zM366.1 346.7h1.2v1.2h-1.2zM348.1 360.2h1.2v1.2h-1.2zM362.6 350.3h1.2v1.2h-1.2zM367.9 345.1h1.2v1.2h-1.2zM359.8 351.1h1.2v1.2h-1.2zM373.3 343.3h1.2v1.2h-1.2zM363.5 348.4h1.2v1.2h-1.2zM385.9 329.7h1.2v1.2h-1.2zM390.1 327.6h1.2v1.2h-1.2zM366.8 347.3h1.2v1.2h-1.2zM394.0 325.2h1.2v1.2h-1.2zM333.5 368.7h1.2v1.2h-1.2zM354.7 355.3h1.2v1.2h-1.2zM367.3 345.3h1.2v1.2h-1.2zM377.0 340.3h1.2v1.2h-1.2zM386.4 331.8h1.2v1.2h-1.2zM343.4 364.1h1.2v1.2h-1.2zM344.6 362.4h1.2v1.2h-1.2zM366.9 347.5h1.2v1.2h-1.2zM364.7 348.6h1.2v1.2h-1.2zM353.2 358.2h1.2v1.2h-1.2zM342.8 365.5h1.2v1.2h-1.2zM357.5 350.9h1.2v1.2h-1.2zM342.8 362.5h1.2v1.2h-1.2zM364.6 347.2h1.2v1.2h-1.2zM369.2 342.7h1.2v1.2h-1.2zM368.7 343.4h1.2v1.2h-1.2zM386.0 333.5h1.2v1.2h-1.2zM334.2 368.6h1.2v1.2h-1.2zM343.0 361.8h1.2v1.2h-1.2zM357.5 354.6h1.2v1.2h-1.2zM377.1 339.6h1.2v1.2h-1.2zM352.1 356.8h1.2v1.2h-1.2zM363.5 349.5h1.2v1.2h-1.2zM379.9 334.3h1.2v1.2h-1.2zM394.6 325.8h1.2v1.2h-1.2zM371.4 344.5h1.2v1.2h-1.2zM357.9 354.5h1.2v1.2h-1.2zM354.0 355.3h1.2v1.2h-1.2zM382.0 334.8h1.2v1.2h-1.2zM346.5 361.2h1.2v1.2h-1.2zM368.9 345.5h1.2v1.2h-1.2zM356.2 354.8h1.2v1.2h-1.2zM386.0 332.3h1.2v1.2h-1.2zM383.6 332.8h1.2v1.2h-1.2zM374.4 339.7h1.2v1.2h-1.2zM379.9 335.8h1.2v1.2h-1.2zM373.8 341.9h1.2v1.2h-1.2zM381.5 333.7h1.2v1.2h-1.2zM328.4 376.7h1.2v1.2h-1.2zM370.4 343.4h1.2v1.2h-1.2zM355.3 353.2h1.2v1.2h-1.2zM329.6 374.2h1.2v1.2h-1.2zM348.0 357.6h1.2v1.2h-1.2zM386.0 330.1h1.2v1.2h-1.2zM366.3 346.8h1.2v1.2h-1.2zM381.3 336.4h1.2v1.2h-1.2zM353.2 357.1h1.2v1.2h-1.2zM389.8 329.4h1.2v1.2h-1.2zM333.3 372.7h1.2v1.2h-1.2zM350.2 358.2h1.2v1.2h-1.2zM374.3 339.8h1.2v1.2h-1.2zM390.8 329.3h1.2v1.2h-1.2zM343.8 365.1h1.2v1.2h-1.2zM326.2 377.1h1.2v1.2h-1.2zM356.5 351.5h1.2v1.2h-1.2zM369.8 345.3h1.2v1.2h-1.2zM380.1 337.4h1.2v1.2h-1.2zM354.1 354.4h1.2v1.2h-1.2zM385.3 331.1h1.2v1.2h-1.2zM370.7 343.9h1.2v1.2h-1.2zM370.5 343.6h1.2v1.2h-1.2zM353.6 353.3h1.2v1.2h-1.2zM325.7 376.3h1.2v1.2h-1.2zM390.3 329.4h1.2v1.2h-1.2zM351.8 358.6h1.2v1.2h-1.2zM377.8 335.4h1.2v1.2h-1.2zM363.4 348.1h1.2v1.2h-1.2zM380.1 335.3h1.2v1.2h-1.2zM375.1 339.4h1.2v1.2h-1.2zM389.4 326.4h1.2v1.2h-1.2zM373.6 342.1h1.2v1.2h-1.2zM345.2 363.0h1.2v1.2h-1.2zM358.8 349.8h1.2v1.2h-1.2zM343.2 364.3h1.2v1.2h-1.2zM370.1 341.9h1.2v1.2h-1.2zM340.1 366.2h1.2v1.2h-1.2zM391.7 325.3h1.2v1.2h-1.2zM354.4 353.4h1.2v1.2h-1.2zM358.8 349.7h1.2v1.2h-1.2zM394.1 325.1h1.2v1.2h-1.2zM368.7 346.6h1.2v1.2h-1.2zM346.4 361.8h1.2v1.2h-1.2zM336.6 367.9h1.2v1.2h-1.2zM371.4 344.3h1.2v1.2h-1.2zM368.7 345.3h1.2v1.2h-1.2zM339.1 366.2h1.2v1.2h-1.2zM344.0 363.8h1.2v1.2h-1.2zM359.8 352.0h1.2v1.2h-1.2zM365.5 348.8h1.2v1.2h-1.2zM378.0 335.0h1.2v1.2h-1.2zM371.3 340.5h1.2v1.2h-1.2zM389.5 327.3h1.2v1.2h-1.2zM369.8 344.4h1.2v1.2h-1.2zM365.5 347.8h1.2v1.2h-1.2zM385.5 329.9h1.2v1.2h-1.2zM393.2 324.7h1.2v1.2h-1.2zM373.8 341.9h1.2v1.2h-1.2zM390.2 329.0h1.2v1.2h-1.2zM357.4 352.0h1.2v1.2h-1.2zM379.3 334.3h1.2v1.2h-1.2zM371.8 343.8h1.2v1.2h-1.2zM358.2 353.5h1.2v1.2h-1.2zM377.6 336.1h1.2v1.2h-1.2zM383.6 332.7h1.2v1.2h-1.2zM331.4 373.5h1.2v1.2h-1.2zM368.5 343.7h1.2v1.2h-1.2zM357.1 352.4h1.2v1.2h-1.2zM337.1 368.7h1.2v1.2h-1.2zM385.5 330.8h1.2v1.2h-1.2zM378.0 337.4h1.2v1.2h-1.2zM350.8 355.9h1.2v1.2h-1.2zM353.2 356.1h1.2v1.2h-1.2zM379.3 337.6h1.2v1.2h-1.2zM359.7 349.2h1.2v1.2h-1.2zM396.2 324.3h1.2v1.2h-1.2zM379.4 334.8h1.2v1.2h-1.2zM394.1 327.0h1.2v1.2h-1.2zM354.2 356.0h1.2v1.2h-1.2zM380.6 334.1h1.2v1.2h-1.2zM396.0 324.8h1.2v1.2h-1.2zM369.6 345.4h1.2v1.2h-1.2zM353.8 355.7h1.2v1.2h-1.2zM377.8 335.8h1.2v1.2h-1.2zM365.1 347.2h1.2v1.2h-1.2zM371.0 341.6h1.2v1.2h-1.2zM364.7 345.3h1.2v1.2h-1.2zM352.9 356.1h1.2v1.2h-1.2zM350.6 357.9h1.2v1.2h-1.2zM383.4 335.6h1.2v1.2h-1.2zM384.2 333.6h1.2v1.2h-1.2zM388.2 328.3h1.2v1.2h-1.2zM371.6 340.2h1.2v1.2h-1.2zM351.1 358.4h1.2v1.2h-1.2zM398.4 324.0h1.2v1.2h-1.2zM348.0 358.4h1.2v1.2h-1.2zM390.5 326.5h1.2v1.2h-1.2zM384.7 334.1h1.2v1.2h-1.2zM368.9 343.0h1.2v1.2h-1.2zM389.1 330.3h1.2v1.2h-1.2zM343.4 365.4h1.2v1.2h-1.2zM337.7 369.9h1.2v1.2h-1.2zM375.4 341.2h1.2v1.2h-1.2zM388.4 328.0h1.2v1.2h-1.2zM374.7 340.6h1.2v1.2h-1.2zM355.2 352.1h1.2v1.2h-1.2zM374.7 342.1h1.2v1.2h-1.2zM387.9 330.3h1.2v1.2h-1.2zM348.9 360.6h1.2v1.2h-1.2zM354.5 354.3h1.2v1.2h-1.2zM385.5 330.4h1.2v1.2h-1.2zM379.3 334.6h1.2v1.2h-1.2zM363.3 348.7h1.2v1.2h-1.2zM372.0 343.4h1.2v1.2h-1.2zM376.3 339.1h1.2v1.2h-1.2zM377.3 337.0h1.2v1.2h-1.2zM382.9 335.0h1.2v1.2h-1.2zM385.8 329.8h1.2v1.2h-1.2zM386.2 329.2h1.2v1.2h-1.2zM371.1 342.7h1.2v1.2h-1.2zM363.6 349.3h1.2v1.2h-1.2zM374.6 341.1h1.2v1.2h-1.2zM354.4 352.8h1.2v1.2h-1.2zM387.0 328.9h1.2v1.2h-1.2zM358.5 352.3h1.2v1.2h-1.2zM342.0 366.2h1.2v1.2h-1.2zM372.1 339.9h1.2v1.2h-1.2zM341.9 364.5h1.2v1.2h-1.2zM342.5 363.0h1.2v1.2h-1.2zM359.9 350.6h1.2v1.2h-1.2zM373.5 339.1h1.2v1.2h-1.2zM358.3 351.6h1.2v1.2h-1.2zM391.5 327.5h1.2v1.2h-1.2zM360.4 350.4h1.2v1.2h-1.2zM369.7 345.6h1.2v1.2h-1.2zM373.2 341.1h1.2v1.2h-1.2zM365.8 344.6h1.2v1.2h-1.2zM396.0 326.2h1.2v1.2h-1.2zM373.8 339.6h1.2v1.2h-1.2zM356.5 352.2h1.2v1.2h-1.2zM386.7 328.6h1.2v1.2h-1.2zM361.1 350.1h1.2v1.2h-1.2zM362.8 349.0h1.2v1.2h-1.2zM346.5 362.4h1.2v1.2h-1.2zM359.3 349.4h1.2v1.2h-1.2zM397.9 324.7h1.2v1.2h-1.2zM365.1 346.5h1.2v1.2h-1.2zM379.6 336.6h1.2v1.2h-1.2zM382.9 332.4h1.2v1.2h-1.2zM392.6 327.5h1.2v1.2h-1.2zM365.2 346.5h1.2v1.2h-1.2zM351.4 355.9h1.2v1.2h-1.2zM367.8 345.7h1.2v1.2h-1.2zM368.4 343.9h1.2v1.2h-1.2zM374.7 337.4h1.2v1.2h-1.2zM348.4 358.5h1.2v1.2h-1.2zM369.9 341.3h1.2v1.2h-1.2zM386.0 329.6h1.2v1.2h-1.2zM397.0 322.9h1.2v1.2h-1.2zM360.3 348.4h1.2v1.2h-1.2zM385.5 333.6h1.2v1.2h-1.2zM358.9 352.5h1.2v1.2h-1.2zM389.7 327.9h1.2v1.2h-1.2zM356.7 352.0h1.2v1.2h-1.2zM349.9 359.1h1.2v1.2h-1.2zM392.2 329.0h1.2v1.2h-1.2zM369.8 341.7h1.2v1.2h-1.2zM364.5 349.7h1.2v1.2h-1.2zM365.0 347.5h1.2v1.2h-1.2zM377.2 336.7h1.2v1.2h-1.2zM382.1 332.0h1.2v1.2h-1.2zM371.1 341.8h1.2v1.2h-1.2zM373.7 340.2h1.2v1.2h-1.2zM365.0 348.7h1.2v1.2h-1.2zM399.5 323.0h1.2v1.2h-1.2zM370.7 341.7h1.2v1.2h-1.2zM362.6 350.8h1.2v1.2h-1.2zM323.3 376.2h1.2v1.2h-1.2zM380.1 337.2h1.2v1.2h-1.2zM375.5 338.4h1.2v1.2h-1.2z" fill="#ff9900"/>
<path d="M336.9 392.9h1.2v1.2h-1.2zM347.8 382.2h1.2v1.2h-1.2zM347.4 382.2h1.2v1.2h-1.2zM403.6 342.5h1.2v1.2h-1.2zM328.5 397.0h1.2v1.2h-1.2zM325.5 403.4h1.2v1.2h-1.2zM373.4 365.4h1.2v1.2h-1.2zM387.8 353.2h1.2v1.2h-1.2zM341.2 389.9h1.2v1.2h-1.2zM385.5 355.9h1.2v1.2h-1.2zM338.7 393.2h1.2v1.2h-1.2zM400.7 344.6h1.2v1.2h-1.2zM381.1 360.3h1.2v1.2h-1.2zM405.3 341.2h1.2v1.2h-1.2zM417.3 329.8h1.2v1.2h-1.2zM406.0 339.3h1.2v1.2h-1.2zM366.6 370.1h1.2v1.2h-1.2zM371.1 365.6h1.2v1.2h-1.2zM389.8 350.8h1.2v1.2h-1.2zM391.9 348.8h1.2v1.2h-1.2zM357.2 376.4h1.2v1.2h-1.2zM340.7 391.1h1.2v1.2h-1.2zM368.9 366.8h1.2v1.2h-1.2zM380.0 362.3h1.2v1.2h-1.2zM295.4 425.5h1.2v1.2h-1.2zM334.6 393.5h1.2v1.2h-1.2zM417.6 332.0h1.2v1.2h-1.2zM370.3 368.8h1.2v1.2h-1.2zM330.6 395.4h1.2v1.2h-1.2zM372.4 367.7h1.2v1.2h-1.2zM375.2 361.7h1.2v1.2h-1.2zM323.1 402.4h1.2v1.2h-1.2zM373.2 366.0h1.2v1.2h-1.2zM355.2 380.2h1.2v1.2h-1.2zM369.7 365.6h1.2v1.2h-1.2zM375.9 363.3h1.2v1.2h-1.2zM336.9 394.3h1.2v1.2h-1.2zM402.7 343.8h1.2v1.2h-1.2zM415.0 334.7h1.2v1.2h-1.2zM422.6 330.5h1.2v1.2h-1.2zM331.2 397.9h1.2v1.2h-1.2zM345.2 384.9h1.2v1.2h-1.2zM420.9 329.9h1.2v1.2h-1.2zM355.1 379.6h1.2v1.2h-1.2zM412.7 336.0h1.2v1.2h-1.2zM358.5 376.8h1.2v1.2h-1.2zM363.5 370.3h1.2v1.2h-1.2zM387.6 352.6h1.2v1.2h-1.2zM380.9 358.9h1.2v1.2h-1.2zM373.6 362.8h1.2v1.2h-1.2zM348.6 384.3h1.2v1.2h-1.2zM417.7 330.1h1.2v1.2h-1.2zM337.6 393.5h1.2v1.2h-1.2zM353.8 381.8h1.2v1.2h-1.2zM365.3 373.3h1.2v1.2h-1.2zM372.5 365.6h1.2v1.2h-1.2zM325.9 402.0h1.2v1.2h-1.2zM363.7 373.0h1.2v1.2h-1.2zM364.1 369.9h1.2v1.2h-1.2zM376.1 361.6h1.2v1.2h-1.2zM323.3 402.3h1.2v1.2h-1.2zM366.6 369.6h1.2v1.2h-1.2zM364.1 371.4h1.2v1.2h-1.2zM379.7 360.3h1.2v1.2h-1.2zM357.4 375.6h1.2v1.2h-1.2zM368.2 368.1h1.2v1.2h-1.2zM354.3 379.3h1.2v1.2h-1.2zM405.6 338.7h1.2v1.2h-1.2zM402.7 341.9h1.2v1.2h-1.2zM356.5 378.5h1.2v1.2h-1.2zM342.6 388.9h1.2v1.2h-1.2zM418.0 332.1h1.2v1.2h-1.2zM358.3 375.7h1.2v1.2h-1.2zM340.7 392.0h1.2v1.2h-1.2zM425.9 324.8h1.2v1.2h-1.2zM367.3 371.3h1.2v1.2h-1.2zM338.0 391.5h1.2v1.2h-1.2zM336.3 395.2h1.2v1.2h-1.2zM421.7 329.0h1.2v1.2h-1.2zM362.9 373.6h1.2v1.2h-1.2zM338.1 392.2h1.2v1.2h-1.2zM346.7 384.2h1.2v1.2h-1.2zM420.2 330.4h1.2v1.2h-1.2zM356.7 379.7h1.2v1.2h-1.2zM414.4 336.3h1.2v1.2h-1.2zM402.8 340.6h1.2v1.2h-1.2zM337.3 394.5h1.2v1.2h-1.2zM369.8 367.5h1.2v1.2h-1.2zM348.6 383.7h1.2v1.2h-1.2zM364.5 370.4h1.2v1.2h-1.2zM301.2 417.5h1.2v1.2h-1.2zM415.0 332.0h1.2v1.2h-1.2zM398.8 347.0h1.2v1.2h-1.2zM374.1 362.3h1.2v1.2h-1.2zM380.4 358.8h1.2v1.2h-1.2zM404.6 341.1h1.2v1.2h-1.2zM388.1 352.6h1.2v1.2h-1.2zM377.8 363.4h1.2v1.2h-1.2zM372.1 364.7h1.2v1.2h-1.2zM362.4 372.4h1.2v1.2h-1.2zM396.1 347.8h1.2v1.2h-1.2zM390.6 350.5h1.2v1.2h-1.2zM421.9 328.7h1.2v1.2h-1.2zM407.8 340.0h1.2v1.2h-1.2zM380.5 361.9h1.2v1.2h-1.2zM420.6 331.7h1.2v1.2h-1.2zM376.6 364.3h1.2v1.2h-1.2zM349.5 383.6h1.2v1.2h-1.2zM376.5 361.7h1.2v1.2h-1.2zM399.5 344.8h1.2v1.2h-1.2zM360.9 375.1h1.2v1.2h-1.2zM387.8 354.2h1.2v1.2h-1.2zM357.1 379.6h1.2v1.2h-1.2zM339.8 390.6h1.2v1.2h-1.2zM350.1 384.5h1.2v1.2h-1.2zM374.6 363.0h1.2v1.2h-1.2zM291.4 427.0h1.2v1.2h-1.2zM337.5 393.8h1.2v1.2h-1.2zM310.5 411.8h1.2v1.2h-1.2zM354.0 382.0h1.2v1.2h-1.2zM421.9 329.8h1.2v1.2h-1.2zM348.0 385.9h1.2v1.2h-1.2zM415.5 333.6h1.2v1.2h-1.2zM352.3 378.9h1.2v1.2h-1.2zM322.6 404.0h1.2v1.2h-1.2zM364.4 370.5h1.2v1.2h-1.2zM360.9 375.8h1.2v1.2h-1.2zM354.6 378.2h1.2v1.2h-1.2zM379.3 362.8h1.2v1.2h-1.2zM399.1 344.5h1.2v1.2h-1.2zM315.1 409.7h1.2v1.2h-1.2zM329.9 398.7h1.2v1.2h-1.2zM415.5 333.0h1.2v1.2h-1.2zM359.7 375.1h1.2v1.2h-1.2zM379.9 360.6h1.2v1.2h-1.2zM350.3 381.2h1.2v1.2h-1.2zM355.2 380.8h1.2v1.2h-1.2zM420.9 331.3h1.2v1.2h-1.2zM342.0 389.2h1.2v1.2h-1.2zM378.9 362.0h1.2v1.2h-1.2zM391.4 351.8h1.2v1.2h-1.2zM321.3 406.6h1.2v1.2h-1.2zM368.4 367.4h1.2v1.2h-1.2zM425.7 326.8h1.2v1.2h-1.2zM399.2 343.6h1.2v1.2h-1.2zM339.8 390.2h1.2v1.2h-1.2zM374.6 364.9h1.2v1.2h-1.2zM298.6 420.1h1.2v1.2h-1.2zM384.4 358.0h1.2v1.2h-1.2zM361.9 373.7h1.2v1.2h-1.2zM344.1 389.1h1.2v1.2h-1.2zM420.3 331.9h1.2v1.2h-1.2zM365.0 369.0h1.2v1.2h-1.2zM346.9 385.7h1.2v1.2h-1.2zM359.1 373.9h1.2v1.2h-1.2zM369.1 369.7h1.2v1.2h-1.2zM344.9 384.8h1.2v1.2h-1.2zM365.3 372.3h1.2v1.2h-1.2zM382.6 356.5h1.2v1.2h-1.2zM400.6 346.1h1.2v1.2h-1.2zM405.5 341.4h1.2v1.2h-1.2zM357.2 375.4h1.2v1.2h-1.2zM363.8 373.5h1.2v1.2h-1.2zM371.9 366.1h1.2v1.2h-1.2zM364.8 370.9h1.2v1.2h-1.2zM377.6 364.2h1.2v1.2h-1.2zM365.0 372.4h1.2v1.2h-1.2zM332.7 393.6h1.2v1.2h-1.2zM371.1 367.4h1.2v1.2h-1.2zM359.3 374.2h1.2v1.2h-1.2zM397.1 347.9h1.2v1.2h-1.2zM338.1 391.7h1.2v1.2h-1.2zM356.1 377.3h1.2v1.2h-1.2zM375.5 361.8h1.2v1.2h-1.2zM417.7 333.6h1.2v1.2h-1.2zM386.3 357.1h1.2v1.2h-1.2zM409.5 338.6h1.2v1.2h-1.2zM357.3 376.1h1.2v1.2h-1.2zM341.2 388.1h1.2v1.2h-1.2zM353.2 382.1h1.2v1.2h-1.2zM314.1 409.1h1.2v1.2h-1.2zM352.7 378.2h1.2v1.2h-1.2zM385.8 356.7h1.2v1.2h-1.2zM331.1 397.8h1.2v1.2h-1.2zM413.5 335.1h1.2v1.2h-1.2zM366.9 371.0h1.2v1.2h-1.2zM369.5 368.4h1.2v1.2h-1.2zM375.6 360.9h1.2v1.2h-1.2zM330.4 397.9h1.2v1.2h-1.2zM360.0 375.4h1.2v1.2h-1.2zM387.7 355.2h1.2v1.2h-1.2zM376.6 363.2h1.2v1.2h-1.2zM317.5 407.8h1.2v1.2h-1.2zM351.0 380.7h1.2v1.2h-1.2zM374.4 366.1h1.2v1.2h-1.2zM340.2 390.5h1.2v1.2h-1.2zM352.1 382.6h1.2v1.2h-1.2zM378.0 361.1h1.2v1.2h-1.2zM304.7 414.2h1.2v1.2h-1.2zM391.0 351.2h1.2v1.2h-1.2zM384.8 356.0h1.2v1.2h-1.2zM388.6 355.9h1.2v1.2h-1.2zM315.8 406.8h1.2v1.2h-1.2zM373.8 365.0h1.2v1.2h-1.2zM370.4 366.1h1.2v1.2h-1.2zM356.2 377.0h1.2v1.2h-1.2zM415.1 331.5h1.2v1.2h-1.2zM387.1 352.4h1.2v1.2h-1.2zM376.3 362.5h1.2v1.2h-1.2zM383.3 358.1h1.2v1.2h-1.2zM382.0 358.9h1.2v1.2h-1.2zM381.5 360.0h1.2v1.2h-1.2zM358.9 375.4h1.2v1.2h-1.2zM360.2 376.3h1.2v1.2h-1.2zM333.1 394.4h1.2v1.2h-1.2zM408.7 338.3h1.2v1.2h-1.2zM427.8 325.0h1.2v1.2h-1.2zM353.7 379.9h1.2v1.2h-1.2zM395.2 349.5h1.2v1.2h-1.2zM395.3 348.9h1.2v1.2h-1.2zM403.1 343.6h1.2v1.2h-1.2zM408.3 341.1h1.2v1.2h-1.2zM425.6 324.1h1.2v1.2h-1.2zM363.0 372.4h1.2v1.2h-1.2zM372.1 365.4h1.2v1.2h-1.2zM408.1 339.5h1.2v1.2h-1.2zM408.4 338.1h1.2v1.2h-1.2zM313.4 409.9h1.2v1.2h-1.2zM353.5 380.0h1.2v1.2h-1.2zM384.2 358.3h1.2v1.2h-1.2zM347.3 383.5h1.2v1.2h-1.2zM376.4 364.4h1.2v1.2h-1.2zM384.1 356.5h1.2v1.2h-1.2zM408.8 336.2h1.2v1.2h-1.2zM386.2 355.6h1.2v1.2h-1.2zM304.8 417.2h1.2v1.2h-1.2zM347.6 384.6h1.2v1.2h-1.2zM410.1 336.2h1.2v1.2h-1.2zM327.2 399.2h1.2v1.2h-1.2zM367.1 370.3h1.2v1.2h-1.2zM325.0 402.1h1.2v1.2h-1.2zM343.7 388.0h1.2v1.2h-1.2zM419.3 328.9h1.2v1.2h-1.2zM338.3 391.1h1.2v1.2h-1.2zM407.2 339.2h1.2v1.2h-1.2zM424.4 325.5h1.2v1.2h-1.2zM362.5 374.7h1.2v1.2h-1.2zM410.2 338.6h1.2v1.2h-1.2zM379.1 359.8h1.2v1.2h-1.2zM377.4 361.3h1.2v1.2h-1.2zM365.4 369.0h1.2v1.2h-1.2zM349.7 382.3h1.2v1.2h-1.2zM360.4 374.6h1.2v1.2h-1.2zM391.1 354.0h1.2v1.2h-1.2zM356.3 375.8h1.2v1.2h-1.2zM326.2 400.8h1.2v1.2h-1.2zM418.3 332.8h1.2v1.2h-1.2zM373.1 367.2h1.2v1.2h-1.2zM424.7 327.8h1.2v1.2h-1.2zM376.7 360.7h1.2v1.2h-1.2zM400.2 346.9h1.2v1.2h-1.2zM354.0 378.7h1.2v1.2h-1.2zM367.6 368.9h1.2v1.2h-1.2zM351.0 383.7h1.2v1.2h-1.2zM417.8 330.7h1.2v1.2h-1.2zM384.0 357.4h1.2v1.2h-1.2zM363.7 370.9h1.2v1.2h-1.2zM412.8 334.9h1.2v1.2h-1.2zM419.3 332.8h1.2v1.2h-1.2zM403.4 344.5h1.2v1.2h-1.2zM373.7 366.6h1.2v1.2h-1.2zM405.2 340.1h1.2v1.2h-1.2zM336.0 392.8h1.2v1.2h-1.2zM357.4 377.9h1.2v1.2h-1.2zM417.4 330.0h1.2v1.2h-1.2zM349.0 381.0h1.2v1.2h-1.2zM363.6 371.1h1.2v1.2h-1.2zM362.1 372.9h1.2v1.2h-1.2zM369.3 368.4h1.2v1.2h-1.2zM336.8 391.5h1.2v1.2h-1.2zM388.7 353.1h1.2v1.2h-1.2zM372.5 367.5h1.2v1.2h-1.2zM391.1 350.6h1.2v1.2h-1.2zM393.2 351.9h1.2v1.2h-1.2zM378.1 359.7h1.2v1.2h-1.2zM338.7 391.8h1.2v1.2h-1.2zM354.6 379.3h1.2v1.2h-1.2zM335.5 393.0h1.2v1.2h-1.2zM399.6 346.9h1.2v1.2h-1.2zM373.7 367.2h1.2v1.2h-1.2zM334.0 394.3h1.2v1.2h-1.2zM390.2 351.0h1.2v1.2h-1.2zM417.9 331.2h1.2v1.2h-1.2zM340.2 390.5h1.2v1.2h-1.2zM369.5 365.7h1.2v1.2h-1.2zM334.9 396.4h1.2v1.2h-1.2zM346.5 385.9h1.2v1.2h-1.2zM378.4 358.9h1.2v1.2h-1.2zM351.5 379.1h1.2v1.2h-1.2zM420.7 328.5h1.2v1.2h-1.2zM381.9 356.6h1.2v1.2h-1.2zM418.2 329.0h1.2v1.2h-1.2zM394.8 350.4h1.2v1.2h-1.2zM325.1 400.6h1.2v1.2h-1.2zM419.3 332.0h1.2v1.2h-1.2zM397.8 345.3h1.2v1.2h-1.2zM374.8 364.2h1.2v1.2h-1.2zM327.2 397.5h1.2v1.2h-1.2zM352.4 379.4h1.2v1.2h-1.2zM344.1 385.1h1.2v1.2h-1.2zM368.2 370.9h1.2v1.2h-1.2zM317.7 408.1h1.2v1.2h-1.2zM359.4 373.8h1.2v1.2h-1.2zM402.6 342.1h1.2v1.2h-1.2zM390.2 351.2h1.2v1.2h-1.2zM395.9 347.4h1.2v1.2h-1.2zM385.4 355.4h1.2v1.2h-1.2zM419.4 332.6h1.2v1.2h-1.2zM394.8 350.6h1.2v1.2h-1.2zM374.6 365.8h1.2v1.2h-1.2zM384.6 358.1h1.2v1.2h-1.2zM380.6 360.4h1.2v1.2h-1.2zM324.7 400.1h1.2v1.2h-1.2zM347.3 382.8h1.2v1.2h-1.2zM409.4 336.2h1.2v1.2h-1.2zM406.3 340.7h1.2v1.2h-1.2zM303.9 417.0h1.2v1.2h-1.2zM367.8 369.9h1.2v1.2h-1.2zM423.6 327.3h1.2v1.2h-1.2zM391.2 352.8h1.2v1.2h-1.2zM349.0 381.5h1.2v1.2h-1.2zM412.2 334.3h1.2v1.2h-1.2zM385.1 354.4h1.2v1.2h-1.2zM376.7 361.7h1.2v1.2h-1.2zM371.2 365.7h1.2v1.2h-1.2zM394.7 349.8h1.2v1.2h-1.2zM351.2 381.5h1.2v1.2h-1.2zM398.9 345.2h1.2v1.2h-1.2zM331.1 399.0h1.2v1.2h-1.2zM411.6 335.5h1.2v1.2h-1.2zM360.5 373.7h1.2v1.2h-1.2zM321.0 405.6h1.2v1.2h-1.2zM362.2 375.2h1.2v1.2h-1.2zM383.2 358.0h1.2v1.2h-1.2zM332.5 394.3h1.2v1.2h-1.2zM372.2 364.3h1.2v1.2h-1.2zM328.0 401.1h1.2v1.2h-1.2zM397.9 344.9h1.2v1.2h-1.2zM339.4 389.7h1.2v1.2h-1.2zM366.9 371.0h1.2v1.2h-1.2zM327.0 400.4h1.2v1.2h-1.2zM403.5 340.3h1.2v1.2h-1.2zM428.0 325.8h1.2v1.2h-1.2zM394.3 347.1h1.2v1.2h-1.2zM321.2 404.2h1.2v1.2h-1.2zM407.6 337.7h1.2v1.2h-1.2zM359.5 377.7h1.2v1.2h-1.2zM400.1 347.2h1.2v1.2h-1.2zM377.1 362.7h1.2v1.2h-1.2zM375.0 362.8h1.2v1.2h-1.2zM422.1 326.8h1.2v1.2h-1.2zM389.9 352.3h1.2v1.2h-1.2zM402.4 342.0h1.2v1.2h-1.2zM367.8 370.1h1.2v1.2h-1.2zM380.9 359.7h1.2v1.2h-1.2zM306.7 416.4h1.2v1.2h-1.2zM381.0 359.2h1.2v1.2h-1.2zM369.5 368.7h1.2v1.2h-1.2zM321.3 403.5h1.2v1.2h-1.2zM413.5 332.8h1.2v1.2h-1.2zM380.4 360.1h1.2v1.2h-1.2zM412.3 335.9h1.2v1.2h-1.2zM359.7 377.1h1.2v1.2h-1.2zM367.1 371.4h1.2v1.2h-1.2zM355.0 378.6h1.2v1.2h-1.2zM391.0 351.3h1.2v1.2h-1.2zM395.4 350.1h1.2v1.2h-1.2zM321.1 404.9h1.2v1.2h-1.2zM409.6 335.8h1.2v1.2h-1.2zM369.6 368.4h1.2v1.2h-1.2zM404.5 343.1h1.2v1.2h-1.2zM336.2 394.9h1.2v1.2h-1.2zM382.6 357.5h1.2v1.2h-1.2zM415.3 334.9h1.2v1.2h-1.2zM336.4 392.5h1.2v1.2h-1.2zM385.7 354.2h1.2v1.2h-1.2zM361.7 372.1h1.2v1.2h-1.2zM371.2 367.3h1.2v1.2h-1.2zM379.2 359.9h1.2v1.2h-1.2zM368.7 370.9h1.2v1.2h-1.2zM416.7 332.7h1.2v1.2h-1.2zM404.1 342.9h1.2v1.2h-1.2zM378.4 361.0h1.2v1.2h-1.2zM385.0 355.1h1.2v1.2h-1.2zM422.7 329.4h1.2v1.2h-1.2zM321.5 404.8h1.2v1.2h-1.2zM406.0 341.3h1.2v1.2h-1.2zM359.7 377.7h1.2v1.2h-1.2zM392.5 349.1h1.2v1.2h-1.2zM350.5 383.6h1.2v1.2h-1.2zM390.6 352.1h1.2v1.2h-1.2zM369.7 365.5h1.2v1.2h-1.2zM400.0 347.0h1.2v1.2h-1.2zM393.4 350.7h1.2v1.2h-1.2zM415.0 334.7h1.2v1.2h-1.2zM386.2 356.0h1.2v1.2h-1.2zM366.9 367.5h1.2v1.2h-1.2zM387.2 355.1h1.2v1.2h-1.2zM350.7 381.4h1.2v1.2h-1.2zM310.3 410.3h1.2v1.2h-1.2zM390.8 350.0h1.2v1.2h-1.2zM377.6 362.1h1.2v1.2h-1.2zM401.1 346.3h1.2v1.2h-1.2zM368.5 370.0h1.2v1.2h-1.2zM410.3 337.3h1.2v1.2h-1.2zM368.2 369.2h1.2v1.2h-1.2zM418.4 329.3h1.2v1.2h-1.2zM324.3 403.7h1.2v1.2h-1.2zM409.5 338.8h1.2v1.2h-1.2zM372.8 364.1h1.2v1.2h-1.2zM379.8 361.9h1.2v1.2h-1.2zM340.3 391.5h1.2v1.2h-1.2zM298.5 423.3h1.2v1.2h-1.2zM357.0 377.3h1.2v1.2h-1.2zM401.2 343.1h1.2v1.2h-1.2zM410.8 338.7h1.2v1.2h-1.2zM400.7 342.7h1.2v1.2h-1.2zM342.0 387.8h1.2v1.2h-1.2zM402.2 342.7h1.2v1.2h-1.2zM374.9 361.6h1.2v1.2h-1.2zM399.8 346.7h1.2v1.2h-1.2zM363.3 372.9h1.2v1.2h-1.2zM372.1 367.6h1.2v1.2h-1.2zM369.1 367.3h1.2v1.2h-1.2zM387.0 353.3h1.2v1.2h-1.2zM414.0 335.4h1.2v1.2h-1.2zM331.9 397.8h1.2v1.2h-1.2zM329.5 397.4h1.2v1.2h-1.2zM406.2 340.6h1.2v1.2h-1.2zM423.1 326.4h1.2v1.2h-1.2zM344.1 388.3h1.2v1.2h-1.2zM358.1 375.9h1.2v1.2h-1.2zM428.6 325.5h1.2v1.2h-1.2zM386.4 354.3h1.2v1.2h-1.2zM369.1 370.6h1.2v1.2h-1.2zM389.1 355.1h1.2v1.2h-1.2zM419.9 328.2h1.2v1.2h-1.2zM302.7 418.8h1.2v1.2h-1.2zM351.6 382.9h1.2v1.2h-1.2zM380.2 360.3h1.2v1.2h-1.2zM403.3 340.3h1.2v1.2h-1.2zM400.0 344.3h1.2v1.2h-1.2zM344.8 385.7h1.2v1.2h-1.2zM362.2 374.6h1.2v1.2h-1.2zM357.4 375.5h1.2v1.2h-1.2zM412.8 334.0h1.2v1.2h-1.2zM342.8 388.4h1.2v1.2h-1.2zM357.8 379.1h1.2v1.2h-1.2zM394.5 347.5h1.2v1.2h-1.2zM317.8 406.6h1.2v1.2h-1.2zM366.3 368.0h1.2v1.2h-1.2zM391.7 349.6h1.2v1.2h-1.2zM391.8 350.1h1.2v1.2h-1.2zM420.1 329.6h1.2v1.2h-1.2zM329.4 398.7h1.2v1.2h-1.2zM383.4 355.5h1.2v1.2h-1.2zM388.0 354.2h1.2v1.2h-1.2zM383.2 357.6h1.2v1.2h-1.2zM404.9 343.7h1.2v1.2h-1.2zM405.2 339.7h1.2v1.2h-1.2zM330.6 399.2h1.2v1.2h-1.2zM388.9 353.6h1.2v1.2h-1.2zM385.4 358.3h1.2v1.2h-1.2zM367.5 368.9h1.2v1.2h-1.2zM338.2 392.0h1.2v1.2h-1.2zM356.9 375.7h1.2v1.2h-1.2zM354.4 377.7h1.2v1.2h-1.2zM362.8 370.7h1.2v1.2h-1.2zM333.4 395.0h1.2v1.2h-1.2zM363.3 374.8h1.2v1.2h-1.2zM398.0 345.1h1.2v1.2h-1.2zM362.7 374.2h1.2v1.2h-1.2zM421.1 328.8h1.2v1.2h-1.2zM412.1 335.9h1.2v1.2h-1.2zM350.0 384.1h1.2v1.2h-1.2zM329.0 397.3h1.2v1.2h-1.2zM359.6 375.1h1.2v1.2h-1.2zM358.8 373.8h1.2v1.2h-1.2zM374.9 364.0h1.2v1.2h-1.2zM377.1 363.9h1.2v1.2h-1.2zM374.3 365.0h1.2v1.2h-1.2zM363.4 373.2h1.2v1.2h-1.2zM382.5 358.9h1.2v1.2h-1.2zM412.3 336.1h1.2v1.2h-1.2zM424.5 328.7h1.2v1.2h-1.2zM419.8 328.0h1.2v1.2h-1.2zM369.0 369.1h1.2v1.2h-1.2zM353.5 378.9h1.2v1.2h-1.2zM341.5 388.7h1.2v1.2h-1.2zM384.4 358.2h1.2v1.2h-1.2zM384.9 354.1h1.2v1.2h-1.2zM426.7 325.6h1.2v1.2h-1.2zM365.9 368.5h1.2v1.2h-1.2zM366.5 368.0h1.2v1.2h-1.2zM423.6 328.7h1.2v1.2h-1.2zM326.1 402.5h1.2v1.2h-1.2zM373.2 364.3h1.2v1.2h-1.2zM333.6 394.1h1.2v1.2h-1.2zM368.6 367.7h1.2v1.2h-1.2zM384.2 355.0h1.2v1.2h-1.2zM324.5 403.3h1.2v1.2h-1.2zM425.5 327.6h1.2v1.2h-1.2zM354.6 379.1h1.2v1.2h-1.2zM418.4 329.8h1.2v1.2h-1.2zM373.6 365.8h1.2v1.2h-1.2zM403.5 340.0h1.2v1.2h-1.2zM378.6 360.9h1.2v1.2h-1.2zM347.5 385.7h1.2v1.2h-1.2zM382.0 360.6h1.2v1.2h-1.2zM385.7 354.5h1.2v1.2h-1.2zM316.0 409.2h1.2v1.2h-1.2zM373.9 363.0h1.2v1.2h-1.2zM418.1 332.4h1.2v1.2h-1.2zM393.8 351.2h1.2v1.2h-1.2zM318.2 408.4h1.2v1.2h-1.2zM324.1 401.0h1.2v1.2h-1.2zM408.3 336.7h1.2v1.2h-1.2zM407.3 338.9h1.2v1.2h-1.2zM407.9 336.9h1.2v1.2h-1.2zM414.5 335.5h1.2v1.2h-1.2zM406.4 338.6h1.2v1.2h-1.2zM329.6 396.0h1.2v1.2h-1.2zM361.0 373.1h1.2v1.2h-1.2zM391.0 351.5h1.2v1.2h-1.2zM399.9 346.6h1.2v1.2h-1.2zM390.2 350.2h1.2v1.2h-1.2zM382.2 359.2h1.2v1.2h-1.2zM361.1 373.1h1.2v1.2h-1.2zM363.7 371.5h1.2v1.2h-1.2zM384.0 357.5h1.2v1.2h-1.2zM394.0 350.2h1.2v1.2h-1.2zM397.4 348.4h1.2v1.2h-1.2zM399.9 345.1h1.2v1.2h-1.2zM390.4 350.5h1.2v1.2h-1.2zM337.8 392.9h1.2v1.2h-1.2zM387.2 353.3h1.2v1.2h-1.2zM394.1 347.7h1.2v1.2h-1.2zM373.7 366.4h1.2v1.2h-1.2zM323.6 402.2h1.2v1.2h-1.2zM360.6 373.9h1.2v1.2h-1.2zM347.9 386.6h1.2v1.2h-1.2zM356.9 376.4h1.2v1.2h-1.2zM403.5 341.6h1.2v1.2h-1.2zM356.8 378.0h1.2v1.2h-1.2zM406.1 338.6h1.2v1.2h-1.2zM335.2 393.0h1.2v1.2h-1.2zM326.1 402.4h1.2v1.2h-1.2zM412.2 334.7h1.2v1.2h-1.2zM420.1 332.3h1.2v1.2h-1.2zM424.1 325.0h1.2v1.2h-1.2zM420.3 330.4h1.2v1.2h-1.2zM403.2 342.1h1.2v1.2h-1.2zM372.3 366.3h1.2v1.2h-1.2zM364.9 371.9h1.2v1.2h-1.2zM357.3 377.8h1.2v1.2h-1.2zM419.5 330.6h1.2v1.2h-1.2zM421.6 331.1h1.2v1.2h-1.2zM385.8 354.7h1.2v1.2h-1.2zM404.1 344.3h1.2v1.2h-1.2zM410.9 337.9h1.2v1.2h-1.2zM391.0 354.1h1.2v1.2h-1.2zM407.4 337.7h1.2v1.2h-1.2zM380.5 361.4h1.2v1.2h-1.2zM343.7 386.1h1.2v1.2h-1.2zM342.0 387.3h1.2v1.2h-1.2zM415.2 332.8h1.2v1.2h-1.2zM403.4 342.6h1.2v1.2h-1.2zM350.6 382.2h1.2v1.2h-1.2zM367.7 370.2h1.2v1.2h-1.2zM375.0 361.8h1.2v1.2h-1.2zM403.0 344.6h1.2v1.2h-1.2zM410.6 338.6h1.2v1.2h-1.2zM374.6 362.3h1.2v1.2h-1.2zM421.1 327.6h1.2v1.2h-1.2zM371.0 365.2h1.2v1.2h-1.2zM389.6 354.7h1.2v1.2h-1.2zM358.8 375.9h1.2v1.2h-1.2zM326.1 402.4h1.2v1.2h-1.2zM397.0 346.5h1.2v1.2h-1.2zM412.3 334.3h1.2v1.2h-1.2zM364.9 370.8h1.2v1.2h-1.2zM382.0 358.6h1.2v1.2h-1.2zM337.4 392.7h1.2v1.2h-1.2zM425.4 325.9h1.2v1.2h-1.2zM369.0 366.6h1.2v1.2h-1.2zM391.1 352.3h1.2v1.2h-1.2zM386.3 354.6h1.2v1.2h-1.2zM410.3 337.0h1.2v1.2h-1.2zM381.8 358.6h1.2v1.2h-1.2zM351.4 380.7h1.2v1.2h-1.2zM374.7 366.2h1.2v1.2h-1.2zM404.8 341.6h1.2v1.2h-1.2zM416.0 333.0h1.2v1.2h-1.2zM420.8 329.1h1.2v1.2h-1.2zM388.8 355.7h1.2v1.2h-1.2zM370.2 365.9h1.2v1.2h-1.2zM328.0 398.9h1.2v1.2h-1.2zM366.2 370.6h1.2v1.2h-1.2zM379.7 358.1h1.2v1.2h-1.2zM323.6 402.3h1.2v1.2h-1.2zM418.0 329.5h1.2v1.2h-1.2zM351.4 379.9h1.2v1.2h-1.2zM329.5 396.0h1.2v1.2h-1.2zM409.2 335.7h1.2v1.2h-1.2zM391.7 349.0h1.2v1.2h-1.2zM400.4 343.1h1.2v1.2h-1.2zM364.7 370.7h1.2v1.2h-1.2zM327.1 400.7h1.2v1.2h-1.2zM384.9 355.2h1.2v1.2h-1.2zM361.9 372.4h1.2v1.2h-1.2zM345.0 386.6h1.2v1.2h-1.2zM398.9 348.2h1.2v1.2h-1.2zM348.2 382.6h1.2v1.2h-1.2zM403.1 342.4h1.2v1.2h-1.2zM355.5 377.0h1.2v1.2h-1.2zM405.1 342.0h1.2v1.2h-1.2zM373.3 363.9h1.2v1.2h-1.2zM398.2 344.5h1.2v1.2h-1.2zM356.3 378.1h1.2v1.2h-1.2zM395.5 348.9h1.2v1.2h-1.2zM405.8 340.2h1.2v1.2h-1.2zM381.4 359.2h1.2v1.2h-1.2zM406.1 341.8h1.2v1.2h-1.2zM336.0 391.9h1.2v1.2h-1.2zM368.5 367.7h1.2v1.2h-1.2zM395.8 349.3h1.2v1.2h-1.2zM369.1 368.7h1.2v1.2h-1.2zM355.9 377.4h1.2v1.2h-1.2zM325.9 402.2h1.2v1.2h-1.2zM424.9 325.1h1.2v1.2h-1.2zM403.0 342.0h1.2v1.2h-1.2zM335.4 392.5h1.2v1.2h-1.2zM340.3 390.2h1.2v1.2h-1.2zM400.5 346.6h1.2v1.2h-1.2zM403.5 342.4h1.2v1.2h-1.2zM401.3 343.2h1.2v1.2h-1.2zM370.6 366.0h1.2v1.2h-1.2zM380.7 358.2h1.2v1.2h-1.2zM370.3 365.1h1.2v1.2h-1.2zM337.8 390.3h1.2v1.2h-1.2zM408.8 338.3h1.2v1.2h-1.2zM408.4 338.1h1.2v1.2h-1.2zM366.9 368.8h1.2v1.2h-1.2zM372.4 363.5h1.2v1.2h-1.2zM373.8 364.2h1.2v1.2h-1.2zM297.4 422.3h1.2v1.2h-1.2zM375.8 363.8h1.2v1.2h-1.2zM339.3 389.7h1.2v1.2h-1.2zM356.3 379.3h1.2v1.2h-1.2zM341.5 389.0h1.2v1.2h-1.2zM365.7 369.4h1.2v1.2h-1.2zM333.7 394.7h1.2v1.2h-1.2zM412.4 335.9h1.2v1.2h-1.2zM393.2 351.1h1.2v1.2h-1.2zM361.3 373.7h1.2v1.2h-1.2zM414.3 332.3h1.2v1.2h-1.2zM380.2 357.9h1.2v1.2h-1.2zM376.5 362.2h1.2v1.2h-1.2zM419.9 329.9h1.2v1.2h-1.2zM425.4 324.9h1.2v1.2h-1.2zM383.6 358.7h1.2v1.2h-1.2zM395.0 350.8h1.2v1.2h-1.2zM362.5 372.9h1.2v1.2h-1.2zM314.7 410.2h1.2v1.2h-1.2zM384.4 356.2h1.2v1.2h-1.2zM381.9 359.3h1.2v1.2h-1.2zM334.8 395.0h1.2v1.2h-1.2zM376.6 361.2h1.2v1.2h-1.2zM322.7 405.3h1.2v1.2h-1.2zM336.7 390.7h1.2v1.2h-1.2zM367.0 370.8h1.2v1.2h-1.2zM349.0 384.6h1.2v1.2h-1.2zM375.8 362.7h1.2v1.2h-1.2zM409.8 338.4h1.2v1.2h-1.2zM429.0 322.1h1.2v1.2h-1.2zM393.1 348.9h1.2v1.2h-1.2zM406.0 340.7h1.2v1.2h-1.2zM367.2 368.5h1.2v1.2h-1.2zM349.0 381.0h1.2v1.2h-1.2zM359.1 374.8h1.2v1.2h-1.2zM405.6 340.9h1.2v1.2h-1.2zM391.9 349.7h1.2v1.2h-1.2zM354.7 377.6h1.2v1.2h-1.2zM375.2 363.0h1.2v1.2h-1.2zM426.8 322.7h1.2v1.2h-1.2zM384.9 354.6h1.2v1.2h-1.2zM336.6 394.2h1.2v1.2h-1.2zM333.9 397.1h1.2v1.2h-1.2zM424.5 325.9h1.2v1.2h-1.2zM386.8 353.9h1.2v1.2h-1.2zM384.9 358.7h1.2v1.2h-1.2zM416.4 333.9h1.2v1.2h-1.2zM408.2 337.1h1.2v1.2h-1.2zM386.0 355.9h1.2v1.2h-1.2zM390.7 352.0h1.2v1.2h-1.2zM384.6 354.4h1.2v1.2h-1.2zM368.9 369.2h1.2v1.2h-1.2zM350.0 384.3h1.2v1.2h-1.2zM390.6 351.7h1.2v1.2h-1.2zM390.0 354.7h1.2v1.2h-1.2zM364.9 371.9h1.2v1.2h-1.2zM358.8 377.5h1.2v1.2h-1.2zM410.0 339.1h1.2v1.2h-1.2zM368.5 370.2h1.2v1.2h-1.2zM366.8 371.8h1.2v1.2h-1.2zM373.3 367.5h1.2v1.2h-1.2zM303.2 416.1h1.2v1.2h-1.2zM309.1 412.9h1.2v1.2h-1.2zM364.2 370.5h1.2v1.2h-1.2zM346.9 385.7h1.2v1.2h-1.2zM327.1 401.7h1.2v1.2h-1.2zM347.3 386.4h1.2v1.2h-1.2zM357.6 379.2h1.2v1.2h-1.2z" fill="#94ff00"/>
<path d="M346.0 466.0h1.2v1.2h-1.2zM322.2 486.1h1.2v1.2h-1.2zM341.5 470.8h1.2v1.2h-1.2zM328.6 479.2h1.2v1.2h-1.2zM336.6 476.5h1.2v1.2h-1.2zM319.9 488.0h1.2v1.2h-1.2zM322.2 484.5h1.2v1.2h-1.2zM311.5 492.0h1.2v1.2h-1.2zM340.8 472.4h1.2v1.2h-1.2zM336.9 475.7h1.2v1.2h-1.2zM344.6 471.5h1.2v1.2h-1.2zM324.0 484.3h1.2v1.2h-1.2zM312.5 493.7h1.2v1.2h-1.2zM348.9 466.2h1.2v1.2h-1.2zM336.0 477.3h1.2v1.2h-1.2zM324.4 486.0h1.2v1.2h-1.2zM318.8 489.7h1.2v1.2h-1.2zM335.4 476.0h1.2v1.2h-1.2zM302.2 500.6h1.2v1.2h-1.2zM338.9 473.2h1.2v1.2h-1.2zM326.9 485.0h1.2v1.2h-1.2zM303.3 499.3h1.2v1.2h-1.2zM317.0 489.7h1.2v1.2h-1.2zM326.7 481.7h1.2v1.2h-1.2zM333.8 475.3h1.2v1.2h-1.2zM338.7 474.4h1.2v1.2h-1.2z" fill="#0e00ff"/>
<path d="M397.1 399.8h1.2v1.2h-1.2zM269.8 495.8h1.2v1.2h-1.2zM397.2 400.8h1.2v1.2h-1.2zM333.4 449.8h1.2v1.2h-1.2zM308.1 467.4h1.2v1.2h-1.2zM356.1 433.8h1.2v1.2h-1.2zM406.8 395.6h1.2v1.2h-1.2zM410.9 388.9h1.2v1.2h-1.2zM320.0 458.0h1.2v1.2h-1.2zM277.4 490.3h1.2v1.2h-1.2zM302.0 472.6h1.2v1.2h-1.2zM390.2 406.6h1.2v1.2h-1.2zM271.5 493.5h1.2v1.2h-1.2zM297.1 473.8h1.2v1.2h-1.2zM291.5 480.6h1.2v1.2h-1.2zM394.3 400.4h1.2v1.2h-1.2zM331.3 450.8h1.2v1.2h-1.2zM337.4 447.1h1.2v1.2h-1.2zM325.5 454.9h1.2v1.2h-1.2zM357.3 431.2h1.2v1.2h-1.2zM350.5 434.2h1.2v1.2h-1.2zM286.3 482.7h1.2v1.2h-1.2zM281.8 487.3h1.2v1.2h-1.2zM339.7 442.4h1.2v1.2h-1.2zM417.9 384.1h1.2v1.2h-1.2zM277.2 492.9h1.2v1.2h-1.2zM386.4 406.5h1.2v1.2h-1.2zM308.0 469.7h1.2v1.2h-1.2zM287.9 480.3h1.2v1.2h-1.2zM317.9 458.7h1.2v1.2h-1.2zM293.3 480.1h1.2v1.2h-1.2zM305.5 470.7h1.2v1.2h-1.2zM418.6 386.0h1.2v1.2h-1.2zM306.2 466.5h1.2v1.2h-1.2zM407.4 392.0h1.2v1.2h-1.2zM290.1 480.7h1.2v1.2h-1.2zM425.9 380.2h1.2v1.2h-1.2zM277.3 491.4h1.2v1.2h-1.2zM384.0 411.2h1.2v1.2h-1.2zM284.7 486.4h1.2v1.2h-1.2zM274.8 492.7h1.2v1.2h-1.2zM429.7 377.3h1.2v1.2h-1.2zM278.6 489.8h1.2v1.2h-1.2zM327.6 451.7h1.2v1.2h-1.2zM272.7 493.7h1.2v1.2h-1.2zM279.7 487.2h1.2v1.2h-1.2zM310.1 465.9h1.2v1.2h-1.2zM304.9 468.6h1.2v1.2h-1.2zM334.4 449.7h1.2v1.2h-1.2zM307.2 470.5h1.2v1.2h-1.2zM357.1 430.3h1.2v1.2h-1.2zM423.3 379.8h1.2v1.2h-1.2zM275.0 493.2h1.2v1.2h-1.2zM278.8 490.8h1.2v1.2h-1.2zM356.1 431.2h1.2v1.2h-1.2zM371.0 419.2h1.2v1.2h-1.2zM358.7 429.4h1.2v1.2h-1.2zM297.0 474.6h1.2v1.2h-1.2zM289.1 483.6h1.2v1.2h-1.2zM288.4 483.7h1.2v1.2h-1.2zM280.3 490.0h1.2v1.2h-1.2zM311.8 463.4h1.2v1.2h-1.2zM310.2 464.6h1.2v1.2h-1.2zM321.4 455.3h1.2v1.2h-1.2zM365.3 422.4h1.2v1.2h-1.2zM385.4 409.5h1.2v1.2h-1.2zM302.5 474.0h1.2v1.2h-1.2zM334.0 445.7h1.2v1.2h-1.2zM327.0 453.7h1.2v1.2h-1.2zM307.5 468.0h1.2v1.2h-1.2zM414.2 388.7h1.2v1.2h-1.2zM313.3 465.4h1.2v1.2h-1.2zM294.8 476.0h1.2v1.2h-1.2zM351.5 436.0h1.2v1.2h-1.2zM300.2 472.6h1.2v1.2h-1.2zM282.3 485.7h1.2v1.2h-1.2zM277.3 490.1h1.2v1.2h-1.2zM393.0 402.4h1.2v1.2h-1.2zM294.9 477.1h1.2v1.2h-1.2zM348.6 435.7h1.2v1.2h-1.2zM336.6 443.7h1.2v1.2h-1.2zM273.8 491.9h1.2v1.2h-1.2zM291.1 478.3h1.2v1.2h-1.2zM400.6 400.1h1.2v1.2h-1.2zM308.7 468.2h1.2v1.2h-1.2zM408.4 392.4h1.2v1.2h-1.2zM409.0 391.9h1.2v1.2h-1.2zM386.3 407.7h1.2v1.2h-1.2zM364.9 424.1h1.2v1.2h-1.2zM320.8 460.0h1.2v1.2h-1.2zM338.7 443.5h1.2v1.2h-1.2zM292.2 479.7h1.2v1.2h-1.2zM338.0 444.5h1.2v1.2h-1.2zM326.2 452.7h1.2v1.2h-1.2zM330.8 452.8h1.2v1.2h-1.2zM303.6 471.1h1.2v1.2h-1.2zM339.1 444.8h1.2v1.2h-1.2zM288.9 479.6h1.2v1.2h-1.2zM284.0 486.3h1.2v1.2h-1.2zM332.6 448.8h1.2v1.2h-1.2zM296.5 478.6h1.2v1.2h-1.2zM305.0 468.3h1.2v1.2h-1.2zM420.2 383.1h1.2v1.2h-1.2zM310.6 467.2h1.2v1.2h-1.2zM344.1 438.1h1.2v1.2h-1.2zM305.2 469.1h1.2v1.2h-1.2zM360.4 430.3h1.2v1.2h-1.2zM340.5 442.6h1.2v1.2h-1.2zM356.9 433.2h1.2v1.2h-1.2zM373.3 416.4h1.2v1.2h-1.2zM283.1 487.8h1.2v1.2h-1.2zM378.1 413.5h1.2v1.2h-1.2zM300.7 475.4h1.2v1.2h-1.2zM322.2 458.3h1.2v1.2h-1.2zM356.7 430.9h1.2v1.2h-1.2zM275.8 491.8h1.2v1.2h-1.2zM404.8 395.0h1.2v1.2h-1.2zM293.3 479.0h1.2v1.2h-1.2zM322.7 456.9h1.2v1.2h-1.2zM296.5 475.4h1.2v1.2h-1.2zM304.5 468.4h1.2v1.2h-1.2zM306.9 469.1h1.2v1.2h-1.2zM332.5 451.1h1.2v1.2h-1.2zM323.4 457.5h1.2v1.2h-1.2zM282.1 488.6h1.2v1.2h-1.2zM382.6 410.0h1.2v1.2h-1.2zM425.7 380.1h1.2v1.2h-1.2zM282.9 485.1h1.2v1.2h-1.2zM281.4 490.0h1.2v1.2h-1.2zM314.6 462.6h1.2v1.2h-1.2zM285.1 483.0h1.2v1.2h-1.2zM315.7 462.6h1.2v1.2h-1.2zM330.7 449.8h1.2v1.2h-1.2zM366.9 424.5h1.2v1.2h-1.2zM344.5 441.9h1.2v1.2h-1.2zM316.5 460.1h1.2v1.2h-1.2zM280.4 490.3h1.2v1.2h-1.2zM286.9 482.6h1.2v1.2h-1.2zM284.3 484.1h1.2v1.2h-1.2zM291.1 481.7h1.2v1.2h-1.2zM285.5 482.8h1.2v1.2h-1.2zM291.4 479.4h1.2v1.2h-1.2zM360.7 428.9h1.2v1.2h-1.2zM315.4 464.1h1.2v1.2h-1.2zM307.8 467.4h1.2v1.2h-1.2zM278.6 490.7h1.2v1.2h-1.2zM361.7 429.2h1.2v1.2h-1.2zM346.0 440.5h1.2v1.2h-1.2zM279.0 487.5h1.2v1.2h-1.2zM385.7 407.0h1.2v1.2h-1.2zM305.8 467.0h1.2v1.2h-1.2zM300.0 471.7h1.2v1.2h-1.2zM289.9 481.8h1.2v1.2h-1.2zM407.0 394.3h1.2v1.2h-1.2zM377.0 415.3h1.2v1.2h-1.2zM286.6 483.1h1.2v1.2h-1.2zM401.5 398.2h1.2v1.2h-1.2zM307.5 470.4h1.2v1.2h-1.2zM386.4 406.8h1.2v1.2h-1.2zM426.5 379.1h1.2v1.2h-1.2zM284.9 483.9h1.2v1.2h-1.2zM282.8 486.7h1.2v1.2h-1.2zM357.3 430.1h1.2v1.2h-1.2zM324.3 456.5h1.2v1.2h-1.2zM309.7 464.7h1.2v1.2h-1.2zM355.2 433.4h1.2v1.2h-1.2zM337.4 444.6h1.2v1.2h-1.2zM319.8 461.1h1.2v1.2h-1.2zM407.8 392.1h1.2v1.2h-1.2zM311.2 466.1h1.2v1.2h-1.2zM375.4 416.1h1.2v1.2h-1.2zM304.5 468.5h1.2v1.2h-1.2zM396.4 402.2h1.2v1.2h-1.2zM295.9 478.0h1.2v1.2h-1.2zM419.9 385.7h1.2v1.2h-1.2zM384.1 408.3h1.2v1.2h-1.2zM272.7 493.9h1.2v1.2h-1.2zM407.1 394.2h1.2v1.2h-1.2zM302.3 474.1h1.2v1.2h-1.2zM280.1 489.8h1.2v1.2h-1.2zM361.7 426.4h1.2v1.2h-1.2zM396.4 402.6h1.2v1.2h-1.2zM274.4 494.9h1.2v1.2h-1.2zM282.9 485.1h1.2v1.2h-1.2zM299.6 473.3h1.2v1.2h-1.2zM282.8 487.9h1.2v1.2h-1.2zM342.4 443.1h1.2v1.2h-1.2zM285.4 484.8h1.2v1.2h-1.2zM287.7 485.3h1.2v1.2h-1.2zM341.6 440.7h1.2v1.2h-1.2zM415.7 385.0h1.2v1.2h-1.2zM302.1 473.9h1.2v1.2h-1.2zM315.0 464.2h1.2v1.2h-1.2zM413.0 389.5h1.2v1.2h-1.2zM391.0 404.0h1.2v1.2h-1.2zM305.3 467.6h1.2v1.2h-1.2zM396.3 403.0h1.2v1.2h-1.2zM307.7 469.2h1.2v1.2h-1.2zM305.2 470.5h1.2v1.2h-1.2zM313.0 465.1h1.2v1.2h-1.2zM365.5 425.6h1.2v1.2h-1.2zM357.5 431.6h1.2v1.2h-1.2zM289.7 482.4h1.2v1.2h-1.2zM275.4 490.1h1.2v1.2h-1.2zM374.1 417.3h1.2v1.2h-1.2zM304.5 468.3h1.2v1.2h-1.2zM358.3 429.3h1.2v1.2h-1.2zM306.9 469.4h1.2v1.2h-1.2zM340.2 444.9h1.2v1.2h-1.2zM317.6 460.3h1.2v1.2h-1.2zM286.4 485.7h1.2v1.2h-1.2zM299.8 471.4h1.2v1.2h-1.2zM296.5 474.5h1.2v1.2h-1.2zM307.1 466.8h1.2v1.2h-1.2zM280.8 486.3h1.2v1.2h-1.2zM283.4 487.5h1.2v1.2h-1.2zM317.4 460.4h1.2v1.2h-1.2zM315.3 463.1h1.2v1.2h-1.2zM277.8 489.6h1.2v1.2h-1.2zM310.0 467.1h1.2v1.2h-1.2zM330.8 452.2h1.2v1.2h-1.2zM310.4 467.5h1.2v1.2h-1.2zM272.7 492.2h1.2v1.2h-1.2zM276.6 489.1h1.2v1.2h-1.2zM279.4 491.2h1.2v1.2h-1.2zM417.6 384.2h1.2v1.2h-1.2zM384.4 411.7h1.2v1.2h-1.2zM302.4 472.5h1.2v1.2h-1.2zM407.8 392.9h1.2v1.2h-1.2zM277.1 492.0h1.2v1.2h-1.2zM274.6 494.1h1.2v1.2h-1.2zM396.8 401.3h1.2v1.2h-1.2zM281.0 486.1h1.2v1.2h-1.2zM420.4 381.1h1.2v1.2h-1.2zM297.3 477.5h1.2v1.2h-1.2zM293.6 479.2h1.2v1.2h-1.2zM354.3 434.7h1.2v1.2h-1.2z" fill="#00d6ff"/>
<path d="M288.2 471.4h1.2v1.2h-1.2zM370.2 412.9h1.2v1.2h-1.2zM290.5 472.8h1.2v1.2h-1.2zM314.4 452.4h1.2v1.2h-1.2zM430.2 365.1h1.2v1.2h-1.2zM284.1 474.4h1.2v1.2h-1.2zM305.6 460.9h1.2v1.2h-1.2zM397.1 392.4h1.2v1.2h-1.2zM324.4 446.2h1.2v1.2h-1.2zM356.6 422.2h1.2v1.2h-1.2zM346.6 431.2h1.2v1.2h-1.2zM403.7 384.9h1.2v1.2h-1.2zM345.2 429.8h1.2v1.2h-1.2zM361.5 419.0h1.2v1.2h-1.2zM307.5 457.8h1.2v1.2h-1.2zM284.9 473.7h1.2v1.2h-1.2zM289.9 469.6h1.2v1.2h-1.2zM364.7 417.6h1.2v1.2h-1.2zM289.1 471.0h1.2v1.2h-1.2zM301.2 462.5h1.2v1.2h-1.2zM358.3 418.1h1.2v1.2h-1.2zM295.7 468.6h1.2v1.2h-1.2zM294.8 466.6h1.2v1.2h-1.2zM280.4 478.0h1.2v1.2h-1.2zM285.4 472.6h1.2v1.2h-1.2zM423.1 371.1h1.2v1.2h-1.2zM288.3 474.3h1.2v1.2h-1.2zM304.0 459.7h1.2v1.2h-1.2zM425.0 370.4h1.2v1.2h-1.2zM274.2 482.5h1.2v1.2h-1.2zM337.3 437.2h1.2v1.2h-1.2zM303.7 462.2h1.2v1.2h-1.2zM301.8 462.9h1.2v1.2h-1.2zM408.3 381.7h1.2v1.2h-1.2zM359.8 416.7h1.2v1.2h-1.2zM271.1 483.7h1.2v1.2h-1.2zM346.4 428.8h1.2v1.2h-1.2zM274.3 483.6h1.2v1.2h-1.2zM323.2 448.8h1.2v1.2h-1.2zM295.6 466.3h1.2v1.2h-1.2zM348.6 425.6h1.2v1.2h-1.2zM427.3 368.1h1.2v1.2h-1.2zM288.7 471.3h1.2v1.2h-1.2zM286.8 472.7h1.2v1.2h-1.2zM275.6 484.1h1.2v1.2h-1.2zM287.8 472.7h1.2v1.2h-1.2zM299.3 466.2h1.2v1.2h-1.2zM408.9 380.7h1.2v1.2h-1.2zM406.7 382.2h1.2v1.2h-1.2zM312.0 455.7h1.2v1.2h-1.2zM359.2 417.3h1.2v1.2h-1.2zM305.4 461.5h1.2v1.2h-1.2zM292.4 471.1h1.2v1.2h-1.2zM311.0 454.8h1.2v1.2h-1.2zM339.0 436.6h1.2v1.2h-1.2zM281.7 477.4h1.2v1.2h-1.2zM304.1 461.2h1.2v1.2h-1.2zM268.9 486.8h1.2v1.2h-1.2zM423.1 373.3h1.2v1.2h-1.2zM278.1 481.0h1.2v1.2h-1.2zM293.0 470.2h1.2v1.2h-1.2zM286.8 471.4h1.2v1.2h-1.2zM269.2 486.3h1.2v1.2h-1.2zM287.0 474.9h1.2v1.2h-1.2zM318.8 447.4h1.2v1.2h-1.2zM283.3 477.9h1.2v1.2h-1.2zM309.9 457.1h1.2v1.2h-1.2zM303.5 461.3h1.2v1.2h-1.2zM383.6 400.5h1.2v1.2h-1.2zM383.9 402.2h1.2v1.2h-1.2zM402.0 389.1h1.2v1.2h-1.2zM323.5 447.9h1.2v1.2h-1.2zM285.3 476.2h1.2v1.2h-1.2zM272.6 482.6h1.2v1.2h-1.2zM300.0 462.1h1.2v1.2h-1.2zM274.5 484.2h1.2v1.2h-1.2zM278.6 479.6h1.2v1.2h-1.2zM272.4 487.1h1.2v1.2h-1.2zM391.7 394.3h1.2v1.2h-1.2zM269.9 488.7h1.2v1.2h-1.2zM385.6 398.2h1.2v1.2h-1.2zM291.4 471.6h1.2v1.2h-1.2zM297.4 467.9h1.2v1.2h-1.2zM294.3 466.2h1.2v1.2h-1.2zM301.4 463.4h1.2v1.2h-1.2zM317.1 451.9h1.2v1.2h-1.2zM276.7 482.8h1.2v1.2h-1.2zM295.1 465.3h1.2v1.2h-1.2zM270.1 485.1h1.2v1.2h-1.2zM335.1 437.1h1.2v1.2h-1.2zM298.3 464.5h1.2v1.2h-1.2zM300.1 462.4h1.2v1.2h-1.2zM307.9 455.7h1.2v1.2h-1.2zM319.1 448.3h1.2v1.2h-1.2zM309.0 457.6h1.2v1.2h-1.2zM282.4 478.4h1.2v1.2h-1.2zM329.9 439.7h1.2v1.2h-1.2zM301.7 460.7h1.2v1.2h-1.2zM367.0 412.0h1.2v1.2h-1.2zM367.8 411.4h1.2v1.2h-1.2zM329.1 441.2h1.2v1.2h-1.2zM273.1 482.6h1.2v1.2h-1.2zM362.3 416.1h1.2v1.2h-1.2zM300.3 463.4h1.2v1.2h-1.2zM334.5 435.7h1.2v1.2h-1.2zM361.9 419.2h1.2v1.2h-1.2zM304.2 460.6h1.2v1.2h-1.2zM291.6 471.2h1.2v1.2h-1.2zM309.6 457.0h1.2v1.2h-1.2zM276.5 483.0h1.2v1.2h-1.2zM294.0 469.1h1.2v1.2h-1.2zM271.3 483.1h1.2v1.2h-1.2zM426.5 367.7h1.2v1.2h-1.2zM377.2 405.5h1.2v1.2h-1.2zM421.8 372.5h1.2v1.2h-1.2zM381.8 402.0h1.2v1.2h-1.2zM279.2 481.1h1.2v1.2h-1.2zM421.5 374.2h1.2v1.2h-1.2zM272.7 484.2h1.2v1.2h-1.2zM369.1 411.1h1.2v1.2h-1.2zM283.6 477.9h1.2v1.2h-1.2zM280.3 479.0h1.2v1.2h-1.2zM277.4 480.0h1.2v1.2h-1.2zM384.8 400.9h1.2v1.2h-1.2zM269.4 488.0h1.2v1.2h-1.2zM285.2 473.5h1.2v1.2h-1.2zM278.1 482.0h1.2v1.2h-1.2zM279.7 478.9h1.2v1.2h-1.2zM311.5 453.6h1.2v1.2h-1.2zM283.9 477.1h1.2v1.2h-1.2zM292.8 468.4h1.2v1.2h-1.2zM319.7 448.2h1.2v1.2h-1.2zM308.3 458.8h1.2v1.2h-1.2zM294.5 469.1h1.2v1.2h-1.2zM393.3 394.5h1.2v1.2h-1.2zM358.1 419.6h1.2v1.2h-1.2zM272.7 485.3h1.2v1.2h-1.2zM389.8 396.2h1.2v1.2h-1.2zM311.3 455.5h1.2v1.2h-1.2zM285.2 474.9h1.2v1.2h-1.2zM300.0 462.6h1.2v1.2h-1.2zM279.6 478.6h1.2v1.2h-1.2zM412.6 378.9h1.2v1.2h-1.2zM272.3 483.0h1.2v1.2h-1.2zM374.9 408.5h1.2v1.2h-1.2zM294.5 470.3h1.2v1.2h-1.2zM300.1 462.7h1.2v1.2h-1.2zM281.4 476.9h1.2v1.2h-1.2zM277.9 478.2h1.2v1.2h-1.2zM321.2 447.1h1.2v1.2h-1.2zM290.1 472.6h1.2v1.2h-1.2zM277.6 478.4h1.2v1.2h-1.2zM355.5 424.2h1.2v1.2h-1.2zM323.5 444.6h1.2v1.2h-1.2zM305.6 458.1h1.2v1.2h-1.2zM298.4 467.0h1.2v1.2h-1.2zM289.4 470.1h1.2v1.2h-1.2zM314.5 451.1h1.2v1.2h-1.2zM310.5 456.4h1.2v1.2h-1.2zM279.8 479.3h1.2v1.2h-1.2zM298.1 466.4h1.2v1.2h-1.2zM281.1 479.3h1.2v1.2h-1.2zM412.5 380.3h1.2v1.2h-1.2zM271.1 485.6h1.2v1.2h-1.2zM316.6 449.6h1.2v1.2h-1.2zM291.6 471.0h1.2v1.2h-1.2zM330.2 439.0h1.2v1.2h-1.2zM289.5 469.4h1.2v1.2h-1.2zM281.8 479.1h1.2v1.2h-1.2zM312.2 453.0h1.2v1.2h-1.2zM309.7 458.7h1.2v1.2h-1.2zM366.6 415.1h1.2v1.2h-1.2zM361.5 420.1h1.2v1.2h-1.2zM315.6 451.0h1.2v1.2h-1.2zM330.4 440.2h1.2v1.2h-1.2zM402.9 387.1h1.2v1.2h-1.2zM294.3 469.8h1.2v1.2h-1.2zM281.4 480.1h1.2v1.2h-1.2zM290.9 472.7h1.2v1.2h-1.2zM294.8 468.7h1.2v1.2h-1.2zM370.5 411.6h1.2v1.2h-1.2zM298.1 466.1h1.2v1.2h-1.2zM295.5 464.9h1.2v1.2h-1.2zM378.9 406.3h1.2v1.2h-1.2zM330.8 441.0h1.2v1.2h-1.2zM275.4 481.8h1.2v1.2h-1.2zM299.9 466.1h1.2v1.2h-1.2zM277.2 480.4h1.2v1.2h-1.2zM347.0 430.0h1.2v1.2h-1.2zM295.2 469.6h1.2v1.2h-1.2zM293.5 467.7h1.2v1.2h-1.2zM306.3 457.3h1.2v1.2h-1.2zM329.7 440.3h1.2v1.2h-1.2zM303.7 462.9h1.2v1.2h-1.2zM403.9 386.9h1.2v1.2h-1.2zM309.8 457.3h1.2v1.2h-1.2zM332.5 437.8h1.2v1.2h-1.2zM313.2 453.0h1.2v1.2h-1.2zM392.7 396.2h1.2v1.2h-1.2zM281.8 476.9h1.2v1.2h-1.2zM318.9 447.9h1.2v1.2h-1.2zM303.4 459.0h1.2v1.2h-1.2zM294.8 467.3h1.2v1.2h-1.2zM340.4 433.7h1.2v1.2h-1.2zM287.2 471.4h1.2v1.2h-1.2zM363.9 415.8h1.2v1.2h-1.2zM326.2 443.5h1.2v1.2h-1.2zM272.4 484.6h1.2v1.2h-1.2zM289.4 471.4h1.2v1.2h-1.2zM334.9 436.4h1.2v1.2h-1.2zM313.1 453.6h1.2v1.2h-1.2zM354.8 421.7h1.2v1.2h-1.2zM307.2 457.5h1.2v1.2h-1.2zM366.9 415.4h1.2v1.2h-1.2zM334.9 436.4h1.2v1.2h-1.2zM328.3 440.7h1.2v1.2h-1.2zM424.2 369.6h1.2v1.2h-1.2zM306.3 459.6h1.2v1.2h-1.2zM273.8 483.4h1.2v1.2h-1.2zM294.2 468.1h1.2v1.2h-1.2zM281.8 477.3h1.2v1.2h-1.2zM332.1 439.4h1.2v1.2h-1.2zM312.9 452.4h1.2v1.2h-1.2zM398.5 388.5h1.2v1.2h-1.2zM309.8 457.3h1.2v1.2h-1.2zM275.8 482.0h1.2v1.2h-1.2zM273.5 482.3h1.2v1.2h-1.2zM332.5 437.7h1.2v1.2h-1.2zM409.6 382.7h1.2v1.2h-1.2zM277.5 479.2h1.2v1.2h-1.2zM385.0 397.9h1.2v1.2h-1.2zM316.9 451.0h1.2v1.2h-1.2zM401.3 389.1h1.2v1.2h-1.2zM353.1 421.9h1.2v1.2h-1.2zM315.1 452.9h1.2v1.2h-1.2zM284.7 473.6h1.2v1.2h-1.2zM293.8 466.7h1.2v1.2h-1.2zM277.7 481.9h1.2v1.2h-1.2zM305.2 460.5h1.2v1.2h-1.2zM280.8 480.2h1.2v1.2h-1.2zM306.3 461.5h1.2v1.2h-1.2zM292.8 467.6h1.2v1.2h-1.2zM295.4 467.0h1.2v1.2h-1.2zM332.2 442.1h1.2v1.2h-1.2zM276.0 479.8h1.2v1.2h-1.2zM308.0 457.2h1.2v1.2h-1.2zM303.2 459.1h1.2v1.2h-1.2zM291.0 470.6h1.2v1.2h-1.2zM272.1 484.4h1.2v1.2h-1.2zM273.4 485.3h1.2v1.2h-1.2zM382.2 402.5h1.2v1.2h-1.2zM304.1 462.9h1.2v1.2h-1.2zM281.6 478.3h1.2v1.2h-1.2zM300.0 463.3h1.2v1.2h-1.2zM317.1 450.4h1.2v1.2h-1.2zM277.0 481.4h1.2v1.2h-1.2zM342.5 432.8h1.2v1.2h-1.2zM274.9 481.9h1.2v1.2h-1.2zM379.4 402.9h1.2v1.2h-1.2zM366.1 414.6h1.2v1.2h-1.2zM308.6 456.8h1.2v1.2h-1.2zM309.6 454.9h1.2v1.2h-1.2zM346.6 430.8h1.2v1.2h-1.2zM341.3 434.9h1.2v1.2h-1.2zM339.8 431.9h1.2v1.2h-1.2zM281.8 477.4h1.2v1.2h-1.2zM282.1 475.4h1.2v1.2h-1.2zM292.2 469.7h1.2v1.2h-1.2zM277.9 481.5h1.2v1.2h-1.2zM329.8 439.2h1.2v1.2h-1.2zM281.4 477.4h1.2v1.2h-1.2zM286.9 472.6h1.2v1.2h-1.2zM324.9 444.6h1.2v1.2h-1.2zM293.0 467.7h1.2v1.2h-1.2zM324.0 445.4h1.2v1.2h-1.2zM390.9 396.7h1.2v1.2h-1.2zM277.6 479.4h1.2v1.2h-1.2zM407.8 381.4h1.2v1.2h-1.2zM316.3 450.1h1.2v1.2h-1.2zM292.1 468.2h1.2v1.2h-1.2zM395.9 390.9h1.2v1.2h-1.2zM321.7 446.7h1.2v1.2h-1.2zM286.0 476.7h1.2v1.2h-1.2zM305.1 461.9h1.2v1.2h-1.2zM297.6 464.8h1.2v1.2h-1.2zM350.5 423.8h1.2v1.2h-1.2zM313.6 454.3h1.2v1.2h-1.2zM284.4 477.0h1.2v1.2h-1.2zM428.1 367.7h1.2v1.2h-1.2zM309.5 457.4h1.2v1.2h-1.2zM421.5 372.7h1.2v1.2h-1.2zM404.9 385.1h1.2v1.2h-1.2zM274.6 485.4h1.2v1.2h-1.2zM304.8 458.0h1.2v1.2h-1.2zM288.7 471.9h1.2v1.2h-1.2zM275.2 482.5h1.2v1.2h-1.2zM277.3 480.8h1.2v1.2h-1.2zM370.3 411.7h1.2v1.2h-1.2zM289.5 470.5h1.2v1.2h-1.2zM292.9 467.6h1.2v1.2h-1.2zM329.3 442.1h1.2v1.2h-1.2zM268.8 486.7h1.2v1.2h-1.2zM349.4 427.7h1.2v1.2h-1.2zM344.6 429.1h1.2v1.2h-1.2zM335.7 439.0h1.2v1.2h-1.2zM335.6 435.2h1.2v1.2h-1.2zM399.2 387.9h1.2v1.2h-1.2zM285.6 475.0h1.2v1.2h-1.2zM292.2 468.1h1.2v1.2h-1.2zM283.2 476.0h1.2v1.2h-1.2zM281.3 480.4h1.2v1.2h-1.2zM326.5 445.4h1.2v1.2h-1.2zM314.1 451.8h1.2v1.2h-1.2z" fill="#00ffda"/>
<path d="M307.0 477.5h1.2v1.2h-1.2zM302.9 482.0h1.2v1.2h-1.2zM408.3 401.0h1.2v1.2h-1.2zM404.0 403.8h1.2v1.2h-1.2zM285.3 493.1h1.2v1.2h-1.2zM310.0 476.2h1.2v1.2h-1.2zM296.4 485.9h1.2v1.2h-1.2zM387.1 418.3h1.2v1.2h-1.2zM411.2 401.4h1.2v1.2h-1.2zM292.7 489.5h1.2v1.2h-1.2zM302.8 483.2h1.2v1.2h-1.2zM297.4 483.4h1.2v1.2h-1.2zM294.9 488.5h1.2v1.2h-1.2zM295.3 486.6h1.2v1.2h-1.2zM304.2 481.5h1.2v1.2h-1.2zM310.5 475.9h1.2v1.2h-1.2zM306.4 480.2h1.2v1.2h-1.2zM310.1 475.3h1.2v1.2h-1.2zM405.0 402.2h1.2v1.2h-1.2zM284.6 496.2h1.2v1.2h-1.2zM376.8 424.2h1.2v1.2h-1.2zM305.8 479.9h1.2v1.2h-1.2zM348.6 446.2h1.2v1.2h-1.2zM313.4 473.0h1.2v1.2h-1.2zM297.4 486.0h1.2v1.2h-1.2zM346.5 447.7h1.2v1.2h-1.2zM303.0 479.1h1.2v1.2h-1.2zM308.3 478.7h1.2v1.2h-1.2zM367.8 433.5h1.2v1.2h-1.2zM286.1 494.2h1.2v1.2h-1.2zM341.4 454.4h1.2v1.2h-1.2zM283.1 495.1h1.2v1.2h-1.2zM295.7 484.8h1.2v1.2h-1.2zM364.7 434.8h1.2v1.2h-1.2zM300.4 485.4h1.2v1.2h-1.2zM313.8 472.7h1.2v1.2h-1.2zM299.0 483.1h1.2v1.2h-1.2zM301.4 482.7h1.2v1.2h-1.2zM389.6 414.8h1.2v1.2h-1.2zM418.0 396.6h1.2v1.2h-1.2zM406.0 403.0h1.2v1.2h-1.2zM299.1 483.3h1.2v1.2h-1.2zM303.1 480.1h1.2v1.2h-1.2zM360.9 438.4h1.2v1.2h-1.2zM344.8 448.4h1.2v1.2h-1.2zM420.9 391.9h1.2v1.2h-1.2zM308.3 478.7h1.2v1.2h-1.2zM297.7 486.7h1.2v1.2h-1.2zM418.0 395.5h1.2v1.2h-1.2zM310.4 474.7h1.2v1.2h-1.2zM355.5 439.4h1.2v1.2h-1.2zM300.7 481.3h1.2v1.2h-1.2zM363.9 433.4h1.2v1.2h-1.2zM413.1 396.8h1.2v1.2h-1.2zM301.3 483.8h1.2v1.2h-1.2zM372.8 429.7h1.2v1.2h-1.2zM298.0 486.1h1.2v1.2h-1.2zM409.6 402.5h1.2v1.2h-1.2zM294.2 485.9h1.2v1.2h-1.2zM414.4 399.1h1.2v1.2h-1.2zM326.6 463.0h1.2v1.2h-1.2zM416.2 397.4h1.2v1.2h-1.2zM304.6 482.0h1.2v1.2h-1.2zM412.7 397.3h1.2v1.2h-1.2zM287.7 491.9h1.2v1.2h-1.2zM293.8 487.1h1.2v1.2h-1.2zM308.9 474.6h1.2v1.2h-1.2zM326.8 461.0h1.2v1.2h-1.2zM325.7 466.2h1.2v1.2h-1.2zM284.4 493.7h1.2v1.2h-1.2zM297.8 483.4h1.2v1.2h-1.2zM320.8 466.3h1.2v1.2h-1.2zM295.9 488.5h1.2v1.2h-1.2zM325.7 465.4h1.2v1.2h-1.2zM296.4 484.5h1.2v1.2h-1.2zM419.3 395.5h1.2v1.2h-1.2zM373.9 428.4h1.2v1.2h-1.2zM413.2 398.4h1.2v1.2h-1.2zM296.4 485.2h1.2v1.2h-1.2zM315.2 471.5h1.2v1.2h-1.2zM299.1 484.9h1.2v1.2h-1.2zM327.9 464.3h1.2v1.2h-1.2zM294.8 486.9h1.2v1.2h-1.2zM360.6 438.8h1.2v1.2h-1.2zM299.6 485.2h1.2v1.2h-1.2zM318.7 468.1h1.2v1.2h-1.2zM309.0 479.1h1.2v1.2h-1.2zM408.4 401.3h1.2v1.2h-1.2zM307.9 477.5h1.2v1.2h-1.2zM350.6 444.0h1.2v1.2h-1.2zM297.6 484.9h1.2v1.2h-1.2zM302.4 482.8h1.2v1.2h-1.2zM291.4 488.6h1.2v1.2h-1.2zM367.0 434.6h1.2v1.2h-1.2zM399.3 406.7h1.2v1.2h-1.2zM296.2 485.5h1.2v1.2h-1.2zM301.5 483.7h1.2v1.2h-1.2zM283.8 497.6h1.2v1.2h-1.2zM392.3 414.0h1.2v1.2h-1.2zM298.4 482.6h1.2v1.2h-1.2zM302.1 479.9h1.2v1.2h-1.2zM399.5 407.7h1.2v1.2h-1.2zM380.9 421.3h1.2v1.2h-1.2zM313.8 475.4h1.2v1.2h-1.2zM304.2 480.4h1.2v1.2h-1.2zM310.2 474.5h1.2v1.2h-1.2zM294.0 487.0h1.2v1.2h-1.2zM298.5 483.7h1.2v1.2h-1.2zM414.1 395.9h1.2v1.2h-1.2zM344.6 450.7h1.2v1.2h-1.2zM354.4 440.1h1.2v1.2h-1.2zM289.6 492.6h1.2v1.2h-1.2zM291.5 491.4h1.2v1.2h-1.2zM300.6 483.2h1.2v1.2h-1.2zM299.7 484.0h1.2v1.2h-1.2zM413.3 399.6h1.2v1.2h-1.2zM299.0 485.0h1.2v1.2h-1.2zM295.5 484.5h1.2v1.2h-1.2zM302.1 481.5h1.2v1.2h-1.2zM296.8 488.1h1.2v1.2h-1.2zM350.2 445.5h1.2v1.2h-1.2zM298.0 483.8h1.2v1.2h-1.2zM351.1 443.0h1.2v1.2h-1.2zM331.0 460.8h1.2v1.2h-1.2zM295.9 485.7h1.2v1.2h-1.2zM384.4 417.7h1.2v1.2h-1.2zM306.0 481.0h1.2v1.2h-1.2zM337.3 457.7h1.2v1.2h-1.2zM408.1 403.8h1.2v1.2h-1.2zM398.3 407.7h1.2v1.2h-1.2zM290.9 492.6h1.2v1.2h-1.2zM301.3 482.5h1.2v1.2h-1.2zM304.2 481.4h1.2v1.2h-1.2zM309.4 476.3h1.2v1.2h-1.2zM298.4 482.5h1.2v1.2h-1.2zM398.4 410.7h1.2v1.2h-1.2zM309.0 474.3h1.2v1.2h-1.2zM283.9 493.2h1.2v1.2h-1.2zM288.1 494.5h1.2v1.2h-1.2zM302.5 481.2h1.2v1.2h-1.2zM298.9 484.0h1.2v1.2h-1.2zM304.0 480.9h1.2v1.2h-1.2zM347.6 450.0h1.2v1.2h-1.2zM353.3 442.4h1.2v1.2h-1.2zM295.6 488.1h1.2v1.2h-1.2zM299.0 482.3h1.2v1.2h-1.2zM304.9 481.7h1.2v1.2h-1.2zM310.4 477.0h1.2v1.2h-1.2zM293.2 486.8h1.2v1.2h-1.2zM414.3 399.5h1.2v1.2h-1.2zM318.1 471.8h1.2v1.2h-1.2zM299.0 486.0h1.2v1.2h-1.2zM397.9 408.2h1.2v1.2h-1.2zM404.1 406.6h1.2v1.2h-1.2zM342.5 452.2h1.2v1.2h-1.2zM299.3 484.2h1.2v1.2h-1.2zM298.0 486.4h1.2v1.2h-1.2zM341.1 452.1h1.2v1.2h-1.2zM289.7 492.4h1.2v1.2h-1.2zM290.5 488.7h1.2v1.2h-1.2zM297.7 487.4h1.2v1.2h-1.2zM381.9 421.7h1.2v1.2h-1.2zM297.9 486.6h1.2v1.2h-1.2zM369.5 431.9h1.2v1.2h-1.2zM296.9 483.7h1.2v1.2h-1.2zM367.6 431.7h1.2v1.2h-1.2zM351.4 446.3h1.2v1.2h-1.2zM301.1 480.8h1.2v1.2h-1.2zM305.0 480.6h1.2v1.2h-1.2zM296.7 485.9h1.2v1.2h-1.2zM375.4 427.4h1.2v1.2h-1.2zM375.6 426.6h1.2v1.2h-1.2zM288.4 491.0h1.2v1.2h-1.2zM386.8 417.6h1.2v1.2h-1.2zM293.1 487.4h1.2v1.2h-1.2zM398.9 410.9h1.2v1.2h-1.2zM331.8 457.2h1.2v1.2h-1.2zM301.5 483.0h1.2v1.2h-1.2zM305.7 477.8h1.2v1.2h-1.2zM293.1 488.0h1.2v1.2h-1.2zM315.4 472.7h1.2v1.2h-1.2zM302.3 483.6h1.2v1.2h-1.2zM291.8 491.0h1.2v1.2h-1.2zM306.9 479.0h1.2v1.2h-1.2zM410.7 401.4h1.2v1.2h-1.2zM342.7 450.7h1.2v1.2h-1.2zM294.6 488.2h1.2v1.2h-1.2zM302.4 482.5h1.2v1.2h-1.2zM295.8 486.8h1.2v1.2h-1.2zM295.5 487.0h1.2v1.2h-1.2zM296.2 486.9h1.2v1.2h-1.2zM335.2 457.1h1.2v1.2h-1.2zM405.9 401.5h1.2v1.2h-1.2zM344.9 448.3h1.2v1.2h-1.2zM307.2 479.7h1.2v1.2h-1.2zM304.1 478.1h1.2v1.2h-1.2zM303.9 481.5h1.2v1.2h-1.2zM307.4 477.5h1.2v1.2h-1.2zM413.5 398.2h1.2v1.2h-1.2zM300.3 483.5h1.2v1.2h-1.2zM300.1 481.2h1.2v1.2h-1.2zM329.8 462.0h1.2v1.2h-1.2zM415.4 398.0h1.2v1.2h-1.2zM402.3 408.7h1.2v1.2h-1.2zM405.1 403.7h1.2v1.2h-1.2zM328.7 461.9h1.2v1.2h-1.2zM415.0 399.0h1.2v1.2h-1.2zM308.5 477.6h1.2v1.2h-1.2zM298.2 484.0h1.2v1.2h-1.2zM312.8 475.2h1.2v1.2h-1.2zM414.2 397.0h1.2v1.2h-1.2zM312.1 471.9h1.2v1.2h-1.2zM303.7 481.1h1.2v1.2h-1.2zM294.0 485.8h1.2v1.2h-1.2zM341.4 451.4h1.2v1.2h-1.2zM340.8 450.8h1.2v1.2h-1.2zM297.1 484.8h1.2v1.2h-1.2zM307.3 475.7h1.2v1.2h-1.2zM335.3 454.4h1.2v1.2h-1.2zM296.2 488.4h1.2v1.2h-1.2zM299.4 481.6h1.2v1.2h-1.2zM330.2 460.1h1.2v1.2h-1.2zM316.3 469.8h1.2v1.2h-1.2zM307.0 476.5h1.2v1.2h-1.2zM311.2 473.5h1.2v1.2h-1.2zM403.4 406.1h1.2v1.2h-1.2z" fill="#0088ff"/>
<path d="M350.9 453.6h1.2v1.2h-1.2zM296.3 496.1h1.2v1.2h-1.2zM320.6 479.4h1.2v1.2h-1.2zM336.8 466.5h1.2v1.2h-1.2zM302.3 491.0h1.2v1.2h-1.2zM343.1 460.9h1.2v1.2h-1.2zM307.2 489.9h1.2v1.2h-1.2zM335.0 468.4h1.2v1.2h-1.2zM305.1 488.1h1.2v1.2h-1.2zM299.0 491.7h1.2v1.2h-1.2zM292.8 499.4h1.2v1.2h-1.2zM293.6 497.0h1.2v1.2h-1.2zM304.2 489.7h1.2v1.2h-1.2zM302.5 490.8h1.2v1.2h-1.2zM317.2 481.6h1.2v1.2h-1.2zM315.7 480.1h1.2v1.2h-1.2zM302.6 491.3h1.2v1.2h-1.2zM297.3 494.2h1.2v1.2h-1.2zM298.0 493.0h1.2v1.2h-1.2zM302.5 489.4h1.2v1.2h-1.2zM300.7 491.0h1.2v1.2h-1.2zM348.6 454.3h1.2v1.2h-1.2zM299.3 495.5h1.2v1.2h-1.2zM298.0 496.5h1.2v1.2h-1.2zM302.6 490.9h1.2v1.2h-1.2zM299.2 493.8h1.2v1.2h-1.2zM291.6 499.7h1.2v1.2h-1.2zM299.5 492.0h1.2v1.2h-1.2zM305.2 491.2h1.2v1.2h-1.2zM307.0 486.8h1.2v1.2h-1.2zM306.9 486.6h1.2v1.2h-1.2zM292.7 498.5h1.2v1.2h-1.2zM339.3 465.1h1.2v1.2h-1.2zM324.8 475.4h1.2v1.2h-1.2zM296.7 494.5h1.2v1.2h-1.2zM345.4 458.5h1.2v1.2h-1.2zM303.3 491.2h1.2v1.2h-1.2zM332.3 468.3h1.2v1.2h-1.2zM320.9 478.5h1.2v1.2h-1.2zM299.0 491.8h1.2v1.2h-1.2zM308.1 484.7h1.2v1.2h-1.2zM310.6 486.1h1.2v1.2h-1.2zM306.8 489.8h1.2v1.2h-1.2zM300.4 494.5h1.2v1.2h-1.2zM299.3 493.9h1.2v1.2h-1.2zM328.3 473.9h1.2v1.2h-1.2zM307.4 489.5h1.2v1.2h-1.2zM312.1 483.2h1.2v1.2h-1.2zM293.3 497.4h1.2v1.2h-1.2zM293.9 497.3h1.2v1.2h-1.2zM315.2 483.6h1.2v1.2h-1.2zM299.4 492.2h1.2v1.2h-1.2zM297.4 497.3h1.2v1.2h-1.2zM291.5 498.3h1.2v1.2h-1.2zM304.6 487.6h1.2v1.2h-1.2zM307.4 488.3h1.2v1.2h-1.2zM327.1 472.4h1.2v1.2h-1.2zM297.5 493.7h1.2v1.2h-1.2zM294.7 499.2h1.2v1.2h-1.2zM328.8 471.5h1.2v1.2h-1.2zM326.9 473.3h1.2v1.2h-1.2zM298.5 492.9h1.2v1.2h-1.2zM338.6 465.0h1.2v1.2h-1.2zM335.1 467.5h1.2v1.2h-1.2zM310.3 484.1h1.2v1.2h-1.2zM305.8 487.4h1.2v1.2h-1.2zM301.2 489.9h1.2v1.2h-1.2zM314.9 481.7h1.2v1.2h-1.2zM303.9 488.5h1.2v1.2h-1.2zM362.9 446.8h1.2v1.2h-1.2zM310.1 486.7h1.2v1.2h-1.2zM303.2 491.1h1.2v1.2h-1.2zM336.0 467.2h1.2v1.2h-1.2zM297.2 497.4h1.2v1.2h-1.2zM320.6 477.9h1.2v1.2h-1.2zM305.9 488.0h1.2v1.2h-1.2zM297.8 493.9h1.2v1.2h-1.2zM337.8 462.7h1.2v1.2h-1.2zM325.7 475.0h1.2v1.2h-1.2zM293.7 497.4h1.2v1.2h-1.2zM294.7 495.6h1.2v1.2h-1.2zM362.2 444.2h1.2v1.2h-1.2zM316.1 478.6h1.2v1.2h-1.2zM290.7 498.2h1.2v1.2h-1.2zM312.1 481.8h1.2v1.2h-1.2zM309.8 488.0h1.2v1.2h-1.2zM303.1 490.5h1.2v1.2h-1.2zM346.4 458.1h1.2v1.2h-1.2zM289.7 500.6h1.2v1.2h-1.2zM310.0 484.1h1.2v1.2h-1.2zM337.9 462.5h1.2v1.2h-1.2zM301.5 492.1h1.2v1.2h-1.2zM295.7 494.7h1.2v1.2h-1.2zM302.1 490.9h1.2v1.2h-1.2zM303.7 489.5h1.2v1.2h-1.2zM304.9 489.2h1.2v1.2h-1.2zM306.1 487.8h1.2v1.2h-1.2zM293.8 497.5h1.2v1.2h-1.2zM310.9 482.8h1.2v1.2h-1.2zM328.4 469.8h1.2v1.2h-1.2zM345.9 458.9h1.2v1.2h-1.2zM313.7 481.8h1.2v1.2h-1.2zM319.3 478.2h1.2v1.2h-1.2zM309.3 487.3h1.2v1.2h-1.2zM299.7 493.4h1.2v1.2h-1.2zM334.6 467.1h1.2v1.2h-1.2zM333.7 469.5h1.2v1.2h-1.2zM302.5 492.8h1.2v1.2h-1.2zM293.2 498.6h1.2v1.2h-1.2zM308.7 485.1h1.2v1.2h-1.2zM302.3 490.7h1.2v1.2h-1.2zM311.2 484.1h1.2v1.2h-1.2zM315.7 483.4h1.2v1.2h-1.2zM301.9 490.2h1.2v1.2h-1.2zM295.0 496.2h1.2v1.2h-1.2zM351.4 452.7h1.2v1.2h-1.2zM323.1 474.5h1.2v1.2h-1.2z" fill="#003cff"/>
<path d="M364.7 337.5h1.2v1.2h-1.2zM382.1 326.3h1.2v1.2h-1.2zM371.8 334.1h1.2v1.2h-1.2zM359.6 342.6h1.2v1.2h-1.2zM383.2 325.6h1.2v1.2h-1.2zM373.0 332.6h1.2v1.2h-1.2zM365.7 338.5h1.2v1.2h-1.2zM378.1 329.9h1.2v1.2h-1.2zM363.0 339.5h1.2v1.2h-1.2zM355.8 346.7h1.2v1.2h-1.2zM374.4 330.8h1.2v1.2h-1.2zM369.2 334.3h1.2v1.2h-1.2zM362.7 340.2h1.2v1.2h-1.2zM378.4 328.4h1.2v1.2h-1.2zM365.8 337.4h1.2v1.2h-1.2zM377.6 329.6h1.2v1.2h-1.2zM381.9 325.6h1.2v1.2h-1.2zM371.3 332.5h1.2v1.2h-1.2zM378.2 328.9h1.2v1.2h-1.2zM378.2 328.9h1.2v1.2h-1.2zM377.2 329.8h1.2v1.2h-1.2zM379.6 325.7h1.2v1.2h-1.2zM373.2 332.4h1.2v1.2h-1.2zM371.9 331.6h1.2v1.2h-1.2zM375.0 330.2h1.2v1.2h-1.2zM381.8 326.7h1.2v1.2h-1.2zM350.1 348.3h1.2v1.2h-1.2zM375.2 331.0h1.2v1.2h-1.2zM378.4 329.0h1.2v1.2h-1.2zM338.0 359.1h1.2v1.2h-1.2zM353.8 346.3h1.2v1.2h-1.2zM356.5 345.7h1.2v1.2h-1.2zM379.7 325.2h1.2v1.2h-1.2zM374.7 332.2h1.2v1.2h-1.2zM373.3 331.7h1.2v1.2h-1.2zM375.1 331.7h1.2v1.2h-1.2zM376.9 327.9h1.2v1.2h-1.2zM369.2 334.6h1.2v1.2h-1.2zM372.0 332.1h1.2v1.2h-1.2zM376.6 329.8h1.2v1.2h-1.2zM364.9 335.9h1.2v1.2h-1.2zM361.2 342.0h1.2v1.2h-1.2zM384.4 324.6h1.2v1.2h-1.2zM349.4 350.8h1.2v1.2h-1.2zM382.1 325.8h1.2v1.2h-1.2zM372.3 332.4h1.2v1.2h-1.2zM347.4 351.0h1.2v1.2h-1.2zM367.7 334.6h1.2v1.2h-1.2zM380.2 325.3h1.2v1.2h-1.2zM344.2 355.0h1.2v1.2h-1.2zM376.5 330.9h1.2v1.2h-1.2zM380.3 328.2h1.2v1.2h-1.2zM384.8 324.4h1.2v1.2h-1.2zM359.4 343.9h1.2v1.2h-1.2zM361.8 339.1h1.2v1.2h-1.2zM350.7 349.3h1.2v1.2h-1.2zM376.7 327.7h1.2v1.2h-1.2zM371.7 333.4h1.2v1.2h-1.2zM378.2 329.5h1.2v1.2h-1.2zM367.4 336.9h1.2v1.2h-1.2zM367.0 334.8h1.2v1.2h-1.2zM372.1 334.1h1.2v1.2h-1.2zM383.7 325.5h1.2v1.2h-1.2zM363.4 337.3h1.2v1.2h-1.2zM356.4 346.1h1.2v1.2h-1.2zM364.4 339.8h1.2v1.2h-1.2zM367.4 335.9h1.2v1.2h-1.2zM345.6 353.8h1.2v1.2h-1.2zM350.2 350.4h1.2v1.2h-1.2zM355.7 346.6h1.2v1.2h-1.2z" fill="#ff4400"/>
<path d="M315.0 487.1h1.2v1.2h-1.2zM327.2 476.1h1.2v1.2h-1.2zM311.8 490.6h1.2v1.2h-1.2zM347.5 460.1h1.2v1.2h-1.2zM316.0 487.3h1.2v1.2h-1.2zM306.8 491.3h1.2v1.2h-1.2zM294.2 501.3h1.2v1.2h-1.2zM299.1 497.6h1.2v1.2h-1.2zM305.6 495.2h1.2v1.2h-1.2zM351.7 461.3h1.2v1.2h-1.2zM311.3 487.7h1.2v1.2h-1.2zM313.2 486.7h1.2v1.2h-1.2zM323.1 481.8h1.2v1.2h-1.2zM347.4 459.9h1.2v1.2h-1.2zM314.1 489.4h1.2v1.2h-1.2zM299.4 497.3h1.2v1.2h-1.2zM341.5 467.7h1.2v1.2h-1.2zM314.4 486.2h1.2v1.2h-1.2zM358.0 453.1h1.2v1.2h-1.2zM297.8 500.1h1.2v1.2h-1.2zM313.7 485.9h1.2v1.2h-1.2zM337.0 472.0h1.2v1.2h-1.2zM319.3 482.1h1.2v1.2h-1.2zM298.2 498.4h1.2v1.2h-1.2zM299.0 500.0h1.2v1.2h-1.2zM320.5 484.5h1.2v1.2h-1.2zM305.2 492.9h1.2v1.2h-1.2zM335.2 470.9h1.2v1.2h-1.2zM303.8 494.1h1.2v1.2h-1.2zM360.1 452.1h1.2v1.2h-1.2zM317.4 485.6h1.2v1.2h-1.2zM310.7 488.7h1.2v1.2h-1.2zM320.2 485.0h1.2v1.2h-1.2zM297.4 501.9h1.2v1.2h-1.2zM331.7 474.7h1.2v1.2h-1.2zM330.6 476.4h1.2v1.2h-1.2zM306.8 494.0h1.2v1.2h-1.2zM312.7 488.8h1.2v1.2h-1.2zM339.8 468.7h1.2v1.2h-1.2zM318.0 484.4h1.2v1.2h-1.2zM299.5 500.6h1.2v1.2h-1.2zM295.3 499.2h1.2v1.2h-1.2zM301.1 494.7h1.2v1.2h-1.2zM296.6 498.4h1.2v1.2h-1.2zM294.3 503.3h1.2v1.2h-1.2zM345.6 463.8h1.2v1.2h-1.2zM306.9 491.4h1.2v1.2h-1.2zM351.6 458.7h1.2v1.2h-1.2zM307.1 493.8h1.2v1.2h-1.2zM297.8 499.4h1.2v1.2h-1.2zM343.0 466.1h1.2v1.2h-1.2zM340.5 468.3h1.2v1.2h-1.2zM319.6 483.3h1.2v1.2h-1.2zM310.5 490.8h1.2v1.2h-1.2zM300.2 498.9h1.2v1.2h-1.2zM319.0 483.8h1.2v1.2h-1.2zM300.2 495.4h1.2v1.2h-1.2zM323.9 481.5h1.2v1.2h-1.2zM311.1 488.5h1.2v1.2h-1.2zM319.2 481.5h1.2v1.2h-1.2zM316.6 485.6h1.2v1.2h-1.2zM320.7 484.1h1.2v1.2h-1.2zM307.1 490.9h1.2v1.2h-1.2zM326.4 477.4h1.2v1.2h-1.2z" fill="#0017ff"/>
<path d="M305.0 473.8h1.2v1.2h-1.2zM303.9 474.8h1.2v1.2h-1.2zM421.9 387.6h1.2v1.2h-1.2zM277.6 495.9h1.2v1.2h-1.2zM363.4 430.3h1.2v1.2h-1.2zM310.0 472.8h1.2v1.2h-1.2zM276.9 494.7h1.2v1.2h-1.2zM344.0 447.8h1.2v1.2h-1.2zM313.7 467.1h1.2v1.2h-1.2zM289.4 488.7h1.2v1.2h-1.2zM291.9 482.8h1.2v1.2h-1.2zM294.2 482.7h1.2v1.2h-1.2zM415.8 392.8h1.2v1.2h-1.2zM289.0 488.9h1.2v1.2h-1.2zM294.9 484.3h1.2v1.2h-1.2zM328.8 458.6h1.2v1.2h-1.2zM298.7 481.9h1.2v1.2h-1.2zM281.9 490.2h1.2v1.2h-1.2zM373.3 425.8h1.2v1.2h-1.2zM402.5 403.5h1.2v1.2h-1.2zM282.7 489.1h1.2v1.2h-1.2zM324.5 459.9h1.2v1.2h-1.2zM424.4 385.6h1.2v1.2h-1.2zM412.3 394.7h1.2v1.2h-1.2zM396.5 406.5h1.2v1.2h-1.2zM358.5 435.6h1.2v1.2h-1.2zM341.2 446.3h1.2v1.2h-1.2zM300.6 478.3h1.2v1.2h-1.2zM301.0 477.2h1.2v1.2h-1.2zM295.7 481.9h1.2v1.2h-1.2zM336.3 452.4h1.2v1.2h-1.2zM295.6 482.2h1.2v1.2h-1.2zM304.0 477.2h1.2v1.2h-1.2zM278.7 493.2h1.2v1.2h-1.2zM344.5 444.0h1.2v1.2h-1.2zM301.8 474.8h1.2v1.2h-1.2zM287.7 489.0h1.2v1.2h-1.2zM401.9 401.1h1.2v1.2h-1.2zM309.0 471.1h1.2v1.2h-1.2zM364.6 427.6h1.2v1.2h-1.2zM355.6 438.8h1.2v1.2h-1.2zM302.4 476.9h1.2v1.2h-1.2zM300.9 479.2h1.2v1.2h-1.2zM296.0 479.1h1.2v1.2h-1.2zM313.6 467.2h1.2v1.2h-1.2zM359.4 436.3h1.2v1.2h-1.2zM277.7 497.6h1.2v1.2h-1.2zM376.6 419.8h1.2v1.2h-1.2zM296.5 481.7h1.2v1.2h-1.2zM300.7 477.0h1.2v1.2h-1.2zM290.0 486.0h1.2v1.2h-1.2zM326.1 460.6h1.2v1.2h-1.2zM304.7 475.0h1.2v1.2h-1.2zM279.3 491.7h1.2v1.2h-1.2zM298.8 481.1h1.2v1.2h-1.2zM424.0 386.6h1.2v1.2h-1.2zM423.0 386.8h1.2v1.2h-1.2zM291.4 483.7h1.2v1.2h-1.2zM390.0 412.2h1.2v1.2h-1.2zM291.3 482.8h1.2v1.2h-1.2zM338.4 448.1h1.2v1.2h-1.2zM354.2 439.6h1.2v1.2h-1.2zM292.5 482.3h1.2v1.2h-1.2zM369.8 428.2h1.2v1.2h-1.2zM369.9 426.9h1.2v1.2h-1.2zM417.2 392.9h1.2v1.2h-1.2zM410.5 396.7h1.2v1.2h-1.2zM300.2 479.8h1.2v1.2h-1.2zM402.5 402.9h1.2v1.2h-1.2zM280.0 495.7h1.2v1.2h-1.2zM369.1 428.2h1.2v1.2h-1.2zM302.9 476.3h1.2v1.2h-1.2zM310.9 468.5h1.2v1.2h-1.2zM348.6 441.2h1.2v1.2h-1.2zM295.2 484.1h1.2v1.2h-1.2zM296.6 482.6h1.2v1.2h-1.2zM315.5 466.7h1.2v1.2h-1.2zM377.5 422.5h1.2v1.2h-1.2zM385.6 414.0h1.2v1.2h-1.2zM381.6 419.1h1.2v1.2h-1.2zM401.5 400.1h1.2v1.2h-1.2zM363.9 431.4h1.2v1.2h-1.2zM292.5 485.8h1.2v1.2h-1.2zM292.3 483.8h1.2v1.2h-1.2zM278.5 493.0h1.2v1.2h-1.2zM346.5 442.6h1.2v1.2h-1.2zM357.8 437.4h1.2v1.2h-1.2zM305.6 474.4h1.2v1.2h-1.2zM348.7 442.1h1.2v1.2h-1.2zM310.2 473.0h1.2v1.2h-1.2zM288.2 487.9h1.2v1.2h-1.2zM329.6 455.5h1.2v1.2h-1.2zM385.6 415.9h1.2v1.2h-1.2zM351.0 441.6h1.2v1.2h-1.2zM286.7 489.8h1.2v1.2h-1.2zM403.0 398.8h1.2v1.2h-1.2zM361.1 432.9h1.2v1.2h-1.2zM340.4 446.5h1.2v1.2h-1.2zM323.7 458.4h1.2v1.2h-1.2zM356.1 438.5h1.2v1.2h-1.2zM338.2 450.0h1.2v1.2h-1.2zM333.5 451.3h1.2v1.2h-1.2zM296.5 480.3h1.2v1.2h-1.2zM372.0 425.9h1.2v1.2h-1.2zM324.9 460.5h1.2v1.2h-1.2zM420.3 387.0h1.2v1.2h-1.2zM296.3 478.9h1.2v1.2h-1.2zM287.9 487.9h1.2v1.2h-1.2zM314.5 467.4h1.2v1.2h-1.2zM342.6 444.9h1.2v1.2h-1.2zM422.1 384.9h1.2v1.2h-1.2zM305.9 475.9h1.2v1.2h-1.2zM279.8 492.0h1.2v1.2h-1.2zM325.1 460.7h1.2v1.2h-1.2zM379.2 417.6h1.2v1.2h-1.2zM390.1 412.0h1.2v1.2h-1.2zM277.2 494.7h1.2v1.2h-1.2zM420.4 388.6h1.2v1.2h-1.2zM298.2 482.2h1.2v1.2h-1.2zM292.5 484.8h1.2v1.2h-1.2zM395.5 405.6h1.2v1.2h-1.2zM295.7 482.5h1.2v1.2h-1.2zM373.3 421.1h1.2v1.2h-1.2zM311.3 472.1h1.2v1.2h-1.2zM308.4 474.5h1.2v1.2h-1.2zM307.0 474.4h1.2v1.2h-1.2zM284.5 488.5h1.2v1.2h-1.2zM309.8 470.0h1.2v1.2h-1.2zM300.0 479.0h1.2v1.2h-1.2zM295.2 482.6h1.2v1.2h-1.2zM285.8 489.5h1.2v1.2h-1.2zM412.1 393.2h1.2v1.2h-1.2zM279.4 491.6h1.2v1.2h-1.2zM294.0 481.0h1.2v1.2h-1.2zM393.4 407.2h1.2v1.2h-1.2zM403.8 400.7h1.2v1.2h-1.2zM378.1 421.9h1.2v1.2h-1.2zM291.2 485.1h1.2v1.2h-1.2zM293.4 485.6h1.2v1.2h-1.2zM293.0 485.7h1.2v1.2h-1.2zM397.0 406.0h1.2v1.2h-1.2zM302.7 476.9h1.2v1.2h-1.2zM331.1 455.0h1.2v1.2h-1.2zM316.4 467.4h1.2v1.2h-1.2zM294.0 483.4h1.2v1.2h-1.2zM296.7 482.7h1.2v1.2h-1.2zM361.0 431.7h1.2v1.2h-1.2zM318.4 465.1h1.2v1.2h-1.2zM297.7 478.8h1.2v1.2h-1.2zM353.3 438.5h1.2v1.2h-1.2zM276.4 495.3h1.2v1.2h-1.2zM331.3 452.6h1.2v1.2h-1.2zM293.5 485.8h1.2v1.2h-1.2zM385.3 415.7h1.2v1.2h-1.2zM311.5 468.2h1.2v1.2h-1.2zM289.5 486.9h1.2v1.2h-1.2zM382.1 418.4h1.2v1.2h-1.2zM299.3 481.3h1.2v1.2h-1.2zM351.7 440.3h1.2v1.2h-1.2zM294.2 482.8h1.2v1.2h-1.2zM304.7 473.6h1.2v1.2h-1.2zM307.9 472.1h1.2v1.2h-1.2zM337.7 452.2h1.2v1.2h-1.2zM399.6 404.1h1.2v1.2h-1.2zM398.9 403.5h1.2v1.2h-1.2zM277.9 493.9h1.2v1.2h-1.2zM402.1 403.7h1.2v1.2h-1.2zM302.2 476.6h1.2v1.2h-1.2zM306.8 475.3h1.2v1.2h-1.2zM306.4 474.8h1.2v1.2h-1.2zM280.7 491.4h1.2v1.2h-1.2zM338.4 451.0h1.2v1.2h-1.2zM343.9 443.7h1.2v1.2h-1.2zM283.0 489.3h1.2v1.2h-1.2zM290.5 485.1h1.2v1.2h-1.2zM296.3 480.2h1.2v1.2h-1.2zM286.3 487.6h1.2v1.2h-1.2zM284.2 490.4h1.2v1.2h-1.2zM305.9 473.1h1.2v1.2h-1.2zM298.8 478.8h1.2v1.2h-1.2zM327.9 459.0h1.2v1.2h-1.2zM353.7 436.7h1.2v1.2h-1.2zM331.4 456.2h1.2v1.2h-1.2zM380.2 419.8h1.2v1.2h-1.2zM298.9 477.8h1.2v1.2h-1.2zM304.5 474.3h1.2v1.2h-1.2zM294.2 482.5h1.2v1.2h-1.2zM400.1 405.0h1.2v1.2h-1.2zM307.0 471.9h1.2v1.2h-1.2zM411.1 395.9h1.2v1.2h-1.2zM346.2 446.0h1.2v1.2h-1.2zM347.1 441.3h1.2v1.2h-1.2zM400.0 403.6h1.2v1.2h-1.2zM296.4 481.4h1.2v1.2h-1.2zM387.4 411.6h1.2v1.2h-1.2zM294.5 483.4h1.2v1.2h-1.2zM347.0 441.7h1.2v1.2h-1.2zM300.6 477.1h1.2v1.2h-1.2zM409.7 396.5h1.2v1.2h-1.2zM306.3 475.6h1.2v1.2h-1.2zM305.7 474.7h1.2v1.2h-1.2zM315.1 466.1h1.2v1.2h-1.2zM298.8 480.8h1.2v1.2h-1.2z" fill="#00afff"/>
<path d="M324.6 489.4h1.2v1.2h-1.2zM331.7 483.4h1.2v1.2h-1.2zM312.7 496.9h1.2v1.2h-1.2zM325.9 488.7h1.2v1.2h-1.2zM316.1 494.4h1.2v1.2h-1.2zM337.0 478.6h1.2v1.2h-1.2zM332.1 484.3h1.2v1.2h-1.2zM339.7 476.6h1.2v1.2h-1.2z" fill="#3300ff"/></g>
<line x1="260.5" y1="495.8" x2="433" y2="315" stroke="#f03030" stroke-width="1" stroke-dasharray="3.5,2.5"/>
<line x1="303.8" y1="513.4" x2="445" y2="408" stroke="#333" stroke-width="0.9" stroke-dasharray="3,2.5"/>
<line x1="249.6" y1="475.5" x2="251.5" y2="475.5" stroke="#555" stroke-width="0.5"/>
<text x="248.8" y="477.6" font-size="6" text-anchor="end" style="fill:#4d4d4d;stroke:#4d4d4d;stroke-width:0.05px">30</text>
<line x1="249.6" y1="426.9" x2="251.5" y2="426.9" stroke="#555" stroke-width="0.5"/>
<text x="248.8" y="429.0" font-size="6" text-anchor="end" style="fill:#4d4d4d;stroke:#4d4d4d;stroke-width:0.05px">40</text>
<line x1="249.6" y1="378.3" x2="251.5" y2="378.3" stroke="#555" stroke-width="0.5"/>
<text x="248.8" y="380.4" font-size="6" text-anchor="end" style="fill:#4d4d4d;stroke:#4d4d4d;stroke-width:0.05px">50</text>
<line x1="249.6" y1="329.7" x2="251.5" y2="329.7" stroke="#555" stroke-width="0.5"/>
<text x="248.8" y="331.8" font-size="6" text-anchor="end" style="fill:#4d4d4d;stroke:#4d4d4d;stroke-width:0.05px">60</text>
<line x1="258.7" y1="514.1" x2="258.7" y2="516" stroke="#555" stroke-width="0.5"/>
<text x="258.7" y="521.6" font-size="6" text-anchor="middle" style="fill:#4d4d4d;stroke:#4d4d4d;stroke-width:0.05px">15</text>
<line x1="291.1" y1="514.1" x2="291.1" y2="516" stroke="#555" stroke-width="0.5"/>
<text x="291.1" y="521.6" font-size="6" text-anchor="middle" style="fill:#4d4d4d;stroke:#4d4d4d;stroke-width:0.05px">20</text>
<line x1="323.4" y1="514.1" x2="323.4" y2="516" stroke="#555" stroke-width="0.5"/>
<text x="323.4" y="521.6" font-size="6" text-anchor="middle" style="fill:#4d4d4d;stroke:#4d4d4d;stroke-width:0.05px">25</text>
<line x1="355.8" y1="514.1" x2="355.8" y2="516" stroke="#555" stroke-width="0.5"/>
<text x="355.8" y="521.6" font-size="6" text-anchor="middle" style="fill:#4d4d4d;stroke:#4d4d4d;stroke-width:0.05px">30</text>
<line x1="388.1" y1="514.1" x2="388.1" y2="516" stroke="#555" stroke-width="0.5"/>
<text x="388.1" y="521.6" font-size="6" text-anchor="middle" style="fill:#4d4d4d;stroke:#4d4d4d;stroke-width:0.05px">35</text>
<line x1="420.4" y1="514.1" x2="420.4" y2="516" stroke="#555" stroke-width="0.5"/>
<text x="420.4" y="521.6" font-size="6" text-anchor="middle" style="fill:#4d4d4d;stroke:#4d4d4d;stroke-width:0.05px">40</text>
<text x="348.5" y="530.3" font-size="8.6" text-anchor="middle">Observed</text>
<text transform="translate(240.8,408.5) rotate(-90)" font-size="8.4" text-anchor="middle">Predicted</text>
<text x="257.2" y="317" font-size="9.5"><tspan font-style="italic">Obs</tspan> = 0.561<tspan font-style="italic" dx="1">Pred</tspan> + 4.164</text>
<text x="257.2" y="329.9" font-size="9.5">R<tspan font-size="5.5" dy="-3.6">2</tspan><tspan dy="3.6"> =0.786</tspan></text>
<text x="257.2" y="342.5" font-size="9.5">RMSE =3.02 μg/m<tspan font-size="5.5" dy="-3.6">3</tspan></text>
<text x="257.2" y="355.2" font-size="9.5">MAD=2.49 μg/m<tspan font-size="5.5" dy="-3.6">3</tspan></text>
<text x="432.7" y="319.6" font-size="17" class="t">d</text>
<linearGradient id="lgr" x1="0" y1="0" x2="0" y2="1"><stop offset="0.000" stop-color="#ff00ff"/><stop offset="0.042" stop-color="#da00ff"/><stop offset="0.083" stop-color="#b000ff"/><stop offset="0.125" stop-color="#8400ff"/><stop offset="0.167" stop-color="#5600ff"/><stop offset="0.208" stop-color="#2700ff"/><stop offset="0.250" stop-color="#0009ff"/><stop offset="0.292" stop-color="#0039ff"/><stop offset="0.333" stop-color="#006bff"/><stop offset="0.375" stop-color="#009dff"/><stop offset="0.417" stop-color="#00cfff"/><stop offset="0.458" stop-color="#00fffc"/><stop offset="0.500" stop-color="#00ffc8"/><stop offset="0.542" stop-color="#00ff94"/><stop offset="0.583" stop-color="#00ff60"/><stop offset="0.625" stop-color="#00ff2b"/><stop offset="0.667" stop-color="#0aff00"/><stop offset="0.708" stop-color="#40ff00"/><stop offset="0.750" stop-color="#76ff00"/><stop offset="0.792" stop-color="#acff00"/><stop offset="0.833" stop-color="#e2ff00"/><stop offset="0.875" stop-color="#ffe500"/><stop offset="0.917" stop-color="#ffae00"/><stop offset="0.958" stop-color="#ff7700"/><stop offset="1.000" stop-color="#ff4000"/></linearGradient>
<text x="407.8" y="463.1" font-size="6.8">Residual</text>
<rect x="410" y="467.1" width="8.9" height="44.3" fill="url(#lgr)"/>
<line x1="410" y1="473" x2="411.6" y2="473" stroke="#fff" stroke-width="0.5"/><line x1="417.3" y1="473" x2="418.9" y2="473" stroke="#fff" stroke-width="0.5"/>
<text x="420.9" y="475.2" font-size="6.3" style="fill:#4d4d4d;stroke:#4d4d4d;stroke-width:0.05px">0</text>
<line x1="410" y1="487.2" x2="411.6" y2="487.2" stroke="#fff" stroke-width="0.5"/><line x1="417.3" y1="487.2" x2="418.9" y2="487.2" stroke="#fff" stroke-width="0.5"/>
<text x="420.9" y="489.4" font-size="6.3" style="fill:#4d4d4d;stroke:#4d4d4d;stroke-width:0.05px">-10</text>
<line x1="410" y1="501.4" x2="411.6" y2="501.4" stroke="#fff" stroke-width="0.5"/><line x1="417.3" y1="501.4" x2="418.9" y2="501.4" stroke="#fff" stroke-width="0.5"/>
<text x="420.9" y="503.59999999999997" font-size="6.3" style="fill:#4d4d4d;stroke:#4d4d4d;stroke-width:0.05px">-20</text>
</svg></body></html>
